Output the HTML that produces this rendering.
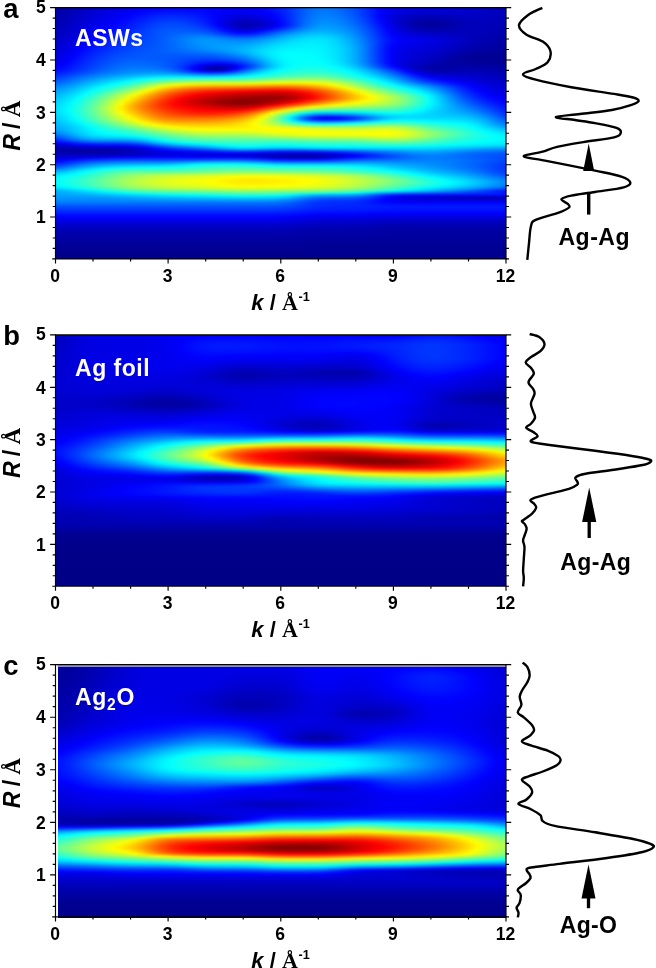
<!DOCTYPE html>
<html><head><meta charset="utf-8"><title>WT-EXAFS</title>
<style>
html,body{margin:0;padding:0;background:#fff}
body{width:656px;height:968px;position:relative;overflow:hidden;font-family:"Liberation Sans",Arial,sans-serif}
.hm{position:absolute;overflow:hidden;background:#00008f}
.hm .in{position:absolute;left:0;right:0;top:-6px;filter:url(#vb)}
.hm i{display:block;height:2px;width:100%}
svg{position:absolute;left:0;top:0}
text{font-family:"Liberation Sans",Arial,sans-serif;font-weight:bold;fill:#000}
.tk{font-size:17.5px}
.ti{font-size:22px}
.an{font-size:23px}
.pl{font-size:27.4px}
.se{font-family:"Liberation Serif","Times New Roman",serif}
</style></head><body>
<div class="hm" style="left:56px;top:8px;width:450px;height:251px"><div class="in">
<i style="background:linear-gradient(90deg,#0000a5,#0000ab,#0000b1,#0000b9,#0000c0,#0000c8,#0000ce,#0000d5,#0000da,#0000e0,#0000e4,#0000e9,#0000ed,#0000f2,#0000f6,#0000fa,#0000fd,#0001ff,#0003ff,#0004ff,#0005ff,#0005ff,#0005ff,#0005ff,#0005ff,#0004ff,#0003ff,#0002ff,#0000ff,#0000fe,#0000fd,#0000fd,#0000fe,#0001ff,#0005ff,#000bff,#0012ff,#001bff,#0027ff,#0035ff,#0046ff,#0056ff,#0064ff,#006eff,#0074ff,#0074ff,#0070ff,#0069ff,#0060ff,#0055ff,#0047ff,#0038ff,#0027ff,#0016ff,#0007ff,#0000f9,#0000f0,#0000ea,#0000e7,#0000e6,#0000e6,#0000e5,#0000e4,#0000e3,#0000e1,#0000df,#0000dc,#0000d8,#0000d4,#0000d1,#0000cd,#0000ca,#0000c7,#0000c4,#0000c1,#0000bf)"></i>
<i style="background:linear-gradient(90deg,#0000a5,#0000ab,#0000b1,#0000b9,#0000c0,#0000c8,#0000ce,#0000d5,#0000da,#0000e0,#0000e4,#0000e9,#0000ed,#0000f2,#0000f6,#0000fa,#0000fd,#0001ff,#0003ff,#0004ff,#0005ff,#0005ff,#0005ff,#0005ff,#0005ff,#0004ff,#0003ff,#0002ff,#0000ff,#0000fe,#0000fd,#0000fd,#0000fe,#0001ff,#0005ff,#000bff,#0012ff,#001bff,#0027ff,#0035ff,#0046ff,#0056ff,#0064ff,#006eff,#0074ff,#0074ff,#0070ff,#0069ff,#0060ff,#0055ff,#0047ff,#0038ff,#0027ff,#0016ff,#0007ff,#0000f9,#0000f0,#0000ea,#0000e7,#0000e6,#0000e6,#0000e5,#0000e4,#0000e3,#0000e1,#0000df,#0000dc,#0000d8,#0000d4,#0000d1,#0000cd,#0000ca,#0000c7,#0000c4,#0000c1,#0000bf)"></i>
<i style="background:linear-gradient(90deg,#0000a5,#0000ab,#0000b1,#0000b9,#0000c0,#0000c8,#0000ce,#0000d5,#0000da,#0000e0,#0000e4,#0000e9,#0000ed,#0000f2,#0000f6,#0000fa,#0000fd,#0001ff,#0003ff,#0004ff,#0005ff,#0005ff,#0005ff,#0005ff,#0005ff,#0004ff,#0003ff,#0002ff,#0000ff,#0000fe,#0000fd,#0000fd,#0000fe,#0001ff,#0005ff,#000bff,#0012ff,#001bff,#0027ff,#0035ff,#0046ff,#0056ff,#0064ff,#006eff,#0074ff,#0074ff,#0070ff,#0069ff,#0060ff,#0055ff,#0047ff,#0038ff,#0027ff,#0016ff,#0007ff,#0000f9,#0000f0,#0000ea,#0000e7,#0000e6,#0000e6,#0000e5,#0000e4,#0000e3,#0000e1,#0000df,#0000dc,#0000d8,#0000d4,#0000d1,#0000cd,#0000ca,#0000c7,#0000c4,#0000c1,#0000bf)"></i>
<i style="background:linear-gradient(90deg,#0000a5,#0000ab,#0000b1,#0000b9,#0000c0,#0000c8,#0000ce,#0000d5,#0000da,#0000e0,#0000e4,#0000e9,#0000ed,#0000f2,#0000f6,#0000fa,#0000fd,#0001ff,#0003ff,#0004ff,#0005ff,#0005ff,#0005ff,#0005ff,#0005ff,#0004ff,#0003ff,#0002ff,#0000ff,#0000fe,#0000fd,#0000fd,#0000fe,#0001ff,#0005ff,#000bff,#0012ff,#001bff,#0027ff,#0035ff,#0046ff,#0056ff,#0064ff,#006eff,#0074ff,#0074ff,#0070ff,#0069ff,#0060ff,#0055ff,#0047ff,#0038ff,#0027ff,#0016ff,#0007ff,#0000f9,#0000f0,#0000ea,#0000e7,#0000e6,#0000e6,#0000e5,#0000e4,#0000e3,#0000e1,#0000df,#0000dc,#0000d8,#0000d4,#0000d1,#0000cd,#0000ca,#0000c7,#0000c4,#0000c1,#0000bf)"></i>
<i style="background:linear-gradient(90deg,#0000a7,#0000ac,#0000b3,#0000ba,#0000c2,#0000ca,#0000d1,#0000d7,#0000dd,#0000e3,#0000e8,#0000ee,#0000f3,#0000f8,#0000fd,#0003ff,#0007ff,#000aff,#000dff,#000eff,#000eff,#000eff,#000cff,#000bff,#0008ff,#0006ff,#0003ff,#0000fe,#0000fb,#0000f8,#0000f5,#0000f4,#0000f5,#0000f8,#0000fd,#0004ff,#000cff,#0017ff,#0024ff,#0034ff,#0045ff,#0056ff,#0066ff,#0071ff,#0077ff,#0077ff,#0074ff,#006dff,#0063ff,#0058ff,#004aff,#003aff,#0028ff,#0016ff,#0004ff,#0000f5,#0000ea,#0000e2,#0000de,#0000db,#0000d9,#0000d8,#0000d7,#0000d6,#0000d4,#0000d3,#0000d1,#0000d0,#0000ce,#0000cc,#0000ca,#0000c7,#0000c5,#0000c2,#0000c0,#0000be)"></i>
<i style="background:linear-gradient(90deg,#0000a8,#0000ae,#0000b5,#0000bc,#0000c4,#0000cc,#0000d3,#0000da,#0000e0,#0000e6,#0000ec,#0000f2,#0000f8,#0000fe,#0005ff,#000aff,#0010ff,#0014ff,#0017ff,#0018ff,#0018ff,#0016ff,#0014ff,#0011ff,#000dff,#0008ff,#0003ff,#0000fc,#0000f7,#0000f2,#0000ee,#0000ec,#0000ed,#0000ef,#0000f5,#0000fc,#0006ff,#0012ff,#0021ff,#0032ff,#0045ff,#0057ff,#0068ff,#0073ff,#007aff,#007bff,#0077ff,#0070ff,#0067ff,#005bff,#004dff,#003cff,#0029ff,#0016ff,#0003ff,#0000f1,#0000e4,#0000db,#0000d4,#0000d0,#0000cd,#0000cb,#0000ca,#0000c9,#0000c9,#0000c9,#0000c9,#0000c9,#0000c9,#0000c8,#0000c7,#0000c5,#0000c3,#0000c1,#0000be,#0000bc)"></i>
<i style="background:linear-gradient(90deg,#0000aa,#0000af,#0000b6,#0000be,#0000c6,#0000ce,#0000d6,#0000dd,#0000e4,#0000ea,#0000f0,#0000f6,#0000fd,#0004ff,#000bff,#0012ff,#0018ff,#001dff,#0020ff,#0022ff,#0021ff,#001fff,#001cff,#0017ff,#0012ff,#000bff,#0004ff,#0000fb,#0000f3,#0000ec,#0000e6,#0000e3,#0000e3,#0000e6,#0000ec,#0000f5,#0000ff,#000eff,#001eff,#0030ff,#0045ff,#0058ff,#006aff,#0076ff,#007dff,#007eff,#007bff,#0074ff,#006bff,#005fff,#0050ff,#003fff,#002bff,#0017ff,#0002ff,#0000ef,#0000e1,#0000d5,#0000cd,#0000c7,#0000c3,#0000c1,#0000bf,#0000bf,#0000bf,#0000c0,#0000c2,#0000c3,#0000c4,#0000c4,#0000c4,#0000c3,#0000c1,#0000bf,#0000bd,#0000bb)"></i>
<i style="background:linear-gradient(90deg,#0000ab,#0000b1,#0000b8,#0000c0,#0000c9,#0000d1,#0000d9,#0000e0,#0000e7,#0000ee,#0000f4,#0000fb,#0003ff,#000aff,#0011ff,#0019ff,#0020ff,#0025ff,#0029ff,#002bff,#002aff,#0028ff,#0023ff,#001eff,#0017ff,#000fff,#0006ff,#0000fa,#0000ef,#0000e6,#0000de,#0000da,#0000da,#0000dd,#0000e4,#0000ed,#0000f9,#0009ff,#001bff,#002fff,#0045ff,#005aff,#006cff,#0079ff,#0081ff,#0083ff,#007fff,#0079ff,#006fff,#0063ff,#0054ff,#0042ff,#002eff,#0018ff,#0003ff,#0000ef,#0000de,#0000d2,#0000c8,#0000c1,#0000bb,#0000b8,#0000b6,#0000b5,#0000b6,#0000b9,#0000bb,#0000be,#0000c0,#0000c1,#0000c1,#0000c0,#0000bf,#0000bd,#0000bb,#0000b9)"></i>
<i style="background:linear-gradient(90deg,#0000ad,#0000b3,#0000ba,#0000c3,#0000cb,#0000d4,#0000dc,#0000e3,#0000ea,#0000f1,#0000f8,#0000ff,#0008ff,#000fff,#0018ff,#0020ff,#0027ff,#002eff,#0032ff,#0033ff,#0033ff,#0030ff,#002bff,#0025ff,#001dff,#0013ff,#0007ff,#0000f8,#0000ea,#0000dd,#0000d3,#0000ce,#0000cd,#0000d1,#0000d9,#0000e4,#0000f2,#0004ff,#0017ff,#002dff,#0045ff,#005bff,#006fff,#007dff,#0085ff,#0087ff,#0084ff,#007dff,#0074ff,#0067ff,#0058ff,#0046ff,#0032ff,#001bff,#0005ff,#0000ef,#0000dd,#0000cf,#0000c3,#0000ba,#0000b4,#0000af,#0000ad,#0000ac,#0000ae,#0000b1,#0000b5,#0000b9,#0000bc,#0000be,#0000be,#0000be,#0000bd,#0000bb,#0000b9,#0000b8)"></i>
<i style="background:linear-gradient(90deg,#0000af,#0000b5,#0000bd,#0000c5,#0000ce,#0000d6,#0000df,#0000e6,#0000ee,#0000f5,#0000fc,#0005ff,#000cff,#0015ff,#001dff,#0026ff,#002eff,#0035ff,#003aff,#003cff,#003bff,#0038ff,#0033ff,#002cff,#0023ff,#0017ff,#0009ff,#0000f7,#0000e5,#0000d4,#0000c8,#0000c0,#0000be,#0000c3,#0000cc,#0000d9,#0000ea,#0000fd,#0014ff,#002cff,#0045ff,#005dff,#0072ff,#0081ff,#0089ff,#008cff,#0089ff,#0082ff,#0079ff,#006cff,#005dff,#004bff,#0036ff,#001fff,#0008ff,#0000f1,#0000de,#0000ce,#0000c0,#0000b6,#0000ad,#0000a7,#0000a4,#0000a4,#0000a6,#0000ab,#0000b0,#0000b5,#0000b9,#0000bb,#0000bc,#0000bc,#0000bb,#0000ba,#0000b8,#0000b6)"></i>
<i style="background:linear-gradient(90deg,#0000b1,#0000b7,#0000bf,#0000c8,#0000d0,#0000d9,#0000e2,#0000ea,#0000f1,#0000f9,#0001ff,#0009ff,#0011ff,#001aff,#0023ff,#002cff,#0035ff,#003cff,#0041ff,#0043ff,#0043ff,#0040ff,#003bff,#0034ff,#002aff,#001dff,#000dff,#0000f8,#0000e3,#0000cf,#0000bf,#0000b6,#0000b3,#0000b8,#0000c2,#0000d1,#0000e3,#0000f7,#0010ff,#002aff,#0045ff,#005fff,#0075ff,#0085ff,#008eff,#0090ff,#008eff,#0087ff,#007eff,#0072ff,#0063ff,#0051ff,#003bff,#0024ff,#000dff,#0000f5,#0000e1,#0000cf,#0000c0,#0000b3,#0000a9,#0000a2,#00009f,#00009e,#0000a1,#0000a6,#0000ac,#0000b2,#0000b6,#0000b9,#0000bb,#0000bb,#0000ba,#0000b8,#0000b6,#0000b5)"></i>
<i style="background:linear-gradient(90deg,#0000b3,#0000ba,#0000c1,#0000ca,#0000d3,#0000dc,#0000e5,#0000ed,#0000f5,#0000fd,#0005ff,#000dff,#0016ff,#001fff,#0028ff,#0032ff,#003bff,#0042ff,#0048ff,#004aff,#004aff,#0048ff,#0043ff,#003cff,#0032ff,#0025ff,#0014ff,#0000fd,#0000e6,#0000d0,#0000bf,#0000b4,#0000b1,#0000b5,#0000bf,#0000ce,#0000e1,#0000f6,#0010ff,#002aff,#0046ff,#0061ff,#0078ff,#0089ff,#0093ff,#0096ff,#0093ff,#008dff,#0084ff,#0078ff,#0069ff,#0057ff,#0042ff,#002aff,#0012ff,#0000fa,#0000e5,#0000d2,#0000c2,#0000b5,#0000aa,#0000a2,#00009e,#00009d,#0000a0,#0000a5,#0000ab,#0000b1,#0000b6,#0000b9,#0000ba,#0000ba,#0000b9,#0000b7,#0000b5,#0000b3)"></i>
<i style="background:linear-gradient(90deg,#0000b6,#0000bc,#0000c4,#0000cd,#0000d6,#0000df,#0000e8,#0000f1,#0000f9,#0002ff,#0009ff,#0012ff,#001aff,#0023ff,#002dff,#0037ff,#0040ff,#0048ff,#004dff,#0050ff,#0051ff,#004fff,#004bff,#0045ff,#003cff,#002fff,#001eff,#0009ff,#0000f1,#0000db,#0000c9,#0000be,#0000bb,#0000c0,#0000cb,#0000db,#0000ee,#0005ff,#001dff,#0037ff,#0052ff,#006cff,#0081ff,#0091ff,#009aff,#009cff,#009aff,#0093ff,#008aff,#007eff,#006fff,#005dff,#0047ff,#0030ff,#0018ff,#0000ff,#0000ea,#0000d8,#0000c8,#0000ba,#0000af,#0000a8,#0000a3,#0000a2,#0000a4,#0000a8,#0000ae,#0000b3,#0000b7,#0000b9,#0000ba,#0000ba,#0000b9,#0000b7,#0000b4,#0000b2)"></i>
<i style="background:linear-gradient(90deg,#0000b8,#0000bf,#0000c7,#0000d0,#0000d9,#0000e3,#0000ec,#0000f4,#0000fd,#0006ff,#000eff,#0016ff,#001eff,#0028ff,#0032ff,#003cff,#0045ff,#004dff,#0052ff,#0055ff,#0056ff,#0055ff,#0052ff,#004eff,#0046ff,#003bff,#002cff,#0018ff,#0002ff,#0000ec,#0000db,#0000d1,#0000d0,#0000d6,#0000e4,#0000f5,#000bff,#0021ff,#0038ff,#0050ff,#0068ff,#007dff,#008fff,#009cff,#00a3ff,#00a4ff,#00a1ff,#009aff,#0090ff,#0084ff,#0075ff,#0062ff,#004dff,#0035ff,#001dff,#0005ff,#0000f0,#0000de,#0000cf,#0000c3,#0000b9,#0000b2,#0000ae,#0000ac,#0000ad,#0000b0,#0000b3,#0000b6,#0000b9,#0000ba,#0000ba,#0000b9,#0000b7,#0000b5,#0000b3,#0000b0)"></i>
<i style="background:linear-gradient(90deg,#0000bb,#0000c1,#0000ca,#0000d3,#0000dd,#0000e6,#0000ef,#0000f8,#0001ff,#000aff,#0012ff,#001aff,#0023ff,#002cff,#0036ff,#0040ff,#0049ff,#0051ff,#0056ff,#005aff,#005bff,#005bff,#005aff,#0057ff,#0052ff,#0049ff,#003cff,#002aff,#0016ff,#0003ff,#0000f3,#0000ea,#0000eb,#0000f3,#0004ff,#0018ff,#002eff,#0044ff,#005aff,#006fff,#0082ff,#0093ff,#00a0ff,#00a9ff,#00aeff,#00adff,#00a9ff,#00a2ff,#0098ff,#008bff,#007bff,#0067ff,#0051ff,#0039ff,#0021ff,#000aff,#0000f5,#0000e4,#0000d7,#0000cc,#0000c4,#0000bd,#0000b9,#0000b8,#0000b7,#0000b8,#0000b9,#0000ba,#0000bb,#0000bb,#0000ba,#0000b9,#0000b6,#0000b4,#0000b1,#0000af)"></i>
<i style="background:linear-gradient(90deg,#0000be,#0000c4,#0000cd,#0000d6,#0000e0,#0000ea,#0000f3,#0000fc,#0005ff,#000eff,#0016ff,#001eff,#0027ff,#0030ff,#0039ff,#0042ff,#004bff,#0053ff,#0059ff,#005eff,#0061ff,#0063ff,#0064ff,#0064ff,#0061ff,#005bff,#0050ff,#0040ff,#002eff,#001cff,#000eff,#0007ff,#0008ff,#0013ff,#0024ff,#003aff,#0051ff,#0067ff,#007bff,#008dff,#009dff,#00aaff,#00b3ff,#00baff,#00bcff,#00baff,#00b4ff,#00acff,#00a0ff,#0092ff,#0081ff,#006dff,#0056ff,#003dff,#0025ff,#000fff,#0000fa,#0000eb,#0000df,#0000d5,#0000ce,#0000c8,#0000c4,#0000c1,#0000c0,#0000bf,#0000be,#0000bd,#0000bd,#0000bb,#0000ba,#0000b7,#0000b5,#0000b2,#0000af,#0000ad)"></i>
<i style="background:linear-gradient(90deg,#0000c0,#0000c7,#0000d0,#0000d9,#0000e3,#0000ed,#0000f7,#0001ff,#0009ff,#0012ff,#001aff,#0022ff,#002aff,#0033ff,#003bff,#0043ff,#004cff,#0053ff,#005bff,#0061ff,#0068ff,#006dff,#0071ff,#0074ff,#0074ff,#0070ff,#0068ff,#005bff,#004cff,#003dff,#0031ff,#002cff,#002eff,#0038ff,#0048ff,#005cff,#0070ff,#0084ff,#0096ff,#00a5ff,#00b3ff,#00bdff,#00c5ff,#00caff,#00cbff,#00c8ff,#00c1ff,#00b7ff,#00aaff,#009aff,#0088ff,#0073ff,#005bff,#0042ff,#0029ff,#0013ff,#0001ff,#0000f2,#0000e8,#0000e0,#0000d9,#0000d4,#0000d0,#0000cc,#0000c9,#0000c6,#0000c4,#0000c1,#0000be,#0000bc,#0000b9,#0000b6,#0000b3,#0000b0,#0000ad,#0000ab)"></i>
<i style="background:linear-gradient(90deg,#0000c3,#0000ca,#0000d3,#0000dc,#0000e7,#0000f1,#0000fa,#0005ff,#000dff,#0016ff,#001eff,#0026ff,#002eff,#0036ff,#003dff,#0045ff,#004cff,#0054ff,#005cff,#0064ff,#006cff,#0075ff,#007cff,#0082ff,#0085ff,#0085ff,#0080ff,#0077ff,#006dff,#0062ff,#005aff,#0056ff,#0058ff,#0060ff,#006dff,#007cff,#008cff,#009cff,#00abff,#00b8ff,#00c3ff,#00cdff,#00d4ff,#00d8ff,#00d8ff,#00d4ff,#00cdff,#00c1ff,#00b3ff,#00a2ff,#008eff,#0078ff,#005fff,#0046ff,#002dff,#0018ff,#0006ff,#0000f9,#0000f0,#0000e9,#0000e4,#0000e0,#0000dc,#0000d7,#0000d3,#0000ce,#0000c9,#0000c5,#0000c0,#0000bc,#0000b8,#0000b4,#0000b1,#0000ae,#0000ab,#0000a9)"></i>
<i style="background:linear-gradient(90deg,#0000c6,#0000cd,#0000d6,#0000e0,#0000ea,#0000f5,#0000fe,#0009ff,#0012ff,#001aff,#0022ff,#002aff,#0032ff,#0039ff,#0040ff,#0047ff,#004eff,#0055ff,#005dff,#0066ff,#0070ff,#0079ff,#0083ff,#008bff,#0090ff,#0093ff,#0091ff,#008dff,#0087ff,#0080ff,#007cff,#007aff,#007cff,#0083ff,#008cff,#0098ff,#00a5ff,#00b1ff,#00bdff,#00c8ff,#00d2ff,#00daff,#00e0ff,#00e3ff,#00e3ff,#00deff,#00d6ff,#00caff,#00baff,#00a9ff,#0094ff,#007dff,#0063ff,#0049ff,#0030ff,#001aff,#000aff,#0000fd,#0000f5,#0000f0,#0000ec,#0000e8,#0000e4,#0000df,#0000da,#0000d4,#0000ce,#0000c8,#0000c2,#0000bd,#0000b8,#0000b3,#0000af,#0000ac,#0000a9,#0000a7)"></i>
<i style="background:linear-gradient(90deg,#0000c8,#0000d0,#0000d9,#0000e3,#0000ee,#0000f9,#0004ff,#000dff,#0016ff,#001eff,#0026ff,#002eff,#0035ff,#003cff,#0043ff,#0049ff,#0050ff,#0056ff,#005eff,#0066ff,#0070ff,#007aff,#0084ff,#008dff,#0093ff,#0097ff,#0097ff,#0095ff,#0092ff,#008fff,#008dff,#008dff,#0090ff,#0097ff,#00a0ff,#00abff,#00b7ff,#00c2ff,#00ccff,#00d5ff,#00ddff,#00e3ff,#00e8ff,#00e9ff,#00e8ff,#00e3ff,#00dbff,#00ceff,#00bfff,#00adff,#0098ff,#0080ff,#0066ff,#004bff,#0032ff,#001cff,#000bff,#0000fe,#0000f6,#0000f1,#0000ed,#0000e9,#0000e5,#0000e1,#0000db,#0000d5,#0000cf,#0000c8,#0000c2,#0000bc,#0000b7,#0000b2,#0000ae,#0000aa,#0000a7,#0000a5)"></i>
<i style="background:linear-gradient(90deg,#0000cb,#0000d3,#0000dc,#0000e7,#0000f2,#0000fd,#0008ff,#0011ff,#001aff,#0023ff,#002bff,#0032ff,#0039ff,#003fff,#0046ff,#004bff,#0051ff,#0057ff,#005eff,#0067ff,#0070ff,#007aff,#0083ff,#008cff,#0093ff,#0097ff,#0099ff,#0099ff,#0099ff,#0098ff,#0098ff,#009aff,#009fff,#00a6ff,#00afff,#00baff,#00c5ff,#00d0ff,#00d8ff,#00e0ff,#00e5ff,#00eaff,#00edff,#00eeff,#00ecff,#00e7ff,#00deff,#00d2ff,#00c3ff,#00b2ff,#009cff,#0084ff,#0069ff,#004cff,#0031ff,#001aff,#0009ff,#0000fb,#0000f3,#0000ee,#0000ea,#0000e7,#0000e3,#0000de,#0000d9,#0000d3,#0000cd,#0000c6,#0000c0,#0000ba,#0000b5,#0000b0,#0000ac,#0000a8,#0000a5,#0000a3)"></i>
<i style="background:linear-gradient(90deg,#0000ce,#0000d6,#0000e0,#0000eb,#0000f6,#0002ff,#000cff,#0016ff,#001fff,#0027ff,#002fff,#0036ff,#003dff,#0043ff,#0048ff,#004eff,#0053ff,#0058ff,#005fff,#0066ff,#006eff,#0078ff,#0081ff,#0089ff,#0090ff,#0096ff,#0099ff,#009cff,#009dff,#009fff,#00a1ff,#00a5ff,#00abff,#00b3ff,#00bdff,#00c8ff,#00d2ff,#00dbff,#00e2ff,#00e8ff,#00ecff,#00efff,#00f1ff,#00f1ff,#00eeff,#00e9ff,#00e1ff,#00d6ff,#00c7ff,#00b5ff,#00a0ff,#0087ff,#006aff,#004cff,#0030ff,#0017ff,#0005ff,#0000f7,#0000ef,#0000e9,#0000e6,#0000e2,#0000df,#0000da,#0000d5,#0000cf,#0000c9,#0000c2,#0000bc,#0000b7,#0000b1,#0000ad,#0000a9,#0000a5,#0000a2,#0000a0)"></i>
<i style="background:linear-gradient(90deg,#0000d0,#0000d9,#0000e3,#0000ef,#0000fa,#0007ff,#0011ff,#001bff,#0024ff,#002cff,#0033ff,#003aff,#0041ff,#0046ff,#004bff,#0050ff,#0055ff,#0059ff,#005fff,#0065ff,#006dff,#0075ff,#007dff,#0085ff,#008dff,#0093ff,#0098ff,#009cff,#00a0ff,#00a4ff,#00a8ff,#00aeff,#00b5ff,#00beff,#00c8ff,#00d3ff,#00dcff,#00e4ff,#00eaff,#00eeff,#00f1ff,#00f3ff,#00f4ff,#00f3ff,#00f1ff,#00ecff,#00e4ff,#00d9ff,#00caff,#00b9ff,#00a3ff,#0089ff,#006bff,#004cff,#002eff,#0014ff,#0000ff,#0000f2,#0000e9,#0000e4,#0000e0,#0000dd,#0000da,#0000d5,#0000d0,#0000ca,#0000c4,#0000bd,#0000b7,#0000b2,#0000ad,#0000a9,#0000a5,#0000a2,#00009f,#00009e)"></i>
<i style="background:linear-gradient(90deg,#0000d3,#0000dc,#0000e7,#0000f3,#0000ff,#000bff,#0016ff,#0020ff,#0028ff,#0031ff,#0038ff,#003fff,#0045ff,#004aff,#004eff,#0052ff,#0056ff,#005bff,#005fff,#0065ff,#006bff,#0072ff,#0079ff,#0080ff,#0088ff,#008eff,#0095ff,#009aff,#00a0ff,#00a5ff,#00abff,#00b3ff,#00bcff,#00c6ff,#00d1ff,#00dcff,#00e5ff,#00ecff,#00f1ff,#00f4ff,#00f6ff,#00f7ff,#00f7ff,#00f6ff,#00f3ff,#00eeff,#00e6ff,#00dbff,#00cdff,#00bbff,#00a5ff,#008bff,#006cff,#004bff,#002cff,#0011ff,#0000fc,#0000ee,#0000e5,#0000df,#0000dc,#0000d8,#0000d4,#0000d0,#0000cb,#0000c5,#0000be,#0000b8,#0000b2,#0000ad,#0000a8,#0000a5,#0000a1,#00009f,#00009c,#00009b)"></i>
<i style="background:linear-gradient(90deg,#0000d6,#0000df,#0000ea,#0000f7,#0004ff,#0010ff,#001bff,#0024ff,#002dff,#0036ff,#003dff,#0043ff,#0049ff,#004eff,#0052ff,#0055ff,#0058ff,#005cff,#005fff,#0063ff,#0067ff,#006bff,#0070ff,#0076ff,#007bff,#0082ff,#0088ff,#008fff,#0097ff,#009fff,#00a9ff,#00b3ff,#00beff,#00cbff,#00d7ff,#00e2ff,#00ecff,#00f3ff,#00f7ff,#00faff,#00faff,#00faff,#00faff,#00f8ff,#00f5ff,#00efff,#00e7ff,#00dcff,#00ceff,#00bcff,#00a6ff,#008bff,#006cff,#004bff,#002cff,#0010ff,#0000fa,#0000ec,#0000e2,#0000dc,#0000d8,#0000d4,#0000d0,#0000cc,#0000c6,#0000c0,#0000b9,#0000b3,#0000ad,#0000a8,#0000a4,#0000a1,#00009e,#00009c,#00009a,#000099)"></i>
<i style="background:linear-gradient(90deg,#0000d9,#0000e3,#0000ee,#0000fb,#0008ff,#0014ff,#0020ff,#002aff,#0033ff,#003bff,#0042ff,#0048ff,#004dff,#0051ff,#0054ff,#0057ff,#0059ff,#005bff,#005dff,#005fff,#0061ff,#0063ff,#0065ff,#0068ff,#006bff,#0070ff,#0076ff,#007dff,#0086ff,#0091ff,#009cff,#00a9ff,#00b7ff,#00c6ff,#00d5ff,#00e3ff,#00eeff,#00f7ff,#00fcff,#00feff,#00ffff,#00feff,#00fdff,#00fbff,#00f7ff,#00f0ff,#00e8ff,#00ddff,#00ceff,#00bcff,#00a6ff,#008bff,#006dff,#004cff,#002cff,#0010ff,#0000fa,#0000eb,#0000e1,#0000db,#0000d6,#0000d2,#0000cd,#0000c7,#0000c1,#0000ba,#0000b3,#0000ad,#0000a7,#0000a3,#00009f,#00009c,#00009a,#000098,#000097,#000097)"></i>
<i style="background:linear-gradient(90deg,#0000dd,#0000e6,#0000f2,#0000ff,#000dff,#0019ff,#0025ff,#002fff,#0038ff,#0041ff,#0048ff,#004dff,#0052ff,#0054ff,#0056ff,#0058ff,#0058ff,#0059ff,#0059ff,#005aff,#005aff,#005aff,#005bff,#005bff,#005dff,#005fff,#0064ff,#006aff,#0072ff,#007dff,#0089ff,#0098ff,#00a8ff,#00baff,#00ccff,#00deff,#00ecff,#00f7ff,#00fdff,#01fffe,#02fffd,#02fffd,#00ffff,#00fcff,#00f8ff,#00f2ff,#00e9ff,#00ddff,#00cfff,#00bdff,#00a6ff,#008cff,#006dff,#004cff,#002cff,#0011ff,#0000fa,#0000ea,#0000e0,#0000d9,#0000d4,#0000cf,#0000c9,#0000c3,#0000bc,#0000b5,#0000ad,#0000a6,#0000a1,#00009d,#00009a,#000098,#000097,#000096,#000095,#000095)"></i>
<i style="background:linear-gradient(90deg,#0000e0,#0000ea,#0000f6,#0004ff,#0012ff,#001eff,#002aff,#0034ff,#003eff,#0046ff,#004dff,#0052ff,#0056ff,#0058ff,#0059ff,#0059ff,#0059ff,#0058ff,#0057ff,#0056ff,#0054ff,#0052ff,#0050ff,#004fff,#004fff,#004fff,#0052ff,#0057ff,#005eff,#0068ff,#0074ff,#0082ff,#0094ff,#00a8ff,#00beff,#00d3ff,#00e6ff,#00f3ff,#00fbff,#01fffe,#02fffd,#02fffd,#01fffe,#00feff,#00f9ff,#00f3ff,#00eaff,#00dfff,#00d0ff,#00bdff,#00a7ff,#008cff,#006dff,#004cff,#002dff,#0011ff,#0000fa,#0000ea,#0000df,#0000d7,#0000d1,#0000cc,#0000c6,#0000bf,#0000b8,#0000b0,#0000a8,#0000a1,#00009c,#000098,#000096,#000095,#000095,#000094,#000094,#000094)"></i>
<i style="background:linear-gradient(90deg,#0000e4,#0000ee,#0000fa,#0009ff,#0016ff,#0023ff,#002eff,#0039ff,#0042ff,#004bff,#0052ff,#0057ff,#005bff,#005dff,#005dff,#005dff,#005bff,#005aff,#0057ff,#0054ff,#0050ff,#004cff,#0048ff,#0043ff,#0040ff,#003fff,#0040ff,#0043ff,#0049ff,#0051ff,#005cff,#006bff,#007eff,#0095ff,#00aeff,#00c7ff,#00ddff,#00eeff,#00f8ff,#00feff,#01fffe,#02fffd,#01fffe,#00ffff,#00fbff,#00f5ff,#00ecff,#00e0ff,#00d1ff,#00beff,#00a7ff,#008cff,#006dff,#004dff,#002dff,#0011ff,#0000f9,#0000e9,#0000dd,#0000d5,#0000cf,#0000c9,#0000c3,#0000bc,#0000b4,#0000ac,#0000a5,#00009f,#00009a,#000097,#000095,#000094,#000094,#000094,#000094,#000094)"></i>
<i style="background:linear-gradient(90deg,#0000e9,#0000f2,#0000ff,#000dff,#001bff,#0028ff,#0033ff,#003eff,#0047ff,#0050ff,#0057ff,#005cff,#0060ff,#0062ff,#0062ff,#0061ff,#005fff,#005cff,#0059ff,#0054ff,#004eff,#0046ff,#003fff,#0037ff,#0031ff,#002cff,#002aff,#002cff,#0031ff,#0039ff,#0045ff,#0055ff,#006aff,#0083ff,#009fff,#00bbff,#00d4ff,#00e8ff,#00f5ff,#00fcff,#01fffe,#03fffc,#03fffc,#02fffd,#00fdff,#00f7ff,#00eeff,#00e2ff,#00d2ff,#00bfff,#00a8ff,#008dff,#006eff,#004dff,#002dff,#0011ff,#0000f9,#0000e8,#0000db,#0000d2,#0000cb,#0000c5,#0000bf,#0000b8,#0000b2,#0000ab,#0000a5,#0000a0,#00009c,#000099,#000098,#000097,#000096,#000096,#000095,#000095)"></i>
<i style="background:linear-gradient(90deg,#0000ed,#0000f7,#0004ff,#0012ff,#001fff,#002cff,#0038ff,#0043ff,#004cff,#0055ff,#005cff,#0062ff,#0065ff,#0067ff,#0067ff,#0066ff,#0063ff,#0060ff,#005bff,#0054ff,#004cff,#0041ff,#0035ff,#0029ff,#001cff,#0012ff,#000bff,#0009ff,#000eff,#0018ff,#0027ff,#003bff,#0052ff,#006fff,#008eff,#00aeff,#00cbff,#00e2ff,#00f2ff,#00fbff,#02fffd,#05fffa,#06fff9,#05fffa,#02fffd,#00fbff,#00f2ff,#00e6ff,#00d6ff,#00c3ff,#00acff,#0091ff,#0072ff,#0052ff,#0031ff,#0015ff,#0000fb,#0000e9,#0000da,#0000cf,#0000c7,#0000bf,#0000b9,#0000b3,#0000ae,#0000aa,#0000a6,#0000a3,#0000a0,#00009e,#00009c,#00009b,#00009a,#000099,#000098,#000098)"></i>
<i style="background:linear-gradient(90deg,#0000f4,#0000fd,#000aff,#0017ff,#0024ff,#0031ff,#003cff,#0047ff,#0051ff,#005aff,#0062ff,#0068ff,#006bff,#006dff,#006dff,#006bff,#0068ff,#0064ff,#005eff,#0055ff,#0049ff,#003bff,#0029ff,#0016ff,#0000ff,#0000eb,#0000dc,#0000d6,#0000dc,#0000ec,#0003ff,#001dff,#003bff,#005bff,#007fff,#00a3ff,#00c3ff,#00ddff,#00efff,#00fbff,#04fffb,#08fff7,#0afff5,#0afff5,#08fff7,#02fffd,#00f9ff,#00edff,#00deff,#00ccff,#00b6ff,#009bff,#007dff,#005dff,#003dff,#001eff,#0004ff,#0000ed,#0000db,#0000cd,#0000c1,#0000b8,#0000b1,#0000ad,#0000aa,#0000a8,#0000a7,#0000a6,#0000a5,#0000a3,#0000a2,#0000a1,#0000a0,#00009e,#00009d,#00009c)"></i>
<i style="background:linear-gradient(90deg,#0000fb,#0005ff,#0010ff,#001dff,#0029ff,#0036ff,#0041ff,#004cff,#0057ff,#0060ff,#0068ff,#006eff,#0072ff,#0074ff,#0074ff,#0072ff,#006eff,#0069ff,#0061ff,#0057ff,#0048ff,#0035ff,#001eff,#0002ff,#0000e4,#0000c7,#0000b1,#0000a9,#0000b2,#0000ca,#0000eb,#0010ff,#0034ff,#0059ff,#007fff,#00a3ff,#00c4ff,#00deff,#00f2ff,#00ffff,#08fff7,#0dfff2,#10ffef,#11ffee,#10ffef,#0bfff4,#03fffc,#00f7ff,#00e9ff,#00d8ff,#00c3ff,#00aaff,#008dff,#006dff,#004cff,#002dff,#0010ff,#0000f6,#0000e0,#0000ce,#0000bf,#0000b3,#0000ab,#0000a7,#0000a6,#0000a6,#0000a7,#0000a8,#0000a9,#0000a9,#0000a9,#0000a8,#0000a6,#0000a5,#0000a3,#0000a1)"></i>
<i style="background:linear-gradient(90deg,#0004ff,#000dff,#0018ff,#0024ff,#0030ff,#003cff,#0048ff,#0053ff,#005eff,#0067ff,#0070ff,#0076ff,#007aff,#007dff,#007dff,#007cff,#0079ff,#0074ff,#006cff,#0061ff,#0050ff,#0039ff,#001eff,#0000fd,#0000dc,#0000bd,#0000a8,#0000a4,#0000b3,#0000d4,#0000fe,#002aff,#0052ff,#0078ff,#009bff,#00bbff,#00d8ff,#00eeff,#00feff,#0bfff4,#12ffed,#17ffe8,#1affe5,#1bffe4,#19ffe6,#15ffea,#0efff1,#04fffb,#00f7ff,#00e7ff,#00d4ff,#00beff,#00a4ff,#0086ff,#0068ff,#0049ff,#002bff,#000fff,#0000f3,#0000db,#0000c7,#0000b7,#0000ad,#0000a7,#0000a6,#0000a7,#0000a9,#0000ac,#0000ae,#0000af,#0000af,#0000ae,#0000ad,#0000aa,#0000a8,#0000a6)"></i>
<i style="background:linear-gradient(90deg,#000eff,#0017ff,#0021ff,#002dff,#0039ff,#0045ff,#0051ff,#005cff,#0067ff,#0071ff,#0079ff,#0080ff,#0085ff,#0088ff,#0089ff,#0089ff,#0088ff,#0085ff,#0080ff,#0076ff,#0066ff,#0051ff,#0037ff,#001aff,#0000fd,#0000e5,#0000d7,#0000d8,#0000ec,#000dff,#0035ff,#005dff,#0082ff,#00a3ff,#00c1ff,#00dbff,#00f1ff,#04fffb,#11ffee,#1affe5,#20ffdf,#24ffdb,#26ffd9,#27ffd8,#25ffda,#21ffde,#1affe5,#11ffee,#06fff9,#00f6ff,#00e6ff,#00d2ff,#00bbff,#00a1ff,#0085ff,#0068ff,#004bff,#002dff,#0010ff,#0000f3,#0000da,#0000c6,#0000b9,#0000b1,#0000ae,#0000af,#0000b1,#0000b4,#0000b5,#0000b6,#0000b6,#0000b5,#0000b3,#0000b0,#0000ad,#0000ab)"></i>
<i style="background:linear-gradient(90deg,#001bff,#0024ff,#002eff,#003bff,#0047ff,#0053ff,#005fff,#0069ff,#0074ff,#007dff,#0085ff,#008cff,#0092ff,#0097ff,#009aff,#009cff,#009eff,#009eff,#009bff,#0096ff,#008cff,#007eff,#006dff,#005aff,#0049ff,#003bff,#0035ff,#0039ff,#0047ff,#005eff,#0079ff,#0095ff,#00b0ff,#00c9ff,#00e0ff,#00f5ff,#08fff7,#17ffe8,#22ffdd,#2affd5,#2fffd0,#33ffcc,#35ffca,#36ffc9,#34ffcb,#30ffcf,#29ffd6,#20ffdf,#14ffeb,#06fff9,#00f5ff,#00e2ff,#00cdff,#00b6ff,#009dff,#0082ff,#0065ff,#0048ff,#002aff,#000cff,#0000f1,#0000dc,#0000cc,#0000c3,#0000bf,#0000be,#0000be,#0000bf,#0000bf,#0000bf,#0000be,#0000bc,#0000b9,#0000b6,#0000b2,#0000af)"></i>
<i style="background:linear-gradient(90deg,#0029ff,#0032ff,#003eff,#004bff,#0057ff,#0064ff,#0070ff,#007bff,#0085ff,#008eff,#0097ff,#009fff,#00a6ff,#00acff,#00b2ff,#00b6ff,#00baff,#00bdff,#00beff,#00bcff,#00b9ff,#00b3ff,#00abff,#00a4ff,#009dff,#0098ff,#0097ff,#009bff,#00a4ff,#00b1ff,#00c0ff,#00d0ff,#00e1ff,#00f1ff,#03fffc,#12ffed,#21ffde,#2dffd2,#36ffc9,#3effc1,#44ffbb,#49ffb6,#4cffb3,#4cffb3,#4bffb4,#46ffb9,#3effc1,#33ffcc,#26ffd9,#17ffe8,#07fff8,#00f4ff,#00e0ff,#00caff,#00b3ff,#009aff,#007fff,#0063ff,#0045ff,#0028ff,#000dff,#0000f5,#0000e4,#0000d9,#0000d3,#0000cf,#0000cd,#0000cb,#0000ca,#0000c8,#0000c5,#0000c2,#0000be,#0000bb,#0000b7,#0000b4)"></i>
<i style="background:linear-gradient(90deg,#0038ff,#0042ff,#004eff,#005cff,#0069ff,#0077ff,#0083ff,#008fff,#009aff,#00a4ff,#00adff,#00b7ff,#00c0ff,#00caff,#00d3ff,#00dcff,#00e4ff,#00eaff,#00efff,#00f1ff,#00f2ff,#00f1ff,#00f0ff,#00eeff,#00ecff,#00ecff,#00edff,#00f0ff,#00f5ff,#00fbff,#04fffb,#0dfff2,#16ffe9,#21ffde,#2cffd3,#36ffc9,#41ffbe,#4affb5,#53ffac,#5affa5,#60ff9f,#65ff9a,#68ff97,#69ff96,#67ff98,#62ff9d,#59ffa6,#4cffb3,#3dffc2,#2dffd2,#1cffe3,#09fff6,#00f4ff,#00e0ff,#00caff,#00b2ff,#0098ff,#007dff,#0060ff,#0043ff,#0028ff,#0010ff,#0000fc,#0000ef,#0000e6,#0000e0,#0000db,#0000d8,#0000d4,#0000d1,#0000cd,#0000c8,#0000c4,#0000c0,#0000bc,#0000b9)"></i>
<i style="background:linear-gradient(90deg,#0048ff,#0052ff,#005fff,#006dff,#007bff,#0089ff,#0097ff,#00a4ff,#00afff,#00bbff,#00c6ff,#00d1ff,#00ddff,#00eaff,#00f7ff,#06fff9,#13ffec,#1fffe0,#29ffd6,#31ffce,#37ffc8,#3cffc3,#3fffc0,#42ffbd,#45ffba,#46ffb9,#48ffb7,#49ffb6,#4affb5,#4bffb4,#4dffb2,#50ffaf,#55ffaa,#5bffa4,#63ff9c,#6cff93,#75ff8a,#7dff82,#84ff7b,#8aff75,#8fff70,#93ff6c,#95ff6a,#95ff6a,#92ff6d,#8bff74,#80ff7f,#71ff8e,#60ff9f,#4dffb2,#39ffc6,#25ffda,#10ffef,#00f9ff,#00e3ff,#00caff,#00b1ff,#0096ff,#0079ff,#005cff,#0041ff,#0029ff,#0016ff,#0006ff,#0000fa,#0000f1,#0000eb,#0000e5,#0000df,#0000da,#0000d5,#0000cf,#0000ca,#0000c6,#0000c2,#0000be)"></i>
<i style="background:linear-gradient(90deg,#0057ff,#0061ff,#006eff,#007dff,#008cff,#009bff,#00aaff,#00b8ff,#00c5ff,#00d2ff,#00dfff,#00ecff,#00fbff,#0cfff3,#1dffe2,#30ffcf,#42ffbd,#53ffac,#62ff9d,#6fff90,#7aff85,#83ff7c,#8aff75,#90ff6f,#93ff6c,#96ff69,#96ff69,#96ff69,#95ff6a,#95ff6a,#95ff6a,#97ff68,#9aff65,#a0ff5f,#a8ff57,#b1ff4e,#b9ff46,#c0ff3f,#c5ff3a,#c8ff37,#cbff34,#ccff33,#ccff33,#caff35,#c4ff3b,#bbff44,#aeff51,#9dff62,#89ff76,#73ff8c,#5dffa2,#46ffb9,#2effd1,#17ffe8,#00fdff,#00e4ff,#00caff,#00afff,#0093ff,#0077ff,#005dff,#0045ff,#0031ff,#0020ff,#0012ff,#0006ff,#0000fc,#0000f3,#0000eb,#0000e4,#0000dd,#0000d7,#0000d1,#0000cc,#0000c7,#0000c4)"></i>
<i style="background:linear-gradient(90deg,#0066ff,#0070ff,#007eff,#008dff,#009cff,#00acff,#00bbff,#00caff,#00d9ff,#00e7ff,#00f6ff,#08fff7,#1affe5,#2effd1,#45ffba,#5dffa2,#76ff89,#8dff72,#a1ff5e,#b2ff4d,#bfff40,#caff35,#d2ff2d,#d9ff26,#ddff22,#dfff20,#e0ff1f,#e0ff1f,#e0ff1f,#dfff20,#dfff20,#e1ff1e,#e4ff1b,#e9ff16,#f0ff0f,#f8ff07,#feff01,#fffb00,#fff800,#fff700,#fff700,#fff900,#fffc00,#fdff02,#f4ff0b,#e8ff17,#d8ff27,#c4ff3b,#aeff51,#95ff6a,#7dff82,#64ff9b,#4bffb4,#32ffcd,#19ffe6,#00feff,#00e5ff,#00caff,#00b0ff,#0096ff,#007dff,#0066ff,#0051ff,#003eff,#002dff,#001eff,#0010ff,#0004ff,#0000f9,#0000ef,#0000e6,#0000de,#0000d7,#0000d2,#0000cd,#0000ca)"></i>
<i style="background:linear-gradient(90deg,#0076ff,#0081ff,#008eff,#009dff,#00adff,#00bdff,#00ceff,#00deff,#00eeff,#00feff,#11ffee,#23ffdc,#38ffc7,#50ffaf,#6bff94,#89ff76,#a6ff59,#c1ff3e,#daff25,#eeff11,#feff01,#fff300,#ffe900,#ffe200,#ffdc00,#ffd800,#ffd500,#ffd400,#ffd300,#ffd100,#ffd000,#ffcd00,#ffca00,#ffc500,#ffbf00,#ffb900,#ffb400,#ffb100,#ffb000,#ffb100,#ffb500,#ffbb00,#ffc200,#ffcd00,#ffda00,#ffea00,#fffe00,#e9ff16,#d0ff2f,#b6ff49,#9cff63,#82ff7d,#68ff97,#4effb1,#34ffcb,#1bffe4,#02fffd,#00e9ff,#00d1ff,#00baff,#00a3ff,#008dff,#0077ff,#0062ff,#004eff,#003aff,#0028ff,#0017ff,#0008ff,#0000fa,#0000ef,#0000e6,#0000de,#0000d7,#0000d2,#0000cf)"></i>
<i style="background:linear-gradient(90deg,#0087ff,#0091ff,#009eff,#00adff,#00beff,#00cfff,#00e0ff,#00f2ff,#04fffb,#17ffe8,#2affd5,#40ffbf,#58ffa7,#73ff8c,#91ff6e,#b2ff4d,#d3ff2c,#f2ff0d,#fff000,#ffd900,#ffc600,#ffb600,#ffa900,#ff9f00,#ff9700,#ff9200,#ff8e00,#ff8b00,#ff8900,#ff8700,#ff8500,#ff8200,#ff7e00,#ff7a00,#ff7500,#ff7000,#ff6d00,#ff6b00,#ff6c00,#ff7000,#ff7700,#ff8000,#ff8c00,#ff9b00,#ffac00,#ffc000,#ffd600,#fff000,#f3ff0c,#d8ff27,#bcff43,#a1ff5e,#86ff79,#6bff94,#51ffae,#38ffc7,#20ffdf,#09fff6,#00f1ff,#00dcff,#00c6ff,#00b1ff,#009bff,#0084ff,#006cff,#0055ff,#003eff,#0029ff,#0017ff,#0007ff,#0000f8,#0000ed,#0000e4,#0000dd,#0000d8,#0000d4)"></i>
<i style="background:linear-gradient(90deg,#0096ff,#00a0ff,#00adff,#00bcff,#00cdff,#00dfff,#00f2ff,#06fff9,#1affe5,#2effd1,#44ffbb,#5cffa3,#77ff88,#95ff6a,#b6ff49,#d9ff26,#fdff02,#ffdf00,#ffc100,#ffa700,#ff9200,#ff8000,#ff7200,#ff6600,#ff5d00,#ff5600,#ff5000,#ff4c00,#ff4900,#ff4600,#ff4300,#ff4000,#ff3c00,#ff3800,#ff3400,#ff3000,#ff2d00,#ff2d00,#ff2f00,#ff3500,#ff3e00,#ff4a00,#ff5900,#ff6a00,#ff7e00,#ff9400,#ffac00,#ffc700,#ffe300,#feff01,#e2ff1d,#c5ff3a,#a9ff56,#8eff71,#73ff8c,#59ffa6,#3fffc0,#27ffd8,#11ffee,#00f9ff,#00e3ff,#00cdff,#00b5ff,#009dff,#0083ff,#0069ff,#004fff,#0038ff,#0023ff,#0011ff,#0002ff,#0000f5,#0000eb,#0000e3,#0000dd,#0000da)"></i>
<i style="background:linear-gradient(90deg,#00a2ff,#00acff,#00b9ff,#00c9ff,#00dbff,#00eeff,#03fffc,#19ffe6,#2fffd0,#46ffb9,#5fffa0,#7aff85,#97ff68,#b7ff48,#daff25,#feff01,#ffdc00,#ffb900,#ff9b00,#ff8100,#ff6b00,#ff5900,#ff4900,#ff3d00,#ff3200,#ff2800,#ff2100,#ff1a00,#ff1400,#ff0f00,#ff0a00,#ff0600,#ff0100,#fc0000,#f80000,#f50000,#f30000,#f30000,#f70000,#fe0000,#ff0a00,#ff1900,#ff2a00,#ff3e00,#ff5300,#ff6b00,#ff8500,#ffa000,#ffbc00,#ffd900,#fff600,#ebff14,#ceff31,#b2ff4d,#95ff6a,#7aff85,#60ff9f,#47ffb8,#2effd1,#16ffe9,#00feff,#00e6ff,#00cdff,#00b2ff,#0096ff,#007aff,#005eff,#0044ff,#002eff,#001aff,#000aff,#0000fc,#0000f1,#0000e9,#0000e3,#0000df)"></i>
<i style="background:linear-gradient(90deg,#00adff,#00b7ff,#00c5ff,#00d5ff,#00e8ff,#00fdff,#14ffeb,#2bffd4,#45ffba,#5fffa0,#7cff83,#99ff66,#b9ff46,#daff25,#fdff02,#ffdd00,#ffba00,#ff9900,#ff7b00,#ff6100,#ff4b00,#ff3800,#ff2800,#ff1a00,#ff0e00,#ff0400,#fa0000,#f20000,#eb0000,#e50000,#e00000,#db0000,#d70000,#d30000,#cf0000,#cd0000,#cc0000,#cd0000,#d20000,#db0000,#e80000,#f80000,#ff0d00,#ff2300,#ff3b00,#ff5400,#ff6e00,#ff8900,#ffa600,#ffc200,#ffde00,#fffa00,#e8ff17,#cdff32,#b2ff4d,#97ff68,#7dff82,#64ff9b,#4affb5,#31ffce,#18ffe7,#00fdff,#00e1ff,#00c5ff,#00a7ff,#0089ff,#006cff,#0050ff,#0038ff,#0024ff,#0013ff,#0005ff,#0000f8,#0000ef,#0000e9,#0000e4)"></i>
<i style="background:linear-gradient(90deg,#00b7ff,#00c2ff,#00d0ff,#00e1ff,#00f5ff,#0cfff3,#24ffdb,#3effc1,#59ffa6,#77ff88,#96ff69,#b6ff49,#d8ff27,#faff05,#ffe100,#ffbf00,#ff9d00,#ff7d00,#ff6100,#ff4800,#ff3200,#ff1f00,#ff0f00,#ff0000,#f30000,#e80000,#de0000,#d50000,#ce0000,#c70000,#c10000,#bc0000,#b80000,#b30000,#b00000,#ae0000,#ad0000,#af0000,#b40000,#bf0000,#ce0000,#e10000,#f70000,#ff1100,#ff2a00,#ff4400,#ff6000,#ff7b00,#ff9700,#ffb300,#ffcd00,#ffe700,#ffff00,#e7ff18,#cfff30,#b7ff48,#9eff61,#84ff7b,#6aff95,#4fffb0,#33ffcc,#17ffe8,#00f8ff,#00d9ff,#00b9ff,#0099ff,#007aff,#005dff,#0043ff,#002eff,#001cff,#000cff,#0000ff,#0000f6,#0000ef,#0000ea)"></i>
<i style="background:linear-gradient(90deg,#00c1ff,#00ccff,#00daff,#00ecff,#02fffd,#19ffe6,#32ffcd,#4dffb2,#6bff94,#8aff75,#abff54,#ccff33,#efff10,#ffed00,#ffcb00,#ffa900,#ff8800,#ff6a00,#ff4e00,#ff3500,#ff1f00,#ff0c00,#f90000,#ea0000,#dd0000,#d10000,#c70000,#be0000,#b60000,#b00000,#aa0000,#a50000,#a10000,#9e0000,#9c0000,#9a0000,#9a0000,#9d0000,#a30000,#af0000,#bf0000,#d40000,#ec0000,#ff0600,#ff2100,#ff3c00,#ff5800,#ff7400,#ff8f00,#ffaa00,#ffc300,#ffdb00,#fff100,#f7ff08,#e1ff1e,#cbff34,#b3ff4c,#9aff65,#7fff80,#63ff9c,#45ffba,#27ffd8,#08fff7,#00e6ff,#00c6ff,#00a5ff,#0085ff,#0068ff,#004eff,#0038ff,#0025ff,#0015ff,#0008ff,#0000fd,#0000f5,#0000f0)"></i>
<i style="background:linear-gradient(90deg,#00c9ff,#00d4ff,#00e3ff,#00f6ff,#0cfff3,#24ffdb,#3effc1,#5affa5,#79ff86,#9aff65,#bcff43,#dfff20,#fffc00,#ffd900,#ffb800,#ff9700,#ff7700,#ff5900,#ff3e00,#ff2500,#ff0f00,#fa0000,#e80000,#d80000,#ca0000,#be0000,#b40000,#ab0000,#a30000,#9d0000,#980000,#960000,#940000,#940000,#950000,#960000,#990000,#9f0000,#a80000,#b50000,#c70000,#dd0000,#f60000,#ff1100,#ff2c00,#ff4700,#ff6200,#ff7d00,#ff9800,#ffb200,#ffca00,#ffe000,#fff600,#f4ff0b,#dfff20,#caff35,#b3ff4c,#9aff65,#80ff7f,#64ff9b,#46ffb9,#28ffd7,#09fff6,#00e9ff,#00caff,#00abff,#008dff,#0071ff,#0058ff,#0042ff,#002fff,#001fff,#0011ff,#0006ff,#0000fc,#0000f6)"></i>
<i style="background:linear-gradient(90deg,#00d0ff,#00dbff,#00eaff,#00fdff,#14ffeb,#2dffd2,#48ffb7,#65ff9a,#86ff79,#a8ff57,#ccff33,#f1ff0e,#ffea00,#ffc700,#ffa500,#ff8500,#ff6700,#ff4a00,#ff3000,#ff1900,#ff0300,#ef0000,#de0000,#cf0000,#c10000,#b50000,#aa0000,#a00000,#980000,#910000,#8c0000,#8a0000,#8a0000,#8d0000,#920000,#990000,#a30000,#af0000,#be0000,#d10000,#e80000,#ff0300,#ff1e00,#ff3a00,#ff5500,#ff6f00,#ff8900,#ffa200,#ffb900,#ffcf00,#ffe400,#fff700,#f6ff09,#e5ff1a,#d3ff2c,#c1ff3e,#adff52,#96ff69,#7dff82,#62ff9d,#45ffba,#28ffd7,#0afff5,#00ebff,#00ceff,#00b1ff,#0095ff,#007bff,#0063ff,#004eff,#003bff,#002aff,#001bff,#000fff,#0005ff,#0000fd)"></i>
<i style="background:linear-gradient(90deg,#00d5ff,#00e1ff,#00f1ff,#05fffa,#1bffe4,#35ffca,#51ffae,#70ff8f,#91ff6e,#b5ff4a,#dbff24,#fffe00,#ffda00,#ffb700,#ff9600,#ff7700,#ff5a00,#ff3f00,#ff2700,#ff1200,#ff0000,#ee0000,#e00000,#d20000,#c60000,#ba0000,#ae0000,#a30000,#990000,#910000,#8b0000,#890000,#8a0000,#900000,#990000,#a60000,#b60000,#c80000,#de0000,#f70000,#ff1300,#ff3100,#ff4f00,#ff6c00,#ff8700,#ffa100,#ffb800,#ffce00,#ffe200,#fff400,#faff05,#ebff14,#deff21,#d1ff2e,#c4ff3b,#b5ff4a,#a4ff5b,#90ff6f,#79ff86,#5fffa0,#44ffbb,#27ffd8,#0bfff4,#00eeff,#00d2ff,#00b7ff,#009eff,#0086ff,#006fff,#005aff,#0047ff,#0036ff,#0026ff,#0019ff,#000eff,#0005ff)"></i>
<i style="background:linear-gradient(90deg,#00daff,#00e6ff,#00f6ff,#0bfff4,#22ffdd,#3cffc3,#59ffa6,#79ff86,#9bff64,#c0ff3f,#e6ff19,#fff300,#ffcf00,#ffac00,#ff8c00,#ff6e00,#ff5300,#ff3a00,#ff2500,#ff1300,#ff0300,#f50000,#ea0000,#df0000,#d50000,#cb0000,#c10000,#b60000,#ac0000,#a40000,#9f0000,#9f0000,#a30000,#ad0000,#bb0000,#cf0000,#e50000,#fe0000,#ff1a00,#ff3800,#ff5700,#ff7600,#ff9500,#ffb100,#ffca00,#ffe000,#fff300,#f9ff06,#eaff15,#dcff23,#d0ff2f,#c5ff3a,#bbff44,#b1ff4e,#a7ff58,#9bff64,#8dff72,#7cff83,#68ff97,#51ffae,#38ffc7,#1effe1,#04fffb,#00eaff,#00d2ff,#00bbff,#00a5ff,#008fff,#007bff,#0067ff,#0054ff,#0042ff,#0032ff,#0023ff,#0016ff,#000dff)"></i>
<i style="background:linear-gradient(90deg,#00deff,#00eaff,#00faff,#10ffef,#27ffd8,#41ffbe,#5effa1,#7eff81,#a1ff5e,#c6ff39,#ecff13,#ffed00,#ffc900,#ffa800,#ff8a00,#ff6d00,#ff5400,#ff3e00,#ff2b00,#ff1b00,#ff0e00,#ff0300,#f90000,#f00000,#e80000,#e10000,#d80000,#d10000,#c90000,#c40000,#c10000,#c40000,#cc0000,#db0000,#f10000,#ff0c00,#ff2a00,#ff4a00,#ff6c00,#ff8d00,#ffaf00,#ffcf00,#ffed00,#f7ff08,#e2ff1d,#d1ff2e,#c2ff3d,#b7ff48,#acff53,#a3ff5c,#9bff64,#94ff6b,#8dff72,#86ff79,#7fff80,#77ff88,#6cff93,#5effa1,#4dffb2,#3affc5,#24ffdb,#0efff1,#00f8ff,#00e3ff,#00cfff,#00bcff,#00aaff,#0098ff,#0086ff,#0074ff,#0062ff,#0050ff,#003eff,#002eff,#001fff,#0014ff)"></i>
<i style="background:linear-gradient(90deg,#00e0ff,#00ecff,#00fcff,#12ffed,#29ffd6,#43ffbc,#60ff9f,#80ff7f,#a3ff5c,#c7ff38,#ecff13,#ffee00,#ffcb00,#ffac00,#ff8f00,#ff7400,#ff5d00,#ff4800,#ff3600,#ff2700,#ff1b00,#ff1100,#ff0800,#ff0100,#f90000,#f30000,#ee0000,#e90000,#e50000,#e30000,#e40000,#e90000,#f60000,#ff0b00,#ff2700,#ff4900,#ff6e00,#ff9500,#ffbc00,#ffe300,#f6ff09,#d4ff2b,#b6ff49,#9eff61,#8cff73,#7fff80,#75ff8a,#6fff90,#69ff96,#65ff9a,#62ff9d,#5fffa0,#5cffa3,#59ffa6,#56ffa9,#52ffad,#4bffb4,#42ffbd,#35ffca,#25ffda,#14ffeb,#01fffe,#00eeff,#00dcff,#00cdff,#00beff,#00afff,#00a0ff,#0091ff,#0081ff,#006fff,#005dff,#004bff,#0039ff,#0029ff,#001cff)"></i>
<i style="background:linear-gradient(90deg,#00dfff,#00ebff,#00fbff,#11ffee,#28ffd7,#42ffbd,#5effa1,#7eff81,#9fff60,#c2ff3d,#e6ff19,#fff500,#ffd400,#ffb500,#ff9a00,#ff8000,#ff6900,#ff5500,#ff4400,#ff3500,#ff2900,#ff1e00,#ff1600,#ff0f00,#ff0a00,#ff0700,#ff0600,#ff0500,#ff0600,#ff0800,#ff0d00,#ff1700,#ff2800,#ff4300,#ff6500,#ff8e00,#ffbb00,#ffe800,#e8ff17,#bcff43,#93ff6c,#6fff90,#50ffaf,#3affc5,#2cffd3,#24ffdb,#20ffdf,#1effe1,#1effe1,#1effe1,#1fffe0,#21ffde,#24ffdb,#27ffd8,#29ffd6,#2affd5,#29ffd6,#24ffdb,#1bffe4,#0ffff0,#01fffe,#00f1ff,#00e2ff,#00d5ff,#00c9ff,#00beff,#00b4ff,#00a8ff,#009cff,#008eff,#007eff,#006cff,#0059ff,#0045ff,#0033ff,#0025ff)"></i>
<i style="background:linear-gradient(90deg,#00dbff,#00e8ff,#00f8ff,#0efff1,#25ffda,#3effc1,#5affa5,#78ff87,#98ff67,#baff45,#dcff23,#fdff02,#ffe100,#ffc300,#ffa800,#ff8e00,#ff7800,#ff6400,#ff5300,#ff4400,#ff3900,#ff2f00,#ff2700,#ff2200,#ff1e00,#ff1c00,#ff1c00,#ff1e00,#ff2200,#ff2900,#ff3300,#ff4200,#ff5900,#ff7700,#ff9e00,#ffcb00,#fffc00,#d0ff2f,#9fff60,#6eff91,#40ffbf,#17ffe8,#00f4ff,#00dbff,#00ccff,#00c5ff,#00c4ff,#00c7ff,#00ccff,#00d2ff,#00daff,#00e2ff,#00ecff,#00f5ff,#00feff,#05fffa,#08fff7,#06fff9,#01fffe,#00f8ff,#00eeff,#00e4ff,#00daff,#00d0ff,#00c9ff,#00c1ff,#00baff,#00b2ff,#00a8ff,#009dff,#008eff,#007cff,#0068ff,#0053ff,#003fff,#002fff)"></i>
<i style="background:linear-gradient(90deg,#00d6ff,#00e3ff,#00f4ff,#09fff6,#20ffdf,#39ffc6,#54ffab,#71ff8e,#8fff70,#afff50,#cfff30,#efff10,#fff100,#ffd400,#ffb800,#ff9f00,#ff8800,#ff7400,#ff6300,#ff5600,#ff4c00,#ff4500,#ff3f00,#ff3b00,#ff3900,#ff3800,#ff3a00,#ff3d00,#ff4300,#ff4c00,#ff5800,#ff6a00,#ff8200,#ffa200,#ffc900,#fff600,#d5ff2a,#a0ff5f,#68ff97,#30ffcf,#00f7ff,#00c4ff,#0099ff,#007bff,#0068ff,#0061ff,#0061ff,#0068ff,#0071ff,#007dff,#008bff,#009bff,#00acff,#00bdff,#00cdff,#00daff,#00e2ff,#00e6ff,#00e6ff,#00e3ff,#00dfff,#00dbff,#00d6ff,#00d1ff,#00cdff,#00c9ff,#00c4ff,#00beff,#00b6ff,#00acff,#009eff,#008cff,#0077ff,#0061ff,#004bff,#003aff)"></i>
<i style="background:linear-gradient(90deg,#00d1ff,#00ddff,#00eeff,#04fffb,#1affe5,#32ffcd,#4cffb3,#68ff97,#85ff7a,#a3ff5c,#c1ff3e,#dfff20,#fcff03,#ffe500,#ffca00,#ffb000,#ff9900,#ff8600,#ff7700,#ff6c00,#ff6400,#ff5f00,#ff5c00,#ff5a00,#ff5a00,#ff5b00,#ff5d00,#ff6200,#ff6800,#ff7200,#ff7f00,#ff9000,#ffa800,#ffc700,#ffed00,#e4ff1b,#b2ff4d,#7aff85,#3dffc2,#00fbff,#00baff,#007cff,#0049ff,#0023ff,#000cff,#0003ff,#0005ff,#000eff,#001cff,#002dff,#0041ff,#0059ff,#0074ff,#008fff,#00a8ff,#00bcff,#00cbff,#00d3ff,#00d8ff,#00d9ff,#00d9ff,#00d8ff,#00d7ff,#00d6ff,#00d4ff,#00d2ff,#00cfff,#00cbff,#00c4ff,#00bbff,#00aeff,#009dff,#0087ff,#0070ff,#005aff,#0047ff)"></i>
<i style="background:linear-gradient(90deg,#00cbff,#00d8ff,#00e8ff,#00fcff,#13ffec,#2bffd4,#44ffbb,#5effa1,#79ff86,#95ff6a,#b1ff4e,#ceff31,#eaff15,#fff800,#ffdd00,#ffc400,#ffad00,#ff9a00,#ff8c00,#ff8300,#ff7e00,#ff7b00,#ff7a00,#ff7a00,#ff7b00,#ff7c00,#ff7f00,#ff8300,#ff8a00,#ff9300,#ff9f00,#ffaf00,#ffc400,#ffe000,#fbff04,#d2ff2d,#a3ff5c,#6eff91,#33ffcc,#00f2ff,#00afff,#0070ff,#003aff,#0012ff,#0000fa,#0000f0,#0000f2,#0000fc,#000cff,#001fff,#0037ff,#0053ff,#0072ff,#0093ff,#00b1ff,#00caff,#00dcff,#00e5ff,#00e9ff,#00e9ff,#00e7ff,#00e4ff,#00e1ff,#00dfff,#00ddff,#00dbff,#00daff,#00d7ff,#00d2ff,#00caff,#00beff,#00adff,#0098ff,#0080ff,#0069ff,#0056ff)"></i>
<i style="background:linear-gradient(90deg,#00c5ff,#00d0ff,#00e0ff,#00f2ff,#08fff7,#1dffe2,#35ffca,#4dffb2,#66ff99,#80ff7f,#9bff64,#b6ff49,#d1ff2e,#ecff13,#fff700,#ffde00,#ffc700,#ffb400,#ffa600,#ff9e00,#ff9900,#ff9600,#ff9600,#ff9600,#ff9700,#ff9800,#ff9b00,#ff9f00,#ffa600,#ffae00,#ffb900,#ffc700,#ffda00,#fff100,#f0ff0f,#ceff31,#a8ff57,#7dff82,#4dffb2,#1affe5,#00e4ff,#00b2ff,#0088ff,#0069ff,#0057ff,#0050ff,#0053ff,#005cff,#0069ff,#0079ff,#008dff,#00a3ff,#00bbff,#00d3ff,#00eaff,#00fcff,#08fff7,#0efff1,#0efff1,#0afff5,#05fffa,#00feff,#00f9ff,#00f5ff,#00f2ff,#00efff,#00ecff,#00e9ff,#00e3ff,#00dbff,#00ceff,#00bcff,#00a7ff,#008fff,#0078ff,#0065ff)"></i>
<i style="background:linear-gradient(90deg,#00bdff,#00c8ff,#00d6ff,#00e6ff,#00f9ff,#0dfff2,#22ffdd,#39ffc6,#50ffaf,#68ff97,#81ff7e,#9aff65,#b4ff4b,#cdff32,#e7ff18,#ffff00,#ffe800,#ffd500,#ffc700,#ffbd00,#ffb700,#ffb400,#ffb200,#ffb100,#ffb100,#ffb200,#ffb400,#ffb800,#ffbe00,#ffc500,#ffce00,#ffda00,#ffea00,#fffc00,#ebff14,#d1ff2e,#b5ff4a,#96ff69,#75ff8a,#53ffac,#30ffcf,#10ffef,#00f4ff,#00e1ff,#00d6ff,#00d3ff,#00d7ff,#00deff,#00e8ff,#00f3ff,#01fffe,#0ffff0,#1dffe2,#2bffd4,#37ffc8,#3fffc0,#44ffbb,#44ffbb,#3fffc0,#37ffc8,#2effd1,#24ffdb,#1affe5,#13ffec,#0dfff2,#08fff7,#03fffc,#00fcff,#00f5ff,#00ebff,#00dcff,#00caff,#00b5ff,#009dff,#0087ff,#0075ff)"></i>
<i style="background:linear-gradient(90deg,#00b5ff,#00bfff,#00cbff,#00daff,#00ebff,#00fdff,#11ffee,#25ffda,#3affc5,#4fffb0,#66ff99,#7dff82,#94ff6b,#acff53,#c4ff3b,#dcff23,#f1ff0e,#fffa00,#ffeb00,#ffe000,#ffd800,#ffd200,#ffcf00,#ffcd00,#ffcb00,#ffcb00,#ffcd00,#ffcf00,#ffd300,#ffd800,#ffdf00,#ffe700,#fff100,#fffe00,#f1ff0e,#e0ff1f,#ceff31,#baff45,#a5ff5a,#8fff70,#7aff85,#66ff99,#56ffa9,#4affb5,#43ffbc,#41ffbe,#42ffbd,#46ffb9,#4bffb4,#51ffae,#58ffa7,#60ff9f,#69ff96,#71ff8e,#79ff86,#7dff82,#7eff81,#7aff85,#72ff8d,#65ff9a,#56ffa9,#47ffb8,#3affc5,#2effd1,#25ffda,#1dffe2,#16ffe9,#0ffff0,#06fff9,#00f9ff,#00eaff,#00d8ff,#00c3ff,#00adff,#0098ff,#0087ff)"></i>
<i style="background:linear-gradient(90deg,#00aeff,#00b7ff,#00c3ff,#00d1ff,#00e0ff,#00f1ff,#03fffc,#14ffeb,#26ffd9,#39ffc6,#4cffb3,#60ff9f,#74ff8b,#8aff75,#a0ff5f,#b6ff49,#cbff34,#deff21,#eeff11,#fbff04,#fff900,#fff200,#ffec00,#ffe800,#ffe500,#ffe400,#ffe400,#ffe500,#ffe600,#ffe800,#ffeb00,#ffef00,#fff200,#fff700,#fffc00,#fbff04,#f4ff0b,#edff12,#e4ff1b,#dbff24,#d1ff2e,#c7ff38,#beff41,#b7ff48,#b1ff4e,#adff52,#abff54,#a9ff56,#a8ff57,#a8ff57,#a9ff56,#acff53,#afff50,#b4ff4b,#b8ff47,#baff45,#b8ff47,#b1ff4e,#a5ff5a,#94ff6b,#81ff7e,#6dff92,#5affa5,#4bffb4,#3effc1,#33ffcc,#2affd5,#20ffdf,#15ffea,#08fff7,#00f7ff,#00e6ff,#00d3ff,#00c0ff,#00aeff,#009fff)"></i>
<i style="background:linear-gradient(90deg,#00a6ff,#00b0ff,#00bdff,#00ccff,#00dbff,#00eaff,#00f9ff,#08fff7,#16ffe9,#24ffdb,#31ffce,#40ffbf,#50ffaf,#62ff9d,#76ff89,#8bff74,#a0ff5f,#b4ff4b,#c5ff3a,#d5ff2a,#e1ff1e,#ecff13,#f4ff0b,#faff05,#ffff00,#fffc00,#fffb00,#fffa00,#fffb00,#fffb00,#fffb00,#fffb00,#fffb00,#fffb00,#fffb00,#fffb00,#fffb00,#fffc00,#fffd00,#feff01,#faff05,#f5ff0a,#f0ff0f,#ecff13,#e7ff18,#e3ff1c,#dfff20,#dbff24,#d9ff26,#d7ff28,#d7ff28,#d8ff27,#daff25,#ddff22,#dfff20,#dfff20,#dcff23,#d4ff2b,#c6ff39,#b4ff4b,#9fff60,#89ff76,#75ff8a,#63ff9c,#54ffab,#46ffb9,#3affc5,#2effd1,#22ffdd,#14ffeb,#05fffa,#00f4ff,#00e4ff,#00d4ff,#00c5ff,#00baff)"></i>
<i style="background:linear-gradient(90deg,#009bff,#00a7ff,#00b6ff,#00c6ff,#00d6ff,#00e5ff,#00f3ff,#00feff,#0afff5,#13ffec,#1cffe3,#27ffd8,#33ffcc,#41ffbe,#52ffad,#65ff9a,#79ff86,#8cff73,#9fff60,#afff50,#beff41,#caff35,#d5ff2a,#ddff22,#e3ff1c,#e7ff18,#e9ff16,#e9ff16,#e9ff16,#e9ff16,#e9ff16,#e9ff16,#ebff14,#edff12,#f1ff0e,#f4ff0b,#f7ff08,#faff05,#fbff04,#fbff04,#faff05,#f8ff07,#f6ff09,#f4ff0b,#f2ff0d,#f1ff0e,#efff10,#eeff11,#edff12,#ecff13,#ecff13,#edff12,#efff10,#f1ff0e,#f2ff0d,#f2ff0d,#eeff11,#e7ff18,#daff25,#caff35,#b6ff49,#a1ff5e,#8cff73,#7aff85,#69ff96,#59ffa6,#4bffb4,#3dffc2,#2fffd0,#21ffde,#12ffed,#04fffb,#00f5ff,#00e8ff,#00dcff,#00d3ff)"></i>
<i style="background:linear-gradient(90deg,#0088ff,#0096ff,#00a8ff,#00bbff,#00cdff,#00ddff,#00ebff,#00f7ff,#01fffe,#09fff6,#10ffef,#19ffe6,#22ffdd,#2effd1,#3bffc4,#4bffb4,#5cffa3,#6cff93,#7dff82,#8cff73,#9aff65,#a7ff58,#b2ff4d,#bcff43,#c2ff3d,#c6ff39,#c8ff37,#c8ff37,#c7ff38,#c7ff38,#c7ff38,#c8ff37,#caff35,#cfff30,#d5ff2a,#dcff23,#e3ff1c,#e9ff16,#eeff11,#f1ff0e,#f4ff0b,#f6ff09,#f7ff08,#f8ff07,#f8ff07,#f9ff06,#f9ff06,#f9ff06,#f8ff07,#f9ff06,#f9ff06,#faff05,#fbff04,#fdff02,#feff01,#fdff02,#faff05,#f3ff0c,#e8ff17,#d8ff27,#c6ff39,#b2ff4d,#9eff61,#8bff74,#79ff86,#68ff97,#57ffa8,#48ffb7,#39ffc6,#2affd5,#1dffe2,#10ffef,#03fffc,#00f7ff,#00eeff,#00e7ff)"></i>
<i style="background:linear-gradient(90deg,#006fff,#0080ff,#0094ff,#00aaff,#00bfff,#00d1ff,#00dfff,#00eaff,#00f2ff,#00f8ff,#00feff,#06fff9,#0dfff2,#17ffe8,#22ffdd,#2fffd0,#3effc1,#4dffb2,#5cffa3,#6aff95,#77ff88,#83ff7c,#8eff71,#97ff68,#9eff61,#a2ff5d,#a4ff5b,#a5ff5a,#a5ff5a,#a5ff5a,#a5ff5a,#a7ff58,#aaff55,#afff50,#b6ff49,#bfff40,#c7ff38,#cfff30,#d7ff28,#ddff22,#e3ff1c,#e8ff17,#ebff14,#eeff11,#f0ff0f,#f1ff0e,#f1ff0e,#f1ff0e,#f2ff0d,#f2ff0d,#f3ff0c,#f4ff0b,#f6ff09,#f8ff07,#f9ff06,#f9ff06,#f6ff09,#f0ff0f,#e5ff1a,#d6ff29,#c4ff3b,#b1ff4e,#9dff62,#8aff75,#78ff87,#67ff98,#57ffa8,#47ffb8,#39ffc6,#2cffd3,#1fffe0,#14ffeb,#09fff6,#00ffff,#00f8ff,#00f2ff)"></i>
<i style="background:linear-gradient(90deg,#0053ff,#0065ff,#007cff,#0094ff,#00a9ff,#00bbff,#00c8ff,#00d1ff,#00d7ff,#00dbff,#00dfff,#00e3ff,#00e9ff,#00f1ff,#00fdff,#0cfff3,#1bffe4,#2cffd3,#3cffc3,#4affb5,#58ffa7,#64ff9b,#6eff91,#76ff89,#7cff83,#80ff7f,#82ff7d,#83ff7c,#83ff7c,#83ff7c,#83ff7c,#84ff7b,#86ff79,#88ff77,#8cff73,#91ff6e,#96ff69,#9cff63,#a1ff5e,#a7ff58,#adff52,#b2ff4d,#b7ff48,#baff45,#bcff43,#beff41,#beff41,#bfff40,#bfff40,#c0ff3f,#c2ff3d,#c5ff3a,#c9ff36,#ceff31,#d3ff2c,#d6ff29,#d6ff29,#d1ff2e,#c8ff37,#bbff44,#abff54,#9aff65,#88ff77,#77ff88,#67ff98,#58ffa7,#49ffb6,#3cffc3,#30ffcf,#25ffda,#1bffe4,#12ffed,#0afff5,#04fffb,#00fdff,#00faff)"></i>
<i style="background:linear-gradient(90deg,#0037ff,#004aff,#0061ff,#0079ff,#008eff,#009fff,#00aaff,#00b1ff,#00b4ff,#00b6ff,#00b8ff,#00baff,#00bfff,#00c7ff,#00d3ff,#00e4ff,#00f7ff,#0cfff3,#1fffe0,#2fffd0,#3dffc2,#47ffb8,#50ffaf,#57ffa8,#5cffa3,#5fffa0,#61ff9e,#62ff9d,#63ff9c,#63ff9c,#63ff9c,#64ff9b,#64ff9b,#64ff9b,#64ff9b,#65ff9a,#66ff99,#67ff98,#6aff95,#6dff92,#72ff8d,#77ff88,#7bff84,#7fff80,#82ff7d,#83ff7c,#84ff7b,#84ff7b,#85ff7a,#86ff79,#89ff76,#8eff71,#94ff6b,#9cff63,#a4ff5b,#a9ff56,#abff54,#a9ff56,#a2ff5d,#97ff68,#8aff75,#7bff84,#6dff92,#5effa1,#51ffae,#44ffbb,#38ffc7,#2dffd2,#24ffdb,#1bffe4,#14ffeb,#0dfff2,#08fff7,#03fffc,#00ffff,#00fcff)"></i>
<i style="background:linear-gradient(90deg,#0017ff,#0028ff,#003cff,#0051ff,#0063ff,#0072ff,#007bff,#0080ff,#0082ff,#0083ff,#0083ff,#0085ff,#0089ff,#0093ff,#00a2ff,#00b6ff,#00ceff,#00e6ff,#00fbff,#0efff1,#1bffe4,#26ffd9,#2dffd2,#34ffcb,#39ffc6,#3dffc2,#40ffbf,#43ffbc,#45ffba,#47ffb8,#48ffb7,#48ffb7,#48ffb7,#47ffb8,#46ffb9,#44ffbb,#44ffbb,#44ffbb,#45ffba,#47ffb8,#4bffb4,#4fffb0,#53ffac,#56ffa9,#58ffa7,#59ffa6,#5affa5,#5affa5,#5bffa4,#5cffa3,#5fffa0,#63ff9c,#69ff96,#71ff8e,#78ff87,#7dff82,#7fff80,#7eff81,#7aff85,#72ff8d,#68ff97,#5dffa2,#51ffae,#46ffb9,#3cffc3,#32ffcd,#29ffd6,#20ffdf,#18ffe7,#11ffee,#0cfff3,#07fff8,#02fffd,#00feff,#00fbff,#00f9ff)"></i>
<i style="background:linear-gradient(90deg,#0000ee,#0000fb,#000bff,#001bff,#0029ff,#0034ff,#003bff,#0040ff,#0042ff,#0043ff,#0044ff,#0046ff,#004bff,#0055ff,#0065ff,#007aff,#0093ff,#00adff,#00c4ff,#00d8ff,#00e8ff,#00f6ff,#01fffe,#0afff5,#12ffed,#18ffe7,#1effe1,#24ffdb,#28ffd7,#2cffd3,#2effd1,#2fffd0,#2effd1,#2dffd2,#2affd5,#27ffd8,#25ffda,#24ffdb,#24ffdb,#26ffd9,#28ffd7,#2bffd4,#2effd1,#31ffce,#33ffcc,#34ffcb,#34ffcb,#34ffcb,#35ffca,#36ffc9,#38ffc7,#3bffc4,#3fffc0,#44ffbb,#49ffb6,#4dffb2,#4fffb0,#4fffb0,#4cffb3,#47ffb8,#41ffbe,#3affc5,#32ffcd,#2bffd4,#24ffdb,#1dffe2,#17ffe8,#11ffee,#0bfff4,#06fff9,#01fffe,#00fcff,#00f8ff,#00f5ff,#00f2ff,#00f0ff)"></i>
<i style="background:linear-gradient(90deg,#0000cb,#0000d5,#0000e0,#0000ec,#0000f6,#0000fe,#0005ff,#0008ff,#000aff,#000bff,#000cff,#000fff,#0014ff,#001eff,#002cff,#0040ff,#0058ff,#0070ff,#0087ff,#009cff,#00adff,#00bcff,#00c9ff,#00d5ff,#00e0ff,#00eaff,#00f4ff,#00feff,#07fff8,#0ffff0,#14ffeb,#16ffe9,#16ffe9,#14ffeb,#10ffef,#0cfff3,#09fff6,#07fff8,#06fff9,#08fff7,#0bfff4,#0efff1,#11ffee,#14ffeb,#16ffe9,#17ffe8,#18ffe7,#18ffe7,#18ffe7,#18ffe7,#19ffe6,#1bffe4,#1dffe2,#1fffe0,#22ffdd,#24ffdb,#25ffda,#24ffdb,#22ffdd,#20ffdf,#1cffe3,#18ffe7,#13ffec,#0ffff0,#0afff5,#05fffa,#01fffe,#00fbff,#00f7ff,#00f3ff,#00efff,#00ecff,#00e9ff,#00e6ff,#00e4ff,#00e2ff)"></i>
<i style="background:linear-gradient(90deg,#0000b2,#0000b6,#0000bc,#0000c1,#0000c7,#0000cb,#0000ce,#0000d0,#0000d2,#0000d3,#0000d4,#0000d7,#0000dc,#0000e5,#0000f2,#0005ff,#001aff,#0030ff,#0045ff,#0057ff,#0067ff,#0075ff,#0082ff,#008eff,#009bff,#00a9ff,#00b9ff,#00c9ff,#00d9ff,#00e7ff,#00f1ff,#00f7ff,#00f9ff,#00f7ff,#00f3ff,#00edff,#00e8ff,#00e5ff,#00e5ff,#00e6ff,#00eaff,#00eeff,#00f3ff,#00f6ff,#00f9ff,#00faff,#00faff,#00fbff,#00fbff,#00faff,#00faff,#00faff,#00faff,#00faff,#00faff,#00faff,#00faff,#00f9ff,#00f8ff,#00f7ff,#00f5ff,#00f2ff,#00f0ff,#00ecff,#00e8ff,#00e3ff,#00dfff,#00d9ff,#00d4ff,#00d0ff,#00cbff,#00c7ff,#00c3ff,#00bfff,#00bcff,#00baff)"></i>
<i style="background:linear-gradient(90deg,#0000a8,#0000a8,#0000a7,#0000a7,#0000a7,#0000a7,#0000a7,#0000a8,#0000a9,#0000ab,#0000ae,#0000b2,#0000b8,#0000c2,#0000ce,#0000de,#0000ef,#0002ff,#0013ff,#0022ff,#002eff,#0039ff,#0043ff,#004dff,#0058ff,#0065ff,#0073ff,#0083ff,#0092ff,#00a1ff,#00abff,#00b2ff,#00b3ff,#00afff,#00a9ff,#00a2ff,#009cff,#0097ff,#0095ff,#0097ff,#009aff,#009eff,#00a3ff,#00a8ff,#00acff,#00b0ff,#00b3ff,#00b5ff,#00b8ff,#00baff,#00bcff,#00beff,#00c0ff,#00c1ff,#00c3ff,#00c5ff,#00c6ff,#00c8ff,#00caff,#00cbff,#00cdff,#00cdff,#00cdff,#00cbff,#00c7ff,#00c2ff,#00bcff,#00b5ff,#00aeff,#00a8ff,#00a2ff,#009dff,#0098ff,#0093ff,#0090ff,#008dff)"></i>
<i style="background:linear-gradient(90deg,#0000aa,#0000a9,#0000a6,#0000a4,#0000a3,#0000a2,#0000a2,#0000a2,#0000a4,#0000a7,#0000aa,#0000af,#0000b5,#0000bc,#0000c5,#0000cf,#0000da,#0000e5,#0000ef,#0000f8,#0001ff,#0007ff,#000dff,#0013ff,#001aff,#0021ff,#0029ff,#0032ff,#003bff,#0043ff,#0048ff,#004aff,#0049ff,#0044ff,#003dff,#0035ff,#002eff,#0029ff,#0026ff,#0026ff,#0027ff,#002aff,#002eff,#0033ff,#0039ff,#003fff,#0046ff,#004eff,#0056ff,#005eff,#0066ff,#006fff,#0077ff,#007fff,#0087ff,#008eff,#0095ff,#009bff,#00a1ff,#00a6ff,#00aaff,#00adff,#00aeff,#00adff,#00aaff,#00a5ff,#009eff,#0097ff,#0090ff,#008aff,#0084ff,#007fff,#007aff,#0076ff,#0073ff,#0071ff)"></i>
<i style="background:linear-gradient(90deg,#0000b4,#0000b3,#0000b2,#0000b1,#0000b0,#0000af,#0000af,#0000b0,#0000b1,#0000b3,#0000b5,#0000b8,#0000bb,#0000bf,#0000c4,#0000c9,#0000cf,#0000d4,#0000d9,#0000de,#0000e1,#0000e5,#0000e8,#0000eb,#0000ee,#0000f1,#0000f4,#0000f8,#0000fb,#0000fe,#0001ff,#0001ff,#0000fd,#0000f9,#0000f3,#0000ed,#0000e7,#0000e3,#0000e0,#0000df,#0000df,#0000e0,#0000e1,#0000e4,#0000e9,#0000f0,#0000f9,#0005ff,#0011ff,#001eff,#002bff,#0037ff,#0043ff,#004fff,#005aff,#0065ff,#006fff,#0077ff,#0080ff,#0087ff,#008dff,#0091ff,#0092ff,#0092ff,#008eff,#0089ff,#0082ff,#007bff,#0074ff,#006eff,#0068ff,#0064ff,#0061ff,#005eff,#005bff,#005aff)"></i>
<i style="background:linear-gradient(90deg,#0000c2,#0000c2,#0000c3,#0000c4,#0000c4,#0000c5,#0000c5,#0000c6,#0000c6,#0000c7,#0000c7,#0000c8,#0000ca,#0000cc,#0000cf,#0000d3,#0000d7,#0000db,#0000de,#0000df,#0000e0,#0000e0,#0000df,#0000de,#0000dd,#0000dc,#0000da,#0000d9,#0000d8,#0000d6,#0000d4,#0000d1,#0000cd,#0000c8,#0000c2,#0000bd,#0000b7,#0000b3,#0000af,#0000ac,#0000aa,#0000a9,#0000a9,#0000ab,#0000af,#0000b6,#0000c1,#0000ce,#0000dd,#0000ed,#0000fd,#000eff,#001cff,#002aff,#0038ff,#0044ff,#0050ff,#005cff,#0066ff,#0070ff,#0078ff,#007eff,#0081ff,#0082ff,#007fff,#007bff,#0075ff,#006eff,#0068ff,#0062ff,#005dff,#0059ff,#0055ff,#0052ff,#0050ff,#004eff)"></i>
<i style="background:linear-gradient(90deg,#0000d2,#0000d4,#0000d7,#0000da,#0000dd,#0000e0,#0000e3,#0000e6,#0000e8,#0000ea,#0000ec,#0000ee,#0000f0,#0000f3,#0000f6,#0000f9,#0000fc,#0000fe,#0001ff,#0002ff,#0002ff,#0001ff,#0000fe,#0000fc,#0000fb,#0000f9,#0000f7,#0000f6,#0000f4,#0000f2,#0000ef,#0000eb,#0000e5,#0000de,#0000d5,#0000cc,#0000c3,#0000bc,#0000b7,#0000b4,#0000b1,#0000b0,#0000b0,#0000b1,#0000b5,#0000bd,#0000c8,#0000d5,#0000e5,#0000f4,#0004ff,#0012ff,#001fff,#002bff,#0036ff,#0041ff,#004cff,#0056ff,#0060ff,#0069ff,#0071ff,#0077ff,#007bff,#007cff,#007bff,#0078ff,#0073ff,#006fff,#0069ff,#0064ff,#005fff,#005aff,#0056ff,#0052ff,#004eff,#004bff)"></i>
<i style="background:linear-gradient(90deg,#0000e6,#0000ec,#0000f4,#0000fd,#0006ff,#000eff,#0014ff,#001aff,#0020ff,#0024ff,#0028ff,#002bff,#002dff,#002eff,#002fff,#002fff,#002eff,#002eff,#002eff,#002eff,#002eff,#002eff,#002eff,#002eff,#002eff,#002fff,#0030ff,#0032ff,#0033ff,#0035ff,#0035ff,#0033ff,#002eff,#0026ff,#001cff,#0011ff,#0007ff,#0000fe,#0000f8,#0000f5,#0000f3,#0000f3,#0000f3,#0000f5,#0000fa,#0002ff,#000cff,#0018ff,#0026ff,#0032ff,#003dff,#0046ff,#004dff,#0053ff,#0058ff,#005dff,#0062ff,#0068ff,#006dff,#0072ff,#0076ff,#007aff,#007cff,#007cff,#007bff,#0079ff,#0076ff,#0072ff,#006dff,#0068ff,#0063ff,#005eff,#0058ff,#0053ff,#004eff,#004aff)"></i>
<i style="background:linear-gradient(90deg,#0000fc,#0008ff,#0015ff,#0022ff,#0030ff,#003bff,#0045ff,#004dff,#0053ff,#0059ff,#005dff,#0060ff,#0061ff,#0062ff,#0062ff,#0062ff,#0061ff,#0061ff,#0061ff,#0062ff,#0065ff,#0069ff,#006dff,#0072ff,#0077ff,#007bff,#007eff,#0081ff,#0082ff,#0083ff,#0082ff,#007fff,#007aff,#0071ff,#0066ff,#005aff,#004fff,#0047ff,#0042ff,#003fff,#003eff,#003eff,#003fff,#0041ff,#0045ff,#004bff,#0053ff,#005cff,#0065ff,#006dff,#0073ff,#0078ff,#007aff,#007cff,#007dff,#007eff,#007fff,#0080ff,#0081ff,#0082ff,#0082ff,#0083ff,#0083ff,#0082ff,#0080ff,#007dff,#0079ff,#0074ff,#006fff,#0069ff,#0063ff,#005dff,#0056ff,#0050ff,#004aff,#0045ff)"></i>
<i style="background:linear-gradient(90deg,#0018ff,#0025ff,#0034ff,#0045ff,#0055ff,#0063ff,#006fff,#0078ff,#0080ff,#0086ff,#008bff,#008fff,#0091ff,#0093ff,#0095ff,#0096ff,#0097ff,#0098ff,#009bff,#00a0ff,#00a7ff,#00b0ff,#00bbff,#00c5ff,#00ceff,#00d4ff,#00d7ff,#00d9ff,#00daff,#00d9ff,#00d8ff,#00d4ff,#00ceff,#00c6ff,#00bbff,#00b0ff,#00a6ff,#009eff,#0099ff,#0096ff,#0095ff,#0095ff,#0095ff,#0096ff,#0098ff,#009aff,#009dff,#00a1ff,#00a4ff,#00a7ff,#00a8ff,#00a8ff,#00a6ff,#00a3ff,#00a0ff,#009cff,#0099ff,#0096ff,#0094ff,#0092ff,#0090ff,#008dff,#008bff,#0088ff,#0084ff,#0080ff,#007bff,#0075ff,#006fff,#0068ff,#0061ff,#005aff,#0052ff,#004aff,#0043ff,#003dff)"></i>
<i style="background:linear-gradient(90deg,#0037ff,#0045ff,#0056ff,#0069ff,#007aff,#008aff,#0097ff,#00a2ff,#00abff,#00b2ff,#00b8ff,#00bdff,#00c1ff,#00c4ff,#00c7ff,#00c9ff,#00cbff,#00ceff,#00d2ff,#00d8ff,#00dfff,#00e9ff,#00f3ff,#00fdff,#07fff8,#0dfff2,#11ffee,#14ffeb,#15ffea,#15ffea,#14ffeb,#12ffed,#0efff1,#09fff6,#01fffe,#00f9ff,#00f1ff,#00ecff,#00e8ff,#00e6ff,#00e6ff,#00e5ff,#00e5ff,#00e5ff,#00e5ff,#00e4ff,#00e3ff,#00e1ff,#00dfff,#00ddff,#00d9ff,#00d4ff,#00cfff,#00c8ff,#00c1ff,#00baff,#00b3ff,#00adff,#00a7ff,#00a2ff,#009dff,#0098ff,#0093ff,#008eff,#0088ff,#0083ff,#007dff,#0076ff,#006fff,#0068ff,#0060ff,#0057ff,#004eff,#0045ff,#003dff,#0037ff)"></i>
<i style="background:linear-gradient(90deg,#0058ff,#0067ff,#0078ff,#008bff,#009eff,#00afff,#00beff,#00cbff,#00d6ff,#00dfff,#00e7ff,#00eeff,#00f3ff,#00f7ff,#00faff,#00fcff,#00ffff,#02fffd,#05fffa,#0afff5,#0ffff0,#16ffe9,#1effe1,#25ffda,#2cffd3,#31ffce,#36ffc9,#39ffc6,#3bffc4,#3dffc2,#3dffc2,#3dffc2,#3bffc4,#38ffc7,#34ffcb,#30ffcf,#2cffd3,#28ffd7,#26ffd9,#25ffda,#24ffdb,#24ffdb,#23ffdc,#22ffdd,#21ffde,#1fffe0,#1bffe4,#17ffe8,#11ffee,#0bfff4,#04fffb,#00fbff,#00f1ff,#00e7ff,#00ddff,#00d3ff,#00caff,#00c1ff,#00b9ff,#00b2ff,#00abff,#00a4ff,#009dff,#0096ff,#008fff,#0088ff,#0081ff,#007aff,#0072ff,#006aff,#0061ff,#0058ff,#004eff,#0045ff,#003dff,#0036ff)"></i>
<i style="background:linear-gradient(90deg,#0080ff,#008eff,#009fff,#00b2ff,#00c5ff,#00d6ff,#00e6ff,#00f5ff,#03fffc,#0efff1,#18ffe7,#1fffe0,#25ffda,#28ffd7,#29ffd6,#2affd5,#2bffd4,#2bffd4,#2cffd3,#2effd1,#31ffce,#35ffca,#3affc5,#3fffc0,#45ffba,#4affb5,#4effb1,#52ffad,#55ffaa,#58ffa7,#59ffa6,#5affa5,#59ffa6,#58ffa7,#56ffa9,#53ffac,#50ffaf,#4effb1,#4bffb4,#4affb5,#48ffb7,#47ffb8,#46ffb9,#44ffbb,#42ffbd,#3fffc0,#3bffc4,#36ffc9,#31ffce,#2affd5,#22ffdd,#1affe5,#0ffff0,#04fffb,#00f8ff,#00ecff,#00e1ff,#00d7ff,#00cdff,#00c4ff,#00bbff,#00b2ff,#00aaff,#00a2ff,#009bff,#0093ff,#008bff,#0083ff,#007bff,#0072ff,#0068ff,#005eff,#0053ff,#0049ff,#003fff,#0038ff)"></i>
<i style="background:linear-gradient(90deg,#00a9ff,#00b6ff,#00c5ff,#00d7ff,#00e9ff,#00faff,#0bfff4,#1affe5,#28ffd7,#35ffca,#40ffbf,#48ffb7,#4effb1,#51ffae,#52ffad,#52ffad,#52ffad,#51ffae,#51ffae,#51ffae,#52ffad,#55ffaa,#58ffa7,#5bffa4,#5fffa0,#63ff9c,#67ff98,#6bff94,#6fff90,#72ff8d,#75ff8a,#76ff89,#77ff88,#76ff89,#75ff8a,#73ff8c,#71ff8e,#70ff8f,#6eff91,#6cff93,#69ff96,#67ff98,#65ff9a,#62ff9d,#5effa1,#5affa5,#55ffaa,#4fffb0,#49ffb6,#42ffbd,#3bffc4,#33ffcc,#2affd5,#21ffde,#17ffe8,#0dfff2,#02fffd,#00f6ff,#00eaff,#00deff,#00d2ff,#00c6ff,#00bcff,#00b2ff,#00a9ff,#00a1ff,#0099ff,#0091ff,#0088ff,#007eff,#0073ff,#0067ff,#005bff,#004eff,#0043ff,#003aff)"></i>
<i style="background:linear-gradient(90deg,#00ccff,#00d6ff,#00e3ff,#00f2ff,#02fffd,#12ffed,#21ffde,#31ffce,#40ffbf,#4fffb0,#5cffa3,#67ff98,#6fff90,#75ff8a,#79ff86,#7cff83,#7eff81,#80ff7f,#81ff7e,#83ff7c,#85ff7a,#87ff78,#89ff76,#8bff74,#8eff71,#91ff6e,#95ff6a,#99ff66,#9eff61,#a2ff5d,#a5ff5a,#a7ff58,#a8ff57,#a8ff57,#a8ff57,#a7ff58,#a6ff59,#a4ff5b,#a2ff5d,#a0ff5f,#9eff61,#9bff64,#97ff68,#93ff6c,#8fff70,#8aff75,#84ff7b,#7dff82,#75ff8a,#6dff92,#65ff9a,#5cffa3,#52ffad,#48ffb7,#3effc1,#32ffcd,#26ffd9,#18ffe7,#0afff5,#00faff,#00ecff,#00deff,#00d1ff,#00c5ff,#00bbff,#00b2ff,#00a9ff,#00a0ff,#0096ff,#008bff,#007fff,#0072ff,#0064ff,#0055ff,#0049ff,#003fff)"></i>
<i style="background:linear-gradient(90deg,#00eaff,#00f2ff,#00fbff,#08fff7,#14ffeb,#22ffdd,#30ffcf,#3fffc0,#4effb1,#5effa1,#6dff92,#7bff84,#87ff78,#92ff6d,#9cff63,#a4ff5b,#acff53,#b2ff4d,#b7ff48,#bcff43,#c0ff3f,#c3ff3c,#c6ff39,#c9ff36,#cdff32,#d1ff2e,#d5ff2a,#daff25,#deff21,#e3ff1c,#e6ff19,#e8ff17,#e9ff16,#e9ff16,#e8ff17,#e7ff18,#e5ff1a,#e3ff1c,#e1ff1e,#dfff20,#dcff23,#d9ff26,#d5ff2a,#d1ff2e,#ccff33,#c7ff38,#c0ff3f,#b9ff46,#b1ff4e,#a7ff58,#9dff62,#91ff6e,#83ff7c,#75ff8a,#66ff99,#56ffa9,#47ffb8,#37ffc8,#27ffd8,#17ffe8,#08fff7,#00f9ff,#00ebff,#00dfff,#00d4ff,#00c9ff,#00bfff,#00b5ff,#00aaff,#009eff,#0091ff,#0083ff,#0075ff,#0067ff,#005bff,#0051ff)"></i>
<i style="background:linear-gradient(90deg,#00f8ff,#00ffff,#09fff6,#14ffeb,#20ffdf,#2effd1,#3cffc3,#4bffb4,#5bffa4,#6bff94,#7aff85,#89ff76,#97ff68,#a3ff5c,#aeff51,#b7ff48,#c0ff3f,#c7ff38,#cdff32,#d2ff2d,#d7ff28,#dbff24,#deff21,#e1ff1e,#e5ff1a,#e9ff16,#edff12,#f2ff0d,#f7ff08,#fbff04,#ffff00,#fffd00,#fffc00,#fffc00,#fffd00,#fffe00,#feff01,#fcff03,#f9ff06,#f7ff08,#f4ff0b,#f1ff0e,#edff12,#e9ff16,#e4ff1b,#deff21,#d7ff28,#d0ff2f,#c7ff38,#beff41,#b3ff4c,#a8ff57,#9cff63,#8fff70,#81ff7e,#72ff8d,#63ff9c,#54ffab,#44ffbb,#34ffcb,#25ffda,#15ffea,#07fff8,#00f9ff,#00ecff,#00e1ff,#00d5ff,#00caff,#00beff,#00b2ff,#00a5ff,#0097ff,#0089ff,#007cff,#0070ff,#0067ff)"></i>
<i style="background:linear-gradient(90deg,#01fffe,#09fff6,#12ffed,#1effe1,#2affd5,#38ffc7,#47ffb8,#56ffa9,#66ff99,#76ff89,#86ff79,#96ff69,#a4ff5b,#b0ff4f,#bbff44,#c5ff3a,#cdff32,#d4ff2b,#dbff24,#e0ff1f,#e4ff1b,#e8ff17,#ecff13,#efff10,#f3ff0c,#f7ff08,#fbff04,#fffe00,#fff900,#fff400,#fff000,#ffee00,#ffed00,#ffed00,#ffee00,#fff000,#fff200,#fff400,#fff600,#fff900,#fffc00,#ffff00,#fbff04,#f7ff08,#f2ff0d,#ecff13,#e5ff1a,#ddff22,#d4ff2b,#cbff34,#c1ff3e,#b7ff48,#acff53,#a0ff5f,#94ff6b,#87ff78,#79ff86,#6aff95,#5affa5,#4affb5,#39ffc6,#29ffd6,#1affe5,#0cfff3,#00feff,#00f2ff,#00e7ff,#00dbff,#00cfff,#00c2ff,#00b5ff,#00a8ff,#009aff,#008dff,#0081ff,#0078ff)"></i>
<i style="background:linear-gradient(90deg,#04fffb,#0cfff3,#16ffe9,#21ffde,#2effd1,#3cffc3,#4bffb4,#5affa5,#6bff94,#7bff84,#8bff74,#9bff64,#a8ff57,#b5ff4a,#c0ff3f,#c9ff36,#d2ff2d,#d9ff26,#dfff20,#e5ff1a,#e9ff16,#edff12,#f0ff0f,#f4ff0b,#f8ff07,#fcff03,#fffe00,#fff900,#fff400,#ffef00,#ffeb00,#ffe900,#ffe800,#ffe800,#ffe900,#ffeb00,#ffed00,#ffef00,#fff100,#fff400,#fff700,#fffa00,#fffe00,#fcff03,#f7ff08,#f0ff0f,#e9ff16,#e2ff1d,#d9ff26,#d0ff2f,#c6ff39,#bcff43,#b1ff4e,#a6ff59,#9bff64,#8eff71,#81ff7e,#73ff8c,#64ff9b,#55ffaa,#46ffb9,#37ffc8,#29ffd6,#1bffe4,#0ffff0,#03fffc,#00f6ff,#00ebff,#00dfff,#00d2ff,#00c5ff,#00b7ff,#00a9ff,#009cff,#0090ff,#0087ff)"></i>
<i style="background:linear-gradient(90deg,#02fffd,#0afff5,#13ffec,#1fffe0,#2cffd3,#3affc5,#48ffb7,#58ffa7,#68ff97,#78ff87,#88ff77,#97ff68,#a5ff5a,#b2ff4d,#bcff43,#c6ff39,#ceff31,#d6ff29,#dcff23,#e1ff1e,#e6ff19,#e9ff16,#edff12,#f0ff0f,#f4ff0b,#f8ff07,#fdff02,#fffc00,#fff700,#fff300,#ffef00,#ffed00,#ffec00,#ffec00,#ffed00,#ffef00,#fff000,#fff300,#fff500,#fff800,#fffb00,#fffe00,#fcff03,#f8ff07,#f3ff0c,#edff12,#e6ff19,#deff21,#d6ff29,#ccff33,#c2ff3d,#b8ff47,#acff53,#a1ff5e,#94ff6b,#87ff78,#7aff85,#6dff92,#60ff9f,#52ffad,#45ffba,#37ffc8,#2affd5,#1effe1,#12ffed,#07fff8,#00faff,#00efff,#00e3ff,#00d6ff,#00c9ff,#00bbff,#00adff,#00a0ff,#0094ff,#008bff)"></i>
<i style="background:linear-gradient(90deg,#00fcff,#04fffb,#0efff1,#19ffe6,#26ffd9,#33ffcc,#42ffbd,#51ffae,#61ff9e,#71ff8e,#81ff7e,#90ff6f,#9eff61,#aaff55,#b4ff4b,#beff41,#c6ff39,#cdff32,#d3ff2c,#d9ff26,#ddff22,#e1ff1e,#e4ff1b,#e7ff18,#ebff14,#efff10,#f4ff0b,#f9ff06,#feff01,#fffc00,#fff800,#fff600,#fff500,#fff500,#fff600,#fff800,#fffa00,#fffc00,#fffe00,#fdff02,#faff05,#f7ff08,#f3ff0c,#efff10,#eaff15,#e4ff1b,#deff21,#d6ff29,#cdff32,#c4ff3b,#b9ff46,#aeff51,#a1ff5e,#94ff6b,#86ff79,#78ff87,#6aff95,#5cffa3,#4effb1,#41ffbe,#34ffcb,#28ffd7,#1bffe4,#10ffef,#05fffa,#00f9ff,#00eeff,#00e3ff,#00d8ff,#00ccff,#00bfff,#00b1ff,#00a3ff,#0096ff,#008aff,#0081ff)"></i>
<i style="background:linear-gradient(90deg,#00f0ff,#00f7ff,#02fffd,#0dfff2,#1affe5,#27ffd8,#35ffca,#44ffbb,#54ffab,#63ff9c,#73ff8c,#82ff7d,#8fff70,#9bff64,#a5ff5a,#aeff51,#b6ff49,#bdff42,#c3ff3c,#c8ff37,#cdff32,#d0ff2f,#d4ff2b,#d7ff28,#daff25,#deff21,#e3ff1c,#e7ff18,#ecff13,#f1ff0e,#f4ff0b,#f6ff09,#f7ff08,#f7ff08,#f6ff09,#f5ff0a,#f3ff0c,#f1ff0e,#efff10,#ecff13,#e9ff16,#e6ff19,#e3ff1c,#dfff20,#daff25,#d5ff2a,#ceff31,#c7ff38,#beff41,#b4ff4b,#a9ff56,#9dff62,#90ff6f,#81ff7e,#72ff8d,#62ff9d,#53ffac,#45ffba,#36ffc9,#29ffd6,#1cffe3,#10ffef,#04fffb,#00f8ff,#00edff,#00e3ff,#00d9ff,#00cfff,#00c4ff,#00b9ff,#00acff,#009fff,#0092ff,#0084ff,#0078ff,#006fff)"></i>
<i style="background:linear-gradient(90deg,#00ceff,#00d5ff,#00deff,#00eaff,#00f6ff,#04fffb,#12ffed,#20ffdf,#2fffd0,#3effc1,#4dffb2,#5affa5,#67ff98,#72ff8d,#7cff83,#84ff7b,#8bff74,#92ff6d,#97ff68,#9cff63,#a0ff5f,#a3ff5c,#a6ff59,#a9ff56,#acff53,#b0ff4f,#b4ff4b,#b8ff47,#bdff42,#c1ff3e,#c4ff3b,#c6ff39,#c7ff38,#c7ff38,#c6ff39,#c5ff3a,#c3ff3c,#c1ff3e,#bfff40,#beff41,#bcff43,#b9ff46,#b7ff48,#b4ff4b,#b0ff4f,#abff54,#a5ff5a,#9eff61,#96ff69,#8dff72,#83ff7c,#78ff87,#6cff93,#5fffa0,#51ffae,#43ffbc,#35ffca,#27ffd8,#19ffe6,#0cfff3,#00fdff,#00f0ff,#00e3ff,#00d7ff,#00ccff,#00c0ff,#00b5ff,#00aaff,#009eff,#0091ff,#0084ff,#0076ff,#0067ff,#0059ff,#004dff,#0043ff)"></i>
<i style="background:linear-gradient(90deg,#00b0ff,#00b6ff,#00beff,#00c8ff,#00d2ff,#00deff,#00eaff,#00f6ff,#04fffb,#12ffed,#1effe1,#2bffd4,#36ffc9,#40ffbf,#48ffb7,#50ffaf,#57ffa8,#5cffa3,#61ff9e,#66ff99,#69ff96,#6cff93,#6fff90,#71ff8e,#74ff8b,#78ff87,#7bff84,#7fff80,#83ff7c,#87ff78,#8aff75,#8cff73,#8cff73,#8cff73,#8bff74,#8aff75,#89ff76,#87ff78,#85ff7a,#83ff7c,#81ff7e,#7fff80,#7cff83,#79ff86,#75ff8a,#71ff8e,#6bff94,#65ff9a,#5effa1,#56ffa9,#4dffb2,#43ffbc,#38ffc7,#2cffd3,#20ffdf,#13ffec,#05fffa,#00f7ff,#00e9ff,#00dcff,#00ceff,#00c1ff,#00b4ff,#00a7ff,#009aff,#008dff,#0081ff,#0074ff,#0067ff,#005aff,#004cff,#003eff,#0030ff,#0023ff,#0017ff,#000eff)"></i>
<i style="background:linear-gradient(90deg,#00a8ff,#00abff,#00b0ff,#00b6ff,#00bcff,#00c3ff,#00cbff,#00d4ff,#00ddff,#00e7ff,#00f1ff,#00fbff,#05fffa,#0dfff2,#14ffeb,#1bffe4,#21ffde,#27ffd8,#2bffd4,#30ffcf,#33ffcc,#36ffc9,#39ffc6,#3cffc3,#3fffc0,#42ffbd,#46ffb9,#4affb5,#4effb1,#51ffae,#54ffab,#56ffa9,#57ffa8,#57ffa8,#56ffa9,#54ffab,#52ffad,#4effb1,#4affb5,#45ffba,#3effc1,#36ffc9,#2fffd0,#28ffd7,#21ffde,#1cffe3,#17ffe8,#12ffed,#0dfff2,#05fffa,#00f9ff,#00eaff,#00d7ff,#00c1ff,#00abff,#0097ff,#0086ff,#007aff,#0071ff,#006aff,#0065ff,#0060ff,#005cff,#0057ff,#0053ff,#004eff,#0049ff,#0044ff,#003fff,#003aff,#0035ff,#0030ff,#002bff,#0026ff,#0022ff,#001eff)"></i>
<i style="background:linear-gradient(90deg,#00a2ff,#00a3ff,#00a4ff,#00a6ff,#00a8ff,#00abff,#00afff,#00b3ff,#00b8ff,#00bdff,#00c3ff,#00c9ff,#00d0ff,#00d6ff,#00dcff,#00e1ff,#00e7ff,#00ecff,#00f1ff,#00f5ff,#00f8ff,#00fcff,#00ffff,#03fffc,#06fff9,#0afff5,#0dfff2,#12ffed,#16ffe9,#19ffe6,#1cffe3,#1effe1,#1fffe0,#1effe1,#1dffe2,#1bffe4,#17ffe8,#11ffee,#08fff7,#00faff,#00ebff,#00dbff,#00cbff,#00bfff,#00b5ff,#00b0ff,#00acff,#00aaff,#00a6ff,#00a1ff,#0097ff,#0089ff,#0074ff,#005cff,#0044ff,#002eff,#001eff,#0013ff,#000cff,#0008ff,#0006ff,#0005ff,#0005ff,#0005ff,#0005ff,#0005ff,#0006ff,#0007ff,#0008ff,#0009ff,#000aff,#000bff,#000dff,#000eff,#000fff,#0011ff)"></i>
<i style="background:linear-gradient(90deg,#009cff,#009cff,#009bff,#009bff,#009bff,#009bff,#009cff,#009dff,#009fff,#00a1ff,#00a5ff,#00a8ff,#00acff,#00b0ff,#00b4ff,#00b8ff,#00bcff,#00c0ff,#00c4ff,#00c7ff,#00caff,#00cdff,#00d0ff,#00d2ff,#00d5ff,#00d8ff,#00dbff,#00dfff,#00e2ff,#00e5ff,#00e8ff,#00e9ff,#00eaff,#00e9ff,#00e8ff,#00e6ff,#00e2ff,#00dbff,#00d1ff,#00c2ff,#00b0ff,#009dff,#008cff,#007eff,#0075ff,#006fff,#006cff,#006bff,#0069ff,#0066ff,#005fff,#0054ff,#0044ff,#0030ff,#001bff,#0007ff,#0000f6,#0000e9,#0000e0,#0000da,#0000d4,#0000d0,#0000cc,#0000c9,#0000c5,#0000c2,#0000bf,#0000bd,#0000bb,#0000b9,#0000b8,#0000b7,#0000b6,#0000b6,#0000b5,#0000b5)"></i>
<i style="background:linear-gradient(90deg,#0092ff,#0091ff,#0090ff,#0090ff,#008fff,#008fff,#008fff,#0090ff,#0091ff,#0092ff,#0094ff,#0095ff,#0097ff,#0099ff,#009bff,#009dff,#009fff,#00a1ff,#00a3ff,#00a5ff,#00a6ff,#00a8ff,#00a9ff,#00aaff,#00acff,#00adff,#00afff,#00b1ff,#00b2ff,#00b4ff,#00b5ff,#00b6ff,#00b6ff,#00b6ff,#00b5ff,#00b4ff,#00b1ff,#00abff,#00a3ff,#0096ff,#0086ff,#0075ff,#0066ff,#0059ff,#0050ff,#004bff,#0049ff,#0048ff,#0047ff,#0044ff,#003fff,#0037ff,#002bff,#001dff,#000eff,#0000fe,#0000f2,#0000e9,#0000e2,#0000dd,#0000da,#0000d6,#0000d4,#0000d1,#0000ce,#0000cc,#0000ca,#0000c8,#0000c6,#0000c5,#0000c4,#0000c3,#0000c2,#0000c2,#0000c1,#0000c1)"></i>
<i style="background:linear-gradient(90deg,#0085ff,#0085ff,#0084ff,#0084ff,#0084ff,#0084ff,#0084ff,#0085ff,#0085ff,#0085ff,#0085ff,#0086ff,#0086ff,#0086ff,#0087ff,#0087ff,#0087ff,#0088ff,#0088ff,#0088ff,#0089ff,#0089ff,#0089ff,#0089ff,#0089ff,#008aff,#008aff,#008aff,#008aff,#008aff,#008bff,#008bff,#008bff,#008bff,#008aff,#008aff,#0088ff,#0084ff,#007dff,#0073ff,#0067ff,#0058ff,#004bff,#0040ff,#0039ff,#0035ff,#0033ff,#0032ff,#0031ff,#002fff,#002bff,#0025ff,#001cff,#0012ff,#0008ff,#0000fe,#0000f7,#0000f2,#0000f0,#0000ef,#0000ee,#0000ee,#0000ee,#0000ee,#0000ee,#0000ee,#0000ee,#0000ee,#0000ee,#0000ee,#0000ed,#0000ed,#0000ed,#0000ed,#0000ed,#0000ed)"></i>
<i style="background:linear-gradient(90deg,#0074ff,#0074ff,#0074ff,#0074ff,#0074ff,#0074ff,#0074ff,#0074ff,#0074ff,#0074ff,#0073ff,#0073ff,#0073ff,#0072ff,#0072ff,#0072ff,#0072ff,#0071ff,#0071ff,#0071ff,#0071ff,#0071ff,#0071ff,#0070ff,#0070ff,#0070ff,#0070ff,#0070ff,#0070ff,#0070ff,#0070ff,#0070ff,#0070ff,#0070ff,#0070ff,#006fff,#006eff,#006bff,#0066ff,#005eff,#0054ff,#0049ff,#003fff,#0036ff,#0030ff,#002dff,#002bff,#002aff,#002aff,#0028ff,#0026ff,#0022ff,#001cff,#0015ff,#000eff,#0008ff,#0003ff,#0001ff,#0000ff,#0000ff,#0000ff,#0001ff,#0001ff,#0002ff,#0002ff,#0002ff,#0003ff,#0003ff,#0003ff,#0003ff,#0003ff,#0003ff,#0003ff,#0003ff,#0003ff,#0003ff)"></i>
<i style="background:linear-gradient(90deg,#0060ff,#0060ff,#0060ff,#0060ff,#0060ff,#005fff,#005fff,#005fff,#005fff,#005fff,#005fff,#005fff,#005eff,#005eff,#005eff,#005eff,#005eff,#005eff,#005eff,#005dff,#005dff,#005dff,#005dff,#005dff,#005dff,#005dff,#005dff,#005dff,#005dff,#005dff,#005dff,#005dff,#005dff,#005dff,#005dff,#005cff,#005bff,#0059ff,#0055ff,#004fff,#0047ff,#003fff,#0037ff,#0030ff,#002cff,#0029ff,#0028ff,#0027ff,#0027ff,#0026ff,#0025ff,#0023ff,#0020ff,#001cff,#0019ff,#0016ff,#0013ff,#0012ff,#0012ff,#0012ff,#0012ff,#0012ff,#0012ff,#0013ff,#0013ff,#0013ff,#0013ff,#0013ff,#0013ff,#0013ff,#0013ff,#0013ff,#0013ff,#0013ff,#0013ff,#0013ff)"></i>
<i style="background:linear-gradient(90deg,#004cff,#004cff,#004cff,#004cff,#004cff,#004cff,#004cff,#004cff,#004cff,#004cff,#004cff,#004cff,#004cff,#004cff,#004cff,#004cff,#004cff,#004cff,#004cff,#004cff,#004cff,#004cff,#004cff,#004cff,#004cff,#004cff,#004cff,#004cff,#004cff,#004cff,#004cff,#004cff,#004cff,#004cff,#004cff,#004bff,#004bff,#0049ff,#0046ff,#0041ff,#003cff,#0035ff,#002fff,#002aff,#0027ff,#0025ff,#0024ff,#0024ff,#0023ff,#0023ff,#0022ff,#0022ff,#0020ff,#001fff,#001dff,#001cff,#001bff,#001aff,#001aff,#001aff,#001aff,#0019ff,#0019ff,#0019ff,#0019ff,#0019ff,#0019ff,#0019ff,#0019ff,#0019ff,#0019ff,#0019ff,#0019ff,#0019ff,#0019ff,#0019ff)"></i>
<i style="background:linear-gradient(90deg,#003cff,#003cff,#003cff,#003cff,#003cff,#003cff,#003cff,#003cff,#003cff,#003cff,#003cff,#003cff,#003cff,#003cff,#003cff,#003cff,#003cff,#003cff,#003cff,#003cff,#003cff,#003cff,#003cff,#003cff,#003cff,#003cff,#003cff,#003cff,#003cff,#003cff,#003cff,#003cff,#003cff,#003cff,#003bff,#003bff,#003bff,#0039ff,#0037ff,#0034ff,#002fff,#002bff,#0026ff,#0022ff,#0020ff,#001eff,#001eff,#001dff,#001dff,#001dff,#001cff,#001cff,#001aff,#0019ff,#0018ff,#0017ff,#0016ff,#0015ff,#0015ff,#0015ff,#0015ff,#0015ff,#0015ff,#0015ff,#0015ff,#0015ff,#0015ff,#0015ff,#0015ff,#0015ff,#0015ff,#0015ff,#0015ff,#0015ff,#0015ff,#0015ff)"></i>
<i style="background:linear-gradient(90deg,#002cff,#002cff,#002cff,#002cff,#002cff,#002cff,#002cff,#002cff,#002cff,#002cff,#002cff,#002cff,#002cff,#002cff,#002cff,#002cff,#002cff,#002cff,#002cff,#002cff,#002cff,#002cff,#002cff,#002cff,#002cff,#002cff,#002cff,#002cff,#002cff,#002cff,#002cff,#002cff,#002cff,#002cff,#002cff,#002cff,#002cff,#002bff,#0029ff,#0026ff,#0023ff,#001fff,#001cff,#0019ff,#0017ff,#0016ff,#0015ff,#0015ff,#0015ff,#0014ff,#0014ff,#0013ff,#0012ff,#0010ff,#000fff,#000dff,#000cff,#000cff,#000bff,#000bff,#000bff,#000bff,#000bff,#000bff,#000bff,#000bff,#000bff,#000bff,#000bff,#000bff,#000bff,#000bff,#000bff,#000bff,#000bff,#000bff)"></i>
<i style="background:linear-gradient(90deg,#001dff,#001dff,#001dff,#001dff,#001dff,#001dff,#001dff,#001dff,#001dff,#001dff,#001dff,#001dff,#001dff,#001dff,#001dff,#001dff,#001dff,#001dff,#001dff,#001dff,#001dff,#001dff,#001dff,#001dff,#001dff,#001dff,#001dff,#001dff,#001dff,#001dff,#001dff,#001dff,#001dff,#001dff,#001dff,#001dff,#001cff,#001bff,#001aff,#0018ff,#0015ff,#0012ff,#000fff,#000dff,#000bff,#000bff,#000aff,#000aff,#000aff,#0009ff,#0009ff,#0008ff,#0007ff,#0005ff,#0003ff,#0002ff,#0001ff,#0000ff,#0000ff,#0000ff,#0000ff,#0000ff,#0000ff,#0000ff,#0000ff,#0000ff,#0000ff,#0000ff,#0000ff,#0000ff,#0000ff,#0000ff,#0000ff,#0000ff,#0000ff,#0000ff)"></i>
<i style="background:linear-gradient(90deg,#000cff,#000cff,#000cff,#000cff,#000cff,#000cff,#000cff,#000cff,#000cff,#000cff,#000cff,#000cff,#000cff,#000cff,#000cff,#000cff,#000cff,#000cff,#000cff,#000cff,#000cff,#000cff,#000cff,#000cff,#000cff,#000cff,#000cff,#000cff,#000cff,#000cff,#000cff,#000cff,#000cff,#000cff,#000cff,#000cff,#000cff,#000bff,#000aff,#0008ff,#0005ff,#0002ff,#0000fe,#0000fc,#0000fa,#0000f9,#0000f9,#0000f9,#0000f8,#0000f8,#0000f7,#0000f7,#0000f5,#0000f4,#0000f2,#0000f1,#0000f0,#0000ef,#0000ef,#0000ee,#0000ee,#0000ee,#0000ee,#0000ee,#0000ee,#0000ee,#0000ee,#0000ee,#0000ee,#0000ee,#0000ee,#0000ee,#0000ee,#0000ee,#0000ee,#0000ee)"></i>
<i style="background:linear-gradient(90deg,#0000fc,#0000fc,#0000fc,#0000fc,#0000fc,#0000fc,#0000fc,#0000fc,#0000fc,#0000fc,#0000fc,#0000fc,#0000fc,#0000fc,#0000fc,#0000fc,#0000fc,#0000fc,#0000fc,#0000fc,#0000fc,#0000fc,#0000fc,#0000fc,#0000fc,#0000fc,#0000fc,#0000fc,#0000fc,#0000fc,#0000fc,#0000fc,#0000fc,#0000fc,#0000fc,#0000fc,#0000fc,#0000fb,#0000f9,#0000f7,#0000f4,#0000f1,#0000ee,#0000eb,#0000ea,#0000e9,#0000e8,#0000e8,#0000e8,#0000e7,#0000e7,#0000e6,#0000e5,#0000e3,#0000e1,#0000e0,#0000df,#0000de,#0000de,#0000de,#0000de,#0000de,#0000de,#0000de,#0000de,#0000de,#0000de,#0000de,#0000de,#0000de,#0000de,#0000de,#0000de,#0000de,#0000de,#0000de)"></i>
<i style="background:linear-gradient(90deg,#0000ef,#0000ef,#0000ef,#0000ef,#0000ef,#0000ef,#0000ef,#0000ef,#0000ef,#0000ef,#0000ef,#0000ef,#0000ef,#0000ef,#0000ef,#0000ef,#0000ef,#0000ef,#0000ef,#0000ef,#0000ef,#0000ef,#0000ef,#0000ef,#0000ef,#0000ef,#0000ef,#0000ef,#0000ef,#0000ef,#0000ef,#0000ef,#0000ef,#0000ef,#0000ef,#0000ef,#0000ef,#0000ee,#0000ec,#0000ea,#0000e7,#0000e4,#0000e1,#0000de,#0000dc,#0000db,#0000db,#0000db,#0000da,#0000da,#0000da,#0000d9,#0000d7,#0000d6,#0000d4,#0000d3,#0000d2,#0000d1,#0000d1,#0000d1,#0000d0,#0000d0,#0000d0,#0000d0,#0000d0,#0000d0,#0000d0,#0000d0,#0000d0,#0000d0,#0000d0,#0000d0,#0000d0,#0000d0,#0000d0,#0000d0)"></i>
<i style="background:linear-gradient(90deg,#0000e4,#0000e4,#0000e4,#0000e4,#0000e4,#0000e4,#0000e4,#0000e4,#0000e4,#0000e4,#0000e4,#0000e4,#0000e4,#0000e4,#0000e4,#0000e4,#0000e4,#0000e4,#0000e4,#0000e4,#0000e4,#0000e4,#0000e4,#0000e4,#0000e4,#0000e4,#0000e4,#0000e4,#0000e4,#0000e4,#0000e4,#0000e4,#0000e4,#0000e4,#0000e4,#0000e4,#0000e3,#0000e3,#0000e1,#0000df,#0000dc,#0000d8,#0000d5,#0000d2,#0000d1,#0000d0,#0000cf,#0000cf,#0000cf,#0000ce,#0000ce,#0000cd,#0000cb,#0000ca,#0000c8,#0000c7,#0000c6,#0000c5,#0000c5,#0000c5,#0000c5,#0000c5,#0000c5,#0000c5,#0000c5,#0000c5,#0000c5,#0000c5,#0000c5,#0000c5,#0000c5,#0000c5,#0000c5,#0000c5,#0000c5,#0000c5)"></i>
<i style="background:linear-gradient(90deg,#0000d9,#0000d9,#0000d9,#0000d9,#0000d9,#0000d9,#0000d9,#0000d9,#0000d9,#0000d9,#0000d9,#0000d9,#0000d9,#0000d9,#0000d9,#0000d9,#0000d9,#0000d9,#0000d9,#0000d9,#0000d9,#0000d9,#0000d9,#0000d9,#0000d9,#0000d9,#0000d9,#0000d9,#0000d9,#0000d9,#0000d9,#0000d9,#0000d9,#0000d9,#0000d8,#0000d8,#0000d8,#0000d7,#0000d6,#0000d3,#0000d1,#0000cd,#0000ca,#0000c8,#0000c6,#0000c5,#0000c5,#0000c5,#0000c5,#0000c4,#0000c4,#0000c3,#0000c1,#0000c0,#0000be,#0000bd,#0000bc,#0000bb,#0000bb,#0000bb,#0000bb,#0000bb,#0000bb,#0000bb,#0000bb,#0000bb,#0000bb,#0000bb,#0000bb,#0000bb,#0000bb,#0000bb,#0000bb,#0000bb,#0000bb,#0000bb)"></i>
<i style="background:linear-gradient(90deg,#0000cb,#0000cb,#0000cb,#0000cb,#0000cb,#0000cb,#0000cb,#0000cb,#0000cb,#0000cb,#0000cb,#0000cb,#0000cb,#0000cb,#0000cb,#0000cb,#0000cb,#0000cb,#0000cb,#0000cb,#0000cb,#0000cb,#0000cb,#0000cb,#0000cb,#0000cb,#0000cb,#0000cb,#0000cb,#0000cb,#0000cb,#0000cb,#0000cb,#0000cb,#0000cb,#0000cb,#0000cb,#0000ca,#0000c9,#0000c8,#0000c5,#0000c3,#0000c0,#0000bf,#0000bd,#0000bd,#0000bc,#0000bc,#0000bc,#0000bc,#0000bb,#0000ba,#0000b8,#0000b7,#0000b5,#0000b4,#0000b2,#0000b2,#0000b1,#0000b1,#0000b1,#0000b1,#0000b1,#0000b1,#0000b1,#0000b1,#0000b1,#0000b1,#0000b1,#0000b1,#0000b1,#0000b1,#0000b1,#0000b1,#0000b1,#0000b1)"></i>
<i style="background:linear-gradient(90deg,#0000c0,#0000c0,#0000c0,#0000c0,#0000c0,#0000c0,#0000c0,#0000c0,#0000c0,#0000c0,#0000c0,#0000c0,#0000c0,#0000c0,#0000c0,#0000c0,#0000c0,#0000c0,#0000c0,#0000c0,#0000c0,#0000c0,#0000c0,#0000c0,#0000c0,#0000c0,#0000c0,#0000c0,#0000c0,#0000c0,#0000c0,#0000c0,#0000c0,#0000c0,#0000c0,#0000c0,#0000c0,#0000bf,#0000be,#0000bd,#0000bb,#0000ba,#0000b8,#0000b7,#0000b6,#0000b5,#0000b5,#0000b5,#0000b5,#0000b4,#0000b4,#0000b3,#0000b1,#0000b0,#0000ae,#0000ac,#0000ab,#0000ab,#0000aa,#0000aa,#0000aa,#0000aa,#0000aa,#0000aa,#0000aa,#0000aa,#0000aa,#0000aa,#0000aa,#0000aa,#0000aa,#0000aa,#0000aa,#0000aa,#0000aa,#0000aa)"></i>
<i style="background:linear-gradient(90deg,#0000b8,#0000b8,#0000b8,#0000b8,#0000b8,#0000b8,#0000b8,#0000b8,#0000b8,#0000b8,#0000b8,#0000b8,#0000b8,#0000b8,#0000b8,#0000b8,#0000b8,#0000b8,#0000b8,#0000b8,#0000b8,#0000b8,#0000b8,#0000b8,#0000b8,#0000b8,#0000b8,#0000b8,#0000b8,#0000b8,#0000b8,#0000b8,#0000b8,#0000b8,#0000b8,#0000b8,#0000b8,#0000b8,#0000b7,#0000b6,#0000b5,#0000b3,#0000b2,#0000b1,#0000b0,#0000b0,#0000af,#0000af,#0000af,#0000af,#0000ae,#0000ae,#0000ac,#0000ab,#0000aa,#0000a8,#0000a7,#0000a7,#0000a7,#0000a6,#0000a6,#0000a6,#0000a6,#0000a6,#0000a6,#0000a6,#0000a6,#0000a6,#0000a6,#0000a6,#0000a6,#0000a6,#0000a6,#0000a6,#0000a6,#0000a6)"></i>
<i style="background:linear-gradient(90deg,#0000b3,#0000b3,#0000b3,#0000b3,#0000b3,#0000b3,#0000b3,#0000b3,#0000b3,#0000b3,#0000b3,#0000b3,#0000b3,#0000b3,#0000b3,#0000b3,#0000b3,#0000b3,#0000b3,#0000b3,#0000b3,#0000b3,#0000b3,#0000b3,#0000b3,#0000b3,#0000b3,#0000b3,#0000b3,#0000b3,#0000b3,#0000b3,#0000b3,#0000b3,#0000b2,#0000b2,#0000b2,#0000b2,#0000b1,#0000b0,#0000af,#0000ae,#0000ad,#0000ac,#0000ab,#0000ab,#0000ab,#0000ab,#0000aa,#0000aa,#0000aa,#0000a9,#0000a8,#0000a7,#0000a6,#0000a5,#0000a5,#0000a4,#0000a4,#0000a4,#0000a4,#0000a4,#0000a4,#0000a4,#0000a4,#0000a4,#0000a4,#0000a4,#0000a4,#0000a4,#0000a4,#0000a4,#0000a4,#0000a4,#0000a4,#0000a4)"></i>
<i style="background:linear-gradient(90deg,#0000ae,#0000ae,#0000ae,#0000ae,#0000ae,#0000ae,#0000ae,#0000ae,#0000ae,#0000ae,#0000ae,#0000ae,#0000ae,#0000ae,#0000ae,#0000ae,#0000ae,#0000ae,#0000ae,#0000ae,#0000ae,#0000ae,#0000ae,#0000ae,#0000ae,#0000ae,#0000ae,#0000ae,#0000ae,#0000ae,#0000ae,#0000ae,#0000ae,#0000ae,#0000ae,#0000ad,#0000ad,#0000ad,#0000ad,#0000ac,#0000ab,#0000aa,#0000a8,#0000a8,#0000a7,#0000a7,#0000a6,#0000a6,#0000a6,#0000a6,#0000a6,#0000a6,#0000a5,#0000a4,#0000a4,#0000a3,#0000a3,#0000a2,#0000a2,#0000a2,#0000a2,#0000a2,#0000a2,#0000a2,#0000a2,#0000a2,#0000a2,#0000a2,#0000a2,#0000a2,#0000a2,#0000a2,#0000a2,#0000a2,#0000a2,#0000a2)"></i>
<i style="background:linear-gradient(90deg,#0000a9,#0000a9,#0000a9,#0000a9,#0000a9,#0000a9,#0000a9,#0000a9,#0000a9,#0000a9,#0000a9,#0000a9,#0000a9,#0000a9,#0000a9,#0000a9,#0000a9,#0000a9,#0000a9,#0000a9,#0000a9,#0000a9,#0000a9,#0000a9,#0000a9,#0000a9,#0000a9,#0000a9,#0000a9,#0000a9,#0000a9,#0000a9,#0000a9,#0000a9,#0000a9,#0000a9,#0000a9,#0000a9,#0000a8,#0000a8,#0000a7,#0000a6,#0000a5,#0000a4,#0000a3,#0000a3,#0000a3,#0000a3,#0000a3,#0000a3,#0000a3,#0000a2,#0000a2,#0000a2,#0000a1,#0000a1,#0000a1,#0000a1,#0000a1,#0000a1,#0000a1,#0000a1,#0000a1,#0000a1,#0000a1,#0000a1,#0000a1,#0000a1,#0000a1,#0000a1,#0000a1,#0000a1,#0000a1,#0000a1,#0000a1,#0000a1)"></i>
<i style="background:linear-gradient(90deg,#0000a5,#0000a5,#0000a5,#0000a5,#0000a5,#0000a5,#0000a5,#0000a5,#0000a5,#0000a5,#0000a5,#0000a5,#0000a5,#0000a5,#0000a5,#0000a5,#0000a5,#0000a5,#0000a5,#0000a5,#0000a5,#0000a5,#0000a5,#0000a5,#0000a5,#0000a5,#0000a5,#0000a5,#0000a5,#0000a5,#0000a5,#0000a5,#0000a5,#0000a5,#0000a5,#0000a5,#0000a5,#0000a5,#0000a5,#0000a4,#0000a3,#0000a2,#0000a1,#0000a1,#0000a0,#0000a0,#0000a0,#0000a0,#0000a0,#0000a0,#0000a0,#0000a0,#0000a0,#00009f,#00009f,#00009f,#00009f,#00009f,#00009f,#00009f,#00009f,#00009f,#00009f,#00009f,#00009f,#00009f,#00009f,#00009f,#00009f,#00009f,#00009f,#00009f,#00009f,#00009f,#00009f,#00009f)"></i>
<i style="background:linear-gradient(90deg,#0000a2,#0000a2,#0000a2,#0000a2,#0000a2,#0000a2,#0000a2,#0000a2,#0000a2,#0000a2,#0000a2,#0000a2,#0000a2,#0000a2,#0000a2,#0000a2,#0000a2,#0000a2,#0000a2,#0000a2,#0000a2,#0000a2,#0000a2,#0000a2,#0000a2,#0000a2,#0000a2,#0000a2,#0000a2,#0000a2,#0000a2,#0000a2,#0000a2,#0000a2,#0000a2,#0000a2,#0000a2,#0000a1,#0000a1,#0000a1,#0000a0,#00009f,#00009e,#00009e,#00009d,#00009d,#00009d,#00009d,#00009d,#00009d,#00009d,#00009d,#00009d,#00009d,#00009d,#00009d,#00009d,#00009d,#00009d,#00009d,#00009d,#00009d,#00009d,#00009d,#00009d,#00009d,#00009d,#00009d,#00009d,#00009d,#00009d,#00009d,#00009d,#00009d,#00009d,#00009d)"></i>
<i style="background:linear-gradient(90deg,#00009e,#00009e,#00009e,#00009e,#00009e,#00009e,#00009e,#00009e,#00009e,#00009e,#00009e,#00009e,#00009e,#00009e,#00009e,#00009e,#00009e,#00009e,#00009e,#00009e,#00009e,#00009e,#00009e,#00009e,#00009e,#00009e,#00009e,#00009e,#00009e,#00009e,#00009e,#00009e,#00009e,#00009e,#00009e,#00009e,#00009e,#00009e,#00009e,#00009d,#00009d,#00009c,#00009c,#00009b,#00009b,#00009b,#00009b,#00009b,#00009b,#00009b,#00009b,#00009b,#00009b,#00009b,#00009b,#00009b,#00009b,#00009b,#00009b,#00009b,#00009b,#00009b,#00009b,#00009b,#00009b,#00009b,#00009b,#00009b,#00009b,#00009b,#00009b,#00009b,#00009b,#00009b,#00009b,#00009b)"></i>
<i style="background:linear-gradient(90deg,#00009b,#00009b,#00009b,#00009b,#00009b,#00009b,#00009b,#00009b,#00009b,#00009b,#00009b,#00009b,#00009b,#00009b,#00009b,#00009b,#00009b,#00009b,#00009b,#00009b,#00009b,#00009b,#00009b,#00009b,#00009b,#00009b,#00009b,#00009b,#00009b,#00009b,#00009b,#00009b,#00009b,#00009b,#00009b,#00009b,#00009b,#00009b,#00009b,#00009b,#00009a,#00009a,#00009a,#000099,#000099,#000099,#000099,#000099,#000099,#000099,#000099,#000099,#000099,#000099,#000099,#000099,#000099,#000099,#000099,#000099,#000099,#000099,#000099,#000099,#000099,#000099,#000099,#000099,#000099,#000099,#000099,#000099,#000099,#000099,#000099,#000099)"></i>
<i style="background:linear-gradient(90deg,#000098,#000098,#000098,#000098,#000098,#000098,#000098,#000098,#000098,#000098,#000098,#000098,#000098,#000098,#000098,#000098,#000098,#000098,#000098,#000098,#000098,#000098,#000098,#000098,#000098,#000098,#000098,#000098,#000098,#000098,#000098,#000098,#000098,#000098,#000098,#000098,#000098,#000098,#000098,#000098,#000098,#000098,#000098,#000097,#000097,#000097,#000097,#000097,#000097,#000097,#000097,#000097,#000097,#000097,#000097,#000097,#000097,#000097,#000097,#000097,#000097,#000097,#000097,#000097,#000097,#000097,#000097,#000097,#000097,#000097,#000097,#000097,#000097,#000097,#000097,#000097)"></i>
<i style="background:linear-gradient(90deg,#000096,#000096,#000096,#000096,#000096,#000096,#000096,#000096,#000096,#000096,#000096,#000096,#000096,#000096,#000096,#000096,#000096,#000096,#000096,#000096,#000096,#000096,#000096,#000096,#000096,#000096,#000096,#000096,#000096,#000096,#000096,#000096,#000096,#000096,#000096,#000096,#000096,#000096,#000096,#000096,#000096,#000096,#000096,#000095,#000095,#000095,#000095,#000095,#000095,#000095,#000095,#000095,#000095,#000095,#000095,#000095,#000095,#000095,#000095,#000095,#000095,#000095,#000095,#000095,#000095,#000095,#000095,#000095,#000095,#000095,#000095,#000095,#000095,#000095,#000095,#000095)"></i>
<i style="background:linear-gradient(90deg,#000093,#000093,#000093,#000093,#000093,#000093,#000093,#000093,#000093,#000093,#000093,#000093,#000093,#000093,#000093,#000093,#000093,#000093,#000093,#000093,#000093,#000093,#000093,#000093,#000093,#000093,#000093,#000093,#000093,#000093,#000093,#000093,#000093,#000093,#000093,#000093,#000093,#000093,#000093,#000093,#000093,#000093,#000093,#000093,#000093,#000093,#000093,#000093,#000093,#000093,#000093,#000093,#000093,#000093,#000093,#000093,#000093,#000093,#000093,#000093,#000093,#000093,#000093,#000093,#000093,#000093,#000093,#000093,#000093,#000093,#000093,#000093,#000093,#000093,#000093,#000093)"></i>
<i style="background:linear-gradient(90deg,#000091,#000091,#000091,#000091,#000091,#000091,#000091,#000091,#000091,#000091,#000091,#000091,#000091,#000091,#000091,#000091,#000091,#000091,#000091,#000091,#000091,#000091,#000091,#000091,#000091,#000091,#000091,#000091,#000091,#000091,#000091,#000091,#000091,#000091,#000091,#000091,#000091,#000091,#000091,#000091,#000091,#000091,#000091,#000091,#000092,#000092,#000092,#000092,#000092,#000092,#000092,#000092,#000092,#000092,#000092,#000092,#000092,#000092,#000092,#000092,#000092,#000092,#000092,#000092,#000092,#000092,#000092,#000092,#000092,#000092,#000092,#000092,#000092,#000092,#000092,#000092)"></i>
<i style="background:linear-gradient(90deg,#00008f,#00008f,#00008f,#00008f,#00008f,#00008f,#00008f,#00008f,#00008f,#00008f,#00008f,#00008f,#00008f,#00008f,#00008f,#00008f,#00008f,#00008f,#00008f,#00008f,#00008f,#00008f,#00008f,#00008f,#00008f,#00008f,#00008f,#00008f,#00008f,#00008f,#00008f,#00008f,#00008f,#00008f,#00008f,#00008f,#00008f,#00008f,#00008f,#00008f,#00008f,#00008f,#00008f,#00008f,#000090,#000090,#000090,#000090,#000090,#000090,#000090,#000090,#000090,#000090,#000090,#000090,#000090,#000090,#000090,#000090,#000090,#000090,#000090,#000090,#000090,#000090,#000090,#000090,#000090,#000090,#000090,#000090,#000090,#000090,#000090,#000090)"></i>
<i style="background:linear-gradient(90deg,#00008d,#00008d,#00008d,#00008d,#00008d,#00008d,#00008d,#00008d,#00008d,#00008d,#00008d,#00008d,#00008d,#00008d,#00008d,#00008d,#00008d,#00008d,#00008d,#00008d,#00008d,#00008d,#00008d,#00008d,#00008d,#00008d,#00008d,#00008d,#00008d,#00008d,#00008d,#00008d,#00008d,#00008d,#00008d,#00008d,#00008d,#00008d,#00008d,#00008d,#00008d,#00008d,#00008d,#00008e,#00008e,#00008e,#00008e,#00008e,#00008e,#00008e,#00008e,#00008e,#00008e,#00008e,#00008e,#00008e,#00008e,#00008e,#00008e,#00008e,#00008e,#00008e,#00008e,#00008e,#00008e,#00008e,#00008e,#00008e,#00008e,#00008e,#00008e,#00008e,#00008e,#00008e,#00008e,#00008e)"></i>
<i style="background:linear-gradient(90deg,#00008b,#00008b,#00008b,#00008b,#00008b,#00008b,#00008b,#00008b,#00008b,#00008b,#00008b,#00008b,#00008b,#00008b,#00008b,#00008b,#00008b,#00008b,#00008b,#00008b,#00008b,#00008b,#00008b,#00008b,#00008b,#00008b,#00008b,#00008b,#00008b,#00008b,#00008b,#00008b,#00008b,#00008b,#00008b,#00008b,#00008b,#00008b,#00008b,#00008b,#00008b,#00008b,#00008c,#00008c,#00008c,#00008c,#00008c,#00008c,#00008c,#00008c,#00008c,#00008c,#00008c,#00008c,#00008c,#00008c,#00008c,#00008c,#00008c,#00008c,#00008c,#00008c,#00008c,#00008c,#00008c,#00008c,#00008c,#00008c,#00008c,#00008c,#00008c,#00008c,#00008c,#00008c,#00008c,#00008c)"></i>
<i style="background:linear-gradient(90deg,#00008a,#00008a,#00008a,#00008a,#00008a,#00008a,#00008a,#00008a,#00008a,#00008a,#00008a,#00008a,#00008a,#00008a,#00008a,#00008a,#00008a,#00008a,#00008a,#00008a,#00008a,#00008a,#00008a,#00008a,#00008a,#00008a,#00008a,#00008a,#00008a,#00008a,#00008a,#00008a,#00008a,#00008a,#00008a,#00008a,#00008a,#00008a,#00008a,#00008a,#00008a,#00008a,#00008a,#00008a,#00008a,#00008a,#00008a,#00008a,#00008a,#00008a,#00008a,#00008a,#00008a,#00008a,#00008a,#00008a,#00008a,#00008a,#00008a,#00008a,#00008a,#00008a,#00008a,#00008a,#00008a,#00008a,#00008a,#00008a,#00008a,#00008a,#00008a,#00008a,#00008a,#00008a,#00008a,#00008a)"></i>
<i style="background:linear-gradient(90deg,#00008a,#00008a,#00008a,#00008a,#00008a,#00008a,#00008a,#00008a,#00008a,#00008a,#00008a,#00008a,#00008a,#00008a,#00008a,#00008a,#00008a,#00008a,#00008a,#00008a,#00008a,#00008a,#00008a,#00008a,#00008a,#00008a,#00008a,#00008a,#00008a,#00008a,#00008a,#00008a,#00008a,#00008a,#00008a,#00008a,#00008a,#00008a,#00008a,#00008a,#00008a,#00008a,#00008a,#00008a,#00008a,#00008a,#00008a,#00008a,#00008a,#00008a,#00008a,#00008a,#00008a,#00008a,#00008a,#00008a,#00008a,#00008a,#00008a,#00008a,#00008a,#00008a,#00008a,#00008a,#00008a,#00008a,#00008a,#00008a,#00008a,#00008a,#00008a,#00008a,#00008a,#00008a,#00008a,#00008a)"></i>
<i style="background:linear-gradient(90deg,#00008a,#00008a,#00008a,#00008a,#00008a,#00008a,#00008a,#00008a,#00008a,#00008a,#00008a,#00008a,#00008a,#00008a,#00008a,#00008a,#00008a,#00008a,#00008a,#00008a,#00008a,#00008a,#00008a,#00008a,#00008a,#00008a,#00008a,#00008a,#00008a,#00008a,#00008a,#00008a,#00008a,#00008a,#00008a,#00008a,#00008a,#00008a,#00008a,#00008a,#00008a,#00008a,#00008a,#00008a,#00008a,#00008a,#00008a,#00008a,#00008a,#00008a,#00008a,#00008a,#00008a,#00008a,#00008a,#00008a,#00008a,#00008a,#00008a,#00008a,#00008a,#00008a,#00008a,#00008a,#00008a,#00008a,#00008a,#00008a,#00008a,#00008a,#00008a,#00008a,#00008a,#00008a,#00008a,#00008a)"></i>
<i style="background:linear-gradient(90deg,#00008a,#00008a,#00008a,#00008a,#00008a,#00008a,#00008a,#00008a,#00008a,#00008a,#00008a,#00008a,#00008a,#00008a,#00008a,#00008a,#00008a,#00008a,#00008a,#00008a,#00008a,#00008a,#00008a,#00008a,#00008a,#00008a,#00008a,#00008a,#00008a,#00008a,#00008a,#00008a,#00008a,#00008a,#00008a,#00008a,#00008a,#00008a,#00008a,#00008a,#00008a,#00008a,#00008a,#00008a,#00008a,#00008a,#00008a,#00008a,#00008a,#00008a,#00008a,#00008a,#00008a,#00008a,#00008a,#00008a,#00008a,#00008a,#00008a,#00008a,#00008a,#00008a,#00008a,#00008a,#00008a,#00008a,#00008a,#00008a,#00008a,#00008a,#00008a,#00008a,#00008a,#00008a,#00008a,#00008a)"></i>
</div></div>
<div class="hm" style="left:56px;top:335px;width:450px;height:251px"><div class="in">
<i style="background:linear-gradient(90deg,#0000bb,#0000c2,#0000ca,#0000d1,#0000d8,#0000de,#0000e2,#0000e4,#0000e5,#0000e5,#0000e6,#0000e6,#0000e6,#0000e7,#0000e8,#0000e9,#0000ea,#0000ec,#0000ee,#0000f0,#0000f2,#0000f4,#0000f6,#0000f7,#0000f8,#0000f9,#0000fa,#0000fa,#0000fa,#0000fa,#0000fa,#0000fa,#0000fa,#0000fa,#0000fa,#0000fa,#0000fa,#0000fa,#0000fa,#0000fa,#0000fa,#0000fa,#0000fa,#0000fa,#0000fa,#0000fa,#0000fa,#0000fa,#0000fa,#0000fa,#0000fa,#0000fa,#0000fa,#0000fa,#0000fa,#0000fb,#0000fc,#0000ff,#0004ff,#0008ff,#000dff,#0011ff,#0014ff,#0015ff,#0015ff,#0013ff,#0010ff,#000cff,#0008ff,#0004ff,#0000fe,#0000fa,#0000f5,#0000f1,#0000ed,#0000ea)"></i>
<i style="background:linear-gradient(90deg,#0000bb,#0000c2,#0000ca,#0000d1,#0000d8,#0000de,#0000e2,#0000e4,#0000e5,#0000e5,#0000e6,#0000e6,#0000e6,#0000e7,#0000e8,#0000e9,#0000ea,#0000ec,#0000ee,#0000f0,#0000f2,#0000f4,#0000f6,#0000f7,#0000f8,#0000f9,#0000fa,#0000fa,#0000fa,#0000fa,#0000fa,#0000fa,#0000fa,#0000fa,#0000fa,#0000fa,#0000fa,#0000fa,#0000fa,#0000fa,#0000fa,#0000fa,#0000fa,#0000fa,#0000fa,#0000fa,#0000fa,#0000fa,#0000fa,#0000fa,#0000fa,#0000fa,#0000fa,#0000fa,#0000fa,#0000fb,#0000fc,#0000ff,#0004ff,#0008ff,#000dff,#0011ff,#0014ff,#0015ff,#0015ff,#0013ff,#0010ff,#000cff,#0008ff,#0004ff,#0000fe,#0000fa,#0000f5,#0000f1,#0000ed,#0000ea)"></i>
<i style="background:linear-gradient(90deg,#0000bb,#0000c2,#0000ca,#0000d1,#0000d8,#0000de,#0000e2,#0000e4,#0000e5,#0000e5,#0000e6,#0000e6,#0000e6,#0000e7,#0000e8,#0000e9,#0000ea,#0000ec,#0000ee,#0000f0,#0000f2,#0000f4,#0000f6,#0000f7,#0000f8,#0000f9,#0000fa,#0000fa,#0000fa,#0000fa,#0000fa,#0000fa,#0000fa,#0000fa,#0000fa,#0000fa,#0000fa,#0000fa,#0000fa,#0000fa,#0000fa,#0000fa,#0000fa,#0000fa,#0000fa,#0000fa,#0000fa,#0000fa,#0000fa,#0000fa,#0000fa,#0000fa,#0000fa,#0000fa,#0000fa,#0000fb,#0000fc,#0000ff,#0004ff,#0008ff,#000dff,#0011ff,#0014ff,#0015ff,#0015ff,#0013ff,#0010ff,#000cff,#0008ff,#0004ff,#0000fe,#0000fa,#0000f5,#0000f1,#0000ed,#0000ea)"></i>
<i style="background:linear-gradient(90deg,#0000bb,#0000c2,#0000ca,#0000d1,#0000d8,#0000de,#0000e2,#0000e4,#0000e5,#0000e5,#0000e6,#0000e6,#0000e6,#0000e7,#0000e8,#0000e9,#0000ea,#0000ec,#0000ee,#0000f0,#0000f2,#0000f4,#0000f6,#0000f7,#0000f8,#0000f9,#0000fa,#0000fa,#0000fa,#0000fa,#0000fa,#0000fa,#0000fa,#0000fa,#0000fa,#0000fa,#0000fa,#0000fa,#0000fa,#0000fa,#0000fa,#0000fa,#0000fa,#0000fa,#0000fa,#0000fa,#0000fa,#0000fa,#0000fa,#0000fa,#0000fa,#0000fa,#0000fa,#0000fa,#0000fa,#0000fb,#0000fc,#0000ff,#0004ff,#0008ff,#000dff,#0011ff,#0014ff,#0015ff,#0015ff,#0013ff,#0010ff,#000cff,#0008ff,#0004ff,#0000fe,#0000fa,#0000f5,#0000f1,#0000ed,#0000ea)"></i>
<i style="background:linear-gradient(90deg,#0000bd,#0000c3,#0000cb,#0000d2,#0000d9,#0000de,#0000e2,#0000e4,#0000e5,#0000e5,#0000e6,#0000e6,#0000e6,#0000e6,#0000e7,#0000e9,#0000ea,#0000ec,#0000ef,#0000f1,#0000f4,#0000f8,#0000fb,#0000fe,#0002ff,#0003ff,#0004ff,#0005ff,#0005ff,#0005ff,#0005ff,#0005ff,#0005ff,#0004ff,#0004ff,#0003ff,#0003ff,#0002ff,#0002ff,#0002ff,#0002ff,#0002ff,#0002ff,#0002ff,#0003ff,#0003ff,#0004ff,#0004ff,#0005ff,#0006ff,#0006ff,#0007ff,#0007ff,#0007ff,#0007ff,#0008ff,#0009ff,#000cff,#000fff,#0013ff,#0017ff,#001bff,#001dff,#001eff,#001eff,#001cff,#0019ff,#0015ff,#0011ff,#000cff,#0008ff,#0003ff,#0000fd,#0000f8,#0000f4,#0000f0)"></i>
<i style="background:linear-gradient(90deg,#0000bf,#0000c4,#0000cc,#0000d3,#0000d9,#0000de,#0000e2,#0000e4,#0000e5,#0000e5,#0000e6,#0000e6,#0000e6,#0000e6,#0000e7,#0000e9,#0000ea,#0000ec,#0000ef,#0000f2,#0000f6,#0000fb,#0001ff,#0005ff,#0008ff,#000bff,#000cff,#000dff,#000dff,#000eff,#000eff,#000dff,#000dff,#000cff,#000bff,#000aff,#0009ff,#0008ff,#0008ff,#0008ff,#0008ff,#0008ff,#0008ff,#0008ff,#0008ff,#0009ff,#000aff,#000bff,#000dff,#000eff,#000fff,#000fff,#0010ff,#0011ff,#0011ff,#0012ff,#0014ff,#0016ff,#0019ff,#001dff,#0021ff,#0024ff,#0026ff,#0027ff,#0026ff,#0024ff,#0021ff,#001dff,#0019ff,#0014ff,#000fff,#000aff,#0005ff,#0000fe,#0000fa,#0000f6)"></i>
<i style="background:linear-gradient(90deg,#0000c0,#0000c6,#0000cd,#0000d4,#0000da,#0000df,#0000e2,#0000e4,#0000e5,#0000e5,#0000e6,#0000e6,#0000e6,#0000e6,#0000e7,#0000e9,#0000ea,#0000ec,#0000ef,#0000f3,#0000f8,#0000fd,#0004ff,#0009ff,#000dff,#0010ff,#0012ff,#0013ff,#0014ff,#0014ff,#0014ff,#0013ff,#0013ff,#0012ff,#0010ff,#000fff,#000eff,#000dff,#000cff,#000cff,#000cff,#000cff,#000cff,#000cff,#000dff,#000dff,#000fff,#0010ff,#0012ff,#0013ff,#0014ff,#0016ff,#0017ff,#0018ff,#0019ff,#001aff,#001cff,#001fff,#0022ff,#0025ff,#0029ff,#002bff,#002dff,#002eff,#002dff,#002bff,#0027ff,#0024ff,#001fff,#001bff,#0016ff,#0010ff,#000bff,#0005ff,#0000ff,#0000fb)"></i>
<i style="background:linear-gradient(90deg,#0000c2,#0000c7,#0000ce,#0000d4,#0000da,#0000df,#0000e2,#0000e4,#0000e5,#0000e5,#0000e6,#0000e6,#0000e6,#0000e6,#0000e7,#0000e8,#0000ea,#0000ed,#0000f0,#0000f4,#0000f9,#0000ff,#0006ff,#000cff,#0011ff,#0014ff,#0016ff,#0017ff,#0018ff,#0018ff,#0017ff,#0017ff,#0016ff,#0015ff,#0014ff,#0012ff,#0011ff,#0010ff,#000fff,#000eff,#000eff,#000eff,#000eff,#000fff,#000fff,#0010ff,#0011ff,#0013ff,#0014ff,#0016ff,#0018ff,#0019ff,#001bff,#001cff,#001eff,#0020ff,#0022ff,#0024ff,#0028ff,#002bff,#002eff,#0031ff,#0032ff,#0033ff,#0032ff,#002fff,#002cff,#0029ff,#0024ff,#001fff,#001aff,#0015ff,#000fff,#0009ff,#0003ff,#0000fe)"></i>
<i style="background:linear-gradient(90deg,#0000c3,#0000c8,#0000cf,#0000d5,#0000db,#0000df,#0000e2,#0000e4,#0000e5,#0000e5,#0000e6,#0000e6,#0000e6,#0000e6,#0000e7,#0000e8,#0000ea,#0000ed,#0000f0,#0000f4,#0000f9,#0001ff,#0007ff,#000dff,#0012ff,#0016ff,#0018ff,#0019ff,#0019ff,#0019ff,#0019ff,#0019ff,#0018ff,#0017ff,#0015ff,#0013ff,#0012ff,#0011ff,#0010ff,#0010ff,#000fff,#000fff,#000fff,#0010ff,#0010ff,#0011ff,#0012ff,#0014ff,#0016ff,#0017ff,#0019ff,#001bff,#001cff,#001eff,#0020ff,#0022ff,#0024ff,#0027ff,#002aff,#002eff,#0031ff,#0033ff,#0035ff,#0035ff,#0034ff,#0032ff,#002fff,#002bff,#0026ff,#0022ff,#001cff,#0017ff,#0011ff,#000bff,#0005ff,#0001ff)"></i>
<i style="background:linear-gradient(90deg,#0000c4,#0000c9,#0000cf,#0000d6,#0000db,#0000e0,#0000e2,#0000e4,#0000e5,#0000e5,#0000e6,#0000e6,#0000e6,#0000e6,#0000e7,#0000e8,#0000ea,#0000ed,#0000f0,#0000f4,#0000f9,#0000ff,#0007ff,#000dff,#0012ff,#0015ff,#0017ff,#0018ff,#0018ff,#0018ff,#0018ff,#0018ff,#0017ff,#0015ff,#0014ff,#0012ff,#0011ff,#0010ff,#000fff,#000fff,#000fff,#000fff,#000fff,#000fff,#000fff,#0010ff,#0011ff,#0012ff,#0014ff,#0015ff,#0017ff,#0019ff,#001bff,#001dff,#001fff,#0021ff,#0024ff,#0027ff,#002aff,#002eff,#0031ff,#0033ff,#0035ff,#0035ff,#0034ff,#0032ff,#002fff,#002bff,#0026ff,#0022ff,#001cff,#0017ff,#0011ff,#000bff,#0005ff,#0001ff)"></i>
<i style="background:linear-gradient(90deg,#0000c6,#0000cb,#0000d0,#0000d6,#0000dc,#0000e0,#0000e3,#0000e4,#0000e5,#0000e5,#0000e6,#0000e6,#0000e6,#0000e6,#0000e7,#0000e8,#0000ea,#0000ed,#0000f0,#0000f4,#0000f8,#0000fe,#0005ff,#000bff,#000fff,#0012ff,#0014ff,#0015ff,#0015ff,#0015ff,#0014ff,#0014ff,#0013ff,#0012ff,#0010ff,#000fff,#000eff,#000dff,#000cff,#000cff,#000cff,#000cff,#000cff,#000cff,#000cff,#000cff,#000dff,#000dff,#000eff,#000eff,#0010ff,#0011ff,#0014ff,#0017ff,#001aff,#001eff,#0021ff,#0025ff,#0029ff,#002dff,#0031ff,#0033ff,#0035ff,#0035ff,#0034ff,#0032ff,#002fff,#002bff,#0026ff,#0022ff,#001cff,#0017ff,#0011ff,#000bff,#0005ff,#0001ff)"></i>
<i style="background:linear-gradient(90deg,#0000c7,#0000cc,#0000d1,#0000d7,#0000dc,#0000e0,#0000e3,#0000e4,#0000e5,#0000e5,#0000e6,#0000e6,#0000e6,#0000e6,#0000e7,#0000e9,#0000ea,#0000ec,#0000ef,#0000f3,#0000f7,#0000fd,#0003ff,#0008ff,#000cff,#000eff,#0010ff,#0010ff,#0010ff,#000fff,#000fff,#000eff,#000dff,#000cff,#000bff,#000aff,#0009ff,#0008ff,#0008ff,#0008ff,#0008ff,#0008ff,#0008ff,#0008ff,#0007ff,#0007ff,#0006ff,#0005ff,#0005ff,#0004ff,#0005ff,#0007ff,#000aff,#000fff,#0013ff,#0019ff,#001eff,#0023ff,#0028ff,#002cff,#0030ff,#0033ff,#0035ff,#0035ff,#0034ff,#0032ff,#002fff,#002bff,#0026ff,#0022ff,#001cff,#0017ff,#0011ff,#000bff,#0005ff,#0001ff)"></i>
<i style="background:linear-gradient(90deg,#0000c8,#0000cd,#0000d2,#0000d7,#0000dc,#0000e0,#0000e3,#0000e4,#0000e5,#0000e5,#0000e6,#0000e6,#0000e6,#0000e6,#0000e7,#0000e9,#0000ea,#0000ec,#0000ef,#0000f2,#0000f6,#0000fb,#0000ff,#0004ff,#0007ff,#0009ff,#000aff,#000aff,#0009ff,#0009ff,#0007ff,#0007ff,#0006ff,#0005ff,#0004ff,#0004ff,#0003ff,#0003ff,#0003ff,#0003ff,#0003ff,#0003ff,#0002ff,#0002ff,#0001ff,#0000ff,#0000fd,#0000fb,#0000f9,#0000f8,#0000f9,#0000fb,#0000ff,#0006ff,#000dff,#0014ff,#001aff,#0021ff,#0026ff,#002bff,#0030ff,#0033ff,#0034ff,#0035ff,#0034ff,#0032ff,#002fff,#002bff,#0026ff,#0022ff,#001cff,#0017ff,#0011ff,#000bff,#0005ff,#0001ff)"></i>
<i style="background:linear-gradient(90deg,#0000c9,#0000ce,#0000d3,#0000d8,#0000dd,#0000e0,#0000e3,#0000e4,#0000e5,#0000e5,#0000e6,#0000e6,#0000e6,#0000e6,#0000e7,#0000e9,#0000ea,#0000ec,#0000ef,#0000f2,#0000f5,#0000f9,#0000fc,#0001ff,#0003ff,#0004ff,#0005ff,#0004ff,#0003ff,#0001ff,#0000ff,#0000fe,#0000fd,#0000fd,#0000fd,#0000fc,#0000fc,#0000fc,#0000fc,#0000fc,#0000fc,#0000fc,#0000fc,#0000fb,#0000fa,#0000f8,#0000f5,#0000f2,#0000f0,#0000ef,#0000ef,#0000f2,#0000f7,#0000fe,#0007ff,#000fff,#0017ff,#001eff,#0024ff,#002aff,#002fff,#0032ff,#0034ff,#0035ff,#0034ff,#0032ff,#002fff,#002bff,#0026ff,#0022ff,#001cff,#0017ff,#0011ff,#000bff,#0005ff,#0001ff)"></i>
<i style="background:linear-gradient(90deg,#0000ca,#0000ce,#0000d3,#0000d9,#0000dd,#0000e1,#0000e3,#0000e4,#0000e5,#0000e5,#0000e6,#0000e6,#0000e6,#0000e7,#0000e7,#0000e9,#0000ea,#0000ec,#0000ef,#0000f1,#0000f4,#0000f7,#0000fa,#0000fc,#0000fe,#0000fe,#0000fe,#0000fd,#0000fb,#0000fa,#0000f8,#0000f7,#0000f6,#0000f6,#0000f6,#0000f6,#0000f6,#0000f6,#0000f6,#0000f6,#0000f6,#0000f6,#0000f6,#0000f5,#0000f4,#0000f1,#0000ef,#0000ec,#0000e9,#0000e7,#0000e8,#0000eb,#0000f1,#0000f8,#0002ff,#000bff,#0014ff,#001cff,#0023ff,#0029ff,#002eff,#0031ff,#0034ff,#0034ff,#0033ff,#0031ff,#002eff,#002aff,#0026ff,#0021ff,#001cff,#0016ff,#0010ff,#000aff,#0005ff,#0000ff)"></i>
<i style="background:linear-gradient(90deg,#0000cb,#0000cf,#0000d4,#0000d9,#0000dd,#0000e1,#0000e3,#0000e4,#0000e5,#0000e5,#0000e6,#0000e6,#0000e6,#0000e7,#0000e8,#0000e9,#0000ea,#0000ec,#0000ee,#0000f0,#0000f2,#0000f5,#0000f6,#0000f8,#0000f9,#0000f9,#0000f8,#0000f6,#0000f4,#0000f1,#0000ef,#0000ee,#0000ed,#0000ed,#0000ed,#0000ee,#0000ee,#0000ee,#0000ef,#0000ef,#0000ee,#0000ee,#0000ee,#0000ed,#0000eb,#0000e9,#0000e7,#0000e4,#0000e2,#0000e1,#0000e2,#0000e6,#0000ec,#0000f4,#0000fd,#0007ff,#0010ff,#0018ff,#001fff,#0026ff,#002bff,#002fff,#0031ff,#0032ff,#0031ff,#002fff,#002cff,#0028ff,#0024ff,#001fff,#001aff,#0014ff,#000eff,#0008ff,#0002ff,#0000fd)"></i>
<i style="background:linear-gradient(90deg,#0000cc,#0000d0,#0000d5,#0000d9,#0000de,#0000e1,#0000e3,#0000e4,#0000e5,#0000e5,#0000e6,#0000e6,#0000e6,#0000e7,#0000e8,#0000e9,#0000eb,#0000ec,#0000ee,#0000f0,#0000f1,#0000f2,#0000f3,#0000f3,#0000f3,#0000f3,#0000f1,#0000ef,#0000ec,#0000e9,#0000e6,#0000e4,#0000e3,#0000e3,#0000e4,#0000e4,#0000e5,#0000e5,#0000e6,#0000e6,#0000e5,#0000e5,#0000e4,#0000e3,#0000e1,#0000e0,#0000de,#0000dc,#0000db,#0000db,#0000dd,#0000e1,#0000e7,#0000ef,#0000f8,#0003ff,#000cff,#0014ff,#001cff,#0022ff,#0027ff,#002bff,#002dff,#002eff,#002dff,#002bff,#0028ff,#0024ff,#0020ff,#001bff,#0016ff,#0010ff,#000aff,#0004ff,#0000fd,#0000f8)"></i>
<i style="background:linear-gradient(90deg,#0000cd,#0000d1,#0000d5,#0000da,#0000de,#0000e1,#0000e3,#0000e4,#0000e5,#0000e5,#0000e5,#0000e6,#0000e6,#0000e7,#0000e8,#0000e9,#0000eb,#0000ed,#0000ee,#0000ef,#0000ef,#0000ef,#0000ef,#0000ef,#0000ee,#0000ec,#0000ea,#0000e7,#0000e3,#0000df,#0000dc,#0000da,#0000d9,#0000d9,#0000da,#0000db,#0000dc,#0000dc,#0000dc,#0000dc,#0000db,#0000da,#0000d9,#0000d8,#0000d7,#0000d6,#0000d5,#0000d4,#0000d4,#0000d5,#0000d7,#0000db,#0000e2,#0000ea,#0000f4,#0000fe,#0008ff,#0010ff,#0017ff,#001dff,#0022ff,#0026ff,#0028ff,#0029ff,#0028ff,#0026ff,#0023ff,#001fff,#001bff,#0016ff,#0011ff,#000bff,#0005ff,#0000fe,#0000f8,#0000f3)"></i>
<i style="background:linear-gradient(90deg,#0000ce,#0000d1,#0000d6,#0000da,#0000de,#0000e1,#0000e3,#0000e4,#0000e5,#0000e5,#0000e5,#0000e5,#0000e6,#0000e7,#0000e8,#0000e9,#0000eb,#0000ec,#0000ed,#0000ed,#0000ee,#0000ed,#0000ec,#0000eb,#0000e9,#0000e6,#0000e3,#0000df,#0000da,#0000d6,#0000d3,#0000d0,#0000d0,#0000d0,#0000d1,#0000d2,#0000d3,#0000d4,#0000d4,#0000d3,#0000d2,#0000d1,#0000cf,#0000ce,#0000cd,#0000cd,#0000cc,#0000cc,#0000cd,#0000ce,#0000d1,#0000d5,#0000dc,#0000e5,#0000ef,#0000f9,#0003ff,#000bff,#0012ff,#0018ff,#001dff,#0021ff,#0023ff,#0023ff,#0023ff,#0020ff,#001dff,#001aff,#0015ff,#0011ff,#000bff,#0006ff,#0000fe,#0000f8,#0000f3,#0000ee)"></i>
<i style="background:linear-gradient(90deg,#0000cf,#0000d2,#0000d6,#0000da,#0000de,#0000e1,#0000e3,#0000e4,#0000e4,#0000e5,#0000e5,#0000e5,#0000e5,#0000e6,#0000e7,#0000e8,#0000ea,#0000eb,#0000ec,#0000ec,#0000ec,#0000eb,#0000e9,#0000e7,#0000e5,#0000e1,#0000dd,#0000d8,#0000d3,#0000ce,#0000ca,#0000c8,#0000c7,#0000c7,#0000c9,#0000ca,#0000cc,#0000cc,#0000cc,#0000cc,#0000ca,#0000c8,#0000c7,#0000c5,#0000c4,#0000c4,#0000c3,#0000c3,#0000c4,#0000c5,#0000c8,#0000cd,#0000d5,#0000de,#0000e9,#0000f3,#0000fd,#0006ff,#000dff,#0013ff,#0018ff,#001cff,#001eff,#001eff,#001eff,#001bff,#0018ff,#0014ff,#0010ff,#000bff,#0006ff,#0000ff,#0000f9,#0000f4,#0000ee,#0000ea)"></i>
<i style="background:linear-gradient(90deg,#0000d0,#0000d3,#0000d6,#0000da,#0000de,#0000e1,#0000e2,#0000e3,#0000e4,#0000e4,#0000e4,#0000e5,#0000e5,#0000e6,#0000e6,#0000e7,#0000e9,#0000ea,#0000ea,#0000ea,#0000ea,#0000e8,#0000e6,#0000e4,#0000e0,#0000dc,#0000d7,#0000d1,#0000cb,#0000c6,#0000c1,#0000be,#0000bd,#0000be,#0000c0,#0000c2,#0000c4,#0000c5,#0000c5,#0000c4,#0000c2,#0000c0,#0000be,#0000bc,#0000ba,#0000b8,#0000b7,#0000b6,#0000b6,#0000b7,#0000ba,#0000c0,#0000c8,#0000d3,#0000df,#0000ea,#0000f5,#0000fe,#0007ff,#000dff,#0013ff,#0016ff,#0018ff,#0019ff,#0018ff,#0015ff,#0012ff,#000eff,#0009ff,#0004ff,#0000fe,#0000f9,#0000f3,#0000ee,#0000e9,#0000e5)"></i>
<i style="background:linear-gradient(90deg,#0000d0,#0000d3,#0000d7,#0000da,#0000de,#0000e0,#0000e2,#0000e3,#0000e3,#0000e4,#0000e4,#0000e4,#0000e4,#0000e5,#0000e5,#0000e6,#0000e7,#0000e8,#0000e8,#0000e8,#0000e7,#0000e5,#0000e3,#0000e0,#0000dc,#0000d7,#0000d1,#0000ca,#0000c4,#0000bd,#0000b8,#0000b5,#0000b5,#0000b5,#0000b8,#0000ba,#0000bd,#0000be,#0000be,#0000be,#0000bc,#0000ba,#0000b8,#0000b5,#0000b3,#0000b0,#0000af,#0000ad,#0000ac,#0000ad,#0000b0,#0000b6,#0000be,#0000c9,#0000d5,#0000e2,#0000ed,#0000f7,#0000ff,#0007ff,#000cff,#0010ff,#0012ff,#0012ff,#0011ff,#000eff,#000aff,#0006ff,#0001ff,#0000fb,#0000f6,#0000f1,#0000ec,#0000e8,#0000e4,#0000e0)"></i>
<i style="background:linear-gradient(90deg,#0000d1,#0000d4,#0000d7,#0000da,#0000dd,#0000e0,#0000e1,#0000e2,#0000e3,#0000e3,#0000e3,#0000e3,#0000e3,#0000e4,#0000e4,#0000e5,#0000e6,#0000e6,#0000e6,#0000e6,#0000e5,#0000e3,#0000e0,#0000dc,#0000d8,#0000d2,#0000cc,#0000c5,#0000be,#0000b8,#0000b2,#0000af,#0000af,#0000b0,#0000b2,#0000b5,#0000b8,#0000ba,#0000bb,#0000bb,#0000ba,#0000b9,#0000b7,#0000b5,#0000b3,#0000b1,#0000b0,#0000ae,#0000ad,#0000ae,#0000b0,#0000b5,#0000bd,#0000c6,#0000d1,#0000dc,#0000e7,#0000f0,#0000f8,#0000ff,#0005ff,#0009ff,#000bff,#000cff,#000aff,#0007ff,#0002ff,#0000fd,#0000f7,#0000f3,#0000ee,#0000e9,#0000e5,#0000e1,#0000de,#0000dc)"></i>
<i style="background:linear-gradient(90deg,#0000d2,#0000d4,#0000d7,#0000da,#0000dd,#0000df,#0000e1,#0000e1,#0000e2,#0000e2,#0000e2,#0000e2,#0000e3,#0000e3,#0000e3,#0000e3,#0000e4,#0000e4,#0000e4,#0000e3,#0000e2,#0000e0,#0000dd,#0000d9,#0000d5,#0000d0,#0000ca,#0000c3,#0000bd,#0000b6,#0000b2,#0000af,#0000ae,#0000b0,#0000b2,#0000b5,#0000b8,#0000ba,#0000bb,#0000bc,#0000bb,#0000bb,#0000ba,#0000b9,#0000b7,#0000b6,#0000b5,#0000b4,#0000b3,#0000b3,#0000b5,#0000b9,#0000bf,#0000c7,#0000d0,#0000da,#0000e3,#0000eb,#0000f2,#0000f9,#0000fe,#0003ff,#0005ff,#0005ff,#0003ff,#0000ff,#0000fa,#0000f5,#0000f0,#0000eb,#0000e6,#0000e2,#0000df,#0000dc,#0000d9,#0000d7)"></i>
<i style="background:linear-gradient(90deg,#0000d2,#0000d4,#0000d7,#0000da,#0000dc,#0000de,#0000e0,#0000e1,#0000e1,#0000e1,#0000e1,#0000e1,#0000e1,#0000e2,#0000e2,#0000e2,#0000e2,#0000e2,#0000e1,#0000e1,#0000df,#0000dd,#0000db,#0000d8,#0000d4,#0000cf,#0000ca,#0000c5,#0000bf,#0000ba,#0000b7,#0000b5,#0000b4,#0000b5,#0000b8,#0000ba,#0000bd,#0000bf,#0000c0,#0000c1,#0000c1,#0000c0,#0000c0,#0000bf,#0000be,#0000bd,#0000bc,#0000bc,#0000bb,#0000bc,#0000bd,#0000c1,#0000c5,#0000cc,#0000d3,#0000db,#0000e2,#0000e9,#0000ef,#0000f5,#0000fa,#0000fd,#0000fe,#0000fe,#0000fc,#0000f8,#0000f4,#0000ef,#0000ea,#0000e5,#0000e1,#0000dd,#0000da,#0000d7,#0000d4,#0000d3)"></i>
<i style="background:linear-gradient(90deg,#0000d2,#0000d5,#0000d7,#0000da,#0000dc,#0000de,#0000df,#0000e0,#0000e0,#0000e0,#0000e0,#0000e0,#0000e0,#0000e0,#0000e0,#0000e0,#0000e0,#0000df,#0000df,#0000de,#0000dd,#0000db,#0000d9,#0000d7,#0000d4,#0000d1,#0000cd,#0000c9,#0000c5,#0000c2,#0000bf,#0000bd,#0000bd,#0000be,#0000c0,#0000c2,#0000c4,#0000c6,#0000c7,#0000c7,#0000c8,#0000c7,#0000c7,#0000c7,#0000c6,#0000c6,#0000c5,#0000c5,#0000c5,#0000c5,#0000c7,#0000ca,#0000ce,#0000d3,#0000d9,#0000df,#0000e5,#0000ea,#0000ef,#0000f3,#0000f6,#0000f8,#0000f9,#0000f8,#0000f6,#0000f3,#0000ee,#0000ea,#0000e5,#0000e0,#0000dc,#0000d9,#0000d6,#0000d3,#0000d1,#0000cf)"></i>
<i style="background:linear-gradient(90deg,#0000d3,#0000d5,#0000d7,#0000d9,#0000db,#0000dd,#0000de,#0000df,#0000df,#0000df,#0000df,#0000df,#0000df,#0000df,#0000df,#0000de,#0000de,#0000dd,#0000dc,#0000db,#0000db,#0000da,#0000d9,#0000d7,#0000d6,#0000d4,#0000d1,#0000cf,#0000cc,#0000c9,#0000c7,#0000c6,#0000c6,#0000c7,#0000c9,#0000ca,#0000cc,#0000cd,#0000ce,#0000ce,#0000ce,#0000ce,#0000ce,#0000ce,#0000ce,#0000ce,#0000ce,#0000ce,#0000ce,#0000cf,#0000d0,#0000d3,#0000d6,#0000db,#0000e0,#0000e5,#0000e9,#0000ec,#0000ef,#0000f1,#0000f3,#0000f4,#0000f4,#0000f3,#0000f0,#0000ed,#0000e9,#0000e5,#0000e1,#0000dd,#0000d9,#0000d5,#0000d2,#0000cf,#0000cd,#0000cb)"></i>
<i style="background:linear-gradient(90deg,#0000d3,#0000d5,#0000d7,#0000d9,#0000da,#0000dc,#0000dd,#0000dd,#0000de,#0000de,#0000de,#0000de,#0000de,#0000dd,#0000dd,#0000dc,#0000db,#0000da,#0000d9,#0000d9,#0000d8,#0000d8,#0000d8,#0000d8,#0000d7,#0000d7,#0000d5,#0000d4,#0000d2,#0000d0,#0000ce,#0000cd,#0000cd,#0000ce,#0000cf,#0000d0,#0000d1,#0000d3,#0000d3,#0000d4,#0000d4,#0000d5,#0000d5,#0000d5,#0000d5,#0000d5,#0000d5,#0000d6,#0000d6,#0000d7,#0000d8,#0000db,#0000df,#0000e3,#0000e7,#0000eb,#0000ee,#0000ef,#0000f0,#0000f0,#0000f0,#0000ef,#0000ee,#0000ed,#0000eb,#0000e8,#0000e4,#0000e1,#0000dd,#0000d9,#0000d6,#0000d2,#0000cf,#0000cc,#0000ca,#0000c8)"></i>
<i style="background:linear-gradient(90deg,#0000d3,#0000d4,#0000d6,#0000d8,#0000da,#0000db,#0000dc,#0000dc,#0000dd,#0000dd,#0000dd,#0000dd,#0000dc,#0000dc,#0000db,#0000da,#0000d8,#0000d7,#0000d6,#0000d6,#0000d6,#0000d7,#0000d8,#0000d8,#0000d9,#0000d9,#0000d9,#0000d8,#0000d7,#0000d5,#0000d5,#0000d4,#0000d4,#0000d4,#0000d5,#0000d6,#0000d7,#0000d8,#0000d9,#0000da,#0000db,#0000dc,#0000dd,#0000dd,#0000de,#0000de,#0000de,#0000df,#0000df,#0000e0,#0000e1,#0000e3,#0000e7,#0000ea,#0000ee,#0000f1,#0000f3,#0000f3,#0000f3,#0000f2,#0000f0,#0000ed,#0000eb,#0000e8,#0000e5,#0000e2,#0000df,#0000dc,#0000d8,#0000d5,#0000d2,#0000cf,#0000cb,#0000c8,#0000c6,#0000c4)"></i>
<i style="background:linear-gradient(90deg,#0000d3,#0000d4,#0000d6,#0000d7,#0000d9,#0000da,#0000db,#0000db,#0000db,#0000db,#0000db,#0000db,#0000db,#0000da,#0000d9,#0000d7,#0000d6,#0000d4,#0000d4,#0000d3,#0000d4,#0000d5,#0000d7,#0000d8,#0000d9,#0000da,#0000db,#0000db,#0000db,#0000db,#0000db,#0000db,#0000db,#0000db,#0000dc,#0000dc,#0000dd,#0000de,#0000df,#0000e1,#0000e2,#0000e4,#0000e5,#0000e6,#0000e7,#0000e7,#0000e8,#0000e8,#0000e8,#0000e9,#0000ea,#0000ec,#0000ee,#0000f1,#0000f3,#0000f5,#0000f6,#0000f6,#0000f5,#0000f2,#0000ef,#0000ec,#0000e8,#0000e4,#0000e1,#0000de,#0000da,#0000d7,#0000d4,#0000d0,#0000cd,#0000ca,#0000c7,#0000c4,#0000c1,#0000bf)"></i>
<i style="background:linear-gradient(90deg,#0000d2,#0000d3,#0000d5,#0000d6,#0000d7,#0000d8,#0000d9,#0000d9,#0000d9,#0000d9,#0000d9,#0000d9,#0000d8,#0000d7,#0000d5,#0000d4,#0000d2,#0000d0,#0000cf,#0000cf,#0000cf,#0000d1,#0000d3,#0000d5,#0000d7,#0000d9,#0000db,#0000dd,#0000de,#0000df,#0000e0,#0000e0,#0000e1,#0000e1,#0000e1,#0000e2,#0000e2,#0000e3,#0000e4,#0000e6,#0000e8,#0000ea,#0000ec,#0000ee,#0000ef,#0000f0,#0000f0,#0000f0,#0000f1,#0000f1,#0000f2,#0000f3,#0000f5,#0000f6,#0000f8,#0000f9,#0000f9,#0000f9,#0000f6,#0000f3,#0000ef,#0000ea,#0000e6,#0000e1,#0000dd,#0000d9,#0000d5,#0000d1,#0000cd,#0000ca,#0000c6,#0000c3,#0000c0,#0000bd,#0000bb,#0000b9)"></i>
<i style="background:linear-gradient(90deg,#0000d1,#0000d2,#0000d3,#0000d4,#0000d5,#0000d6,#0000d6,#0000d6,#0000d6,#0000d6,#0000d5,#0000d4,#0000d3,#0000d1,#0000cf,#0000cd,#0000cb,#0000c9,#0000c8,#0000c8,#0000c9,#0000cb,#0000cd,#0000d1,#0000d4,#0000d7,#0000da,#0000dc,#0000df,#0000e1,#0000e2,#0000e4,#0000e4,#0000e5,#0000e5,#0000e5,#0000e5,#0000e6,#0000e8,#0000ea,#0000ec,#0000ef,#0000f2,#0000f4,#0000f6,#0000f6,#0000f7,#0000f7,#0000f7,#0000f8,#0000f8,#0000f9,#0000fa,#0000fb,#0000fc,#0000fd,#0000fc,#0000fb,#0000f8,#0000f4,#0000ef,#0000ea,#0000e4,#0000de,#0000d9,#0000d3,#0000ce,#0000c9,#0000c4,#0000c0,#0000bd,#0000b9,#0000b7,#0000b4,#0000b2,#0000b1)"></i>
<i style="background:linear-gradient(90deg,#0000d0,#0000d1,#0000d1,#0000d2,#0000d2,#0000d3,#0000d3,#0000d2,#0000d2,#0000d1,#0000d0,#0000ce,#0000cd,#0000cb,#0000c8,#0000c5,#0000c3,#0000c1,#0000c0,#0000c0,#0000c1,#0000c3,#0000c7,#0000cb,#0000cf,#0000d3,#0000d6,#0000da,#0000dd,#0000e0,#0000e2,#0000e4,#0000e5,#0000e5,#0000e5,#0000e6,#0000e6,#0000e7,#0000e9,#0000eb,#0000ee,#0000f2,#0000f5,#0000f7,#0000f9,#0000fa,#0000fb,#0000fb,#0000fb,#0000fb,#0000fc,#0000fc,#0000fd,#0000fe,#0000ff,#0000ff,#0000ff,#0000fd,#0000fa,#0000f5,#0000ef,#0000e9,#0000e2,#0000db,#0000d4,#0000cd,#0000c7,#0000c1,#0000bb,#0000b6,#0000b3,#0000af,#0000ad,#0000ab,#0000aa,#0000a9)"></i>
<i style="background:linear-gradient(90deg,#0000ce,#0000cf,#0000cf,#0000cf,#0000cf,#0000cf,#0000cf,#0000ce,#0000cd,#0000cc,#0000ca,#0000c8,#0000c6,#0000c3,#0000c0,#0000bd,#0000ba,#0000b8,#0000b7,#0000b7,#0000b9,#0000bc,#0000bf,#0000c4,#0000c9,#0000ce,#0000d2,#0000d7,#0000db,#0000df,#0000e1,#0000e3,#0000e5,#0000e5,#0000e5,#0000e6,#0000e6,#0000e7,#0000e9,#0000ec,#0000ef,#0000f3,#0000f7,#0000fa,#0000fc,#0000fd,#0000fe,#0000fe,#0000fe,#0000fe,#0000fe,#0000ff,#0001ff,#0001ff,#0002ff,#0002ff,#0001ff,#0000fe,#0000fb,#0000f6,#0000ef,#0000e8,#0000e1,#0000d9,#0000d1,#0000c9,#0000c1,#0000ba,#0000b3,#0000af,#0000ab,#0000a8,#0000a6,#0000a4,#0000a3,#0000a2)"></i>
<i style="background:linear-gradient(90deg,#0000cc,#0000cc,#0000cc,#0000cc,#0000cc,#0000cc,#0000cb,#0000ca,#0000c9,#0000c7,#0000c5,#0000c2,#0000bf,#0000bc,#0000b9,#0000b5,#0000b2,#0000b0,#0000af,#0000af,#0000b1,#0000b4,#0000b8,#0000bd,#0000c3,#0000c8,#0000ce,#0000d3,#0000d8,#0000dd,#0000e0,#0000e3,#0000e4,#0000e5,#0000e5,#0000e6,#0000e6,#0000e7,#0000e9,#0000ec,#0000f0,#0000f5,#0000f9,#0000fc,#0000fe,#0001ff,#0001ff,#0001ff,#0002ff,#0002ff,#0002ff,#0002ff,#0003ff,#0003ff,#0003ff,#0003ff,#0002ff,#0000ff,#0000fb,#0000f6,#0000ef,#0000e7,#0000df,#0000d7,#0000ce,#0000c5,#0000bd,#0000b6,#0000af,#0000aa,#0000a7,#0000a4,#0000a2,#0000a1,#00009f,#00009f)"></i>
<i style="background:linear-gradient(90deg,#0000cb,#0000cb,#0000cb,#0000ca,#0000ca,#0000c9,#0000c9,#0000c7,#0000c5,#0000c3,#0000c0,#0000bd,#0000b9,#0000b6,#0000b2,#0000af,#0000ac,#0000a9,#0000a8,#0000a8,#0000a9,#0000ad,#0000b1,#0000b6,#0000bb,#0000c2,#0000c8,#0000ce,#0000d5,#0000da,#0000df,#0000e2,#0000e4,#0000e5,#0000e5,#0000e6,#0000e6,#0000e8,#0000ea,#0000ed,#0000f1,#0000f6,#0000fa,#0000fe,#0001ff,#0002ff,#0003ff,#0003ff,#0003ff,#0004ff,#0004ff,#0004ff,#0004ff,#0004ff,#0004ff,#0003ff,#0002ff,#0000fe,#0000fa,#0000f4,#0000ee,#0000e6,#0000de,#0000d5,#0000cd,#0000c5,#0000bd,#0000b6,#0000b0,#0000ac,#0000a8,#0000a5,#0000a3,#0000a2,#0000a1,#0000a0)"></i>
<i style="background:linear-gradient(90deg,#0000c9,#0000c9,#0000c9,#0000c9,#0000c8,#0000c8,#0000c7,#0000c5,#0000c3,#0000c0,#0000bd,#0000b9,#0000b5,#0000b2,#0000ae,#0000aa,#0000a7,#0000a4,#0000a3,#0000a3,#0000a4,#0000a6,#0000a9,#0000ae,#0000b3,#0000b9,#0000c0,#0000c8,#0000cf,#0000d7,#0000dd,#0000e1,#0000e3,#0000e5,#0000e5,#0000e6,#0000e6,#0000e8,#0000ea,#0000ed,#0000f2,#0000f6,#0000fb,#0000ff,#0002ff,#0004ff,#0004ff,#0005ff,#0005ff,#0005ff,#0005ff,#0004ff,#0004ff,#0004ff,#0003ff,#0002ff,#0000ff,#0000fc,#0000f8,#0000f2,#0000eb,#0000e4,#0000dc,#0000d5,#0000cd,#0000c7,#0000c0,#0000ba,#0000b5,#0000b1,#0000ae,#0000ab,#0000a9,#0000a8,#0000a6,#0000a6)"></i>
<i style="background:linear-gradient(90deg,#0000c8,#0000c8,#0000c8,#0000c8,#0000c7,#0000c7,#0000c6,#0000c4,#0000c2,#0000bf,#0000bc,#0000b8,#0000b4,#0000b1,#0000ad,#0000a9,#0000a6,#0000a3,#0000a2,#0000a1,#0000a2,#0000a4,#0000a7,#0000ab,#0000b0,#0000b6,#0000bd,#0000c5,#0000cd,#0000d5,#0000dc,#0000e0,#0000e3,#0000e5,#0000e5,#0000e6,#0000e6,#0000e8,#0000ea,#0000ed,#0000f2,#0000f7,#0000fb,#0000ff,#0002ff,#0004ff,#0005ff,#0005ff,#0005ff,#0005ff,#0005ff,#0004ff,#0004ff,#0003ff,#0002ff,#0000ff,#0000fd,#0000f9,#0000f4,#0000ee,#0000e8,#0000e1,#0000da,#0000d4,#0000ce,#0000c9,#0000c4,#0000c0,#0000bc,#0000b9,#0000b6,#0000b4,#0000b2,#0000b0,#0000af,#0000ae)"></i>
<i style="background:linear-gradient(90deg,#0000c8,#0000c8,#0000c8,#0000c8,#0000c9,#0000c8,#0000c8,#0000c7,#0000c5,#0000c2,#0000bf,#0000bc,#0000b8,#0000b4,#0000b1,#0000ad,#0000aa,#0000a7,#0000a6,#0000a6,#0000a6,#0000a8,#0000ab,#0000af,#0000b4,#0000ba,#0000c1,#0000c8,#0000d0,#0000d7,#0000dd,#0000e1,#0000e4,#0000e5,#0000e6,#0000e6,#0000e6,#0000e8,#0000e9,#0000ed,#0000f1,#0000f5,#0000f9,#0000fd,#0001ff,#0002ff,#0003ff,#0004ff,#0004ff,#0004ff,#0004ff,#0003ff,#0003ff,#0002ff,#0000ff,#0000fd,#0000fa,#0000f6,#0000f1,#0000eb,#0000e5,#0000df,#0000d9,#0000d4,#0000cf,#0000cc,#0000c9,#0000c6,#0000c3,#0000c1,#0000be,#0000bc,#0000ba,#0000b8,#0000b7,#0000b6)"></i>
<i style="background:linear-gradient(90deg,#0000c8,#0000c9,#0000ca,#0000cb,#0000cc,#0000cc,#0000cc,#0000cb,#0000ca,#0000c8,#0000c5,#0000c2,#0000bf,#0000bc,#0000b9,#0000b6,#0000b3,#0000b1,#0000af,#0000af,#0000b0,#0000b2,#0000b5,#0000b9,#0000bd,#0000c3,#0000c9,#0000cf,#0000d6,#0000dc,#0000e0,#0000e4,#0000e6,#0000e7,#0000e7,#0000e7,#0000e7,#0000e7,#0000e9,#0000eb,#0000ee,#0000f2,#0000f5,#0000f9,#0000fb,#0000fd,#0000ff,#0001ff,#0001ff,#0002ff,#0002ff,#0002ff,#0001ff,#0000ff,#0000fd,#0000fb,#0000f8,#0000f4,#0000ef,#0000e9,#0000e2,#0000dc,#0000d7,#0000d3,#0000d0,#0000cd,#0000cb,#0000c9,#0000c7,#0000c6,#0000c4,#0000c2,#0000c0,#0000bf,#0000bd,#0000bc)"></i>
<i style="background:linear-gradient(90deg,#0000c9,#0000cb,#0000cd,#0000ce,#0000d0,#0000d1,#0000d1,#0000d1,#0000d0,#0000cf,#0000cd,#0000cb,#0000c9,#0000c6,#0000c4,#0000c1,#0000bf,#0000bd,#0000bc,#0000bb,#0000bc,#0000bf,#0000c2,#0000c5,#0000ca,#0000ce,#0000d3,#0000d8,#0000dd,#0000e1,#0000e5,#0000e7,#0000e8,#0000e8,#0000e8,#0000e7,#0000e7,#0000e7,#0000e8,#0000e9,#0000eb,#0000ee,#0000f0,#0000f3,#0000f6,#0000f8,#0000fa,#0000fc,#0000fd,#0000fe,#0000fe,#0000fe,#0000fe,#0000fd,#0000fc,#0000fa,#0000f7,#0000f3,#0000ee,#0000e8,#0000e1,#0000db,#0000d6,#0000d1,#0000ce,#0000cc,#0000cb,#0000c9,#0000c8,#0000c6,#0000c5,#0000c4,#0000c2,#0000c1,#0000c0,#0000bf)"></i>
<i style="background:linear-gradient(90deg,#0000cb,#0000cd,#0000cf,#0000d2,#0000d4,#0000d5,#0000d6,#0000d6,#0000d6,#0000d6,#0000d5,#0000d4,#0000d2,#0000d1,#0000cf,#0000cd,#0000cb,#0000c9,#0000c8,#0000c8,#0000ca,#0000cc,#0000cf,#0000d2,#0000d6,#0000da,#0000de,#0000e1,#0000e5,#0000e7,#0000e9,#0000eb,#0000eb,#0000ea,#0000ea,#0000e8,#0000e8,#0000e7,#0000e7,#0000e7,#0000e8,#0000e9,#0000eb,#0000ed,#0000ef,#0000f1,#0000f4,#0000f6,#0000f9,#0000fa,#0000fb,#0000fc,#0000fc,#0000fc,#0000fb,#0000f9,#0000f7,#0000f3,#0000ee,#0000e7,#0000e1,#0000da,#0000d5,#0000d0,#0000cd,#0000cb,#0000ca,#0000c9,#0000c8,#0000c7,#0000c6,#0000c5,#0000c4,#0000c3,#0000c2,#0000c1)"></i>
<i style="background:linear-gradient(90deg,#0000cd,#0000d0,#0000d2,#0000d5,#0000d7,#0000d9,#0000da,#0000db,#0000db,#0000db,#0000db,#0000db,#0000da,#0000d9,#0000d8,#0000d7,#0000d5,#0000d4,#0000d3,#0000d3,#0000d5,#0000d7,#0000da,#0000de,#0000e1,#0000e4,#0000e7,#0000e9,#0000eb,#0000ed,#0000ed,#0000ee,#0000ed,#0000ec,#0000eb,#0000ea,#0000e8,#0000e7,#0000e6,#0000e6,#0000e6,#0000e6,#0000e6,#0000e7,#0000e8,#0000ea,#0000ed,#0000f0,#0000f4,#0000f6,#0000f8,#0000f9,#0000fa,#0000fa,#0000f9,#0000f8,#0000f6,#0000f3,#0000ee,#0000e7,#0000e0,#0000d9,#0000d3,#0000cf,#0000cc,#0000cb,#0000c9,#0000c8,#0000c8,#0000c7,#0000c6,#0000c5,#0000c4,#0000c4,#0000c3,#0000c3)"></i>
<i style="background:linear-gradient(90deg,#0000d0,#0000d2,#0000d4,#0000d7,#0000d9,#0000db,#0000dc,#0000de,#0000df,#0000df,#0000e0,#0000e0,#0000e0,#0000e0,#0000df,#0000de,#0000dd,#0000dc,#0000dc,#0000dc,#0000de,#0000e0,#0000e3,#0000e7,#0000ea,#0000ec,#0000ee,#0000f0,#0000f0,#0000f1,#0000f1,#0000f1,#0000f0,#0000ef,#0000ed,#0000ea,#0000e8,#0000e6,#0000e4,#0000e2,#0000e0,#0000df,#0000df,#0000df,#0000e0,#0000e2,#0000e6,#0000ea,#0000ee,#0000f1,#0000f4,#0000f6,#0000f8,#0000f8,#0000f8,#0000f8,#0000f6,#0000f2,#0000ed,#0000e6,#0000df,#0000d8,#0000d2,#0000ce,#0000cb,#0000ca,#0000c9,#0000c8,#0000c7,#0000c7,#0000c6,#0000c6,#0000c5,#0000c5,#0000c5,#0000c4)"></i>
<i style="background:linear-gradient(90deg,#0000d3,#0000d4,#0000d6,#0000d8,#0000db,#0000dd,#0000de,#0000e0,#0000e1,#0000e3,#0000e4,#0000e5,#0000e5,#0000e5,#0000e5,#0000e4,#0000e4,#0000e3,#0000e4,#0000e5,#0000e7,#0000e9,#0000ed,#0000f0,#0000f3,#0000f5,#0000f6,#0000f6,#0000f6,#0000f6,#0000f6,#0000f5,#0000f3,#0000f0,#0000ed,#0000e9,#0000e5,#0000e2,#0000de,#0000db,#0000d8,#0000d6,#0000d4,#0000d3,#0000d5,#0000d7,#0000db,#0000e0,#0000e6,#0000eb,#0000ef,#0000f2,#0000f5,#0000f6,#0000f7,#0000f7,#0000f5,#0000f2,#0000ec,#0000e5,#0000dd,#0000d6,#0000d0,#0000cc,#0000ca,#0000c8,#0000c8,#0000c7,#0000c7,#0000c7,#0000c7,#0000c6,#0000c6,#0000c6,#0000c6,#0000c6)"></i>
<i style="background:linear-gradient(90deg,#0000d6,#0000d7,#0000d9,#0000da,#0000dc,#0000de,#0000e0,#0000e2,#0000e4,#0000e6,#0000e7,#0000e9,#0000ea,#0000ea,#0000eb,#0000eb,#0000eb,#0000eb,#0000ec,#0000ee,#0000f0,#0000f3,#0000f6,#0000f9,#0000fc,#0000fd,#0000fe,#0000fe,#0000fd,#0000fc,#0000fb,#0000f8,#0000f5,#0000f1,#0000ed,#0000e7,#0000e2,#0000dd,#0000d8,#0000d3,#0000cf,#0000cb,#0000c9,#0000c8,#0000c9,#0000cc,#0000d1,#0000d7,#0000de,#0000e4,#0000e9,#0000ee,#0000f1,#0000f4,#0000f6,#0000f6,#0000f4,#0000f1,#0000ea,#0000e2,#0000da,#0000d2,#0000cc,#0000c9,#0000c7,#0000c6,#0000c6,#0000c6,#0000c6,#0000c6,#0000c7,#0000c7,#0000c7,#0000c7,#0000c7,#0000c7)"></i>
<i style="background:linear-gradient(90deg,#0000d9,#0000da,#0000db,#0000dd,#0000de,#0000e0,#0000e2,#0000e4,#0000e6,#0000e9,#0000eb,#0000ed,#0000ee,#0000f0,#0000f1,#0000f2,#0000f2,#0000f3,#0000f5,#0000f7,#0000f9,#0000fc,#0000ff,#0002ff,#0005ff,#0006ff,#0006ff,#0006ff,#0005ff,#0003ff,#0001ff,#0000fd,#0000f8,#0000f3,#0000ed,#0000e6,#0000df,#0000d8,#0000d2,#0000cc,#0000c7,#0000c2,#0000bf,#0000be,#0000bf,#0000c2,#0000c8,#0000cf,#0000d7,#0000de,#0000e5,#0000eb,#0000ef,#0000f2,#0000f5,#0000f5,#0000f3,#0000ee,#0000e6,#0000dc,#0000d1,#0000c8,#0000c0,#0000bc,#0000ba,#0000bb,#0000bc,#0000be,#0000c0,#0000c1,#0000c3,#0000c4,#0000c6,#0000c7,#0000c8,#0000c8)"></i>
<i style="background:linear-gradient(90deg,#0000dc,#0000dc,#0000de,#0000df,#0000e1,#0000e3,#0000e5,#0000e7,#0000ea,#0000ec,#0000ef,#0000f2,#0000f4,#0000f6,#0000f8,#0000f9,#0000fb,#0000fc,#0000fe,#0001ff,#0003ff,#0005ff,#0008ff,#000aff,#000bff,#000cff,#000cff,#000cff,#000aff,#0008ff,#0006ff,#0002ff,#0000fc,#0000f6,#0000ef,#0000e7,#0000de,#0000d7,#0000cf,#0000c9,#0000c3,#0000be,#0000ba,#0000b9,#0000ba,#0000bd,#0000c3,#0000cb,#0000d3,#0000db,#0000e3,#0000e9,#0000ee,#0000f2,#0000f5,#0000f5,#0000f3,#0000ed,#0000e4,#0000d7,#0000ca,#0000bf,#0000b6,#0000b1,#0000b0,#0000b1,#0000b3,#0000b6,#0000ba,#0000bd,#0000c0,#0000c2,#0000c4,#0000c6,#0000c8,#0000c9)"></i>
<i style="background:linear-gradient(90deg,#0000de,#0000df,#0000e0,#0000e2,#0000e4,#0000e6,#0000e9,#0000eb,#0000ee,#0000f2,#0000f5,#0000f9,#0000fc,#0000fe,#0002ff,#0004ff,#0006ff,#0008ff,#0009ff,#000bff,#000cff,#000eff,#000fff,#0010ff,#0010ff,#0011ff,#0010ff,#0010ff,#000eff,#000cff,#000aff,#0006ff,#0001ff,#0000fa,#0000f2,#0000ea,#0000e1,#0000d9,#0000d1,#0000ca,#0000c4,#0000bf,#0000bc,#0000ba,#0000bb,#0000bf,#0000c4,#0000cc,#0000d4,#0000dc,#0000e3,#0000e9,#0000ef,#0000f3,#0000f6,#0000f7,#0000f5,#0000ef,#0000e6,#0000da,#0000cd,#0000c1,#0000b8,#0000b3,#0000b2,#0000b3,#0000b5,#0000b8,#0000bc,#0000bf,#0000c1,#0000c4,#0000c6,#0000c8,#0000c9,#0000ca)"></i>
<i style="background:linear-gradient(90deg,#0000e1,#0000e2,#0000e4,#0000e6,#0000e8,#0000eb,#0000ee,#0000f2,#0000f6,#0000fa,#0000fe,#0003ff,#0007ff,#000bff,#000eff,#0011ff,#0013ff,#0015ff,#0016ff,#0017ff,#0017ff,#0017ff,#0016ff,#0016ff,#0015ff,#0014ff,#0013ff,#0012ff,#0011ff,#0010ff,#000eff,#000bff,#0006ff,#0000ff,#0000f8,#0000f0,#0000e8,#0000e0,#0000d9,#0000d2,#0000cc,#0000c7,#0000c4,#0000c2,#0000c2,#0000c5,#0000c9,#0000cf,#0000d6,#0000dd,#0000e4,#0000ea,#0000f0,#0000f5,#0000f8,#0000fa,#0000f8,#0000f3,#0000eb,#0000e1,#0000d5,#0000cb,#0000c3,#0000bf,#0000bd,#0000be,#0000c0,#0000c2,#0000c4,#0000c6,#0000c8,#0000ca,#0000cb,#0000cc,#0000cd,#0000cd)"></i>
<i style="background:linear-gradient(90deg,#0000e4,#0000e6,#0000e8,#0000ea,#0000ee,#0000f1,#0000f5,#0000f9,#0000fe,#0004ff,#0009ff,#000fff,#0013ff,#0018ff,#001cff,#0020ff,#0023ff,#0026ff,#0027ff,#0027ff,#0026ff,#0023ff,#0020ff,#001dff,#001aff,#0018ff,#0017ff,#0016ff,#0015ff,#0014ff,#0013ff,#0011ff,#000eff,#0009ff,#0003ff,#0000fb,#0000f3,#0000ec,#0000e5,#0000df,#0000d9,#0000d4,#0000d0,#0000ce,#0000cd,#0000cf,#0000d2,#0000d6,#0000db,#0000e1,#0000e6,#0000ec,#0000f2,#0000f7,#0000fb,#0000fd,#0000fd,#0000fa,#0000f3,#0000eb,#0000e1,#0000d9,#0000d3,#0000cf,#0000ce,#0000ce,#0000cf,#0000d0,#0000d1,#0000d2,#0000d3,#0000d3,#0000d3,#0000d3,#0000d2,#0000d2)"></i>
<i style="background:linear-gradient(90deg,#0000e7,#0000e9,#0000ec,#0000ef,#0000f3,#0000f8,#0000fc,#0003ff,#0009ff,#000fff,#0015ff,#001bff,#0022ff,#0028ff,#002dff,#0033ff,#0037ff,#003bff,#003cff,#003cff,#0039ff,#0034ff,#002fff,#0029ff,#0025ff,#0021ff,#001fff,#001fff,#001eff,#001eff,#001eff,#001dff,#001bff,#0019ff,#0015ff,#0011ff,#000cff,#0008ff,#0003ff,#0000fe,#0000fa,#0000f7,#0000f4,#0000f3,#0000f3,#0000f5,#0000f9,#0000fd,#0004ff,#0009ff,#000eff,#0012ff,#0016ff,#001aff,#001cff,#001dff,#001cff,#0018ff,#0012ff,#000bff,#0002ff,#0000fa,#0000f4,#0000f0,#0000ef,#0000ee,#0000ee,#0000ef,#0000ef,#0000f0,#0000f0,#0000f0,#0000f0,#0000f0,#0000ef,#0000ef)"></i>
<i style="background:linear-gradient(90deg,#0000ea,#0000ed,#0000f1,#0000f5,#0000fa,#0000ff,#0006ff,#000cff,#0013ff,#001aff,#0022ff,#0029ff,#0031ff,#0039ff,#0040ff,#0047ff,#004dff,#0052ff,#0055ff,#0055ff,#0054ff,#0050ff,#004cff,#0047ff,#0043ff,#0040ff,#003eff,#003dff,#003cff,#003cff,#003bff,#003bff,#003aff,#0039ff,#0038ff,#0037ff,#0035ff,#0034ff,#0033ff,#0031ff,#0030ff,#0030ff,#002fff,#0030ff,#0032ff,#0035ff,#003aff,#003fff,#0044ff,#0048ff,#004cff,#004dff,#004eff,#004eff,#004eff,#004dff,#004aff,#0046ff,#0040ff,#0038ff,#0030ff,#0028ff,#0023ff,#001fff,#001dff,#001cff,#001cff,#001bff,#001bff,#001bff,#001bff,#001bff,#001bff,#001bff,#001bff,#001bff)"></i>
<i style="background:linear-gradient(90deg,#0000ee,#0000f1,#0000f6,#0000fb,#0002ff,#0009ff,#0010ff,#0018ff,#0020ff,#0028ff,#0031ff,#003aff,#0042ff,#004bff,#0054ff,#005dff,#0065ff,#006bff,#006fff,#0072ff,#0073ff,#0073ff,#0072ff,#0070ff,#006eff,#006dff,#006bff,#0069ff,#0067ff,#0066ff,#0065ff,#0065ff,#0065ff,#0066ff,#0068ff,#0069ff,#006bff,#006dff,#006eff,#006fff,#0070ff,#0070ff,#0071ff,#0073ff,#0076ff,#007aff,#0080ff,#0085ff,#008bff,#008fff,#0092ff,#0093ff,#0091ff,#008fff,#008bff,#0086ff,#0080ff,#007aff,#0072ff,#006aff,#0062ff,#005bff,#0056ff,#0053ff,#0051ff,#0050ff,#0050ff,#0050ff,#0050ff,#004fff,#004fff,#004eff,#004eff,#004dff,#004cff,#004bff)"></i>
<i style="background:linear-gradient(90deg,#0000f2,#0000f6,#0000fb,#0003ff,#000aff,#0012ff,#001bff,#0024ff,#002eff,#0038ff,#0042ff,#004dff,#0057ff,#0061ff,#006bff,#0074ff,#007dff,#0085ff,#008bff,#0091ff,#0095ff,#0098ff,#009aff,#009cff,#009dff,#009eff,#009eff,#009dff,#009dff,#009dff,#009dff,#009fff,#00a2ff,#00a7ff,#00adff,#00b4ff,#00baff,#00bfff,#00c3ff,#00c5ff,#00c6ff,#00c6ff,#00c7ff,#00c9ff,#00cbff,#00cfff,#00d4ff,#00daff,#00dfff,#00e2ff,#00e4ff,#00e3ff,#00dfff,#00d9ff,#00d2ff,#00caff,#00c1ff,#00b8ff,#00afff,#00a6ff,#009eff,#0098ff,#0093ff,#0090ff,#008fff,#008eff,#008eff,#008eff,#008eff,#008dff,#008cff,#008bff,#0089ff,#0087ff,#0084ff,#0082ff)"></i>
<i style="background:linear-gradient(90deg,#0000f6,#0000fa,#0002ff,#000aff,#0012ff,#001cff,#0026ff,#0031ff,#003dff,#0048ff,#0055ff,#0061ff,#006dff,#0078ff,#0083ff,#008dff,#0097ff,#00a0ff,#00a9ff,#00b1ff,#00b9ff,#00c1ff,#00c8ff,#00ceff,#00d3ff,#00d6ff,#00d9ff,#00dbff,#00dcff,#00deff,#00e1ff,#00e5ff,#00ecff,#00f5ff,#00ffff,#0bfff4,#15ffea,#1cffe3,#21ffde,#23ffdc,#24ffdb,#24ffdb,#25ffda,#25ffda,#27ffd8,#29ffd6,#2cffd3,#30ffcf,#33ffcc,#35ffca,#35ffca,#32ffcd,#2dffd2,#25ffda,#1cffe3,#12ffed,#08fff7,#00fdff,#00f4ff,#00ebff,#00e3ff,#00dcff,#00d7ff,#00d4ff,#00d2ff,#00d0ff,#00d0ff,#00cfff,#00ceff,#00ccff,#00caff,#00c7ff,#00c4ff,#00c0ff,#00bdff,#00baff)"></i>
<i style="background:linear-gradient(90deg,#0000fa,#0001ff,#0008ff,#0011ff,#001aff,#0025ff,#0031ff,#003dff,#004aff,#0058ff,#0065ff,#0073ff,#0081ff,#008eff,#009aff,#00a6ff,#00b2ff,#00beff,#00c9ff,#00d5ff,#00e1ff,#00ecff,#00f8ff,#03fffc,#0dfff2,#15ffea,#1bffe4,#21ffde,#27ffd8,#2cffd3,#33ffcc,#3bffc4,#46ffb9,#52ffad,#60ff9f,#6eff91,#79ff86,#82ff7d,#87ff78,#8aff75,#8aff75,#8aff75,#89ff76,#88ff77,#88ff77,#88ff77,#88ff77,#88ff77,#88ff77,#87ff78,#85ff7a,#81ff7e,#7bff84,#73ff8c,#6aff95,#61ff9e,#57ffa8,#4effb1,#44ffbb,#3bffc4,#33ffcc,#2cffd3,#26ffd9,#21ffde,#1effe1,#1bffe4,#18ffe7,#15ffea,#12ffed,#0ffff0,#0bfff4,#06fff9,#01fffe,#00fbff,#00f6ff,#00f2ff)"></i>
<i style="background:linear-gradient(90deg,#0001ff,#0007ff,#000eff,#0018ff,#0022ff,#002eff,#003aff,#0047ff,#0055ff,#0064ff,#0073ff,#0082ff,#0091ff,#00a0ff,#00afff,#00beff,#00cdff,#00dcff,#00eaff,#00f9ff,#09fff6,#17ffe8,#26ffd9,#34ffcb,#42ffbd,#50ffaf,#5effa1,#6cff93,#79ff86,#86ff79,#93ff6c,#a1ff5e,#aeff51,#bbff44,#c7ff38,#d2ff2d,#dbff24,#e1ff1e,#e5ff1a,#e8ff17,#e9ff16,#eaff15,#eaff15,#e9ff16,#e9ff16,#e7ff18,#e5ff1a,#e3ff1c,#dfff20,#dbff24,#d6ff29,#d0ff2f,#c9ff36,#c1ff3e,#b9ff46,#b0ff4f,#a8ff57,#9fff60,#96ff69,#8eff71,#86ff79,#7eff81,#77ff88,#71ff8e,#6cff93,#67ff98,#62ff9d,#5dffa2,#58ffa7,#53ffac,#4cffb3,#46ffb9,#3effc1,#37ffc8,#31ffce,#2cffd3)"></i>
<i style="background:linear-gradient(90deg,#0007ff,#000dff,#0015ff,#0020ff,#002bff,#0037ff,#0045ff,#0052ff,#0061ff,#0071ff,#0081ff,#0091ff,#00a1ff,#00b2ff,#00c3ff,#00d3ff,#00e4ff,#00f6ff,#08fff7,#1affe5,#2cffd3,#3effc1,#50ffaf,#63ff9c,#76ff89,#89ff76,#9dff62,#b1ff4e,#c4ff3b,#d7ff28,#e9ff16,#f8ff07,#fff800,#ffeb00,#ffe000,#ffd700,#ffcf00,#ffc900,#ffc300,#ffbf00,#ffbc00,#ffba00,#ffb800,#ffb800,#ffb800,#ffb900,#ffbc00,#ffc000,#ffc400,#ffca00,#ffd000,#ffd700,#ffdf00,#ffe800,#fff200,#fffb00,#f9ff06,#f0ff0f,#e7ff18,#dfff20,#d7ff28,#cfff30,#c7ff38,#c1ff3e,#baff45,#b4ff4b,#aeff51,#a8ff57,#a1ff5e,#99ff66,#91ff6e,#88ff77,#7eff81,#74ff8b,#6bff94,#64ff9b)"></i>
<i style="background:linear-gradient(90deg,#000cff,#0013ff,#001cff,#0027ff,#0034ff,#0041ff,#004fff,#005eff,#006eff,#007eff,#008fff,#00a0ff,#00b1ff,#00c2ff,#00d4ff,#00e6ff,#00f8ff,#0bfff4,#1effe1,#32ffcd,#46ffb9,#5bffa4,#70ff8f,#87ff78,#9eff61,#b6ff49,#cfff30,#e9ff16,#fffb00,#ffe200,#ffcb00,#ffb700,#ffa600,#ff9800,#ff8c00,#ff8100,#ff7900,#ff7200,#ff6d00,#ff6900,#ff6600,#ff6300,#ff6100,#ff6100,#ff6100,#ff6200,#ff6400,#ff6700,#ff6b00,#ff7000,#ff7600,#ff7d00,#ff8700,#ff9100,#ff9c00,#ffa700,#ffb200,#ffbc00,#ffc600,#ffce00,#ffd700,#ffdf00,#ffe600,#ffee00,#fff500,#fffc00,#fbff04,#f3ff0c,#ebff14,#e1ff1e,#d7ff28,#cbff34,#beff41,#b1ff4e,#a6ff59,#9cff63)"></i>
<i style="background:linear-gradient(90deg,#000fff,#0017ff,#0022ff,#002eff,#003cff,#004aff,#0059ff,#0069ff,#007aff,#008aff,#009cff,#00adff,#00bfff,#00d1ff,#00e4ff,#00f7ff,#0bfff4,#1fffe0,#33ffcc,#48ffb7,#5dffa2,#73ff8c,#8bff74,#a3ff5c,#bdff42,#d8ff27,#f6ff09,#ffe900,#ffcb00,#ffad00,#ff9200,#ff7c00,#ff6900,#ff5a00,#ff4e00,#ff4400,#ff3b00,#ff3400,#ff2d00,#ff2800,#ff2300,#ff1f00,#ff1c00,#ff1a00,#ff1a00,#ff1a00,#ff1c00,#ff1f00,#ff2200,#ff2700,#ff2d00,#ff3500,#ff3f00,#ff4900,#ff5500,#ff6000,#ff6b00,#ff7500,#ff7f00,#ff8700,#ff8f00,#ff9700,#ff9f00,#ffa700,#ffaf00,#ffb700,#ffbf00,#ffc900,#ffd300,#ffdf00,#ffec00,#fffa00,#f4ff0b,#e5ff1a,#d6ff29,#cbff34)"></i>
<i style="background:linear-gradient(90deg,#0010ff,#0019ff,#0025ff,#0032ff,#0041ff,#0051ff,#0061ff,#0072ff,#0083ff,#0094ff,#00a6ff,#00b8ff,#00cbff,#00ddff,#00f1ff,#06fff9,#1affe5,#2fffd0,#44ffbb,#5affa5,#71ff8e,#89ff76,#a1ff5e,#bbff44,#d6ff29,#f3ff0c,#ffec00,#ffcb00,#ffab00,#ff8c00,#ff7000,#ff5900,#ff4600,#ff3700,#ff2a00,#ff2000,#ff1600,#ff0d00,#ff0300,#f90000,#ef0000,#e70000,#e00000,#db0000,#d90000,#d90000,#db0000,#de0000,#e20000,#e80000,#ef0000,#f70000,#ff0200,#ff0d00,#ff1800,#ff2300,#ff2d00,#ff3600,#ff3f00,#ff4600,#ff4e00,#ff5500,#ff5d00,#ff6500,#ff6e00,#ff7700,#ff8100,#ff8c00,#ff9800,#ffa600,#ffb600,#ffc700,#ffda00,#ffec00,#fffd00,#f3ff0c)"></i>
<i style="background:linear-gradient(90deg,#000eff,#0018ff,#0025ff,#0034ff,#0044ff,#0055ff,#0066ff,#0077ff,#0089ff,#009aff,#00acff,#00bfff,#00d2ff,#00e5ff,#00f9ff,#0efff1,#23ffdc,#39ffc6,#4fffb0,#65ff9a,#7cff83,#94ff6b,#adff52,#c7ff38,#e3ff1c,#fffd00,#ffdc00,#ffba00,#ff9700,#ff7500,#ff5800,#ff3f00,#ff2c00,#ff1c00,#ff1000,#ff0600,#fb0000,#f10000,#e70000,#dc0000,#d20000,#c80000,#c10000,#bb0000,#b70000,#b50000,#b50000,#b60000,#b70000,#ba0000,#be0000,#c40000,#cc0000,#d50000,#e00000,#ea0000,#f40000,#fd0000,#ff0600,#ff0d00,#ff1300,#ff1a00,#ff2200,#ff2a00,#ff3400,#ff3e00,#ff4a00,#ff5700,#ff6500,#ff7500,#ff8700,#ff9b00,#ffb000,#ffc600,#ffd900,#ffe900)"></i>
<i style="background:linear-gradient(90deg,#000bff,#0015ff,#0023ff,#0033ff,#0043ff,#0055ff,#0066ff,#0078ff,#0089ff,#009bff,#00adff,#00bfff,#00d2ff,#00e6ff,#00faff,#0ffff0,#24ffdb,#3affc5,#4fffb0,#65ff9a,#7bff84,#92ff6d,#a9ff56,#c2ff3d,#ddff22,#fcff03,#ffe100,#ffbc00,#ff9600,#ff7200,#ff5200,#ff3800,#ff2300,#ff1300,#ff0700,#fb0000,#f20000,#e90000,#e10000,#d80000,#cf0000,#c70000,#c00000,#b90000,#b30000,#ad0000,#a90000,#a50000,#a20000,#a10000,#a10000,#a40000,#a90000,#b00000,#b80000,#c10000,#c90000,#d00000,#d70000,#de0000,#e50000,#ec0000,#f40000,#fd0000,#ff0900,#ff1400,#ff2200,#ff3000,#ff4000,#ff5200,#ff6600,#ff7b00,#ff9200,#ffa800,#ffbd00,#ffcd00)"></i>
<i style="background:linear-gradient(90deg,#0006ff,#0010ff,#001eff,#002dff,#003eff,#004fff,#0060ff,#0071ff,#0082ff,#0093ff,#00a4ff,#00b5ff,#00c8ff,#00dbff,#00efff,#04fffb,#19ffe6,#2fffd0,#44ffbb,#59ffa6,#6eff91,#82ff7d,#98ff67,#afff50,#c9ff36,#e6ff19,#fff600,#ffd000,#ffa800,#ff8200,#ff6000,#ff4300,#ff2c00,#ff1b00,#ff0e00,#ff0200,#f80000,#ee0000,#e50000,#dc0000,#d30000,#ca0000,#c10000,#b90000,#b10000,#a90000,#a10000,#9b0000,#950000,#920000,#900000,#900000,#920000,#950000,#990000,#9d0000,#a20000,#a80000,#ae0000,#b50000,#bc0000,#c50000,#ce0000,#d90000,#e50000,#f20000,#ff0200,#ff1200,#ff2400,#ff3700,#ff4b00,#ff6100,#ff7800,#ff8f00,#ffa300,#ffb300)"></i>
<i style="background:linear-gradient(90deg,#0000ff,#000aff,#0017ff,#0026ff,#0035ff,#0045ff,#0055ff,#0065ff,#0074ff,#0083ff,#0093ff,#00a3ff,#00b4ff,#00c7ff,#00daff,#00efff,#05fffa,#1affe5,#2fffd0,#43ffbc,#57ffa8,#6bff94,#7fff80,#94ff6b,#adff52,#caff35,#ebff14,#ffec00,#ffc400,#ff9c00,#ff7800,#ff5900,#ff4100,#ff2d00,#ff1e00,#ff1100,#ff0500,#f90000,#ee0000,#e30000,#d80000,#ce0000,#c40000,#ba0000,#b00000,#a60000,#9d0000,#950000,#8e0000,#880000,#850000,#830000,#820000,#820000,#830000,#840000,#870000,#8a0000,#8f0000,#960000,#9e0000,#a80000,#b30000,#bf0000,#cc0000,#db0000,#eb0000,#fc0000,#ff1000,#ff2400,#ff3900,#ff4f00,#ff6600,#ff7c00,#ff9000,#ffa000)"></i>
<i style="background:linear-gradient(90deg,#0000f9,#0003ff,#000fff,#001dff,#002bff,#003aff,#0048ff,#0056ff,#0063ff,#0071ff,#007fff,#008dff,#009dff,#00aeff,#00c1ff,#00d6ff,#00ebff,#01fffe,#15ffea,#28ffd7,#3affc5,#4affb5,#5bffa4,#6eff91,#84ff7b,#9fff60,#c1ff3e,#e8ff17,#ffec00,#ffc100,#ff9a00,#ff7800,#ff5c00,#ff4600,#ff3500,#ff2600,#ff1900,#ff0d00,#ff0200,#f70000,#ed0000,#e40000,#da0000,#d00000,#c50000,#ba0000,#ae0000,#a20000,#980000,#900000,#8a0000,#870000,#850000,#840000,#840000,#840000,#860000,#880000,#8d0000,#940000,#9c0000,#a60000,#b10000,#bd0000,#ca0000,#d90000,#e90000,#fb0000,#ff0f00,#ff2200,#ff3800,#ff4e00,#ff6500,#ff7b00,#ff8f00,#ff9f00)"></i>
<i style="background:linear-gradient(90deg,#0000f2,#0000fb,#0007ff,#0014ff,#0021ff,#002eff,#003bff,#0047ff,#0053ff,#005eff,#006aff,#0077ff,#0085ff,#0095ff,#00a8ff,#00bcff,#00d0ff,#00e5ff,#00f7ff,#09fff6,#17ffe8,#24ffdb,#31ffce,#3fffc0,#51ffae,#69ff96,#88ff77,#aeff51,#d9ff26,#fff900,#ffcf00,#ffab00,#ff8d00,#ff7400,#ff6100,#ff5000,#ff4300,#ff3700,#ff2d00,#ff2500,#ff1d00,#ff1600,#ff0f00,#ff0600,#fb0000,#ee0000,#e10000,#d20000,#c50000,#b90000,#af0000,#a80000,#a30000,#a00000,#9d0000,#9c0000,#9c0000,#9e0000,#a20000,#a80000,#af0000,#b70000,#c10000,#cc0000,#d80000,#e60000,#f60000,#ff0800,#ff1a00,#ff2d00,#ff4200,#ff5800,#ff6f00,#ff8600,#ff9a00,#ffaa00)"></i>
<i style="background:linear-gradient(90deg,#0000e9,#0000f1,#0000fc,#0008ff,#0015ff,#0020ff,#002cff,#0037ff,#0041ff,#004bff,#0055ff,#0060ff,#006cff,#007aff,#008aff,#009bff,#00adff,#00bfff,#00cfff,#00deff,#00ecff,#00f8ff,#05fffa,#12ffed,#23ffdc,#38ffc7,#53ffac,#74ff8b,#99ff66,#c0ff3f,#e6ff19,#fff500,#ffd600,#ffbc00,#ffa500,#ff9200,#ff8100,#ff7400,#ff6a00,#ff6100,#ff5b00,#ff5500,#ff4e00,#ff4700,#ff3d00,#ff3100,#ff2200,#ff1300,#ff0300,#f40000,#e80000,#dd0000,#d40000,#cd0000,#c80000,#c40000,#c30000,#c30000,#c50000,#c90000,#ce0000,#d50000,#dc0000,#e60000,#f00000,#fd0000,#ff0c00,#ff1c00,#ff2d00,#ff4000,#ff5400,#ff6a00,#ff8100,#ff9800,#ffac00,#ffbc00)"></i>
<i style="background:linear-gradient(90deg,#0000e1,#0000e8,#0000f1,#0000fb,#0007ff,#0011ff,#001bff,#0023ff,#002cff,#0034ff,#003cff,#0045ff,#004eff,#005aff,#0067ff,#0075ff,#0084ff,#0094ff,#00a3ff,#00b1ff,#00bfff,#00ccff,#00d9ff,#00e7ff,#00f7ff,#09fff6,#1effe1,#35ffca,#4fffb0,#6aff95,#86ff79,#a2ff5d,#beff41,#d9ff26,#f4ff0b,#fff200,#ffdd00,#ffcc00,#ffbe00,#ffb400,#ffab00,#ffa400,#ff9d00,#ff9400,#ff8900,#ff7b00,#ff6a00,#ff5800,#ff4600,#ff3500,#ff2500,#ff1800,#ff0c00,#ff0200,#f90000,#f40000,#f00000,#ef0000,#f00000,#f20000,#f50000,#f90000,#fe0000,#ff0600,#ff0f00,#ff1a00,#ff2700,#ff3500,#ff4600,#ff5800,#ff6b00,#ff8100,#ff9700,#ffae00,#ffc200,#ffd200)"></i>
<i style="background:linear-gradient(90deg,#0000db,#0000e1,#0000e8,#0000f1,#0000fa,#0003ff,#000aff,#0011ff,#0017ff,#001dff,#0023ff,#002aff,#0032ff,#003bff,#0046ff,#0052ff,#005fff,#006cff,#0077ff,#0081ff,#008aff,#0091ff,#0097ff,#009eff,#00a5ff,#00aeff,#00b8ff,#00c5ff,#00d4ff,#00e6ff,#00fbff,#14ffeb,#32ffcd,#53ffac,#78ff87,#9cff63,#bdff42,#d8ff27,#edff12,#fcff03,#fff600,#ffed00,#ffe400,#ffda00,#ffce00,#ffbf00,#ffaf00,#ff9e00,#ff8c00,#ff7c00,#ff6e00,#ff6100,#ff5700,#ff4e00,#ff4700,#ff4100,#ff3e00,#ff3c00,#ff3b00,#ff3b00,#ff3b00,#ff3d00,#ff3f00,#ff4300,#ff4900,#ff5100,#ff5c00,#ff6900,#ff7800,#ff8800,#ff9a00,#ffad00,#ffc200,#ffd600,#ffe800,#fff700)"></i>
<i style="background:linear-gradient(90deg,#0000d8,#0000dd,#0000e4,#0000eb,#0000f2,#0000f8,#0000fe,#0004ff,#0008ff,#000cff,#0010ff,#0014ff,#001aff,#0021ff,#002aff,#0033ff,#003dff,#0045ff,#004bff,#004fff,#0051ff,#0050ff,#004fff,#004eff,#004eff,#004eff,#0051ff,#0055ff,#005cff,#0066ff,#0075ff,#0089ff,#00a5ff,#00c9ff,#00f4ff,#22ffdd,#4cffb3,#71ff8e,#8eff71,#a4ff5b,#b5ff4a,#c3ff3c,#cfff30,#dcff23,#e9ff16,#f7ff08,#fff700,#ffe800,#ffda00,#ffcd00,#ffc200,#ffb900,#ffb200,#ffac00,#ffa700,#ffa200,#ff9e00,#ff9a00,#ff9700,#ff9400,#ff9200,#ff9100,#ff9100,#ff9300,#ff9800,#ff9f00,#ffa800,#ffb200,#ffbe00,#ffcc00,#ffda00,#ffea00,#fffb00,#f3ff0c,#e3ff1c,#d7ff28)"></i>
<i style="background:linear-gradient(90deg,#0000d7,#0000db,#0000e0,#0000e6,#0000eb,#0000f0,#0000f4,#0000f7,#0000f9,#0000fb,#0000fe,#0001ff,#0004ff,#0009ff,#000eff,#0014ff,#001aff,#0020ff,#0023ff,#0024ff,#0022ff,#001eff,#0018ff,#0013ff,#000fff,#000cff,#000aff,#000aff,#000cff,#0010ff,#0018ff,#0026ff,#003eff,#005fff,#0089ff,#00b6ff,#00e3ff,#0bfff4,#29ffd6,#40ffbf,#52ffad,#60ff9f,#6dff92,#7aff85,#89ff76,#99ff66,#abff54,#bcff43,#cdff32,#dbff24,#e7ff18,#f1ff0e,#f9ff06,#ffff00,#fff900,#fff400,#fff000,#ffeb00,#ffe700,#ffe300,#ffe000,#ffdd00,#ffdc00,#ffde00,#ffe100,#ffe600,#ffed00,#fff500,#ffff00,#f5ff0a,#e9ff16,#ddff22,#cfff30,#c2ff3d,#b5ff4a,#abff54)"></i>
<i style="background:linear-gradient(90deg,#0000d6,#0000d9,#0000dd,#0000e2,#0000e5,#0000e8,#0000eb,#0000ec,#0000ed,#0000ee,#0000ee,#0000ef,#0000f0,#0000f3,#0000f6,#0000fa,#0000fe,#0002ff,#0003ff,#0001ff,#0000fa,#0000f0,#0000e5,#0000da,#0000d1,#0000ca,#0000c6,#0000c4,#0000c4,#0000c6,#0000cc,#0000d9,#0000ef,#0012ff,#003dff,#006bff,#0098ff,#00bdff,#00d9ff,#00edff,#00faff,#06fff9,#0ffff0,#1affe5,#26ffd9,#36ffc9,#48ffb7,#5bffa4,#6eff91,#7fff80,#8eff71,#9aff65,#a5ff5a,#adff52,#b5ff4a,#bbff44,#c1ff3e,#c6ff39,#cbff34,#cfff30,#d3ff2c,#d5ff2a,#d6ff29,#d6ff29,#d4ff2b,#d0ff2f,#ccff33,#c6ff39,#bfff40,#b8ff47,#afff50,#a5ff5a,#9bff64,#91ff6e,#87ff78,#7fff80)"></i>
<i style="background:linear-gradient(90deg,#0000d5,#0000d8,#0000db,#0000de,#0000e1,#0000e3,#0000e5,#0000e6,#0000e6,#0000e6,#0000e6,#0000e6,#0000e6,#0000e7,#0000e8,#0000ea,#0000eb,#0000eb,#0000ea,#0000e7,#0000e0,#0000d7,#0000cc,#0000c2,#0000b9,#0000b3,#0000b0,#0000af,#0000b0,#0000b3,#0000ba,#0000c6,#0000db,#0000f8,#001dff,#0046ff,#006dff,#0090ff,#00adff,#00c3ff,#00d5ff,#00e3ff,#00f0ff,#00fcff,#09fff6,#16ffe9,#22ffdd,#2effd1,#3affc5,#45ffba,#4fffb0,#5affa5,#63ff9c,#6cff93,#74ff8b,#7bff84,#81ff7e,#87ff78,#8bff74,#8fff70,#93ff6c,#95ff6a,#96ff69,#96ff69,#95ff6a,#92ff6d,#8fff70,#8bff74,#86ff79,#81ff7e,#7bff84,#74ff8b,#6cff93,#64ff9b,#5dffa2,#57ffa8)"></i>
<i style="background:linear-gradient(90deg,#0000d4,#0000d7,#0000da,#0000dd,#0000e0,#0000e2,#0000e4,#0000e6,#0000e7,#0000e7,#0000e8,#0000e8,#0000e9,#0000e9,#0000e8,#0000e8,#0000e7,#0000e6,#0000e5,#0000e2,#0000df,#0000da,#0000d5,#0000d1,#0000cd,#0000ca,#0000c9,#0000c8,#0000c9,#0000cb,#0000cf,#0000d8,#0000e6,#0000fc,#0019ff,#0039ff,#0059ff,#0078ff,#0093ff,#00aaff,#00beff,#00cfff,#00dfff,#00ecff,#00f9ff,#05fffa,#0ffff0,#18ffe7,#20ffdf,#28ffd7,#30ffcf,#37ffc8,#3effc1,#45ffba,#4cffb3,#52ffad,#57ffa8,#5cffa3,#61ff9e,#65ff9a,#68ff97,#6aff95,#6bff94,#6cff93,#6aff95,#68ff97,#65ff9a,#62ff9d,#5effa1,#59ffa6,#54ffab,#4fffb0,#49ffb6,#44ffbb,#3effc1,#3affc5)"></i>
<i style="background:linear-gradient(90deg,#0000d4,#0000d6,#0000d9,#0000dc,#0000df,#0000e2,#0000e4,#0000e7,#0000e9,#0000eb,#0000ed,#0000ef,#0000f0,#0000f2,#0000f3,#0000f4,#0000f5,#0000f6,#0000f6,#0000f5,#0000f4,#0000f2,#0000ef,#0000ed,#0000eb,#0000ea,#0000e9,#0000e8,#0000e9,#0000ea,#0000ec,#0000f2,#0000fc,#000dff,#0021ff,#0039ff,#0053ff,#006dff,#0085ff,#009cff,#00b0ff,#00c3ff,#00d4ff,#00e2ff,#00eeff,#00f8ff,#01fffe,#08fff7,#0efff1,#13ffec,#19ffe6,#1effe1,#23ffdc,#28ffd7,#2cffd3,#31ffce,#35ffca,#39ffc6,#3effc1,#41ffbe,#45ffba,#47ffb8,#49ffb6,#49ffb6,#48ffb7,#45ffba,#42ffbd,#3fffc0,#3bffc4,#37ffc8,#33ffcc,#2fffd0,#2bffd4,#27ffd8,#23ffdc,#20ffdf)"></i>
<i style="background:linear-gradient(90deg,#0000d4,#0000d6,#0000d8,#0000db,#0000de,#0000e1,#0000e5,#0000e8,#0000eb,#0000ee,#0000f1,#0000f4,#0000f8,#0000fb,#0000fe,#0003ff,#0006ff,#0009ff,#000bff,#000cff,#000dff,#000eff,#000fff,#000fff,#000fff,#0010ff,#0011ff,#0012ff,#0013ff,#0015ff,#0018ff,#001dff,#0024ff,#002dff,#0039ff,#0048ff,#0058ff,#006aff,#007dff,#0090ff,#00a4ff,#00b6ff,#00c7ff,#00d5ff,#00dfff,#00e7ff,#00ecff,#00f0ff,#00f3ff,#00f6ff,#00f9ff,#00fbff,#00feff,#02fffd,#04fffb,#07fff8,#0afff5,#0dfff2,#11ffee,#14ffeb,#17ffe8,#19ffe6,#1affe5,#1affe5,#18ffe7,#16ffe9,#13ffec,#0ffff0,#0cfff3,#08fff7,#05fffa,#02fffd,#00feff,#00fbff,#00f9ff,#00f7ff)"></i>
<i style="background:linear-gradient(90deg,#0000d4,#0000d5,#0000d8,#0000db,#0000de,#0000e1,#0000e5,#0000e8,#0000ec,#0000f0,#0000f3,#0000f7,#0000fb,#0000fe,#0003ff,#0006ff,#0009ff,#000dff,#0011ff,#0015ff,#001aff,#001fff,#0024ff,#0029ff,#002dff,#0030ff,#0032ff,#0034ff,#0035ff,#0036ff,#0038ff,#003aff,#003dff,#0041ff,#0047ff,#004eff,#0056ff,#0060ff,#006cff,#0079ff,#0087ff,#0096ff,#00a3ff,#00aeff,#00b7ff,#00bdff,#00c1ff,#00c4ff,#00c6ff,#00c8ff,#00caff,#00cbff,#00ccff,#00cdff,#00ceff,#00cfff,#00d0ff,#00d1ff,#00d2ff,#00d3ff,#00d4ff,#00d4ff,#00d4ff,#00d4ff,#00d2ff,#00d0ff,#00ccff,#00c9ff,#00c5ff,#00c1ff,#00bdff,#00b8ff,#00b4ff,#00b0ff,#00acff,#00a9ff)"></i>
<i style="background:linear-gradient(90deg,#0000d4,#0000d6,#0000d8,#0000db,#0000df,#0000e2,#0000e6,#0000ea,#0000ee,#0000f2,#0000f6,#0000fa,#0000fe,#0003ff,#0006ff,#000aff,#000dff,#0011ff,#0015ff,#0019ff,#001eff,#0024ff,#002aff,#002eff,#0032ff,#0035ff,#0037ff,#0037ff,#0038ff,#0038ff,#0038ff,#0039ff,#003aff,#003bff,#003eff,#0041ff,#0045ff,#004aff,#0051ff,#0059ff,#0063ff,#006dff,#0077ff,#0081ff,#0088ff,#008eff,#0093ff,#0097ff,#009aff,#009cff,#009dff,#009dff,#009dff,#009cff,#009cff,#009bff,#009aff,#0099ff,#0098ff,#0097ff,#0096ff,#0095ff,#0093ff,#0091ff,#008fff,#008cff,#0089ff,#0085ff,#0082ff,#007eff,#007aff,#0075ff,#0071ff,#006dff,#0069ff,#0066ff)"></i>
<i style="background:linear-gradient(90deg,#0000d5,#0000d7,#0000db,#0000de,#0000e2,#0000e6,#0000ea,#0000ee,#0000f2,#0000f6,#0000fa,#0000fd,#0002ff,#0005ff,#0009ff,#000cff,#000fff,#0013ff,#0017ff,#001bff,#001fff,#0024ff,#0028ff,#002cff,#0030ff,#0032ff,#0034ff,#0036ff,#0036ff,#0037ff,#0037ff,#0037ff,#0036ff,#0035ff,#0034ff,#0032ff,#0032ff,#0032ff,#0034ff,#0038ff,#003eff,#0044ff,#004cff,#0053ff,#005aff,#0060ff,#0066ff,#006bff,#006eff,#0071ff,#0072ff,#0072ff,#0071ff,#006fff,#006dff,#006aff,#0067ff,#0064ff,#0061ff,#005eff,#005bff,#0057ff,#0054ff,#0051ff,#004dff,#004aff,#0046ff,#0043ff,#0040ff,#003cff,#0039ff,#0036ff,#0033ff,#0031ff,#002fff,#002dff)"></i>
<i style="background:linear-gradient(90deg,#0000d5,#0000d8,#0000dc,#0000e1,#0000e5,#0000ea,#0000ee,#0000f2,#0000f5,#0000f9,#0000fc,#0000ff,#0004ff,#0007ff,#000aff,#000dff,#0011ff,#0014ff,#0017ff,#001bff,#001eff,#0022ff,#0025ff,#0028ff,#002bff,#002eff,#0030ff,#0032ff,#0034ff,#0035ff,#0036ff,#0035ff,#0033ff,#0030ff,#002bff,#0027ff,#0023ff,#0020ff,#001fff,#001fff,#0021ff,#0024ff,#0028ff,#002dff,#0031ff,#0037ff,#003dff,#0042ff,#0047ff,#004aff,#004cff,#004cff,#004bff,#0048ff,#0045ff,#0041ff,#003dff,#0038ff,#0034ff,#002fff,#002aff,#0026ff,#0021ff,#001dff,#0019ff,#0015ff,#0012ff,#000fff,#000cff,#000aff,#0007ff,#0005ff,#0004ff,#0002ff,#0001ff,#0000ff)"></i>
<i style="background:linear-gradient(90deg,#0000d5,#0000d8,#0000dc,#0000e0,#0000e5,#0000e9,#0000ed,#0000f1,#0000f4,#0000f7,#0000fa,#0000fd,#0001ff,#0004ff,#0007ff,#0009ff,#000cff,#000fff,#0012ff,#0015ff,#0017ff,#001aff,#001cff,#001eff,#0020ff,#0022ff,#0025ff,#0026ff,#0028ff,#0029ff,#002aff,#0029ff,#0028ff,#0025ff,#0021ff,#001dff,#0019ff,#0016ff,#0014ff,#0014ff,#0014ff,#0015ff,#0017ff,#0019ff,#001bff,#001eff,#0022ff,#0025ff,#0028ff,#002bff,#002cff,#002cff,#002bff,#0029ff,#0026ff,#0022ff,#001eff,#0019ff,#0013ff,#000dff,#0007ff,#0002ff,#0000fb,#0000f7,#0000f3,#0000f0,#0000ed,#0000eb,#0000e9,#0000e7,#0000e5,#0000e3,#0000e2,#0000e0,#0000df,#0000de)"></i>
<i style="background:linear-gradient(90deg,#0000d3,#0000d6,#0000da,#0000df,#0000e3,#0000e7,#0000ea,#0000ed,#0000ef,#0000f2,#0000f4,#0000f6,#0000f8,#0000f9,#0000fb,#0000fd,#0000ff,#0002ff,#0004ff,#0005ff,#0007ff,#0009ff,#000bff,#000cff,#000eff,#000fff,#0010ff,#0011ff,#0011ff,#0012ff,#0012ff,#0012ff,#0011ff,#0011ff,#0010ff,#000fff,#000eff,#000dff,#000dff,#000eff,#000fff,#0010ff,#0011ff,#0012ff,#0012ff,#0013ff,#0013ff,#0013ff,#0012ff,#0012ff,#0011ff,#0010ff,#000fff,#000dff,#000bff,#0008ff,#0004ff,#0000fe,#0000f8,#0000f2,#0000eb,#0000e4,#0000df,#0000da,#0000d7,#0000d4,#0000d2,#0000d0,#0000cf,#0000cd,#0000cc,#0000ca,#0000c8,#0000c7,#0000c6,#0000c5)"></i>
<i style="background:linear-gradient(90deg,#0000d1,#0000d4,#0000d8,#0000dc,#0000df,#0000e3,#0000e5,#0000e8,#0000e9,#0000eb,#0000ec,#0000ed,#0000ee,#0000ee,#0000ef,#0000f0,#0000f0,#0000f1,#0000f2,#0000f4,#0000f6,#0000f8,#0000fb,#0000fd,#0000ff,#0001ff,#0002ff,#0002ff,#0003ff,#0003ff,#0003ff,#0003ff,#0003ff,#0004ff,#0004ff,#0005ff,#0006ff,#0007ff,#0008ff,#0009ff,#000aff,#000bff,#000cff,#000cff,#000cff,#000bff,#000aff,#0009ff,#0007ff,#0005ff,#0003ff,#0001ff,#0000ff,#0000fd,#0000fb,#0000f9,#0000f6,#0000f1,#0000ec,#0000e6,#0000e0,#0000db,#0000d6,#0000d2,#0000cf,#0000cd,#0000cb,#0000c9,#0000c8,#0000c6,#0000c5,#0000c3,#0000c2,#0000c0,#0000bf,#0000be)"></i>
<i style="background:linear-gradient(90deg,#0000ce,#0000d1,#0000d4,#0000d8,#0000db,#0000de,#0000e0,#0000e2,#0000e3,#0000e4,#0000e5,#0000e5,#0000e5,#0000e6,#0000e6,#0000e6,#0000e6,#0000e6,#0000e7,#0000e8,#0000ea,#0000ed,#0000f0,#0000f4,#0000f6,#0000f8,#0000f9,#0000fa,#0000fa,#0000fa,#0000fa,#0000fa,#0000fb,#0000fc,#0000fd,#0000fe,#0000ff,#0001ff,#0003ff,#0003ff,#0004ff,#0005ff,#0005ff,#0005ff,#0005ff,#0004ff,#0003ff,#0001ff,#0000fe,#0000fc,#0000fa,#0000f8,#0000f7,#0000f5,#0000f3,#0000f1,#0000ee,#0000eb,#0000e7,#0000e2,#0000dd,#0000d9,#0000d5,#0000d1,#0000cf,#0000cd,#0000cb,#0000c9,#0000c8,#0000c6,#0000c5,#0000c3,#0000c2,#0000c0,#0000bf,#0000be)"></i>
<i style="background:linear-gradient(90deg,#0000cb,#0000ce,#0000d1,#0000d4,#0000d7,#0000da,#0000db,#0000dd,#0000de,#0000df,#0000df,#0000df,#0000e0,#0000e0,#0000e0,#0000e0,#0000e0,#0000e0,#0000e0,#0000e2,#0000e4,#0000e7,#0000ea,#0000ee,#0000f0,#0000f2,#0000f3,#0000f4,#0000f4,#0000f4,#0000f4,#0000f5,#0000f5,#0000f6,#0000f7,#0000f9,#0000fa,#0000fb,#0000fc,#0000fc,#0000fd,#0000fd,#0000fd,#0000fd,#0000fd,#0000fc,#0000fb,#0000f9,#0000f8,#0000f6,#0000f4,#0000f3,#0000f1,#0000ef,#0000ed,#0000eb,#0000e9,#0000e6,#0000e3,#0000df,#0000db,#0000d7,#0000d4,#0000d1,#0000cf,#0000cd,#0000cb,#0000ca,#0000c8,#0000c6,#0000c5,#0000c3,#0000c2,#0000c0,#0000bf,#0000be)"></i>
<i style="background:linear-gradient(90deg,#0000c8,#0000ca,#0000cd,#0000d0,#0000d3,#0000d5,#0000d7,#0000d8,#0000d9,#0000d9,#0000da,#0000da,#0000da,#0000db,#0000da,#0000da,#0000da,#0000da,#0000db,#0000dc,#0000df,#0000e2,#0000e5,#0000e8,#0000eb,#0000ed,#0000ee,#0000ef,#0000ef,#0000ef,#0000ef,#0000f0,#0000f0,#0000f1,#0000f2,#0000f3,#0000f4,#0000f4,#0000f5,#0000f5,#0000f5,#0000f5,#0000f5,#0000f5,#0000f5,#0000f4,#0000f4,#0000f3,#0000f2,#0000f1,#0000ef,#0000ee,#0000ec,#0000eb,#0000e9,#0000e7,#0000e5,#0000e2,#0000df,#0000dc,#0000d9,#0000d6,#0000d3,#0000d1,#0000cf,#0000cd,#0000cb,#0000ca,#0000c8,#0000c6,#0000c5,#0000c3,#0000c2,#0000c0,#0000bf,#0000be)"></i>
<i style="background:linear-gradient(90deg,#0000c5,#0000c6,#0000c9,#0000cb,#0000cd,#0000cf,#0000d1,#0000d2,#0000d3,#0000d4,#0000d5,#0000d5,#0000d6,#0000d6,#0000d6,#0000d6,#0000d6,#0000d6,#0000d6,#0000d8,#0000da,#0000dd,#0000e0,#0000e4,#0000e6,#0000e8,#0000ea,#0000ea,#0000ea,#0000eb,#0000eb,#0000eb,#0000eb,#0000ec,#0000ec,#0000ed,#0000ed,#0000ee,#0000ee,#0000ee,#0000ee,#0000ee,#0000ed,#0000ed,#0000ed,#0000ed,#0000ec,#0000ec,#0000ec,#0000eb,#0000ea,#0000e9,#0000e8,#0000e6,#0000e5,#0000e3,#0000e1,#0000de,#0000dc,#0000da,#0000d7,#0000d5,#0000d3,#0000d1,#0000cf,#0000cd,#0000cb,#0000ca,#0000c8,#0000c6,#0000c5,#0000c3,#0000c2,#0000c0,#0000bf,#0000be)"></i>
<i style="background:linear-gradient(90deg,#0000c1,#0000c2,#0000c3,#0000c5,#0000c7,#0000c9,#0000ca,#0000cc,#0000cd,#0000ce,#0000d0,#0000d0,#0000d1,#0000d1,#0000d1,#0000d1,#0000d1,#0000d2,#0000d2,#0000d3,#0000d5,#0000d8,#0000db,#0000df,#0000e1,#0000e3,#0000e4,#0000e5,#0000e5,#0000e5,#0000e5,#0000e5,#0000e5,#0000e6,#0000e6,#0000e6,#0000e6,#0000e6,#0000e6,#0000e6,#0000e6,#0000e6,#0000e5,#0000e5,#0000e5,#0000e5,#0000e5,#0000e5,#0000e5,#0000e5,#0000e4,#0000e4,#0000e2,#0000e1,#0000df,#0000dd,#0000dc,#0000da,#0000d8,#0000d7,#0000d5,#0000d3,#0000d2,#0000d0,#0000cf,#0000cd,#0000cb,#0000ca,#0000c8,#0000c6,#0000c5,#0000c3,#0000c2,#0000c0,#0000bf,#0000be)"></i>
<i style="background:linear-gradient(90deg,#0000bc,#0000bd,#0000be,#0000c0,#0000c1,#0000c3,#0000c4,#0000c6,#0000c7,#0000c9,#0000ca,#0000cc,#0000cc,#0000cd,#0000cd,#0000cd,#0000cd,#0000ce,#0000ce,#0000cf,#0000d1,#0000d4,#0000d7,#0000d9,#0000dc,#0000de,#0000df,#0000df,#0000df,#0000df,#0000df,#0000df,#0000df,#0000df,#0000df,#0000df,#0000df,#0000de,#0000de,#0000de,#0000de,#0000dd,#0000dd,#0000dd,#0000dd,#0000dd,#0000dd,#0000dd,#0000dd,#0000dd,#0000dd,#0000dc,#0000db,#0000da,#0000d8,#0000d7,#0000d6,#0000d4,#0000d3,#0000d2,#0000d1,#0000cf,#0000ce,#0000cd,#0000cc,#0000ca,#0000c9,#0000c7,#0000c6,#0000c4,#0000c3,#0000c1,#0000c0,#0000be,#0000bd,#0000bc)"></i>
<i style="background:linear-gradient(90deg,#0000b9,#0000b9,#0000ba,#0000bb,#0000bc,#0000be,#0000bf,#0000c1,#0000c2,#0000c4,#0000c6,#0000c7,#0000c8,#0000c9,#0000c9,#0000c9,#0000c9,#0000ca,#0000ca,#0000cb,#0000cd,#0000cf,#0000d2,#0000d4,#0000d7,#0000d8,#0000d9,#0000da,#0000da,#0000da,#0000da,#0000da,#0000d9,#0000d9,#0000d8,#0000d8,#0000d7,#0000d6,#0000d6,#0000d5,#0000d5,#0000d5,#0000d4,#0000d4,#0000d4,#0000d4,#0000d4,#0000d4,#0000d4,#0000d4,#0000d4,#0000d4,#0000d3,#0000d2,#0000d1,#0000d0,#0000cf,#0000ce,#0000cc,#0000cb,#0000ca,#0000c8,#0000c7,#0000c6,#0000c5,#0000c4,#0000c3,#0000c2,#0000c1,#0000bf,#0000be,#0000bc,#0000bb,#0000b9,#0000b8,#0000b7)"></i>
<i style="background:linear-gradient(90deg,#0000b6,#0000b6,#0000b7,#0000b8,#0000b9,#0000ba,#0000bb,#0000bd,#0000be,#0000c0,#0000c2,#0000c3,#0000c4,#0000c4,#0000c5,#0000c5,#0000c5,#0000c5,#0000c6,#0000c7,#0000c8,#0000cb,#0000cd,#0000cf,#0000d1,#0000d3,#0000d4,#0000d4,#0000d4,#0000d4,#0000d4,#0000d4,#0000d3,#0000d2,#0000d1,#0000d0,#0000ce,#0000cd,#0000cd,#0000cc,#0000cc,#0000cc,#0000cc,#0000cc,#0000cc,#0000cc,#0000cc,#0000cc,#0000cc,#0000cc,#0000cc,#0000cc,#0000cb,#0000cb,#0000ca,#0000c9,#0000c8,#0000c7,#0000c5,#0000c4,#0000c2,#0000c0,#0000bf,#0000be,#0000bd,#0000bc,#0000bc,#0000bb,#0000ba,#0000b9,#0000b8,#0000b7,#0000b5,#0000b4,#0000b3,#0000b1)"></i>
<i style="background:linear-gradient(90deg,#0000b4,#0000b4,#0000b4,#0000b5,#0000b6,#0000b7,#0000b8,#0000b9,#0000bb,#0000bc,#0000be,#0000bf,#0000c0,#0000c1,#0000c1,#0000c1,#0000c1,#0000c1,#0000c2,#0000c3,#0000c4,#0000c6,#0000c8,#0000ca,#0000cc,#0000cd,#0000ce,#0000ce,#0000ce,#0000ce,#0000ce,#0000cd,#0000cc,#0000ca,#0000c8,#0000c5,#0000c3,#0000c2,#0000c1,#0000c1,#0000c1,#0000c2,#0000c2,#0000c3,#0000c3,#0000c4,#0000c4,#0000c4,#0000c4,#0000c4,#0000c4,#0000c4,#0000c4,#0000c3,#0000c3,#0000c3,#0000c2,#0000c1,#0000bf,#0000bd,#0000bb,#0000b9,#0000b8,#0000b7,#0000b6,#0000b6,#0000b6,#0000b5,#0000b5,#0000b4,#0000b3,#0000b2,#0000b1,#0000af,#0000ae,#0000ad)"></i>
<i style="background:linear-gradient(90deg,#0000b3,#0000b3,#0000b3,#0000b3,#0000b4,#0000b4,#0000b5,#0000b6,#0000b7,#0000b9,#0000ba,#0000bb,#0000bc,#0000bd,#0000bd,#0000be,#0000be,#0000be,#0000be,#0000bf,#0000c0,#0000c1,#0000c3,#0000c5,#0000c6,#0000c7,#0000c7,#0000c8,#0000c8,#0000c8,#0000c7,#0000c6,#0000c4,#0000c2,#0000be,#0000bb,#0000b8,#0000b6,#0000b5,#0000b5,#0000b7,#0000b8,#0000ba,#0000bc,#0000bc,#0000bd,#0000bd,#0000bd,#0000bd,#0000bd,#0000bd,#0000bd,#0000bd,#0000bd,#0000bd,#0000bd,#0000bc,#0000bc,#0000ba,#0000b9,#0000b7,#0000b5,#0000b4,#0000b3,#0000b3,#0000b3,#0000b3,#0000b2,#0000b2,#0000b2,#0000b1,#0000b0,#0000af,#0000ad,#0000ab,#0000aa)"></i>
<i style="background:linear-gradient(90deg,#0000b3,#0000b3,#0000b3,#0000b3,#0000b3,#0000b3,#0000b3,#0000b4,#0000b5,#0000b6,#0000b7,#0000b8,#0000b9,#0000b9,#0000ba,#0000ba,#0000ba,#0000ba,#0000ba,#0000bb,#0000bb,#0000bc,#0000bd,#0000be,#0000bf,#0000c0,#0000c0,#0000c0,#0000c0,#0000c0,#0000c0,#0000be,#0000bd,#0000ba,#0000b6,#0000b3,#0000b0,#0000ae,#0000ad,#0000ae,#0000b0,#0000b2,#0000b5,#0000b6,#0000b8,#0000b8,#0000b9,#0000b9,#0000b9,#0000b9,#0000b9,#0000b9,#0000b9,#0000b9,#0000b9,#0000b9,#0000b9,#0000b8,#0000b7,#0000b6,#0000b5,#0000b4,#0000b3,#0000b3,#0000b3,#0000b3,#0000b2,#0000b2,#0000b2,#0000b2,#0000b1,#0000b1,#0000af,#0000ae,#0000ad,#0000ac)"></i>
<i style="background:linear-gradient(90deg,#0000b3,#0000b3,#0000b3,#0000b3,#0000b3,#0000b3,#0000b3,#0000b3,#0000b3,#0000b4,#0000b5,#0000b5,#0000b5,#0000b6,#0000b6,#0000b6,#0000b6,#0000b6,#0000b6,#0000b6,#0000b6,#0000b7,#0000b7,#0000b7,#0000b8,#0000b8,#0000b8,#0000b8,#0000b8,#0000b8,#0000b8,#0000b7,#0000b6,#0000b5,#0000b3,#0000b1,#0000b0,#0000af,#0000ae,#0000af,#0000b0,#0000b1,#0000b3,#0000b4,#0000b5,#0000b5,#0000b5,#0000b6,#0000b6,#0000b6,#0000b6,#0000b6,#0000b6,#0000b6,#0000b6,#0000b6,#0000b5,#0000b5,#0000b5,#0000b4,#0000b4,#0000b3,#0000b3,#0000b3,#0000b3,#0000b3,#0000b3,#0000b2,#0000b2,#0000b2,#0000b2,#0000b2,#0000b2,#0000b1,#0000b1,#0000b1)"></i>
<i style="background:linear-gradient(90deg,#0000b2,#0000b2,#0000b2,#0000b2,#0000b2,#0000b2,#0000b2,#0000b2,#0000b2,#0000b2,#0000b2,#0000b2,#0000b1,#0000b1,#0000b1,#0000b1,#0000b1,#0000b1,#0000b1,#0000b1,#0000b1,#0000b1,#0000b1,#0000b1,#0000b1,#0000b1,#0000b1,#0000b1,#0000b1,#0000b1,#0000b1,#0000b1,#0000b1,#0000b1,#0000b1,#0000b2,#0000b2,#0000b2,#0000b2,#0000b2,#0000b2,#0000b2,#0000b2,#0000b1,#0000b1,#0000b1,#0000b1,#0000b1,#0000b1,#0000b1,#0000b1,#0000b1,#0000b1,#0000b1,#0000b1,#0000b1,#0000b1,#0000b1,#0000b2,#0000b2,#0000b2,#0000b2,#0000b2,#0000b2,#0000b2,#0000b2,#0000b2,#0000b2,#0000b2,#0000b2,#0000b2,#0000b2,#0000b2,#0000b2,#0000b2,#0000b2)"></i>
<i style="background:linear-gradient(90deg,#0000ad,#0000ad,#0000ad,#0000ad,#0000ad,#0000ad,#0000ad,#0000ad,#0000ad,#0000ac,#0000ac,#0000ac,#0000ac,#0000ac,#0000ac,#0000ac,#0000ac,#0000ac,#0000ab,#0000ab,#0000ab,#0000ab,#0000ab,#0000ab,#0000ab,#0000ab,#0000ab,#0000ab,#0000ab,#0000ab,#0000ab,#0000ab,#0000ab,#0000ac,#0000ac,#0000ac,#0000ad,#0000ad,#0000ad,#0000ad,#0000ac,#0000ac,#0000ac,#0000ac,#0000ac,#0000ac,#0000ac,#0000ac,#0000ac,#0000ac,#0000ac,#0000ac,#0000ac,#0000ac,#0000ac,#0000ac,#0000ac,#0000ac,#0000ac,#0000ac,#0000ad,#0000ad,#0000ad,#0000ad,#0000ad,#0000ad,#0000ad,#0000ad,#0000ad,#0000ad,#0000ad,#0000ad,#0000ad,#0000ad,#0000ad,#0000ad)"></i>
<i style="background:linear-gradient(90deg,#0000a6,#0000a6,#0000a6,#0000a6,#0000a6,#0000a6,#0000a6,#0000a5,#0000a5,#0000a5,#0000a5,#0000a5,#0000a5,#0000a5,#0000a5,#0000a5,#0000a5,#0000a5,#0000a5,#0000a5,#0000a5,#0000a5,#0000a5,#0000a5,#0000a5,#0000a5,#0000a5,#0000a5,#0000a5,#0000a5,#0000a5,#0000a5,#0000a5,#0000a5,#0000a5,#0000a5,#0000a5,#0000a5,#0000a5,#0000a5,#0000a5,#0000a5,#0000a5,#0000a5,#0000a5,#0000a5,#0000a5,#0000a5,#0000a5,#0000a5,#0000a5,#0000a5,#0000a5,#0000a5,#0000a5,#0000a5,#0000a5,#0000a5,#0000a5,#0000a5,#0000a5,#0000a5,#0000a5,#0000a6,#0000a6,#0000a6,#0000a6,#0000a6,#0000a6,#0000a6,#0000a6,#0000a6,#0000a6,#0000a6,#0000a6,#0000a6)"></i>
<i style="background:linear-gradient(90deg,#00009f,#00009f,#00009f,#00009f,#00009f,#00009f,#00009f,#00009f,#00009f,#00009f,#00009f,#00009f,#00009f,#00009f,#00009f,#00009f,#00009f,#00009f,#00009f,#00009f,#00009f,#00009f,#00009f,#00009f,#00009f,#00009f,#00009f,#00009f,#00009f,#00009f,#00009f,#00009f,#00009f,#00009f,#00009f,#00009f,#00009f,#00009f,#00009f,#00009f,#00009f,#00009f,#00009f,#00009f,#00009f,#00009f,#00009f,#00009f,#00009f,#00009f,#00009f,#00009f,#00009f,#00009f,#00009f,#00009f,#00009f,#00009f,#00009f,#00009f,#00009f,#00009f,#00009f,#00009f,#00009f,#00009f,#00009f,#00009f,#00009f,#00009f,#00009f,#00009f,#00009f,#00009f,#00009f,#00009f)"></i>
<i style="background:linear-gradient(90deg,#000098,#000098,#000098,#000098,#000098,#000098,#000098,#000098,#000098,#000098,#000098,#000098,#000098,#000098,#000098,#000098,#000098,#000098,#000098,#000098,#000098,#000098,#000098,#000098,#000098,#000098,#000098,#000098,#000098,#000098,#000098,#000098,#000098,#000098,#000098,#000098,#000098,#000098,#000098,#000098,#000098,#000098,#000098,#000098,#000098,#000098,#000098,#000098,#000098,#000098,#000098,#000098,#000098,#000098,#000098,#000098,#000098,#000098,#000098,#000098,#000098,#000098,#000098,#000098,#000098,#000098,#000098,#000098,#000098,#000098,#000098,#000098,#000098,#000098,#000098,#000098)"></i>
<i style="background:linear-gradient(90deg,#000094,#000094,#000094,#000094,#000094,#000094,#000094,#000094,#000094,#000094,#000094,#000094,#000094,#000094,#000094,#000094,#000094,#000094,#000094,#000094,#000094,#000094,#000094,#000094,#000094,#000094,#000094,#000094,#000094,#000094,#000094,#000094,#000094,#000094,#000094,#000094,#000094,#000094,#000094,#000094,#000094,#000094,#000094,#000094,#000094,#000094,#000094,#000094,#000094,#000094,#000094,#000094,#000094,#000094,#000094,#000094,#000094,#000094,#000094,#000094,#000094,#000094,#000094,#000094,#000094,#000094,#000094,#000094,#000094,#000094,#000094,#000094,#000094,#000094,#000094,#000094)"></i>
<i style="background:linear-gradient(90deg,#000091,#000091,#000091,#000091,#000091,#000091,#000091,#000091,#000091,#000091,#000091,#000091,#000091,#000091,#000091,#000091,#000091,#000091,#000091,#000091,#000091,#000091,#000091,#000091,#000091,#000091,#000091,#000091,#000091,#000091,#000091,#000091,#000091,#000091,#000091,#000091,#000091,#000091,#000091,#000091,#000091,#000091,#000091,#000091,#000091,#000091,#000091,#000091,#000091,#000091,#000091,#000091,#000091,#000091,#000091,#000091,#000091,#000091,#000091,#000091,#000091,#000091,#000091,#000091,#000091,#000091,#000091,#000091,#000091,#000091,#000091,#000091,#000091,#000091,#000091,#000091)"></i>
<i style="background:linear-gradient(90deg,#00008f,#00008f,#00008f,#00008f,#00008f,#00008f,#00008f,#00008f,#00008f,#00008f,#00008f,#00008f,#00008f,#00008f,#00008f,#00008f,#00008f,#00008f,#00008f,#00008f,#00008f,#00008f,#00008f,#00008f,#00008f,#00008f,#00008f,#00008f,#00008f,#00008f,#00008f,#00008f,#00008f,#00008f,#00008f,#00008f,#00008f,#00008f,#00008f,#00008f,#00008f,#00008f,#00008f,#00008f,#00008f,#00008f,#00008f,#00008f,#00008f,#00008f,#00008f,#00008f,#00008f,#00008f,#00008f,#00008f,#00008f,#00008f,#00008f,#00008f,#00008f,#00008f,#00008f,#00008f,#00008f,#00008f,#00008f,#00008f,#00008f,#00008f,#00008f,#00008f,#00008f,#00008f,#00008f,#00008f)"></i>
<i style="background:linear-gradient(90deg,#00008e,#00008e,#00008e,#00008e,#00008e,#00008e,#00008e,#00008e,#00008e,#00008e,#00008e,#00008e,#00008e,#00008e,#00008e,#00008e,#00008e,#00008e,#00008e,#00008e,#00008e,#00008e,#00008e,#00008e,#00008e,#00008e,#00008e,#00008e,#00008e,#00008e,#00008e,#00008e,#00008e,#00008e,#00008e,#00008e,#00008e,#00008e,#00008e,#00008e,#00008e,#00008e,#00008e,#00008e,#00008e,#00008e,#00008e,#00008e,#00008e,#00008e,#00008e,#00008e,#00008e,#00008e,#00008e,#00008e,#00008e,#00008e,#00008e,#00008e,#00008e,#00008e,#00008e,#00008e,#00008e,#00008e,#00008e,#00008e,#00008e,#00008e,#00008e,#00008e,#00008e,#00008e,#00008e,#00008e)"></i>
<i style="background:linear-gradient(90deg,#00008d,#00008d,#00008d,#00008d,#00008d,#00008d,#00008d,#00008d,#00008d,#00008d,#00008d,#00008d,#00008d,#00008d,#00008d,#00008d,#00008d,#00008d,#00008d,#00008d,#00008d,#00008d,#00008d,#00008d,#00008d,#00008d,#00008d,#00008d,#00008d,#00008d,#00008d,#00008d,#00008d,#00008d,#00008d,#00008d,#00008d,#00008d,#00008d,#00008d,#00008d,#00008d,#00008d,#00008d,#00008d,#00008d,#00008d,#00008d,#00008d,#00008d,#00008d,#00008d,#00008d,#00008d,#00008d,#00008d,#00008d,#00008d,#00008d,#00008d,#00008d,#00008d,#00008d,#00008d,#00008d,#00008d,#00008d,#00008d,#00008d,#00008d,#00008d,#00008d,#00008d,#00008d,#00008d,#00008d)"></i>
<i style="background:linear-gradient(90deg,#00008c,#00008c,#00008c,#00008c,#00008c,#00008c,#00008c,#00008c,#00008c,#00008c,#00008c,#00008c,#00008c,#00008c,#00008c,#00008c,#00008c,#00008c,#00008c,#00008c,#00008c,#00008c,#00008c,#00008c,#00008c,#00008c,#00008c,#00008c,#00008c,#00008c,#00008c,#00008c,#00008c,#00008c,#00008c,#00008c,#00008c,#00008c,#00008c,#00008c,#00008c,#00008c,#00008c,#00008c,#00008c,#00008c,#00008c,#00008c,#00008c,#00008c,#00008c,#00008c,#00008c,#00008c,#00008c,#00008c,#00008c,#00008c,#00008c,#00008c,#00008c,#00008c,#00008c,#00008c,#00008c,#00008c,#00008c,#00008c,#00008c,#00008c,#00008c,#00008c,#00008c,#00008c,#00008c,#00008c)"></i>
<i style="background:linear-gradient(90deg,#00008b,#00008b,#00008b,#00008b,#00008b,#00008b,#00008b,#00008b,#00008b,#00008b,#00008b,#00008b,#00008b,#00008b,#00008b,#00008b,#00008b,#00008b,#00008b,#00008b,#00008b,#00008b,#00008b,#00008b,#00008b,#00008b,#00008b,#00008b,#00008b,#00008b,#00008b,#00008b,#00008b,#00008b,#00008b,#00008b,#00008b,#00008b,#00008b,#00008b,#00008b,#00008b,#00008b,#00008b,#00008b,#00008b,#00008b,#00008b,#00008b,#00008b,#00008b,#00008b,#00008b,#00008b,#00008b,#00008b,#00008b,#00008b,#00008b,#00008b,#00008b,#00008b,#00008b,#00008b,#00008b,#00008b,#00008b,#00008b,#00008b,#00008b,#00008b,#00008b,#00008b,#00008b,#00008b,#00008b)"></i>
<i style="background:linear-gradient(90deg,#00008b,#00008b,#00008b,#00008b,#00008b,#00008b,#00008b,#00008b,#00008b,#00008b,#00008b,#00008b,#00008b,#00008b,#00008b,#00008b,#00008b,#00008b,#00008b,#00008b,#00008b,#00008b,#00008b,#00008b,#00008b,#00008b,#00008b,#00008b,#00008b,#00008b,#00008b,#00008b,#00008b,#00008b,#00008b,#00008b,#00008b,#00008b,#00008b,#00008b,#00008b,#00008b,#00008b,#00008b,#00008b,#00008b,#00008b,#00008b,#00008b,#00008b,#00008b,#00008b,#00008b,#00008b,#00008b,#00008b,#00008b,#00008b,#00008b,#00008b,#00008b,#00008b,#00008b,#00008b,#00008b,#00008b,#00008b,#00008b,#00008b,#00008b,#00008b,#00008b,#00008b,#00008b,#00008b,#00008b)"></i>
<i style="background:linear-gradient(90deg,#00008a,#00008a,#00008a,#00008a,#00008a,#00008a,#00008a,#00008a,#00008a,#00008a,#00008a,#00008a,#00008a,#00008a,#00008a,#00008a,#00008a,#00008a,#00008a,#00008a,#00008a,#00008a,#00008a,#00008a,#00008a,#00008a,#00008a,#00008a,#00008a,#00008a,#00008a,#00008a,#00008a,#00008a,#00008a,#00008a,#00008a,#00008a,#00008a,#00008a,#00008a,#00008a,#00008a,#00008a,#00008a,#00008a,#00008a,#00008a,#00008a,#00008a,#00008a,#00008a,#00008a,#00008a,#00008a,#00008a,#00008a,#00008a,#00008a,#00008a,#00008a,#00008a,#00008a,#00008a,#00008a,#00008a,#00008a,#00008a,#00008a,#00008a,#00008a,#00008a,#00008a,#00008a,#00008a,#00008a)"></i>
<i style="background:linear-gradient(90deg,#00008a,#00008a,#00008a,#00008a,#00008a,#00008a,#00008a,#00008a,#00008a,#00008a,#00008a,#00008a,#00008a,#00008a,#00008a,#00008a,#00008a,#00008a,#00008a,#00008a,#00008a,#00008a,#00008a,#00008a,#00008a,#00008a,#00008a,#00008a,#00008a,#00008a,#00008a,#00008a,#00008a,#00008a,#00008a,#00008a,#00008a,#00008a,#00008a,#00008a,#00008a,#00008a,#00008a,#00008a,#00008a,#00008a,#00008a,#00008a,#00008a,#00008a,#00008a,#00008a,#00008a,#00008a,#00008a,#00008a,#00008a,#00008a,#00008a,#00008a,#00008a,#00008a,#00008a,#00008a,#00008a,#00008a,#00008a,#00008a,#00008a,#00008a,#00008a,#00008a,#00008a,#00008a,#00008a,#00008a)"></i>
<i style="background:linear-gradient(90deg,#000089,#000089,#000089,#000089,#000089,#000089,#000089,#000089,#000089,#000089,#000089,#000089,#000089,#000089,#000089,#000089,#000089,#000089,#000089,#000089,#000089,#000089,#000089,#000089,#000089,#000089,#000089,#000089,#000089,#000089,#000089,#000089,#000089,#000089,#000089,#000089,#000089,#000089,#000089,#000089,#000089,#000089,#000089,#000089,#000089,#000089,#000089,#000089,#000089,#000089,#000089,#000089,#000089,#000089,#000089,#000089,#000089,#000089,#000089,#000089,#000089,#000089,#000089,#000089,#000089,#000089,#000089,#000089,#000089,#000089,#000089,#000089,#000089,#000089,#000089,#000089)"></i>
<i style="background:linear-gradient(90deg,#000089,#000089,#000089,#000089,#000089,#000089,#000089,#000089,#000089,#000089,#000089,#000089,#000089,#000089,#000089,#000089,#000089,#000089,#000089,#000089,#000089,#000089,#000089,#000089,#000089,#000089,#000089,#000089,#000089,#000089,#000089,#000089,#000089,#000089,#000089,#000089,#000089,#000089,#000089,#000089,#000089,#000089,#000089,#000089,#000089,#000089,#000089,#000089,#000089,#000089,#000089,#000089,#000089,#000089,#000089,#000089,#000089,#000089,#000089,#000089,#000089,#000089,#000089,#000089,#000089,#000089,#000089,#000089,#000089,#000089,#000089,#000089,#000089,#000089,#000089,#000089)"></i>
<i style="background:linear-gradient(90deg,#000089,#000089,#000089,#000089,#000089,#000089,#000089,#000089,#000089,#000089,#000089,#000089,#000089,#000089,#000089,#000089,#000089,#000089,#000089,#000089,#000089,#000089,#000089,#000089,#000089,#000089,#000089,#000089,#000089,#000089,#000089,#000089,#000089,#000089,#000089,#000089,#000089,#000089,#000089,#000089,#000089,#000089,#000089,#000089,#000089,#000089,#000089,#000089,#000089,#000089,#000089,#000089,#000089,#000089,#000089,#000089,#000089,#000089,#000089,#000089,#000089,#000089,#000089,#000089,#000089,#000089,#000089,#000089,#000089,#000089,#000089,#000089,#000089,#000089,#000089,#000089)"></i>
<i style="background:linear-gradient(90deg,#000088,#000088,#000088,#000088,#000088,#000088,#000088,#000088,#000088,#000088,#000088,#000088,#000088,#000088,#000088,#000088,#000088,#000088,#000088,#000088,#000088,#000088,#000088,#000088,#000088,#000088,#000088,#000088,#000088,#000088,#000088,#000088,#000088,#000088,#000088,#000088,#000088,#000088,#000088,#000088,#000088,#000088,#000088,#000088,#000088,#000088,#000088,#000088,#000088,#000088,#000088,#000088,#000088,#000088,#000088,#000088,#000088,#000088,#000088,#000088,#000088,#000088,#000088,#000088,#000088,#000088,#000088,#000088,#000088,#000088,#000088,#000088,#000088,#000088,#000088,#000088)"></i>
<i style="background:linear-gradient(90deg,#000088,#000088,#000088,#000088,#000088,#000088,#000088,#000088,#000088,#000088,#000088,#000088,#000088,#000088,#000088,#000088,#000088,#000088,#000088,#000088,#000088,#000088,#000088,#000088,#000088,#000088,#000088,#000088,#000088,#000088,#000088,#000088,#000088,#000088,#000088,#000088,#000088,#000088,#000088,#000088,#000088,#000088,#000088,#000088,#000088,#000088,#000088,#000088,#000088,#000088,#000088,#000088,#000088,#000088,#000088,#000088,#000088,#000088,#000088,#000088,#000088,#000088,#000088,#000088,#000088,#000088,#000088,#000088,#000088,#000088,#000088,#000088,#000088,#000088,#000088,#000088)"></i>
<i style="background:linear-gradient(90deg,#000088,#000088,#000088,#000088,#000088,#000088,#000088,#000088,#000088,#000088,#000088,#000088,#000088,#000088,#000088,#000088,#000088,#000088,#000088,#000088,#000088,#000088,#000088,#000088,#000088,#000088,#000088,#000088,#000088,#000088,#000088,#000088,#000088,#000088,#000088,#000088,#000088,#000088,#000088,#000088,#000088,#000088,#000088,#000088,#000088,#000088,#000088,#000088,#000088,#000088,#000088,#000088,#000088,#000088,#000088,#000088,#000088,#000088,#000088,#000088,#000088,#000088,#000088,#000088,#000088,#000088,#000088,#000088,#000088,#000088,#000088,#000088,#000088,#000088,#000088,#000088)"></i>
<i style="background:linear-gradient(90deg,#000088,#000088,#000088,#000088,#000088,#000088,#000088,#000088,#000088,#000088,#000088,#000088,#000088,#000088,#000088,#000088,#000088,#000088,#000088,#000088,#000088,#000088,#000088,#000088,#000088,#000088,#000088,#000088,#000088,#000088,#000088,#000088,#000088,#000088,#000088,#000088,#000088,#000088,#000088,#000088,#000088,#000088,#000088,#000088,#000088,#000088,#000088,#000088,#000088,#000088,#000088,#000088,#000088,#000088,#000088,#000088,#000088,#000088,#000088,#000088,#000088,#000088,#000088,#000088,#000088,#000088,#000088,#000088,#000088,#000088,#000088,#000088,#000088,#000088,#000088,#000088)"></i>
<i style="background:linear-gradient(90deg,#000087,#000087,#000087,#000087,#000087,#000087,#000087,#000087,#000087,#000087,#000087,#000087,#000087,#000087,#000087,#000087,#000087,#000087,#000087,#000087,#000087,#000087,#000087,#000087,#000087,#000087,#000087,#000087,#000087,#000087,#000087,#000087,#000087,#000087,#000087,#000087,#000087,#000087,#000087,#000087,#000087,#000087,#000087,#000087,#000087,#000087,#000087,#000087,#000087,#000087,#000087,#000087,#000087,#000087,#000087,#000087,#000087,#000087,#000087,#000087,#000087,#000087,#000087,#000087,#000087,#000087,#000087,#000087,#000087,#000087,#000087,#000087,#000087,#000087,#000087,#000087)"></i>
<i style="background:linear-gradient(90deg,#000087,#000087,#000087,#000087,#000087,#000087,#000087,#000087,#000087,#000087,#000087,#000087,#000087,#000087,#000087,#000087,#000087,#000087,#000087,#000087,#000087,#000087,#000087,#000087,#000087,#000087,#000087,#000087,#000087,#000087,#000087,#000087,#000087,#000087,#000087,#000087,#000087,#000087,#000087,#000087,#000087,#000087,#000087,#000087,#000087,#000087,#000087,#000087,#000087,#000087,#000087,#000087,#000087,#000087,#000087,#000087,#000087,#000087,#000087,#000087,#000087,#000087,#000087,#000087,#000087,#000087,#000087,#000087,#000087,#000087,#000087,#000087,#000087,#000087,#000087,#000087)"></i>
<i style="background:linear-gradient(90deg,#000087,#000087,#000087,#000087,#000087,#000087,#000087,#000087,#000087,#000087,#000087,#000087,#000087,#000087,#000087,#000087,#000087,#000087,#000087,#000087,#000087,#000087,#000087,#000087,#000087,#000087,#000087,#000087,#000087,#000087,#000087,#000087,#000087,#000087,#000087,#000087,#000087,#000087,#000087,#000087,#000087,#000087,#000087,#000087,#000087,#000087,#000087,#000087,#000087,#000087,#000087,#000087,#000087,#000087,#000087,#000087,#000087,#000087,#000087,#000087,#000087,#000087,#000087,#000087,#000087,#000087,#000087,#000087,#000087,#000087,#000087,#000087,#000087,#000087,#000087,#000087)"></i>
<i style="background:linear-gradient(90deg,#000086,#000086,#000086,#000086,#000086,#000086,#000086,#000086,#000086,#000086,#000086,#000086,#000086,#000086,#000086,#000086,#000086,#000086,#000086,#000086,#000086,#000086,#000086,#000086,#000086,#000086,#000086,#000086,#000086,#000086,#000086,#000086,#000086,#000086,#000086,#000086,#000086,#000086,#000086,#000086,#000086,#000086,#000086,#000086,#000086,#000086,#000086,#000086,#000086,#000086,#000086,#000086,#000086,#000086,#000086,#000086,#000086,#000086,#000086,#000086,#000086,#000086,#000086,#000086,#000086,#000086,#000086,#000086,#000086,#000086,#000086,#000086,#000086,#000086,#000086,#000086)"></i>
<i style="background:linear-gradient(90deg,#000086,#000086,#000086,#000086,#000086,#000086,#000086,#000086,#000086,#000086,#000086,#000086,#000086,#000086,#000086,#000086,#000086,#000086,#000086,#000086,#000086,#000086,#000086,#000086,#000086,#000086,#000086,#000086,#000086,#000086,#000086,#000086,#000086,#000086,#000086,#000086,#000086,#000086,#000086,#000086,#000086,#000086,#000086,#000086,#000086,#000086,#000086,#000086,#000086,#000086,#000086,#000086,#000086,#000086,#000086,#000086,#000086,#000086,#000086,#000086,#000086,#000086,#000086,#000086,#000086,#000086,#000086,#000086,#000086,#000086,#000086,#000086,#000086,#000086,#000086,#000086)"></i>
<i style="background:linear-gradient(90deg,#000086,#000086,#000086,#000086,#000086,#000086,#000086,#000086,#000086,#000086,#000086,#000086,#000086,#000086,#000086,#000086,#000086,#000086,#000086,#000086,#000086,#000086,#000086,#000086,#000086,#000086,#000086,#000086,#000086,#000086,#000086,#000086,#000086,#000086,#000086,#000086,#000086,#000086,#000086,#000086,#000086,#000086,#000086,#000086,#000086,#000086,#000086,#000086,#000086,#000086,#000086,#000086,#000086,#000086,#000086,#000086,#000086,#000086,#000086,#000086,#000086,#000086,#000086,#000086,#000086,#000086,#000086,#000086,#000086,#000086,#000086,#000086,#000086,#000086,#000086,#000086)"></i>
<i style="background:linear-gradient(90deg,#000085,#000085,#000085,#000085,#000085,#000085,#000085,#000085,#000085,#000085,#000085,#000085,#000085,#000085,#000085,#000085,#000085,#000085,#000085,#000085,#000085,#000085,#000085,#000085,#000085,#000085,#000085,#000085,#000085,#000085,#000085,#000085,#000085,#000085,#000085,#000085,#000085,#000085,#000085,#000085,#000085,#000085,#000085,#000085,#000085,#000085,#000085,#000085,#000085,#000085,#000085,#000085,#000085,#000085,#000085,#000085,#000085,#000085,#000085,#000085,#000085,#000085,#000085,#000085,#000085,#000085,#000085,#000085,#000085,#000085,#000085,#000085,#000085,#000085,#000085,#000085)"></i>
<i style="background:linear-gradient(90deg,#000085,#000085,#000085,#000085,#000085,#000085,#000085,#000085,#000085,#000085,#000085,#000085,#000085,#000085,#000085,#000085,#000085,#000085,#000085,#000085,#000085,#000085,#000085,#000085,#000085,#000085,#000085,#000085,#000085,#000085,#000085,#000085,#000085,#000085,#000085,#000085,#000085,#000085,#000085,#000085,#000085,#000085,#000085,#000085,#000085,#000085,#000085,#000085,#000085,#000085,#000085,#000085,#000085,#000085,#000085,#000085,#000085,#000085,#000085,#000085,#000085,#000085,#000085,#000085,#000085,#000085,#000085,#000085,#000085,#000085,#000085,#000085,#000085,#000085,#000085,#000085)"></i>
<i style="background:linear-gradient(90deg,#000085,#000085,#000085,#000085,#000085,#000085,#000085,#000085,#000085,#000085,#000085,#000085,#000085,#000085,#000085,#000085,#000085,#000085,#000085,#000085,#000085,#000085,#000085,#000085,#000085,#000085,#000085,#000085,#000085,#000085,#000085,#000085,#000085,#000085,#000085,#000085,#000085,#000085,#000085,#000085,#000085,#000085,#000085,#000085,#000085,#000085,#000085,#000085,#000085,#000085,#000085,#000085,#000085,#000085,#000085,#000085,#000085,#000085,#000085,#000085,#000085,#000085,#000085,#000085,#000085,#000085,#000085,#000085,#000085,#000085,#000085,#000085,#000085,#000085,#000085,#000085)"></i>
<i style="background:linear-gradient(90deg,#000085,#000085,#000085,#000085,#000085,#000085,#000085,#000085,#000085,#000085,#000085,#000085,#000085,#000085,#000085,#000085,#000085,#000085,#000085,#000085,#000085,#000085,#000085,#000085,#000085,#000085,#000085,#000085,#000085,#000085,#000085,#000085,#000085,#000085,#000085,#000085,#000085,#000085,#000085,#000085,#000085,#000085,#000085,#000085,#000085,#000085,#000085,#000085,#000085,#000085,#000085,#000085,#000085,#000085,#000085,#000085,#000085,#000085,#000085,#000085,#000085,#000085,#000085,#000085,#000085,#000085,#000085,#000085,#000085,#000085,#000085,#000085,#000085,#000085,#000085,#000085)"></i>
<i style="background:linear-gradient(90deg,#000085,#000085,#000085,#000085,#000085,#000085,#000085,#000085,#000085,#000085,#000085,#000085,#000085,#000085,#000085,#000085,#000085,#000085,#000085,#000085,#000085,#000085,#000085,#000085,#000085,#000085,#000085,#000085,#000085,#000085,#000085,#000085,#000085,#000085,#000085,#000085,#000085,#000085,#000085,#000085,#000085,#000085,#000085,#000085,#000085,#000085,#000085,#000085,#000085,#000085,#000085,#000085,#000085,#000085,#000085,#000085,#000085,#000085,#000085,#000085,#000085,#000085,#000085,#000085,#000085,#000085,#000085,#000085,#000085,#000085,#000085,#000085,#000085,#000085,#000085,#000085)"></i>
<i style="background:linear-gradient(90deg,#000085,#000085,#000085,#000085,#000085,#000085,#000085,#000085,#000085,#000085,#000085,#000085,#000085,#000085,#000085,#000085,#000085,#000085,#000085,#000085,#000085,#000085,#000085,#000085,#000085,#000085,#000085,#000085,#000085,#000085,#000085,#000085,#000085,#000085,#000085,#000085,#000085,#000085,#000085,#000085,#000085,#000085,#000085,#000085,#000085,#000085,#000085,#000085,#000085,#000085,#000085,#000085,#000085,#000085,#000085,#000085,#000085,#000085,#000085,#000085,#000085,#000085,#000085,#000085,#000085,#000085,#000085,#000085,#000085,#000085,#000085,#000085,#000085,#000085,#000085,#000085)"></i>
<i style="background:linear-gradient(90deg,#000085,#000085,#000085,#000085,#000085,#000085,#000085,#000085,#000085,#000085,#000085,#000085,#000085,#000085,#000085,#000085,#000085,#000085,#000085,#000085,#000085,#000085,#000085,#000085,#000085,#000085,#000085,#000085,#000085,#000085,#000085,#000085,#000085,#000085,#000085,#000085,#000085,#000085,#000085,#000085,#000085,#000085,#000085,#000085,#000085,#000085,#000085,#000085,#000085,#000085,#000085,#000085,#000085,#000085,#000085,#000085,#000085,#000085,#000085,#000085,#000085,#000085,#000085,#000085,#000085,#000085,#000085,#000085,#000085,#000085,#000085,#000085,#000085,#000085,#000085,#000085)"></i>
</div></div>
<div class="hm" style="left:58px;top:667px;width:448px;height:251px"><div class="in">
<i style="background:linear-gradient(90deg,#000097,#00009a,#00009e,#0000a2,#0000a7,#0000ac,#0000b2,#0000b9,#0000bf,#0000c6,#0000cc,#0000d2,#0000d7,#0000db,#0000de,#0000e0,#0000e2,#0000e4,#0000e4,#0000e5,#0000e5,#0000e5,#0000e5,#0000e5,#0000e5,#0000e5,#0000e5,#0000e6,#0000e6,#0000e6,#0000e6,#0000e6,#0000e6,#0000e6,#0000e6,#0000e6,#0000e6,#0000e7,#0000e8,#0000eb,#0000ee,#0000f1,#0000f4,#0000f6,#0000f8,#0000f9,#0000fa,#0000fa,#0000fa,#0000fa,#0000fa,#0000fa,#0000fa,#0000fa,#0000fa,#0000fa,#0000fb,#0000fc,#0000fd,#0000fe,#0001ff,#0002ff,#0003ff,#0002ff,#0001ff,#0000fe,#0000fa,#0000f7,#0000f3,#0000ee,#0000ea,#0000e6,#0000e1,#0000dc,#0000d8,#0000d5)"></i>
<i style="background:linear-gradient(90deg,#000097,#00009a,#00009e,#0000a2,#0000a7,#0000ac,#0000b2,#0000b9,#0000bf,#0000c6,#0000cc,#0000d2,#0000d7,#0000db,#0000de,#0000e0,#0000e2,#0000e4,#0000e4,#0000e5,#0000e5,#0000e5,#0000e5,#0000e5,#0000e5,#0000e5,#0000e5,#0000e6,#0000e6,#0000e6,#0000e6,#0000e6,#0000e6,#0000e6,#0000e6,#0000e6,#0000e6,#0000e7,#0000e8,#0000eb,#0000ee,#0000f1,#0000f4,#0000f6,#0000f8,#0000f9,#0000fa,#0000fa,#0000fa,#0000fa,#0000fa,#0000fa,#0000fa,#0000fa,#0000fa,#0000fa,#0000fb,#0000fc,#0000fd,#0000fe,#0001ff,#0002ff,#0003ff,#0002ff,#0001ff,#0000fe,#0000fa,#0000f7,#0000f3,#0000ee,#0000ea,#0000e6,#0000e1,#0000dc,#0000d8,#0000d5)"></i>
<i style="background:linear-gradient(90deg,#000097,#00009a,#00009e,#0000a2,#0000a7,#0000ac,#0000b2,#0000b9,#0000bf,#0000c6,#0000cc,#0000d2,#0000d7,#0000db,#0000de,#0000e0,#0000e2,#0000e4,#0000e4,#0000e5,#0000e5,#0000e5,#0000e5,#0000e5,#0000e5,#0000e5,#0000e5,#0000e6,#0000e6,#0000e6,#0000e6,#0000e6,#0000e6,#0000e6,#0000e6,#0000e6,#0000e6,#0000e7,#0000e8,#0000eb,#0000ee,#0000f1,#0000f4,#0000f6,#0000f8,#0000f9,#0000fa,#0000fa,#0000fa,#0000fa,#0000fa,#0000fa,#0000fa,#0000fa,#0000fa,#0000fa,#0000fb,#0000fc,#0000fd,#0000fe,#0001ff,#0002ff,#0003ff,#0002ff,#0001ff,#0000fe,#0000fa,#0000f7,#0000f3,#0000ee,#0000ea,#0000e6,#0000e1,#0000dc,#0000d8,#0000d5)"></i>
<i style="background:linear-gradient(90deg,#000097,#00009a,#00009e,#0000a2,#0000a7,#0000ac,#0000b2,#0000b9,#0000bf,#0000c6,#0000cc,#0000d2,#0000d7,#0000db,#0000de,#0000e0,#0000e2,#0000e4,#0000e4,#0000e5,#0000e5,#0000e5,#0000e5,#0000e5,#0000e5,#0000e5,#0000e5,#0000e6,#0000e6,#0000e6,#0000e6,#0000e6,#0000e6,#0000e6,#0000e6,#0000e6,#0000e6,#0000e7,#0000e8,#0000eb,#0000ee,#0000f1,#0000f4,#0000f6,#0000f8,#0000f9,#0000fa,#0000fa,#0000fa,#0000fa,#0000fa,#0000fa,#0000fa,#0000fa,#0000fa,#0000fa,#0000fb,#0000fc,#0000fd,#0000fe,#0001ff,#0002ff,#0003ff,#0002ff,#0001ff,#0000fe,#0000fa,#0000f7,#0000f3,#0000ee,#0000ea,#0000e6,#0000e1,#0000dc,#0000d8,#0000d5)"></i>
<i style="background:linear-gradient(90deg,#000098,#00009b,#00009f,#0000a3,#0000a8,#0000ad,#0000b3,#0000ba,#0000c0,#0000c7,#0000cd,#0000d3,#0000d8,#0000dc,#0000df,#0000e1,#0000e2,#0000e4,#0000e5,#0000e5,#0000e5,#0000e5,#0000e5,#0000e5,#0000e5,#0000e5,#0000e5,#0000e5,#0000e5,#0000e4,#0000e4,#0000e4,#0000e3,#0000e3,#0000e3,#0000e3,#0000e4,#0000e5,#0000e6,#0000e9,#0000ec,#0000f0,#0000f3,#0000f6,#0000f8,#0000f8,#0000f9,#0000f8,#0000f8,#0000f8,#0000f8,#0000f8,#0000f9,#0000fa,#0000fb,#0000fc,#0000fe,#0001ff,#0003ff,#0006ff,#0008ff,#000aff,#000bff,#000bff,#0009ff,#0007ff,#0003ff,#0000fe,#0000f9,#0000f4,#0000ef,#0000ea,#0000e5,#0000e0,#0000db,#0000d7)"></i>
<i style="background:linear-gradient(90deg,#000099,#00009c,#00009f,#0000a4,#0000a9,#0000ae,#0000b4,#0000bb,#0000c1,#0000c8,#0000ce,#0000d4,#0000d9,#0000dc,#0000df,#0000e1,#0000e3,#0000e4,#0000e5,#0000e5,#0000e5,#0000e5,#0000e5,#0000e5,#0000e5,#0000e5,#0000e5,#0000e4,#0000e4,#0000e3,#0000e2,#0000e2,#0000e1,#0000e1,#0000e1,#0000e1,#0000e1,#0000e2,#0000e4,#0000e7,#0000eb,#0000ef,#0000f2,#0000f5,#0000f7,#0000f8,#0000f8,#0000f7,#0000f6,#0000f6,#0000f6,#0000f6,#0000f7,#0000f9,#0000fb,#0000fd,#0001ff,#0004ff,#0008ff,#000bff,#000fff,#0011ff,#0013ff,#0013ff,#0011ff,#000eff,#000aff,#0005ff,#0000ff,#0000f9,#0000f4,#0000ee,#0000e8,#0000e2,#0000dd,#0000d9)"></i>
<i style="background:linear-gradient(90deg,#000099,#00009c,#0000a0,#0000a5,#0000aa,#0000af,#0000b5,#0000bc,#0000c2,#0000c9,#0000cf,#0000d5,#0000d9,#0000dd,#0000e0,#0000e2,#0000e3,#0000e4,#0000e5,#0000e5,#0000e5,#0000e5,#0000e5,#0000e5,#0000e5,#0000e5,#0000e4,#0000e3,#0000e2,#0000e1,#0000e0,#0000e0,#0000df,#0000de,#0000de,#0000de,#0000df,#0000e0,#0000e2,#0000e5,#0000e9,#0000ed,#0000f2,#0000f5,#0000f7,#0000f7,#0000f7,#0000f6,#0000f5,#0000f4,#0000f4,#0000f5,#0000f6,#0000f8,#0000fb,#0000fe,#0003ff,#0007ff,#000bff,#0010ff,#0014ff,#0017ff,#0019ff,#0019ff,#0017ff,#0014ff,#000fff,#000aff,#0005ff,#0000fe,#0000f8,#0000f1,#0000eb,#0000e5,#0000df,#0000db)"></i>
<i style="background:linear-gradient(90deg,#00009a,#00009d,#0000a1,#0000a6,#0000ab,#0000b0,#0000b6,#0000bd,#0000c3,#0000ca,#0000d0,#0000d6,#0000da,#0000de,#0000e0,#0000e2,#0000e3,#0000e4,#0000e5,#0000e5,#0000e5,#0000e5,#0000e5,#0000e5,#0000e5,#0000e5,#0000e4,#0000e3,#0000e1,#0000e0,#0000de,#0000dd,#0000dc,#0000dc,#0000dc,#0000dc,#0000dc,#0000dd,#0000e0,#0000e3,#0000e7,#0000ec,#0000f1,#0000f4,#0000f6,#0000f6,#0000f6,#0000f4,#0000f3,#0000f2,#0000f2,#0000f3,#0000f4,#0000f7,#0000fa,#0000fe,#0004ff,#0009ff,#000eff,#0013ff,#0017ff,#001bff,#001dff,#001dff,#001bff,#0018ff,#0013ff,#000eff,#0008ff,#0002ff,#0000fa,#0000f4,#0000ed,#0000e7,#0000e1,#0000dc)"></i>
<i style="background:linear-gradient(90deg,#00009b,#00009e,#0000a2,#0000a7,#0000ac,#0000b1,#0000b7,#0000be,#0000c4,#0000cb,#0000d1,#0000d7,#0000db,#0000de,#0000e1,#0000e2,#0000e3,#0000e4,#0000e5,#0000e5,#0000e5,#0000e5,#0000e5,#0000e5,#0000e5,#0000e4,#0000e3,#0000e2,#0000e0,#0000de,#0000dc,#0000db,#0000da,#0000d9,#0000d9,#0000d9,#0000da,#0000db,#0000dd,#0000e1,#0000e6,#0000eb,#0000f0,#0000f4,#0000f6,#0000f6,#0000f5,#0000f3,#0000f1,#0000f0,#0000f0,#0000f1,#0000f3,#0000f6,#0000fa,#0000fe,#0004ff,#0009ff,#000fff,#0014ff,#0019ff,#001dff,#001fff,#001fff,#001dff,#001aff,#0015ff,#0010ff,#000aff,#0003ff,#0000fc,#0000f5,#0000ee,#0000e8,#0000e2,#0000de)"></i>
<i style="background:linear-gradient(90deg,#00009c,#00009f,#0000a3,#0000a8,#0000ad,#0000b3,#0000b9,#0000bf,#0000c5,#0000cc,#0000d2,#0000d8,#0000dc,#0000df,#0000e1,#0000e3,#0000e4,#0000e4,#0000e5,#0000e5,#0000e5,#0000e5,#0000e5,#0000e5,#0000e5,#0000e4,#0000e3,#0000e1,#0000de,#0000dc,#0000da,#0000d8,#0000d7,#0000d7,#0000d6,#0000d6,#0000d7,#0000d8,#0000db,#0000df,#0000e4,#0000ea,#0000ef,#0000f3,#0000f5,#0000f5,#0000f4,#0000f2,#0000f0,#0000ee,#0000ee,#0000ef,#0000f1,#0000f5,#0000f9,#0000fe,#0004ff,#000aff,#000fff,#0014ff,#0019ff,#001dff,#001eff,#001fff,#001dff,#001aff,#0015ff,#0010ff,#000aff,#0003ff,#0000fc,#0000f6,#0000ef,#0000e9,#0000e3,#0000de)"></i>
<i style="background:linear-gradient(90deg,#00009d,#0000a0,#0000a4,#0000a9,#0000ae,#0000b4,#0000ba,#0000c0,#0000c7,#0000cd,#0000d3,#0000d8,#0000dd,#0000e0,#0000e2,#0000e3,#0000e4,#0000e5,#0000e5,#0000e5,#0000e5,#0000e5,#0000e5,#0000e5,#0000e5,#0000e4,#0000e2,#0000e0,#0000dd,#0000da,#0000d8,#0000d6,#0000d5,#0000d4,#0000d4,#0000d4,#0000d4,#0000d6,#0000d9,#0000dd,#0000e3,#0000e9,#0000ee,#0000f2,#0000f4,#0000f4,#0000f3,#0000f0,#0000ee,#0000ec,#0000ec,#0000ed,#0000ef,#0000f3,#0000f8,#0000fd,#0004ff,#0009ff,#000fff,#0014ff,#0018ff,#001cff,#001dff,#001eff,#001cff,#0019ff,#0014ff,#000fff,#0009ff,#0003ff,#0000fc,#0000f6,#0000ef,#0000e9,#0000e3,#0000df)"></i>
<i style="background:linear-gradient(90deg,#00009e,#0000a1,#0000a5,#0000aa,#0000af,#0000b5,#0000bb,#0000c1,#0000c8,#0000ce,#0000d4,#0000d9,#0000dd,#0000e0,#0000e2,#0000e3,#0000e4,#0000e5,#0000e5,#0000e5,#0000e5,#0000e5,#0000e5,#0000e5,#0000e5,#0000e3,#0000e1,#0000df,#0000db,#0000d8,#0000d5,#0000d3,#0000d2,#0000d1,#0000d1,#0000d1,#0000d2,#0000d3,#0000d6,#0000db,#0000e1,#0000e8,#0000ed,#0000f2,#0000f4,#0000f4,#0000f2,#0000ef,#0000ec,#0000ea,#0000ea,#0000eb,#0000ee,#0000f2,#0000f7,#0000fd,#0003ff,#0009ff,#000eff,#0013ff,#0017ff,#001aff,#001cff,#001cff,#001aff,#0017ff,#0013ff,#000eff,#0009ff,#0003ff,#0000fc,#0000f6,#0000f0,#0000ea,#0000e4,#0000e0)"></i>
<i style="background:linear-gradient(90deg,#00009f,#0000a2,#0000a6,#0000ab,#0000b0,#0000b6,#0000bc,#0000c2,#0000c9,#0000cf,#0000d5,#0000da,#0000de,#0000e1,#0000e3,#0000e4,#0000e4,#0000e5,#0000e5,#0000e5,#0000e5,#0000e5,#0000e5,#0000e4,#0000e4,#0000e2,#0000e0,#0000dd,#0000d9,#0000d5,#0000d2,#0000d0,#0000ce,#0000ce,#0000ce,#0000ce,#0000cf,#0000d0,#0000d4,#0000d9,#0000df,#0000e6,#0000ec,#0000f0,#0000f2,#0000f2,#0000f0,#0000ed,#0000ea,#0000e8,#0000e7,#0000e9,#0000ec,#0000f0,#0000f5,#0000fb,#0002ff,#0007ff,#000cff,#0011ff,#0015ff,#0018ff,#001aff,#001aff,#0018ff,#0016ff,#0012ff,#000eff,#0009ff,#0003ff,#0000fd,#0000f7,#0000f0,#0000ea,#0000e5,#0000e0)"></i>
<i style="background:linear-gradient(90deg,#0000a0,#0000a3,#0000a7,#0000ac,#0000b1,#0000b7,#0000bd,#0000c4,#0000ca,#0000d1,#0000d6,#0000db,#0000df,#0000e2,#0000e3,#0000e4,#0000e5,#0000e5,#0000e5,#0000e5,#0000e5,#0000e5,#0000e4,#0000e3,#0000e2,#0000e0,#0000dd,#0000d9,#0000d5,#0000d2,#0000cf,#0000cc,#0000cb,#0000ca,#0000ca,#0000ca,#0000cb,#0000cd,#0000d0,#0000d5,#0000dc,#0000e3,#0000e9,#0000ed,#0000f0,#0000f0,#0000ee,#0000eb,#0000e8,#0000e5,#0000e5,#0000e6,#0000e9,#0000ee,#0000f3,#0000f9,#0000fe,#0005ff,#000aff,#000eff,#0012ff,#0015ff,#0017ff,#0017ff,#0016ff,#0014ff,#0011ff,#000dff,#0008ff,#0003ff,#0000fd,#0000f7,#0000f1,#0000eb,#0000e5,#0000e1)"></i>
<i style="background:linear-gradient(90deg,#0000a1,#0000a4,#0000a8,#0000ad,#0000b3,#0000b8,#0000bf,#0000c5,#0000cb,#0000d2,#0000d8,#0000dc,#0000e0,#0000e2,#0000e4,#0000e5,#0000e5,#0000e5,#0000e5,#0000e5,#0000e4,#0000e4,#0000e2,#0000e1,#0000df,#0000dc,#0000d9,#0000d5,#0000d1,#0000ce,#0000ca,#0000c8,#0000c7,#0000c6,#0000c6,#0000c7,#0000c8,#0000ca,#0000cd,#0000d2,#0000d8,#0000df,#0000e6,#0000ea,#0000ec,#0000ec,#0000ea,#0000e8,#0000e5,#0000e3,#0000e2,#0000e3,#0000e6,#0000eb,#0000f0,#0000f5,#0000fb,#0001ff,#0006ff,#000bff,#000fff,#0012ff,#0014ff,#0015ff,#0014ff,#0012ff,#000fff,#000bff,#0007ff,#0003ff,#0000fd,#0000f7,#0000f1,#0000eb,#0000e5,#0000e1)"></i>
<i style="background:linear-gradient(90deg,#0000a2,#0000a5,#0000a9,#0000ae,#0000b4,#0000ba,#0000c0,#0000c6,#0000cd,#0000d3,#0000d9,#0000dd,#0000e1,#0000e3,#0000e4,#0000e5,#0000e5,#0000e5,#0000e5,#0000e5,#0000e4,#0000e2,#0000e1,#0000df,#0000dc,#0000d9,#0000d5,#0000d1,#0000cd,#0000c9,#0000c6,#0000c4,#0000c3,#0000c2,#0000c2,#0000c3,#0000c4,#0000c6,#0000ca,#0000cf,#0000d5,#0000dc,#0000e2,#0000e6,#0000e9,#0000e9,#0000e7,#0000e4,#0000e2,#0000e0,#0000df,#0000e0,#0000e3,#0000e7,#0000ec,#0000f1,#0000f7,#0000fc,#0002ff,#0007ff,#000bff,#000eff,#0010ff,#0011ff,#0010ff,#000fff,#000cff,#0009ff,#0005ff,#0001ff,#0000fb,#0000f6,#0000f0,#0000eb,#0000e5,#0000e1)"></i>
<i style="background:linear-gradient(90deg,#0000a3,#0000a6,#0000aa,#0000b0,#0000b5,#0000bb,#0000c1,#0000c7,#0000ce,#0000d4,#0000da,#0000de,#0000e2,#0000e4,#0000e5,#0000e5,#0000e5,#0000e5,#0000e5,#0000e4,#0000e3,#0000e1,#0000df,#0000dc,#0000d9,#0000d5,#0000d1,#0000cd,#0000c9,#0000c5,#0000c2,#0000c0,#0000bf,#0000be,#0000be,#0000bf,#0000c1,#0000c3,#0000c6,#0000cc,#0000d2,#0000d9,#0000df,#0000e3,#0000e5,#0000e5,#0000e4,#0000e1,#0000df,#0000dd,#0000dc,#0000dd,#0000e0,#0000e3,#0000e8,#0000ed,#0000f2,#0000f7,#0000fc,#0002ff,#0006ff,#000aff,#000cff,#000dff,#000cff,#000bff,#0009ff,#0006ff,#0003ff,#0000fe,#0000fa,#0000f5,#0000ef,#0000ea,#0000e5,#0000e1)"></i>
<i style="background:linear-gradient(90deg,#0000a4,#0000a7,#0000ac,#0000b1,#0000b6,#0000bc,#0000c2,#0000c9,#0000cf,#0000d5,#0000db,#0000df,#0000e2,#0000e4,#0000e5,#0000e6,#0000e6,#0000e6,#0000e5,#0000e4,#0000e2,#0000e0,#0000de,#0000da,#0000d7,#0000d3,#0000ce,#0000ca,#0000c5,#0000c1,#0000be,#0000bc,#0000bb,#0000bb,#0000bb,#0000bc,#0000be,#0000c0,#0000c4,#0000c9,#0000d0,#0000d6,#0000dc,#0000e0,#0000e2,#0000e2,#0000e1,#0000de,#0000dc,#0000da,#0000da,#0000da,#0000dc,#0000e0,#0000e4,#0000e8,#0000ed,#0000f2,#0000f7,#0000fc,#0001ff,#0005ff,#0007ff,#0008ff,#0008ff,#0007ff,#0005ff,#0003ff,#0000ff,#0000fb,#0000f7,#0000f3,#0000ee,#0000e9,#0000e4,#0000e0)"></i>
<i style="background:linear-gradient(90deg,#0000a5,#0000a8,#0000ad,#0000b2,#0000b8,#0000bd,#0000c4,#0000ca,#0000d0,#0000d6,#0000dc,#0000e0,#0000e3,#0000e5,#0000e6,#0000e6,#0000e6,#0000e6,#0000e5,#0000e4,#0000e2,#0000e0,#0000dd,#0000d9,#0000d5,#0000d1,#0000cc,#0000c7,#0000c2,#0000be,#0000ba,#0000b8,#0000b7,#0000b7,#0000b8,#0000b9,#0000bb,#0000be,#0000c3,#0000c8,#0000ce,#0000d5,#0000da,#0000de,#0000e0,#0000e0,#0000df,#0000dc,#0000d9,#0000d7,#0000d7,#0000d7,#0000d9,#0000dc,#0000df,#0000e4,#0000e8,#0000ed,#0000f2,#0000f7,#0000fc,#0001ff,#0003ff,#0004ff,#0004ff,#0004ff,#0002ff,#0000ff,#0000fc,#0000f9,#0000f5,#0000f1,#0000ed,#0000e8,#0000e3,#0000e0)"></i>
<i style="background:linear-gradient(90deg,#0000a6,#0000a9,#0000ae,#0000b3,#0000b9,#0000bf,#0000c5,#0000cb,#0000d1,#0000d7,#0000dc,#0000e1,#0000e4,#0000e6,#0000e6,#0000e7,#0000e6,#0000e6,#0000e5,#0000e4,#0000e2,#0000e0,#0000dc,#0000d9,#0000d5,#0000d0,#0000cb,#0000c5,#0000c0,#0000bb,#0000b7,#0000b5,#0000b4,#0000b4,#0000b5,#0000b7,#0000ba,#0000bd,#0000c2,#0000c8,#0000ce,#0000d5,#0000da,#0000de,#0000e0,#0000df,#0000dd,#0000da,#0000d7,#0000d5,#0000d4,#0000d4,#0000d5,#0000d8,#0000db,#0000df,#0000e4,#0000e8,#0000ee,#0000f3,#0000f8,#0000fc,#0000ff,#0001ff,#0002ff,#0001ff,#0000ff,#0000fd,#0000fa,#0000f7,#0000f4,#0000f0,#0000eb,#0000e7,#0000e2,#0000df)"></i>
<i style="background:linear-gradient(90deg,#0000a7,#0000aa,#0000af,#0000b4,#0000ba,#0000c0,#0000c6,#0000cc,#0000d2,#0000d8,#0000dd,#0000e1,#0000e4,#0000e6,#0000e7,#0000e7,#0000e7,#0000e6,#0000e5,#0000e4,#0000e2,#0000e0,#0000dd,#0000d9,#0000d5,#0000d0,#0000ca,#0000c4,#0000be,#0000b8,#0000b3,#0000b1,#0000af,#0000b0,#0000b2,#0000b5,#0000b8,#0000bd,#0000c2,#0000c8,#0000cf,#0000d5,#0000db,#0000de,#0000e0,#0000df,#0000dc,#0000d9,#0000d5,#0000d2,#0000d1,#0000d0,#0000d1,#0000d3,#0000d6,#0000d9,#0000de,#0000e2,#0000e8,#0000ee,#0000f4,#0000f8,#0000fc,#0000fe,#0000fe,#0000fe,#0000fd,#0000fb,#0000f9,#0000f6,#0000f3,#0000ef,#0000ea,#0000e6,#0000e1,#0000de)"></i>
<i style="background:linear-gradient(90deg,#0000a8,#0000ab,#0000b0,#0000b5,#0000bb,#0000c1,#0000c7,#0000cd,#0000d3,#0000d9,#0000de,#0000e2,#0000e5,#0000e7,#0000e7,#0000e8,#0000e7,#0000e6,#0000e6,#0000e4,#0000e3,#0000e0,#0000de,#0000da,#0000d6,#0000d1,#0000cb,#0000c4,#0000bd,#0000b7,#0000b1,#0000ae,#0000ad,#0000ae,#0000b0,#0000b3,#0000b7,#0000bc,#0000c2,#0000c8,#0000cf,#0000d5,#0000db,#0000de,#0000df,#0000de,#0000db,#0000d7,#0000d3,#0000d0,#0000ce,#0000cd,#0000cd,#0000ce,#0000d0,#0000d3,#0000d7,#0000db,#0000e1,#0000e8,#0000ee,#0000f4,#0000f8,#0000fb,#0000fc,#0000fb,#0000fa,#0000f9,#0000f7,#0000f5,#0000f2,#0000ee,#0000e9,#0000e5,#0000e0,#0000dd)"></i>
<i style="background:linear-gradient(90deg,#0000a9,#0000ac,#0000b1,#0000b7,#0000bd,#0000c2,#0000c8,#0000ce,#0000d4,#0000da,#0000df,#0000e3,#0000e6,#0000e7,#0000e8,#0000e8,#0000e7,#0000e7,#0000e6,#0000e5,#0000e3,#0000e1,#0000df,#0000dc,#0000d8,#0000d3,#0000cd,#0000c6,#0000bf,#0000b8,#0000b3,#0000b0,#0000ae,#0000af,#0000b1,#0000b4,#0000b8,#0000bd,#0000c2,#0000c9,#0000cf,#0000d6,#0000db,#0000de,#0000df,#0000dd,#0000da,#0000d5,#0000d1,#0000cd,#0000ca,#0000c9,#0000c8,#0000c9,#0000ca,#0000cc,#0000cf,#0000d4,#0000da,#0000e2,#0000e9,#0000f0,#0000f5,#0000f8,#0000f9,#0000f9,#0000f9,#0000f7,#0000f6,#0000f3,#0000f0,#0000ed,#0000e8,#0000e4,#0000df,#0000dc)"></i>
<i style="background:linear-gradient(90deg,#0000aa,#0000ae,#0000b2,#0000b8,#0000be,#0000c4,#0000ca,#0000d0,#0000d6,#0000db,#0000e0,#0000e4,#0000e6,#0000e8,#0000e8,#0000e8,#0000e8,#0000e7,#0000e6,#0000e5,#0000e3,#0000e2,#0000e0,#0000dd,#0000da,#0000d6,#0000d1,#0000ca,#0000c4,#0000bd,#0000b8,#0000b5,#0000b4,#0000b4,#0000b6,#0000b9,#0000bc,#0000c0,#0000c5,#0000cb,#0000d1,#0000d7,#0000db,#0000de,#0000df,#0000dc,#0000d8,#0000d3,#0000cd,#0000c9,#0000c6,#0000c4,#0000c3,#0000c3,#0000c4,#0000c6,#0000c9,#0000ce,#0000d4,#0000dd,#0000e5,#0000ed,#0000f3,#0000f6,#0000f8,#0000f8,#0000f7,#0000f6,#0000f4,#0000f2,#0000ef,#0000eb,#0000e7,#0000e2,#0000de,#0000db)"></i>
<i style="background:linear-gradient(90deg,#0000ab,#0000af,#0000b4,#0000b9,#0000bf,#0000c5,#0000cb,#0000d1,#0000d7,#0000dc,#0000e1,#0000e5,#0000e7,#0000e9,#0000e9,#0000e9,#0000e8,#0000e7,#0000e6,#0000e5,#0000e4,#0000e3,#0000e1,#0000df,#0000dc,#0000d9,#0000d5,#0000cf,#0000ca,#0000c4,#0000c0,#0000bd,#0000bc,#0000bc,#0000bd,#0000bf,#0000c2,#0000c5,#0000c9,#0000ce,#0000d3,#0000d8,#0000dc,#0000de,#0000de,#0000db,#0000d6,#0000cf,#0000c9,#0000c3,#0000bf,#0000bd,#0000bd,#0000bd,#0000be,#0000c0,#0000c4,#0000c9,#0000d1,#0000da,#0000e3,#0000eb,#0000f1,#0000f5,#0000f7,#0000f7,#0000f7,#0000f5,#0000f3,#0000f1,#0000ee,#0000ea,#0000e6,#0000e1,#0000dd,#0000d9)"></i>
<i style="background:linear-gradient(90deg,#0000ac,#0000b0,#0000b5,#0000bb,#0000c1,#0000c7,#0000cd,#0000d2,#0000d8,#0000dd,#0000e2,#0000e6,#0000e8,#0000e9,#0000ea,#0000ea,#0000e9,#0000e9,#0000e8,#0000e7,#0000e6,#0000e5,#0000e4,#0000e2,#0000e0,#0000dd,#0000da,#0000d6,#0000d1,#0000cd,#0000c9,#0000c6,#0000c5,#0000c5,#0000c6,#0000c7,#0000c9,#0000cb,#0000ce,#0000d2,#0000d6,#0000da,#0000dd,#0000de,#0000dc,#0000d7,#0000cf,#0000c6,#0000bd,#0000b5,#0000b0,#0000ae,#0000ae,#0000b1,#0000b4,#0000b9,#0000bf,#0000c7,#0000d0,#0000da,#0000e4,#0000ec,#0000f2,#0000f5,#0000f7,#0000f7,#0000f6,#0000f5,#0000f2,#0000f0,#0000ed,#0000e9,#0000e5,#0000e0,#0000dc,#0000d8)"></i>
<i style="background:linear-gradient(90deg,#0000ae,#0000b2,#0000b7,#0000bd,#0000c3,#0000c9,#0000ce,#0000d4,#0000da,#0000df,#0000e3,#0000e7,#0000e9,#0000eb,#0000eb,#0000ec,#0000eb,#0000eb,#0000eb,#0000ea,#0000ea,#0000e9,#0000e8,#0000e7,#0000e5,#0000e3,#0000e0,#0000dd,#0000d9,#0000d5,#0000d2,#0000d0,#0000ce,#0000ce,#0000ce,#0000ce,#0000cf,#0000d0,#0000d2,#0000d5,#0000d8,#0000dc,#0000de,#0000df,#0000dd,#0000d8,#0000d0,#0000c7,#0000be,#0000b7,#0000b2,#0000b0,#0000b1,#0000b3,#0000b6,#0000bb,#0000c1,#0000c8,#0000d1,#0000db,#0000e4,#0000ec,#0000f2,#0000f5,#0000f7,#0000f7,#0000f6,#0000f4,#0000f2,#0000ef,#0000ec,#0000e8,#0000e4,#0000df,#0000db,#0000d7)"></i>
<i style="background:linear-gradient(90deg,#0000af,#0000b3,#0000b9,#0000be,#0000c4,#0000ca,#0000d0,#0000d6,#0000db,#0000e0,#0000e4,#0000e8,#0000ea,#0000ec,#0000ed,#0000ee,#0000ef,#0000ef,#0000ef,#0000ef,#0000ef,#0000ee,#0000ee,#0000ed,#0000eb,#0000e9,#0000e7,#0000e4,#0000e1,#0000dd,#0000db,#0000d8,#0000d7,#0000d5,#0000d5,#0000d4,#0000d4,#0000d5,#0000d6,#0000d8,#0000db,#0000dd,#0000df,#0000e0,#0000de,#0000da,#0000d3,#0000cb,#0000c4,#0000be,#0000b9,#0000b8,#0000b8,#0000ba,#0000bc,#0000c0,#0000c6,#0000cc,#0000d4,#0000dd,#0000e6,#0000ed,#0000f3,#0000f6,#0000f7,#0000f7,#0000f5,#0000f4,#0000f1,#0000ee,#0000eb,#0000e7,#0000e3,#0000de,#0000da,#0000d6)"></i>
<i style="background:linear-gradient(90deg,#0000b1,#0000b5,#0000bb,#0000c0,#0000c6,#0000cc,#0000d2,#0000d7,#0000dc,#0000e1,#0000e5,#0000e9,#0000ec,#0000ee,#0000f0,#0000f1,#0000f3,#0000f3,#0000f4,#0000f4,#0000f4,#0000f4,#0000f4,#0000f3,#0000f2,#0000f1,#0000ef,#0000ec,#0000e9,#0000e6,#0000e3,#0000e1,#0000df,#0000dd,#0000dc,#0000db,#0000da,#0000da,#0000db,#0000dc,#0000de,#0000e0,#0000e1,#0000e1,#0000e0,#0000dc,#0000d7,#0000d1,#0000cb,#0000c6,#0000c3,#0000c1,#0000c1,#0000c3,#0000c5,#0000c8,#0000cc,#0000d2,#0000d9,#0000e1,#0000e8,#0000ef,#0000f3,#0000f6,#0000f7,#0000f7,#0000f5,#0000f3,#0000f1,#0000ee,#0000eb,#0000e7,#0000e2,#0000de,#0000d9,#0000d6)"></i>
<i style="background:linear-gradient(90deg,#0000b3,#0000b7,#0000bd,#0000c3,#0000c9,#0000cf,#0000d4,#0000d9,#0000de,#0000e3,#0000e7,#0000ea,#0000ed,#0000f0,#0000f3,#0000f5,#0000f6,#0000f8,#0000f9,#0000f9,#0000f9,#0000fa,#0000fa,#0000f9,#0000f9,#0000f8,#0000f7,#0000f5,#0000f2,#0000ef,#0000ed,#0000ea,#0000e7,#0000e5,#0000e3,#0000e1,#0000e0,#0000df,#0000df,#0000e0,#0000e1,#0000e2,#0000e3,#0000e2,#0000e1,#0000de,#0000da,#0000d5,#0000d1,#0000cd,#0000ca,#0000c9,#0000c9,#0000cb,#0000cc,#0000cf,#0000d3,#0000d8,#0000de,#0000e4,#0000eb,#0000f0,#0000f4,#0000f6,#0000f7,#0000f7,#0000f5,#0000f3,#0000f1,#0000ee,#0000ea,#0000e6,#0000e2,#0000dd,#0000d9,#0000d6)"></i>
<i style="background:linear-gradient(90deg,#0000b5,#0000ba,#0000bf,#0000c5,#0000cb,#0000d1,#0000d7,#0000dc,#0000e1,#0000e5,#0000e9,#0000ec,#0000f0,#0000f3,#0000f5,#0000f8,#0000fa,#0000fb,#0000fd,#0000fe,#0000ff,#0001ff,#0002ff,#0002ff,#0002ff,#0002ff,#0001ff,#0000fe,#0000fc,#0000f9,#0000f6,#0000f3,#0000f0,#0000ed,#0000ea,#0000e7,#0000e5,#0000e4,#0000e3,#0000e3,#0000e3,#0000e3,#0000e3,#0000e2,#0000e1,#0000df,#0000dc,#0000d8,#0000d5,#0000d2,#0000d1,#0000d0,#0000d0,#0000d2,#0000d3,#0000d6,#0000d9,#0000dd,#0000e2,#0000e8,#0000ed,#0000f2,#0000f5,#0000f7,#0000f8,#0000f7,#0000f6,#0000f4,#0000f1,#0000ee,#0000eb,#0000e7,#0000e2,#0000de,#0000d9,#0000d6)"></i>
<i style="background:linear-gradient(90deg,#0000b8,#0000bd,#0000c2,#0000c9,#0000cf,#0000d5,#0000da,#0000df,#0000e4,#0000e8,#0000ec,#0000f0,#0000f3,#0000f6,#0000f9,#0000fb,#0000fe,#0001ff,#0003ff,#0005ff,#0007ff,#0009ff,#000aff,#000bff,#000cff,#000cff,#000bff,#000aff,#0008ff,#0005ff,#0002ff,#0000fd,#0000f9,#0000f6,#0000f2,#0000ee,#0000ea,#0000e8,#0000e5,#0000e4,#0000e3,#0000e2,#0000e1,#0000e0,#0000de,#0000dd,#0000db,#0000da,#0000d8,#0000d8,#0000d7,#0000d7,#0000d8,#0000d9,#0000db,#0000dd,#0000e0,#0000e4,#0000e8,#0000ed,#0000f1,#0000f5,#0000f8,#0000f9,#0000f9,#0000f8,#0000f7,#0000f5,#0000f2,#0000ef,#0000eb,#0000e7,#0000e3,#0000de,#0000d9,#0000d6)"></i>
<i style="background:linear-gradient(90deg,#0000bc,#0000c1,#0000c6,#0000cd,#0000d3,#0000d9,#0000df,#0000e4,#0000e8,#0000ed,#0000f1,#0000f4,#0000f8,#0000fb,#0000fd,#0001ff,#0003ff,#0006ff,#0008ff,#000bff,#000eff,#0011ff,#0013ff,#0015ff,#0017ff,#0017ff,#0017ff,#0016ff,#0013ff,#0010ff,#000dff,#0009ff,#0004ff,#0000fe,#0000f9,#0000f3,#0000ee,#0000e9,#0000e5,#0000e2,#0000df,#0000dd,#0000db,#0000da,#0000da,#0000da,#0000da,#0000db,#0000db,#0000dc,#0000dd,#0000de,#0000e0,#0000e1,#0000e3,#0000e5,#0000e8,#0000eb,#0000ee,#0000f2,#0000f6,#0000f9,#0000fb,#0000fb,#0000fb,#0000fa,#0000f8,#0000f6,#0000f3,#0000f0,#0000ec,#0000e8,#0000e3,#0000de,#0000da,#0000d6)"></i>
<i style="background:linear-gradient(90deg,#0000c0,#0000c5,#0000cb,#0000d1,#0000d7,#0000de,#0000e3,#0000e8,#0000ed,#0000f2,#0000f6,#0000f9,#0000fd,#0001ff,#0004ff,#0007ff,#0009ff,#000cff,#000fff,#0012ff,#0016ff,#001aff,#001dff,#0021ff,#0023ff,#0024ff,#0024ff,#0022ff,#0020ff,#001dff,#0019ff,#0014ff,#000fff,#0008ff,#0001ff,#0000f8,#0000f1,#0000eb,#0000e5,#0000e0,#0000db,#0000d8,#0000d5,#0000d4,#0000d4,#0000d5,#0000d6,#0000d9,#0000dc,#0000df,#0000e2,#0000e4,#0000e6,#0000e9,#0000eb,#0000ed,#0000ef,#0000f2,#0000f5,#0000f8,#0000fb,#0000fd,#0000fe,#0000fe,#0000fe,#0000fc,#0000fa,#0000f8,#0000f5,#0000f1,#0000ed,#0000e9,#0000e4,#0000df,#0000da,#0000d6)"></i>
<i style="background:linear-gradient(90deg,#0000c5,#0000c9,#0000cf,#0000d6,#0000dc,#0000e2,#0000e8,#0000ee,#0000f3,#0000f7,#0000fb,#0000ff,#0004ff,#0007ff,#000aff,#000dff,#0010ff,#0013ff,#0016ff,#001aff,#001fff,#0023ff,#0028ff,#002cff,#002fff,#0031ff,#0031ff,#0030ff,#002eff,#002aff,#0026ff,#0021ff,#001aff,#0012ff,#0009ff,#0000fe,#0000f5,#0000ec,#0000e4,#0000dd,#0000d8,#0000d3,#0000cf,#0000cd,#0000cd,#0000cf,#0000d2,#0000d6,#0000db,#0000e0,#0000e4,#0000e8,#0000ec,#0000ef,#0000f2,#0000f4,#0000f7,#0000f9,#0000fc,#0000fe,#0001ff,#0002ff,#0003ff,#0002ff,#0002ff,#0000ff,#0000fd,#0000fa,#0000f7,#0000f3,#0000ef,#0000ea,#0000e5,#0000e0,#0000db,#0000d7)"></i>
<i style="background:linear-gradient(90deg,#0000c9,#0000ce,#0000d4,#0000db,#0000e1,#0000e8,#0000ee,#0000f3,#0000f8,#0000fd,#0002ff,#0006ff,#000aff,#000eff,#0011ff,#0014ff,#0018ff,#001bff,#001fff,#0024ff,#0029ff,#002fff,#0034ff,#0039ff,#003dff,#003fff,#0040ff,#003fff,#003cff,#0039ff,#0034ff,#002eff,#0026ff,#001cff,#0011ff,#0005ff,#0000f9,#0000ed,#0000e3,#0000db,#0000d3,#0000cd,#0000c8,#0000c5,#0000c5,#0000c7,#0000cb,#0000d1,#0000d7,#0000de,#0000e4,#0000ea,#0000ef,#0000f4,#0000f8,#0000fc,#0000ff,#0002ff,#0004ff,#0005ff,#0006ff,#0006ff,#0007ff,#0006ff,#0005ff,#0003ff,#0001ff,#0000fd,#0000f9,#0000f5,#0000f1,#0000ec,#0000e6,#0000e0,#0000db,#0000d7)"></i>
<i style="background:linear-gradient(90deg,#0000ce,#0000d3,#0000d9,#0000e0,#0000e6,#0000ed,#0000f3,#0000f9,#0000fe,#0004ff,#0008ff,#000dff,#0011ff,#0015ff,#0019ff,#001dff,#0021ff,#0026ff,#002aff,#0030ff,#0036ff,#003dff,#0043ff,#0049ff,#004dff,#004fff,#0050ff,#004fff,#004cff,#0048ff,#0043ff,#003cff,#0033ff,#0028ff,#001aff,#000cff,#0000fd,#0000ef,#0000e2,#0000d7,#0000cc,#0000c4,#0000be,#0000ba,#0000ba,#0000bc,#0000c2,#0000ca,#0000d2,#0000db,#0000e4,#0000ec,#0000f3,#0000f9,#0000ff,#0004ff,#0007ff,#0009ff,#000bff,#000bff,#000cff,#000cff,#000bff,#000bff,#0009ff,#0007ff,#0004ff,#0001ff,#0000fc,#0000f8,#0000f3,#0000ed,#0000e7,#0000e1,#0000dc,#0000d7)"></i>
<i style="background:linear-gradient(90deg,#0000d3,#0000d8,#0000de,#0000e5,#0000eb,#0000f2,#0000f8,#0000fe,#0004ff,#000aff,#000fff,#0013ff,#0018ff,#001dff,#0022ff,#0027ff,#002cff,#0031ff,#0037ff,#003eff,#0045ff,#004cff,#0054ff,#005aff,#005eff,#0061ff,#0061ff,#0060ff,#005dff,#0059ff,#0053ff,#004bff,#0041ff,#0033ff,#0024ff,#0013ff,#0002ff,#0000f1,#0000e1,#0000d3,#0000c6,#0000bc,#0000b4,#0000af,#0000af,#0000b2,#0000b9,#0000c3,#0000ce,#0000d9,#0000e4,#0000ee,#0000f7,#0000ff,#0007ff,#000cff,#0010ff,#0012ff,#0013ff,#0013ff,#0013ff,#0012ff,#0012ff,#0010ff,#000eff,#000cff,#0009ff,#0005ff,#0000ff,#0000fa,#0000f5,#0000ef,#0000e9,#0000e2,#0000dc,#0000d8)"></i>
<i style="background:linear-gradient(90deg,#0000d8,#0000dd,#0000e3,#0000ea,#0000f0,#0000f7,#0000fd,#0005ff,#000aff,#0010ff,#0015ff,#001bff,#0020ff,#0026ff,#002cff,#0032ff,#0038ff,#003fff,#0046ff,#004dff,#0055ff,#005dff,#0065ff,#006cff,#0071ff,#0073ff,#0074ff,#0072ff,#006fff,#006aff,#0064ff,#005bff,#0050ff,#0041ff,#0030ff,#001dff,#000aff,#0000f6,#0000e5,#0000d4,#0000c6,#0000b9,#0000b0,#0000ab,#0000a9,#0000ad,#0000b4,#0000bf,#0000cb,#0000d7,#0000e4,#0000f0,#0000fb,#0005ff,#000eff,#0014ff,#0018ff,#001bff,#001cff,#001cff,#001bff,#001aff,#0019ff,#0017ff,#0014ff,#0011ff,#000dff,#0009ff,#0004ff,#0000fd,#0000f7,#0000f1,#0000ea,#0000e3,#0000dd,#0000d8)"></i>
<i style="background:linear-gradient(90deg,#0000dd,#0000e2,#0000e8,#0000ee,#0000f5,#0000fc,#0004ff,#000aff,#0011ff,#0017ff,#001dff,#0023ff,#0029ff,#0030ff,#0036ff,#003eff,#0045ff,#004dff,#0055ff,#005dff,#0066ff,#006fff,#0077ff,#007eff,#0083ff,#0086ff,#0086ff,#0085ff,#0082ff,#007dff,#0076ff,#006dff,#0060ff,#0051ff,#003fff,#002bff,#0016ff,#0002ff,#0000ef,#0000de,#0000cf,#0000c3,#0000b9,#0000b3,#0000b2,#0000b5,#0000bc,#0000c6,#0000d1,#0000dd,#0000ea,#0000f6,#0003ff,#000dff,#0017ff,#001eff,#0023ff,#0025ff,#0026ff,#0025ff,#0024ff,#0023ff,#0020ff,#001eff,#001aff,#0016ff,#0012ff,#000dff,#0007ff,#0001ff,#0000fa,#0000f3,#0000eb,#0000e4,#0000dd,#0000d8)"></i>
<i style="background:linear-gradient(90deg,#0000e2,#0000e7,#0000ed,#0000f3,#0000fb,#0003ff,#000aff,#0011ff,#0017ff,#001eff,#0025ff,#002cff,#0033ff,#003aff,#0042ff,#004aff,#0053ff,#005bff,#0064ff,#006eff,#0077ff,#0080ff,#0089ff,#0090ff,#0096ff,#0099ff,#0099ff,#0098ff,#0095ff,#0090ff,#0089ff,#007fff,#0073ff,#0063ff,#0050ff,#003bff,#0027ff,#0013ff,#0002ff,#0000f2,#0000e5,#0000da,#0000d2,#0000ce,#0000cd,#0000cf,#0000d4,#0000dc,#0000e6,#0000f0,#0000fb,#0007ff,#0011ff,#001bff,#0024ff,#002bff,#002fff,#0031ff,#0031ff,#0030ff,#002eff,#002cff,#0029ff,#0025ff,#0021ff,#001dff,#0017ff,#0012ff,#000bff,#0005ff,#0000fc,#0000f5,#0000ed,#0000e5,#0000de,#0000d9)"></i>
<i style="background:linear-gradient(90deg,#0000e7,#0000ec,#0000f2,#0000f9,#0001ff,#0009ff,#0010ff,#0017ff,#001fff,#0026ff,#002eff,#0035ff,#003eff,#0046ff,#004fff,#0059ff,#0063ff,#006dff,#0077ff,#0081ff,#008bff,#0094ff,#009dff,#00a5ff,#00aaff,#00adff,#00adff,#00acff,#00a9ff,#00a4ff,#009eff,#0095ff,#0089ff,#007bff,#0069ff,#0056ff,#0044ff,#0032ff,#0023ff,#0015ff,#000aff,#0000ff,#0000f8,#0000f4,#0000f2,#0000f4,#0000f7,#0000fd,#0004ff,#000cff,#0014ff,#001cff,#0025ff,#002dff,#0035ff,#003aff,#003eff,#0040ff,#003fff,#003dff,#003bff,#0037ff,#0033ff,#002fff,#002aff,#0025ff,#001fff,#0018ff,#0011ff,#000aff,#0002ff,#0000f8,#0000f0,#0000e8,#0000e0,#0000da)"></i>
<i style="background:linear-gradient(90deg,#0000ec,#0000f0,#0000f7,#0000fe,#0007ff,#000fff,#0017ff,#001fff,#0027ff,#002fff,#0037ff,#0040ff,#0049ff,#0053ff,#005dff,#0069ff,#0074ff,#007fff,#008bff,#0096ff,#00a0ff,#00aaff,#00b2ff,#00b9ff,#00bfff,#00c1ff,#00c2ff,#00c1ff,#00beff,#00baff,#00b5ff,#00adff,#00a2ff,#0095ff,#0086ff,#0076ff,#0065ff,#0056ff,#0048ff,#003cff,#0031ff,#0029ff,#0022ff,#001eff,#001cff,#001cff,#001dff,#0020ff,#0024ff,#0029ff,#002eff,#0034ff,#003bff,#0041ff,#0047ff,#004cff,#004fff,#004fff,#004eff,#004cff,#0048ff,#0044ff,#003fff,#003aff,#0034ff,#002eff,#0027ff,#0020ff,#0018ff,#0010ff,#0007ff,#0000fd,#0000f4,#0000eb,#0000e3,#0000dd)"></i>
<i style="background:linear-gradient(90deg,#0000f1,#0000f6,#0000fd,#0005ff,#000eff,#0017ff,#001fff,#0028ff,#0030ff,#0039ff,#0042ff,#004bff,#0055ff,#0060ff,#006cff,#0079ff,#0086ff,#0092ff,#009fff,#00aaff,#00b5ff,#00bfff,#00c7ff,#00ceff,#00d3ff,#00d6ff,#00d8ff,#00d7ff,#00d6ff,#00d3ff,#00cfff,#00c9ff,#00c1ff,#00b5ff,#00a8ff,#0099ff,#008aff,#007cff,#0070ff,#0065ff,#005dff,#0055ff,#0050ff,#004cff,#004aff,#0049ff,#0049ff,#004aff,#004bff,#004dff,#0050ff,#0053ff,#0056ff,#005aff,#005dff,#0060ff,#0061ff,#0060ff,#005eff,#005bff,#0056ff,#0051ff,#004bff,#0045ff,#003eff,#0037ff,#0030ff,#0028ff,#001fff,#0017ff,#000dff,#0004ff,#0000f9,#0000ef,#0000e6,#0000e0)"></i>
<i style="background:linear-gradient(90deg,#0000f6,#0000fc,#0005ff,#000dff,#0016ff,#0020ff,#0029ff,#0033ff,#003cff,#0045ff,#004fff,#0059ff,#0064ff,#0070ff,#007cff,#008aff,#0097ff,#00a5ff,#00b1ff,#00bdff,#00c8ff,#00d2ff,#00daff,#00e1ff,#00e7ff,#00ebff,#00edff,#00efff,#00efff,#00efff,#00eeff,#00ebff,#00e4ff,#00dbff,#00cfff,#00c2ff,#00b4ff,#00a8ff,#009eff,#0095ff,#008eff,#0089ff,#0085ff,#0082ff,#007fff,#007eff,#007cff,#007cff,#007bff,#007aff,#007aff,#0079ff,#0079ff,#0078ff,#0078ff,#0077ff,#0075ff,#0073ff,#006fff,#006aff,#0064ff,#005eff,#0057ff,#0050ff,#0048ff,#0040ff,#0038ff,#002fff,#0026ff,#001dff,#0013ff,#0009ff,#0000fd,#0000f3,#0000ea,#0000e3)"></i>
<i style="background:linear-gradient(90deg,#0000fc,#0004ff,#000cff,#0015ff,#0020ff,#002aff,#0034ff,#003eff,#0048ff,#0052ff,#005dff,#0067ff,#0073ff,#007fff,#008cff,#0099ff,#00a7ff,#00b4ff,#00c1ff,#00ccff,#00d7ff,#00e1ff,#00eaff,#00f2ff,#00f8ff,#00feff,#04fffb,#09fff6,#0cfff3,#0efff1,#0ffff0,#0dfff2,#08fff7,#00ffff,#00f4ff,#00e8ff,#00dcff,#00d1ff,#00c8ff,#00c1ff,#00bbff,#00b6ff,#00b3ff,#00afff,#00acff,#00aaff,#00a8ff,#00a6ff,#00a4ff,#00a2ff,#00a0ff,#009dff,#009aff,#0097ff,#0094ff,#0090ff,#008cff,#0087ff,#0081ff,#007aff,#0073ff,#006cff,#0064ff,#005bff,#0053ff,#004aff,#0040ff,#0036ff,#002cff,#0022ff,#0017ff,#000cff,#0002ff,#0000f6,#0000ed,#0000e6)"></i>
<i style="background:linear-gradient(90deg,#0003ff,#000aff,#0013ff,#001dff,#0028ff,#0033ff,#003eff,#0049ff,#0054ff,#005fff,#006aff,#0075ff,#0081ff,#008dff,#009aff,#00a8ff,#00b6ff,#00c4ff,#00d1ff,#00ddff,#00e8ff,#00f2ff,#00fcff,#05fffa,#0dfff2,#14ffeb,#1affe5,#1fffe0,#24ffdb,#27ffd8,#28ffd7,#27ffd8,#23ffdc,#1bffe4,#11ffee,#06fff9,#00faff,#00f0ff,#00e9ff,#00e4ff,#00e0ff,#00ddff,#00daff,#00d8ff,#00d6ff,#00d3ff,#00d1ff,#00ceff,#00ccff,#00c8ff,#00c5ff,#00c0ff,#00bbff,#00b6ff,#00b0ff,#00a9ff,#00a2ff,#009aff,#0093ff,#008aff,#0082ff,#0079ff,#0070ff,#0066ff,#005cff,#0052ff,#0048ff,#003dff,#0032ff,#0027ff,#001cff,#0011ff,#0005ff,#0000f9,#0000f0,#0000e9)"></i>
<i style="background:linear-gradient(90deg,#0008ff,#0010ff,#0019ff,#0024ff,#0030ff,#003bff,#0047ff,#0053ff,#005eff,#0069ff,#0075ff,#0080ff,#008dff,#009aff,#00a7ff,#00b6ff,#00c4ff,#00d2ff,#00e0ff,#00ecff,#00f8ff,#04fffb,#0efff1,#18ffe7,#20ffdf,#27ffd8,#2effd1,#34ffcb,#38ffc7,#3cffc3,#3effc1,#3dffc2,#39ffc6,#31ffce,#28ffd7,#1dffe2,#13ffec,#0afff5,#04fffb,#00ffff,#00fcff,#00faff,#00f8ff,#00f6ff,#00f4ff,#00f2ff,#00efff,#00ecff,#00e9ff,#00e5ff,#00e0ff,#00daff,#00d3ff,#00ccff,#00c4ff,#00bbff,#00b2ff,#00a9ff,#00a0ff,#0096ff,#008dff,#0083ff,#0079ff,#006eff,#0064ff,#0059ff,#004eff,#0043ff,#0038ff,#002cff,#0021ff,#0015ff,#0009ff,#0000fd,#0000f3,#0000ec)"></i>
<i style="background:linear-gradient(90deg,#000cff,#0014ff,#001eff,#0029ff,#0035ff,#0042ff,#004eff,#005aff,#0066ff,#0072ff,#007eff,#008aff,#0097ff,#00a4ff,#00b3ff,#00c1ff,#00d0ff,#00dfff,#00ecff,#00f9ff,#06fff9,#11ffee,#1bffe4,#24ffdb,#2dffd2,#35ffca,#3cffc3,#43ffbc,#49ffb6,#4effb1,#51ffae,#50ffaf,#4dffb2,#47ffb8,#3effc1,#34ffcb,#2affd5,#21ffde,#1affe5,#14ffeb,#10ffef,#0cfff3,#09fff6,#06fff9,#03fffc,#00ffff,#00fbff,#00f8ff,#00f4ff,#00efff,#00eaff,#00e4ff,#00ddff,#00d5ff,#00ccff,#00c4ff,#00baff,#00b1ff,#00a7ff,#009dff,#0093ff,#0088ff,#007eff,#0073ff,#0068ff,#005eff,#0053ff,#0048ff,#003cff,#0031ff,#0025ff,#0018ff,#000cff,#0001ff,#0000f6,#0000ee)"></i>
<i style="background:linear-gradient(90deg,#000fff,#0017ff,#0022ff,#002eff,#003bff,#0048ff,#0055ff,#0061ff,#006eff,#007aff,#0087ff,#0094ff,#00a1ff,#00afff,#00bdff,#00ccff,#00daff,#00e8ff,#00f5ff,#02fffd,#0dfff2,#17ffe8,#20ffdf,#28ffd7,#30ffcf,#39ffc6,#41ffbe,#4affb5,#52ffad,#58ffa7,#5dffa2,#5effa1,#5cffa3,#56ffa9,#4effb1,#44ffbb,#3affc5,#31ffce,#29ffd6,#23ffdc,#1effe1,#19ffe6,#15ffea,#12ffed,#0efff1,#0afff5,#06fff9,#01fffe,#00fcff,#00f7ff,#00f1ff,#00ebff,#00e4ff,#00dcff,#00d3ff,#00caff,#00c1ff,#00b7ff,#00adff,#00a2ff,#0097ff,#008dff,#0082ff,#0077ff,#006cff,#0061ff,#0056ff,#004bff,#003fff,#0033ff,#0027ff,#001bff,#000fff,#0003ff,#0000f8,#0000f0)"></i>
<i style="background:linear-gradient(90deg,#0011ff,#0019ff,#0024ff,#0031ff,#003fff,#004dff,#005aff,#0067ff,#0075ff,#0082ff,#008eff,#009bff,#00a9ff,#00b6ff,#00c4ff,#00d2ff,#00e0ff,#00edff,#00f9ff,#05fffa,#0ffff0,#17ffe8,#20ffdf,#28ffd7,#30ffcf,#38ffc7,#41ffbe,#4bffb4,#53ffac,#5bffa4,#60ff9f,#62ff9d,#60ff9f,#5bffa4,#52ffad,#49ffb6,#3fffc0,#36ffc9,#2fffd0,#29ffd6,#24ffdb,#20ffdf,#1cffe3,#19ffe6,#15ffea,#11ffee,#0cfff3,#08fff7,#03fffc,#00fcff,#00f6ff,#00f0ff,#00e9ff,#00e1ff,#00d8ff,#00cfff,#00c6ff,#00bcff,#00b1ff,#00a6ff,#009bff,#0090ff,#0084ff,#0079ff,#006eff,#0063ff,#0057ff,#004cff,#0040ff,#0034ff,#0028ff,#001cff,#000fff,#0004ff,#0000f8,#0000f0)"></i>
<i style="background:linear-gradient(90deg,#0011ff,#001aff,#0026ff,#0033ff,#0041ff,#004fff,#005dff,#006aff,#0078ff,#0085ff,#0092ff,#009fff,#00acff,#00baff,#00c7ff,#00d5ff,#00e2ff,#00eeff,#00faff,#05fffa,#0efff1,#16ffe9,#1effe1,#26ffd9,#2dffd2,#36ffc9,#3effc1,#47ffb8,#4fffb0,#56ffa9,#5affa5,#5cffa3,#5affa5,#55ffaa,#4effb1,#45ffba,#3cffc3,#34ffcb,#2dffd2,#28ffd7,#24ffdb,#21ffde,#1effe1,#1bffe4,#18ffe7,#14ffeb,#0ffff0,#0bfff4,#05fffa,#00ffff,#00f9ff,#00f2ff,#00ebff,#00e3ff,#00dbff,#00d2ff,#00c8ff,#00beff,#00b3ff,#00a8ff,#009dff,#0091ff,#0086ff,#007aff,#006eff,#0063ff,#0057ff,#004bff,#003fff,#0033ff,#0027ff,#001aff,#000eff,#0003ff,#0000f7,#0000f0)"></i>
<i style="background:linear-gradient(90deg,#0011ff,#001aff,#0025ff,#0032ff,#0040ff,#004eff,#005bff,#0069ff,#0076ff,#0083ff,#0090ff,#009dff,#00abff,#00b8ff,#00c6ff,#00d4ff,#00e1ff,#00eeff,#00f9ff,#04fffb,#0dfff2,#15ffea,#1dffe2,#23ffdc,#2affd5,#31ffce,#38ffc7,#3fffc0,#46ffb9,#4bffb4,#4fffb0,#50ffaf,#4fffb0,#4affb5,#44ffbb,#3cffc3,#34ffcb,#2effd1,#28ffd7,#24ffdb,#20ffdf,#1effe1,#1bffe4,#18ffe7,#14ffeb,#10ffef,#0cfff3,#07fff8,#02fffd,#00fbff,#00f4ff,#00eeff,#00e6ff,#00dfff,#00d6ff,#00ceff,#00c4ff,#00bbff,#00b0ff,#00a5ff,#009aff,#008fff,#0083ff,#0077ff,#006cff,#0060ff,#0054ff,#0048ff,#003cff,#0030ff,#0024ff,#0018ff,#000cff,#0001ff,#0000f6,#0000ef)"></i>
<i style="background:linear-gradient(90deg,#0010ff,#0018ff,#0023ff,#002fff,#003cff,#004aff,#0057ff,#0064ff,#0070ff,#007dff,#008aff,#0097ff,#00a4ff,#00b2ff,#00c1ff,#00cfff,#00ddff,#00ebff,#00f7ff,#02fffd,#0bfff4,#13ffec,#19ffe6,#1fffe0,#25ffda,#2affd5,#30ffcf,#35ffca,#3affc5,#3effc1,#40ffbf,#41ffbe,#40ffbf,#3cffc3,#37ffc8,#31ffce,#2bffd4,#25ffda,#20ffdf,#1cffe3,#18ffe7,#15ffea,#11ffee,#0dfff2,#09fff6,#05fffa,#00feff,#00f8ff,#00f2ff,#00ecff,#00e5ff,#00deff,#00d7ff,#00d0ff,#00c8ff,#00c0ff,#00b8ff,#00afff,#00a5ff,#009bff,#0091ff,#0086ff,#007bff,#0070ff,#0065ff,#005aff,#004eff,#0043ff,#0037ff,#002bff,#0020ff,#0014ff,#0009ff,#0000fe,#0000f4,#0000ed)"></i>
<i style="background:linear-gradient(90deg,#000fff,#0017ff,#0021ff,#002cff,#0038ff,#0044ff,#0050ff,#005dff,#0069ff,#0075ff,#0081ff,#008dff,#009bff,#00a8ff,#00b7ff,#00c6ff,#00d4ff,#00e1ff,#00edff,#00f7ff,#00ffff,#07fff8,#0dfff2,#12ffed,#17ffe8,#1bffe4,#20ffdf,#25ffda,#29ffd6,#2dffd2,#2fffd0,#30ffcf,#2fffd0,#2dffd2,#29ffd6,#25ffda,#20ffdf,#1bffe4,#16ffe9,#11ffee,#0dfff2,#08fff7,#03fffc,#00fdff,#00f8ff,#00f2ff,#00ebff,#00e4ff,#00ddff,#00d6ff,#00cfff,#00c8ff,#00c2ff,#00bbff,#00b5ff,#00aeff,#00a7ff,#009fff,#0096ff,#008dff,#0084ff,#007aff,#0070ff,#0066ff,#005cff,#0052ff,#0047ff,#003cff,#0031ff,#0026ff,#001bff,#0011ff,#0006ff,#0000fb,#0000f2,#0000ec)"></i>
<i style="background:linear-gradient(90deg,#000eff,#0015ff,#001eff,#0028ff,#0033ff,#003fff,#004aff,#0055ff,#0061ff,#006cff,#0078ff,#0084ff,#0090ff,#009dff,#00abff,#00b9ff,#00c7ff,#00d3ff,#00deff,#00e7ff,#00eeff,#00f4ff,#00f9ff,#00fdff,#02fffd,#07fff8,#0bfff4,#0ffff0,#13ffec,#17ffe8,#19ffe6,#1affe5,#1affe5,#18ffe7,#15ffea,#11ffee,#0dfff2,#08fff7,#03fffc,#00feff,#00f9ff,#00f5ff,#00f0ff,#00eaff,#00e4ff,#00ddff,#00d5ff,#00cdff,#00c5ff,#00beff,#00b7ff,#00b0ff,#00abff,#00a6ff,#00a0ff,#009bff,#0095ff,#008fff,#0087ff,#0080ff,#0077ff,#006fff,#0066ff,#005dff,#0053ff,#004aff,#0040ff,#0036ff,#002cff,#0021ff,#0017ff,#000dff,#0003ff,#0000f9,#0000f1,#0000ea)"></i>
<i style="background:linear-gradient(90deg,#000cff,#0013ff,#001bff,#0024ff,#002fff,#0039ff,#0044ff,#004eff,#0059ff,#0064ff,#006fff,#007aff,#0085ff,#0091ff,#009eff,#00aaff,#00b6ff,#00c2ff,#00cbff,#00d3ff,#00daff,#00dfff,#00e3ff,#00e7ff,#00ebff,#00eeff,#00f2ff,#00f6ff,#00f9ff,#00fcff,#00feff,#00ffff,#00feff,#00fcff,#00f9ff,#00f5ff,#00f0ff,#00ecff,#00e7ff,#00e2ff,#00ddff,#00d8ff,#00d3ff,#00ccff,#00c5ff,#00bdff,#00b5ff,#00acff,#00a4ff,#009cff,#0097ff,#0092ff,#008fff,#008cff,#0089ff,#0086ff,#0083ff,#007fff,#0079ff,#0073ff,#006cff,#0064ff,#005cff,#0053ff,#004bff,#0042ff,#0039ff,#002fff,#0026ff,#001cff,#0013ff,#0009ff,#0000ff,#0000f6,#0000ee,#0000e9)"></i>
<i style="background:linear-gradient(90deg,#0009ff,#000fff,#0017ff,#001fff,#0029ff,#0032ff,#003cff,#0046ff,#0050ff,#005aff,#0064ff,#006eff,#0078ff,#0083ff,#008fff,#009aff,#00a5ff,#00afff,#00b7ff,#00bfff,#00c4ff,#00c9ff,#00cdff,#00d1ff,#00d4ff,#00d7ff,#00daff,#00ddff,#00dfff,#00e1ff,#00e2ff,#00e2ff,#00e1ff,#00dfff,#00dbff,#00d7ff,#00d1ff,#00ccff,#00c6ff,#00bfff,#00b9ff,#00b2ff,#00abff,#00a3ff,#009aff,#0091ff,#0087ff,#007eff,#0076ff,#0071ff,#006dff,#006bff,#006bff,#006cff,#006dff,#006eff,#006eff,#006cff,#0069ff,#0064ff,#005fff,#0058ff,#0051ff,#0049ff,#0041ff,#0039ff,#0031ff,#0028ff,#001fff,#0016ff,#000dff,#0005ff,#0000fb,#0000f3,#0000ec,#0000e7)"></i>
<i style="background:linear-gradient(90deg,#0005ff,#000aff,#0011ff,#001aff,#0022ff,#002bff,#0034ff,#003dff,#0046ff,#004fff,#0058ff,#0061ff,#006bff,#0075ff,#007fff,#0089ff,#0093ff,#009cff,#00a4ff,#00aaff,#00afff,#00b3ff,#00b6ff,#00b9ff,#00bbff,#00bdff,#00c0ff,#00c2ff,#00c3ff,#00c5ff,#00c6ff,#00c5ff,#00c4ff,#00c1ff,#00bdff,#00b8ff,#00b1ff,#00abff,#00a3ff,#009bff,#0093ff,#008aff,#0081ff,#0078ff,#006fff,#0066ff,#005dff,#0055ff,#004eff,#004aff,#0048ff,#0048ff,#004bff,#004fff,#0053ff,#0057ff,#0059ff,#0059ff,#0057ff,#0054ff,#0050ff,#004bff,#0045ff,#003eff,#0038ff,#0030ff,#0028ff,#0020ff,#0018ff,#0010ff,#0008ff,#0000ff,#0000f7,#0000f0,#0000e9,#0000e5)"></i>
<i style="background:linear-gradient(90deg,#0000ff,#0005ff,#000cff,#0013ff,#001bff,#0024ff,#002cff,#0034ff,#003cff,#0044ff,#004cff,#0054ff,#005cff,#0065ff,#006eff,#0077ff,#0080ff,#0087ff,#008eff,#0093ff,#0097ff,#009aff,#009cff,#009eff,#00a0ff,#00a2ff,#00a4ff,#00a5ff,#00a7ff,#00a8ff,#00a8ff,#00a8ff,#00a5ff,#00a1ff,#009cff,#0095ff,#008dff,#0084ff,#007aff,#0070ff,#0066ff,#005bff,#0051ff,#0048ff,#003fff,#0037ff,#0030ff,#002aff,#0025ff,#0023ff,#0023ff,#0027ff,#002cff,#0033ff,#003bff,#0041ff,#0045ff,#0047ff,#0047ff,#0045ff,#0042ff,#003eff,#0039ff,#0034ff,#002eff,#0027ff,#0020ff,#0019ff,#0011ff,#000aff,#0002ff,#0000fa,#0000f3,#0000ed,#0000e7,#0000e3)"></i>
<i style="background:linear-gradient(90deg,#0000f9,#0000fe,#0006ff,#000dff,#0015ff,#001cff,#0024ff,#002bff,#0032ff,#0039ff,#0040ff,#0047ff,#004eff,#0055ff,#005cff,#0063ff,#006aff,#0070ff,#0076ff,#007aff,#007dff,#0080ff,#0082ff,#0084ff,#0085ff,#0086ff,#0087ff,#0088ff,#0089ff,#0089ff,#0088ff,#0087ff,#0084ff,#007fff,#0078ff,#0070ff,#0066ff,#005bff,#0050ff,#0044ff,#0038ff,#002dff,#0023ff,#001aff,#0013ff,#000dff,#0009ff,#0006ff,#0004ff,#0004ff,#0007ff,#000cff,#0014ff,#001dff,#0027ff,#002fff,#0035ff,#0038ff,#0038ff,#0037ff,#0035ff,#0031ff,#002eff,#0029ff,#0024ff,#001eff,#0018ff,#0012ff,#000bff,#0005ff,#0000fd,#0000f7,#0000f0,#0000ea,#0000e5,#0000e1)"></i>
<i style="background:linear-gradient(90deg,#0000f4,#0000f9,#0000ff,#0007ff,#000eff,#0015ff,#001cff,#0022ff,#0028ff,#002fff,#0034ff,#003aff,#0040ff,#0045ff,#004aff,#0050ff,#0054ff,#0059ff,#005dff,#0061ff,#0064ff,#0066ff,#0068ff,#006aff,#006bff,#006bff,#006bff,#0069ff,#0067ff,#0064ff,#0061ff,#005cff,#0058ff,#0052ff,#004cff,#0045ff,#003dff,#0033ff,#0029ff,#001eff,#0012ff,#0006ff,#0000fb,#0000f4,#0000ef,#0000ed,#0000ed,#0000ed,#0000ef,#0000f2,#0000f7,#0000fd,#0007ff,#0010ff,#001aff,#0022ff,#0027ff,#002aff,#002bff,#002aff,#0028ff,#0025ff,#0022ff,#001eff,#001aff,#0016ff,#0011ff,#000cff,#0006ff,#0001ff,#0000fa,#0000f4,#0000ee,#0000e9,#0000e4,#0000e0)"></i>
<i style="background:linear-gradient(90deg,#0000ef,#0000f3,#0000f9,#0000ff,#0007ff,#000dff,#0013ff,#0019ff,#001eff,#0023ff,#0028ff,#002cff,#0031ff,#0035ff,#0039ff,#003dff,#0040ff,#0043ff,#0046ff,#0049ff,#004bff,#004dff,#004eff,#004fff,#004eff,#004dff,#0049ff,#0044ff,#003dff,#0036ff,#002fff,#0028ff,#0023ff,#001eff,#001aff,#0016ff,#0011ff,#000bff,#0004ff,#0000f9,#0000ef,#0000e4,#0000db,#0000d4,#0000d1,#0000d0,#0000d3,#0000d7,#0000dd,#0000e3,#0000eb,#0000f4,#0000fd,#0008ff,#0010ff,#0017ff,#001cff,#001eff,#001fff,#001eff,#001cff,#001aff,#0017ff,#0014ff,#0011ff,#000eff,#000aff,#0006ff,#0002ff,#0000fc,#0000f7,#0000f2,#0000ec,#0000e7,#0000e2,#0000de)"></i>
<i style="background:linear-gradient(90deg,#0000eb,#0000ef,#0000f4,#0000f9,#0000ff,#0006ff,#000bff,#000fff,#0013ff,#0017ff,#001bff,#001fff,#0022ff,#0026ff,#0029ff,#002dff,#0030ff,#0032ff,#0034ff,#0035ff,#0036ff,#0036ff,#0036ff,#0035ff,#0034ff,#0031ff,#002dff,#0026ff,#001fff,#0017ff,#0010ff,#000aff,#0005ff,#0002ff,#0000ff,#0000fd,#0000fa,#0000f6,#0000f1,#0000e9,#0000e0,#0000d6,#0000ce,#0000c8,#0000c5,#0000c6,#0000c9,#0000cf,#0000d6,#0000de,#0000e6,#0000ef,#0000f8,#0002ff,#0009ff,#000fff,#0013ff,#0015ff,#0016ff,#0015ff,#0013ff,#0012ff,#0010ff,#000dff,#000bff,#0008ff,#0005ff,#0002ff,#0000fd,#0000f9,#0000f5,#0000f0,#0000eb,#0000e5,#0000e0,#0000dc)"></i>
<i style="background:linear-gradient(90deg,#0000e7,#0000eb,#0000ef,#0000f4,#0000f9,#0000fe,#0003ff,#0006ff,#0009ff,#000cff,#000fff,#0012ff,#0015ff,#0018ff,#001bff,#001eff,#0021ff,#0023ff,#0025ff,#0026ff,#0026ff,#0025ff,#0023ff,#0021ff,#001fff,#001bff,#0017ff,#0012ff,#000dff,#0007ff,#0002ff,#0000fe,#0000fb,#0000f9,#0000f7,#0000f6,#0000f4,#0000f2,#0000ee,#0000e9,#0000e3,#0000dd,#0000d7,#0000d4,#0000d2,#0000d2,#0000d4,#0000d7,#0000dc,#0000e1,#0000e7,#0000ee,#0000f5,#0000fc,#0003ff,#0008ff,#000cff,#000eff,#000eff,#000eff,#000dff,#000bff,#000aff,#0008ff,#0006ff,#0004ff,#0002ff,#0000fe,#0000fb,#0000f7,#0000f3,#0000ee,#0000e9,#0000e3,#0000df,#0000db)"></i>
<i style="background:linear-gradient(90deg,#0000e4,#0000e7,#0000eb,#0000ef,#0000f4,#0000f8,#0000fb,#0000fe,#0001ff,#0003ff,#0005ff,#0007ff,#0009ff,#000cff,#000fff,#0011ff,#0014ff,#0016ff,#0018ff,#0018ff,#0017ff,#0016ff,#0014ff,#0011ff,#000eff,#000bff,#0007ff,#0004ff,#0000ff,#0000fc,#0000f9,#0000f7,#0000f5,#0000f4,#0000f3,#0000f2,#0000f1,#0000f0,#0000ee,#0000ec,#0000ea,#0000e8,#0000e5,#0000e4,#0000e3,#0000e3,#0000e3,#0000e3,#0000e4,#0000e6,#0000e9,#0000ec,#0000f1,#0000f6,#0000fc,#0001ff,#0004ff,#0006ff,#0007ff,#0007ff,#0007ff,#0006ff,#0005ff,#0004ff,#0002ff,#0001ff,#0000fd,#0000fb,#0000f8,#0000f4,#0000f0,#0000ec,#0000e7,#0000e2,#0000dd,#0000d9)"></i>
<i style="background:linear-gradient(90deg,#0000e1,#0000e4,#0000e8,#0000ec,#0000ef,#0000f3,#0000f6,#0000f8,#0000fa,#0000fb,#0000fd,#0000fe,#0001ff,#0003ff,#0005ff,#0007ff,#000aff,#000bff,#000cff,#000dff,#000cff,#000aff,#0008ff,#0006ff,#0003ff,#0001ff,#0000fd,#0000fa,#0000f8,#0000f5,#0000f4,#0000f2,#0000f1,#0000f0,#0000f0,#0000ef,#0000ee,#0000ee,#0000ed,#0000ec,#0000ea,#0000e9,#0000e8,#0000e7,#0000e6,#0000e6,#0000e6,#0000e6,#0000e6,#0000e7,#0000e8,#0000eb,#0000ee,#0000f3,#0000f7,#0000fb,#0000fd,#0000ff,#0001ff,#0001ff,#0001ff,#0001ff,#0001ff,#0000ff,#0000fe,#0000fd,#0000fb,#0000f8,#0000f6,#0000f2,#0000ee,#0000ea,#0000e5,#0000e0,#0000db,#0000d8)"></i>
<i style="background:linear-gradient(90deg,#0000df,#0000e1,#0000e5,#0000e9,#0000ec,#0000ef,#0000f2,#0000f4,#0000f5,#0000f6,#0000f7,#0000f8,#0000fa,#0000fb,#0000fd,#0000fe,#0001ff,#0002ff,#0003ff,#0003ff,#0002ff,#0001ff,#0000fe,#0000fc,#0000fa,#0000f8,#0000f6,#0000f4,#0000f2,#0000f0,#0000ef,#0000ee,#0000ed,#0000ec,#0000ec,#0000ec,#0000eb,#0000eb,#0000ea,#0000ea,#0000e9,#0000e8,#0000e7,#0000e6,#0000e6,#0000e6,#0000e6,#0000e6,#0000e6,#0000e6,#0000e8,#0000ea,#0000ed,#0000f0,#0000f4,#0000f7,#0000f9,#0000fb,#0000fc,#0000fc,#0000fd,#0000fd,#0000fc,#0000fc,#0000fb,#0000fa,#0000f8,#0000f6,#0000f3,#0000f0,#0000ed,#0000e8,#0000e4,#0000df,#0000da,#0000d7)"></i>
<i style="background:linear-gradient(90deg,#0000dc,#0000df,#0000e2,#0000e6,#0000e9,#0000ec,#0000ee,#0000f0,#0000f1,#0000f2,#0000f3,#0000f3,#0000f4,#0000f5,#0000f6,#0000f7,#0000f8,#0000f9,#0000f9,#0000f9,#0000f9,#0000f8,#0000f7,#0000f5,#0000f3,#0000f1,#0000ef,#0000ed,#0000eb,#0000ea,#0000e8,#0000e7,#0000e7,#0000e6,#0000e6,#0000e6,#0000e6,#0000e6,#0000e6,#0000e6,#0000e6,#0000e6,#0000e6,#0000e6,#0000e6,#0000e6,#0000e6,#0000e6,#0000e6,#0000e6,#0000e8,#0000e9,#0000ec,#0000ef,#0000f2,#0000f5,#0000f7,#0000f9,#0000fa,#0000fa,#0000fa,#0000fa,#0000fa,#0000f9,#0000f8,#0000f7,#0000f6,#0000f3,#0000f1,#0000ee,#0000eb,#0000e7,#0000e2,#0000de,#0000d9,#0000d6)"></i>
<i style="background:linear-gradient(90deg,#0000da,#0000dc,#0000e0,#0000e3,#0000e6,#0000e9,#0000eb,#0000ec,#0000ed,#0000ee,#0000ee,#0000ef,#0000ef,#0000f0,#0000f1,#0000f1,#0000f2,#0000f3,#0000f3,#0000f3,#0000f2,#0000f2,#0000f1,#0000ef,#0000ed,#0000eb,#0000e9,#0000e6,#0000e3,#0000e0,#0000de,#0000dc,#0000da,#0000d9,#0000d9,#0000d8,#0000d8,#0000d8,#0000d9,#0000da,#0000db,#0000dc,#0000dd,#0000df,#0000e0,#0000e1,#0000e2,#0000e3,#0000e4,#0000e5,#0000e7,#0000ea,#0000ed,#0000f0,#0000f3,#0000f6,#0000f8,#0000f9,#0000f9,#0000f9,#0000f9,#0000f8,#0000f7,#0000f7,#0000f6,#0000f4,#0000f3,#0000f1,#0000ef,#0000ec,#0000e9,#0000e5,#0000e1,#0000dd,#0000d9,#0000d6)"></i>
<i style="background:linear-gradient(90deg,#0000d7,#0000d9,#0000dd,#0000e0,#0000e3,#0000e5,#0000e7,#0000e8,#0000e9,#0000e9,#0000e9,#0000ea,#0000ea,#0000ea,#0000eb,#0000ec,#0000ec,#0000ed,#0000ed,#0000ed,#0000ed,#0000ec,#0000ec,#0000ea,#0000e9,#0000e6,#0000e3,#0000df,#0000db,#0000d6,#0000d2,#0000ce,#0000cb,#0000c9,#0000c7,#0000c6,#0000c5,#0000c5,#0000c5,#0000c7,#0000c9,#0000cc,#0000cf,#0000d2,#0000d5,#0000d8,#0000db,#0000dd,#0000e0,#0000e3,#0000e6,#0000ea,#0000ed,#0000f1,#0000f4,#0000f6,#0000f8,#0000f8,#0000f8,#0000f8,#0000f7,#0000f6,#0000f5,#0000f4,#0000f3,#0000f1,#0000f0,#0000ee,#0000ec,#0000e9,#0000e7,#0000e3,#0000e0,#0000dc,#0000d9,#0000d6)"></i>
<i style="background:linear-gradient(90deg,#0000d4,#0000d6,#0000d9,#0000dc,#0000df,#0000e1,#0000e3,#0000e3,#0000e4,#0000e4,#0000e4,#0000e4,#0000e4,#0000e4,#0000e5,#0000e6,#0000e7,#0000e7,#0000e8,#0000e8,#0000e8,#0000e8,#0000e7,#0000e6,#0000e5,#0000e2,#0000df,#0000dc,#0000d7,#0000d2,#0000ce,#0000ca,#0000c7,#0000c4,#0000c2,#0000c0,#0000bf,#0000bf,#0000c0,#0000c1,#0000c4,#0000c7,#0000cb,#0000ce,#0000d2,#0000d5,#0000d9,#0000dc,#0000df,#0000e3,#0000e6,#0000ea,#0000ed,#0000f1,#0000f4,#0000f6,#0000f8,#0000f8,#0000f8,#0000f7,#0000f6,#0000f5,#0000f3,#0000f2,#0000f0,#0000ef,#0000ed,#0000eb,#0000ea,#0000e7,#0000e5,#0000e2,#0000df,#0000dc,#0000da,#0000d7)"></i>
<i style="background:linear-gradient(90deg,#0000cf,#0000d2,#0000d5,#0000d8,#0000da,#0000dc,#0000dd,#0000de,#0000de,#0000de,#0000dd,#0000dd,#0000dd,#0000dd,#0000de,#0000df,#0000e0,#0000e2,#0000e2,#0000e3,#0000e3,#0000e3,#0000e3,#0000e3,#0000e2,#0000e1,#0000df,#0000dd,#0000da,#0000d6,#0000d3,#0000d0,#0000cd,#0000ca,#0000c8,#0000c6,#0000c5,#0000c4,#0000c5,#0000c7,#0000ca,#0000cd,#0000d1,#0000d5,#0000d8,#0000db,#0000de,#0000e0,#0000e2,#0000e5,#0000e8,#0000eb,#0000ee,#0000f1,#0000f4,#0000f6,#0000f7,#0000f8,#0000f7,#0000f6,#0000f5,#0000f3,#0000f2,#0000f0,#0000ee,#0000ed,#0000eb,#0000e9,#0000e8,#0000e6,#0000e4,#0000e1,#0000df,#0000dd,#0000db,#0000d9)"></i>
<i style="background:linear-gradient(90deg,#0000cb,#0000cd,#0000d0,#0000d3,#0000d5,#0000d7,#0000d8,#0000d8,#0000d8,#0000d7,#0000d6,#0000d6,#0000d5,#0000d6,#0000d6,#0000d8,#0000d9,#0000db,#0000dc,#0000dd,#0000de,#0000df,#0000df,#0000df,#0000df,#0000df,#0000df,#0000df,#0000de,#0000dd,#0000db,#0000da,#0000d8,#0000d6,#0000d3,#0000d1,#0000cf,#0000cf,#0000cf,#0000d1,#0000d4,#0000d8,#0000dc,#0000df,#0000e1,#0000e3,#0000e5,#0000e6,#0000e7,#0000e9,#0000eb,#0000ed,#0000ef,#0000f2,#0000f4,#0000f6,#0000f8,#0000f8,#0000f7,#0000f6,#0000f5,#0000f3,#0000f1,#0000ef,#0000ed,#0000ec,#0000ea,#0000e8,#0000e7,#0000e5,#0000e3,#0000e2,#0000e0,#0000de,#0000dd,#0000dc)"></i>
<i style="background:linear-gradient(90deg,#0000c5,#0000c8,#0000ca,#0000cd,#0000cf,#0000d1,#0000d2,#0000d2,#0000d1,#0000d0,#0000cf,#0000ce,#0000cd,#0000cd,#0000ce,#0000cf,#0000d0,#0000d2,#0000d4,#0000d5,#0000d7,#0000d8,#0000da,#0000db,#0000dc,#0000dd,#0000df,#0000e0,#0000e1,#0000e2,#0000e2,#0000e2,#0000e2,#0000e0,#0000df,#0000de,#0000dc,#0000dc,#0000dc,#0000de,#0000e0,#0000e2,#0000e5,#0000e7,#0000e9,#0000ea,#0000eb,#0000ec,#0000ed,#0000ee,#0000ef,#0000f0,#0000f3,#0000f5,#0000f7,#0000f9,#0000fa,#0000fa,#0000fa,#0000f9,#0000f7,#0000f5,#0000f4,#0000f2,#0000f0,#0000ee,#0000ed,#0000eb,#0000e9,#0000e8,#0000e6,#0000e5,#0000e3,#0000e2,#0000e1,#0000e0)"></i>
<i style="background:linear-gradient(90deg,#0000c0,#0000c2,#0000c5,#0000c7,#0000c9,#0000cb,#0000cb,#0000cb,#0000ca,#0000c9,#0000c8,#0000c6,#0000c5,#0000c5,#0000c5,#0000c6,#0000c7,#0000c8,#0000c9,#0000cb,#0000cd,#0000cf,#0000d2,#0000d4,#0000d7,#0000d9,#0000db,#0000de,#0000e0,#0000e2,#0000e3,#0000e5,#0000e6,#0000e7,#0000e7,#0000e8,#0000e9,#0000ea,#0000eb,#0000ec,#0000ed,#0000ee,#0000ef,#0000f0,#0000f1,#0000f1,#0000f2,#0000f2,#0000f3,#0000f4,#0000f5,#0000f7,#0000fa,#0000fd,#0001ff,#0003ff,#0005ff,#0006ff,#0006ff,#0005ff,#0004ff,#0002ff,#0001ff,#0000fe,#0000fc,#0000fb,#0000f9,#0000f7,#0000f5,#0000f3,#0000f2,#0000f0,#0000ef,#0000ed,#0000ec,#0000eb)"></i>
<i style="background:linear-gradient(90deg,#0000bb,#0000bd,#0000bf,#0000c1,#0000c3,#0000c4,#0000c4,#0000c4,#0000c3,#0000c2,#0000c0,#0000bf,#0000be,#0000bd,#0000bd,#0000bd,#0000bd,#0000be,#0000bf,#0000c0,#0000c1,#0000c4,#0000c6,#0000c9,#0000cc,#0000cf,#0000d3,#0000d6,#0000da,#0000dd,#0000e1,#0000e5,#0000e9,#0000ed,#0000f1,#0000f4,#0000f7,#0000f9,#0000fa,#0000fb,#0000fb,#0000fb,#0000fb,#0000fb,#0000fb,#0000fb,#0000fb,#0000fb,#0000fb,#0000fc,#0000fe,#0002ff,#0005ff,#000aff,#000fff,#0013ff,#0016ff,#0017ff,#0018ff,#0018ff,#0017ff,#0016ff,#0015ff,#0014ff,#0012ff,#0010ff,#000eff,#000cff,#000aff,#0007ff,#0005ff,#0003ff,#0001ff,#0000fe,#0000fc,#0000fb)"></i>
<i style="background:linear-gradient(90deg,#0000b6,#0000b7,#0000b9,#0000ba,#0000bb,#0000bb,#0000bb,#0000bb,#0000ba,#0000b8,#0000b7,#0000b6,#0000b5,#0000b4,#0000b4,#0000b4,#0000b4,#0000b4,#0000b5,#0000b5,#0000b7,#0000b8,#0000ba,#0000bd,#0000c0,#0000c4,#0000c8,#0000cd,#0000d2,#0000d8,#0000de,#0000e5,#0000ed,#0000f5,#0000fd,#0005ff,#000bff,#0010ff,#0012ff,#0013ff,#0014ff,#0014ff,#0014ff,#0014ff,#0014ff,#0014ff,#0015ff,#0016ff,#0018ff,#0019ff,#001cff,#001fff,#0022ff,#0026ff,#0029ff,#002cff,#002eff,#0030ff,#0030ff,#0030ff,#0030ff,#0030ff,#002fff,#002eff,#002cff,#002aff,#0028ff,#0025ff,#0023ff,#0020ff,#001dff,#001aff,#0017ff,#0014ff,#0012ff,#0010ff)"></i>
<i style="background:linear-gradient(90deg,#0000b3,#0000b2,#0000b2,#0000b2,#0000b1,#0000b1,#0000b0,#0000af,#0000ae,#0000ad,#0000ac,#0000ac,#0000ab,#0000ab,#0000ab,#0000ab,#0000ab,#0000ab,#0000ac,#0000ad,#0000ae,#0000af,#0000b1,#0000b3,#0000b6,#0000ba,#0000be,#0000c4,#0000cb,#0000d3,#0000dc,#0000e7,#0000f3,#0001ff,#000eff,#001bff,#0026ff,#002eff,#0033ff,#0035ff,#0037ff,#0037ff,#0037ff,#0038ff,#003aff,#003cff,#003fff,#0042ff,#0045ff,#0048ff,#004aff,#004cff,#004cff,#004cff,#004cff,#004cff,#004cff,#004cff,#004cff,#004cff,#004cff,#004cff,#004cff,#004bff,#004aff,#0048ff,#0045ff,#0042ff,#003fff,#003cff,#0038ff,#0034ff,#0030ff,#002dff,#0029ff,#0026ff)"></i>
<i style="background:linear-gradient(90deg,#0000b0,#0000af,#0000ad,#0000ab,#0000a9,#0000a7,#0000a6,#0000a5,#0000a4,#0000a4,#0000a3,#0000a3,#0000a3,#0000a3,#0000a3,#0000a3,#0000a3,#0000a3,#0000a4,#0000a5,#0000a6,#0000a7,#0000aa,#0000ad,#0000b0,#0000b5,#0000bb,#0000c3,#0000cc,#0000d7,#0000e4,#0000f3,#0005ff,#0017ff,#002bff,#003dff,#004cff,#0058ff,#005fff,#0063ff,#0065ff,#0065ff,#0066ff,#0068ff,#006aff,#006fff,#0074ff,#007bff,#0081ff,#0087ff,#008aff,#008bff,#008bff,#008aff,#0089ff,#0087ff,#0085ff,#0083ff,#0081ff,#0080ff,#007eff,#007cff,#007aff,#0077ff,#0074ff,#0070ff,#006cff,#0067ff,#0063ff,#005dff,#0058ff,#0053ff,#004dff,#0047ff,#0043ff,#003fff)"></i>
<i style="background:linear-gradient(90deg,#0000af,#0000ad,#0000aa,#0000a6,#0000a4,#0000a2,#0000a0,#00009f,#00009f,#00009f,#00009f,#00009e,#00009e,#00009e,#00009e,#00009f,#00009f,#00009f,#0000a0,#0000a2,#0000a6,#0000ac,#0000b3,#0000bc,#0000c6,#0000d2,#0000df,#0000ed,#0000fc,#000eff,#0020ff,#0033ff,#0047ff,#005cff,#0071ff,#0083ff,#0093ff,#009eff,#00a5ff,#00a9ff,#00abff,#00acff,#00adff,#00afff,#00b2ff,#00b7ff,#00beff,#00c7ff,#00cfff,#00d5ff,#00d9ff,#00dbff,#00dbff,#00daff,#00d8ff,#00d5ff,#00d2ff,#00cfff,#00cbff,#00c7ff,#00c3ff,#00bfff,#00baff,#00b6ff,#00b1ff,#00adff,#00a7ff,#00a2ff,#009cff,#0095ff,#008dff,#0084ff,#007bff,#0071ff,#0068ff,#0061ff)"></i>
<i style="background:linear-gradient(90deg,#0000ba,#0000b7,#0000b5,#0000b2,#0000b0,#0000ae,#0000ad,#0000ac,#0000ac,#0000ad,#0000ae,#0000af,#0000af,#0000b0,#0000b1,#0000b2,#0000b3,#0000b5,#0000b8,#0000bd,#0000c5,#0000d0,#0000de,#0000ed,#0000fe,#0010ff,#0022ff,#0033ff,#0045ff,#0057ff,#0069ff,#007dff,#0091ff,#00a6ff,#00baff,#00ccff,#00dbff,#00e6ff,#00ecff,#00f0ff,#00f2ff,#00f3ff,#00f4ff,#00f6ff,#00f9ff,#00ffff,#08fff7,#11ffee,#1affe5,#20ffdf,#24ffdb,#25ffda,#24ffdb,#20ffdf,#1cffe3,#16ffe9,#11ffee,#0cfff3,#08fff7,#03fffc,#00feff,#00faff,#00f6ff,#00f2ff,#00eeff,#00eaff,#00e5ff,#00e0ff,#00daff,#00d2ff,#00c8ff,#00bdff,#00afff,#00a2ff,#0095ff,#008aff)"></i>
<i style="background:linear-gradient(90deg,#0000e5,#0000e4,#0000e2,#0000e1,#0000e1,#0000e1,#0000e1,#0000e3,#0000e5,#0000e8,#0000ec,#0000f0,#0000f4,#0000f7,#0000fa,#0000fd,#0002ff,#0006ff,#000bff,#0013ff,#001dff,#002aff,#0039ff,#004aff,#005cff,#006eff,#007fff,#0090ff,#00a1ff,#00b2ff,#00c3ff,#00d3ff,#00e3ff,#00f2ff,#02fffd,#0efff1,#18ffe7,#1fffe0,#24ffdb,#26ffd9,#27ffd8,#28ffd7,#29ffd6,#2cffd3,#31ffce,#39ffc6,#43ffbc,#50ffaf,#5bffa4,#64ff9b,#68ff97,#68ff97,#63ff9c,#5bffa4,#52ffad,#49ffb6,#40ffbf,#39ffc6,#34ffcb,#2fffd0,#2affd5,#27ffd8,#23ffdc,#1fffe0,#1cffe3,#18ffe7,#15ffea,#10ffef,#0afff5,#02fffd,#00f7ff,#00ebff,#00dcff,#00cdff,#00beff,#00b3ff)"></i>
<i style="background:linear-gradient(90deg,#001bff,#001dff,#001eff,#0021ff,#0024ff,#0027ff,#002bff,#002fff,#0035ff,#003aff,#0041ff,#0047ff,#004eff,#0054ff,#005aff,#0061ff,#0068ff,#006fff,#0078ff,#0083ff,#0091ff,#00a0ff,#00b1ff,#00c1ff,#00d2ff,#00e1ff,#00eeff,#00fbff,#07fff8,#11ffee,#1bffe4,#24ffdb,#2effd1,#37ffc8,#40ffbf,#47ffb8,#4dffb2,#51ffae,#54ffab,#56ffa9,#56ffa9,#57ffa8,#58ffa7,#5bffa4,#61ff9e,#6aff95,#76ff89,#84ff7b,#91ff6e,#9aff65,#9fff60,#9eff61,#98ff67,#8eff71,#83ff7c,#77ff88,#6dff92,#65ff9a,#5effa1,#58ffa7,#53ffac,#4effb1,#4affb5,#46ffb9,#42ffbd,#3effc1,#3affc5,#35ffca,#2fffd0,#28ffd7,#1effe1,#13ffec,#05fffa,#00f6ff,#00e9ff,#00dfff)"></i>
<i style="background:linear-gradient(90deg,#0067ff,#006dff,#0075ff,#007eff,#0087ff,#0090ff,#0099ff,#00a1ff,#00a9ff,#00b0ff,#00b8ff,#00bfff,#00c6ff,#00cdff,#00d5ff,#00ddff,#00e5ff,#00edff,#00f6ff,#01fffe,#0bfff4,#16ffe9,#22ffdd,#2dffd2,#38ffc7,#41ffbe,#4affb5,#52ffad,#5affa5,#61ff9e,#67ff98,#6eff91,#74ff8b,#7bff84,#81ff7e,#86ff79,#8bff74,#8eff71,#90ff6f,#91ff6e,#91ff6e,#92ff6d,#93ff6c,#96ff69,#9bff64,#a3ff5c,#aeff51,#baff45,#c5ff3a,#ceff31,#d3ff2c,#d2ff2d,#cdff32,#c4ff3b,#baff45,#afff50,#a5ff5a,#9cff63,#93ff6c,#8cff73,#85ff7a,#7eff81,#78ff87,#72ff8d,#6cff93,#66ff99,#60ff9f,#59ffa6,#52ffad,#49ffb6,#3fffc0,#34ffcb,#28ffd7,#1cffe3,#11ffee,#08fff7)"></i>
<i style="background:linear-gradient(90deg,#00a6ff,#00b0ff,#00bcff,#00c9ff,#00d6ff,#00e2ff,#00ecff,#00f5ff,#00fdff,#05fffa,#0cfff3,#13ffec,#1bffe4,#23ffdc,#2cffd3,#36ffc9,#40ffbf,#4affb5,#55ffaa,#60ff9f,#6aff95,#75ff8a,#7eff81,#88ff77,#90ff6f,#97ff68,#9dff62,#a2ff5d,#a7ff58,#acff53,#b1ff4e,#b6ff49,#bdff42,#c4ff3b,#ccff33,#d3ff2c,#d9ff26,#ddff22,#e0ff1f,#e2ff1d,#e3ff1c,#e3ff1c,#e4ff1b,#e6ff19,#e9ff16,#eeff11,#f5ff0a,#fdff02,#fffa00,#fff400,#fff100,#fff200,#fff500,#fffb00,#fcff03,#f4ff0b,#ebff14,#e3ff1c,#dbff24,#d3ff2c,#caff35,#c2ff3d,#b9ff46,#afff50,#a5ff5a,#9aff65,#90ff6f,#84ff7b,#78ff87,#6cff93,#60ff9f,#53ffac,#47ffb8,#3bffc4,#30ffcf,#28ffd7)"></i>
<i style="background:linear-gradient(90deg,#00d6ff,#00e1ff,#00edff,#00fbff,#0afff5,#17ffe8,#22ffdd,#2cffd3,#34ffcb,#3bffc4,#43ffbc,#4affb5,#54ffab,#5fffa0,#6bff94,#7aff85,#89ff76,#98ff67,#a6ff59,#b3ff4c,#bfff40,#c9ff36,#d2ff2d,#daff25,#e0ff1f,#e6ff19,#eaff15,#eeff11,#f1ff0e,#f4ff0b,#f8ff07,#fdff02,#fffa00,#fff300,#ffea00,#ffe200,#ffdb00,#ffd500,#ffd200,#ffd000,#ffcf00,#ffce00,#ffce00,#ffcd00,#ffca00,#ffc700,#ffc200,#ffbc00,#ffb700,#ffb400,#ffb200,#ffb400,#ffb700,#ffbd00,#ffc400,#ffcc00,#ffd300,#ffdb00,#ffe100,#ffe800,#ffef00,#fff700,#feff01,#f3ff0c,#e6ff19,#d8ff27,#c8ff37,#b7ff48,#a7ff58,#97ff68,#87ff78,#77ff88,#69ff96,#5bffa4,#50ffaf,#47ffb8)"></i>
<i style="background:linear-gradient(90deg,#00fbff,#07fff8,#14ffeb,#24ffdb,#32ffcd,#40ffbf,#4dffb2,#58ffa7,#61ff9e,#6aff95,#73ff8c,#7dff82,#88ff77,#97ff68,#a8ff57,#bbff44,#cfff30,#e2ff1d,#f4ff0b,#fffc00,#fff000,#ffe700,#ffdf00,#ffd900,#ffd400,#ffcf00,#ffcc00,#ffc800,#ffc500,#ffc200,#ffbe00,#ffb900,#ffb300,#ffab00,#ffa300,#ff9b00,#ff9300,#ff8e00,#ff8b00,#ff8900,#ff8800,#ff8700,#ff8700,#ff8600,#ff8400,#ff8200,#ff7f00,#ff7b00,#ff7800,#ff7600,#ff7500,#ff7700,#ff7c00,#ff8300,#ff8a00,#ff9300,#ff9b00,#ffa300,#ffab00,#ffb300,#ffbb00,#ffc400,#ffce00,#ffd900,#ffe600,#fff500,#faff05,#e9ff16,#d8ff27,#c7ff38,#b5ff4a,#a3ff5c,#91ff6e,#80ff7f,#71ff8e,#65ff9a)"></i>
<i style="background:linear-gradient(90deg,#17ffe8,#23ffdc,#33ffcc,#44ffbb,#55ffaa,#66ff99,#75ff8a,#83ff7c,#8fff70,#9bff64,#a7ff58,#b4ff4b,#c4ff3b,#d7ff28,#eeff11,#fff700,#ffde00,#ffc800,#ffb500,#ffa800,#ff9e00,#ff9900,#ff9500,#ff9200,#ff8f00,#ff8c00,#ff8900,#ff8600,#ff8300,#ff7f00,#ff7b00,#ff7600,#ff6f00,#ff6700,#ff5f00,#ff5700,#ff5000,#ff4b00,#ff4800,#ff4700,#ff4600,#ff4500,#ff4500,#ff4500,#ff4400,#ff4300,#ff4200,#ff4100,#ff4000,#ff4000,#ff4100,#ff4400,#ff4a00,#ff5100,#ff5a00,#ff6400,#ff6d00,#ff7600,#ff7f00,#ff8800,#ff9100,#ff9b00,#ffa500,#ffb100,#ffbe00,#ffcc00,#ffdc00,#ffed00,#ffff00,#edff12,#d9ff26,#c5ff3a,#b0ff4f,#9dff62,#8bff74,#7dff82)"></i>
<i style="background:linear-gradient(90deg,#2cffd3,#3affc5,#4bffb4,#5fffa0,#72ff8d,#85ff7a,#96ff69,#a6ff59,#b5ff4a,#c3ff3c,#d1ff2e,#e1ff1e,#f3ff0c,#fff500,#ffdc00,#ffc100,#ffa600,#ff8d00,#ff7a00,#ff6b00,#ff6200,#ff5c00,#ff5900,#ff5600,#ff5300,#ff5100,#ff4e00,#ff4a00,#ff4600,#ff4200,#ff3d00,#ff3700,#ff3100,#ff2900,#ff2100,#ff1a00,#ff1300,#ff0e00,#ff0b00,#ff0a00,#ff0900,#ff0900,#ff0900,#ff0900,#ff0900,#ff0900,#ff0a00,#ff0a00,#ff0c00,#ff0d00,#ff1100,#ff1600,#ff1d00,#ff2500,#ff2f00,#ff3a00,#ff4600,#ff5100,#ff5c00,#ff6700,#ff7200,#ff7e00,#ff8b00,#ff9900,#ffa800,#ffb700,#ffc800,#ffd900,#ffec00,#ffff00,#ebff14,#d7ff28,#c2ff3d,#aeff51,#9cff63,#8eff71)"></i>
<i style="background:linear-gradient(90deg,#3fffc0,#4dffb2,#5effa1,#72ff8d,#86ff79,#99ff66,#aaff55,#bbff44,#caff35,#d8ff27,#e7ff18,#f7ff08,#fff500,#ffdf00,#ffc600,#ffab00,#ff9000,#ff7600,#ff6000,#ff4e00,#ff4100,#ff3600,#ff2e00,#ff2700,#ff2100,#ff1c00,#ff1700,#ff1300,#ff0e00,#ff0a00,#ff0500,#fe0000,#f80000,#f00000,#e80000,#e10000,#db0000,#d60000,#d30000,#d20000,#d10000,#d10000,#d10000,#d20000,#d30000,#d50000,#d80000,#dc0000,#e20000,#e80000,#ee0000,#f60000,#ff0000,#ff0a00,#ff1400,#ff1f00,#ff2b00,#ff3600,#ff4300,#ff5000,#ff5d00,#ff6b00,#ff7900,#ff8800,#ff9800,#ffa800,#ffb900,#ffcb00,#ffdd00,#fff000,#faff05,#e6ff19,#d1ff2e,#bdff42,#acff53,#9eff61)"></i>
<i style="background:linear-gradient(90deg,#51ffae,#5fffa0,#70ff8f,#83ff7c,#97ff68,#aaff55,#bbff44,#ccff33,#dbff24,#eaff15,#f9ff06,#fff500,#ffe200,#ffcd00,#ffb400,#ff9900,#ff7d00,#ff6300,#ff4c00,#ff3900,#ff2a00,#ff1f00,#ff1500,#ff0d00,#ff0500,#fe0000,#f70000,#f20000,#ec0000,#e60000,#e00000,#d90000,#d10000,#c90000,#c00000,#b80000,#b10000,#ac0000,#a90000,#a70000,#a70000,#a60000,#a70000,#a80000,#ab0000,#af0000,#b60000,#be0000,#c70000,#d10000,#dc0000,#e60000,#f10000,#fb0000,#ff0700,#ff1200,#ff1e00,#ff2a00,#ff3600,#ff4300,#ff5000,#ff5e00,#ff6c00,#ff7c00,#ff8c00,#ff9c00,#ffae00,#ffc000,#ffd200,#ffe600,#fffa00,#f0ff0f,#dcff23,#c9ff36,#b7ff48,#aaff55)"></i>
<i style="background:linear-gradient(90deg,#5fffa0,#6dff92,#7dff82,#90ff6f,#a3ff5c,#b6ff49,#c8ff37,#d8ff27,#e7ff18,#f6ff09,#fff900,#ffe900,#ffd600,#ffc100,#ffa800,#ff8d00,#ff7100,#ff5700,#ff4000,#ff2c00,#ff1d00,#ff1000,#ff0500,#fb0000,#f20000,#ea0000,#e20000,#db0000,#d30000,#cc0000,#c40000,#bc0000,#b40000,#ab0000,#a30000,#9b0000,#940000,#900000,#8d0000,#8b0000,#8b0000,#8b0000,#8b0000,#8d0000,#910000,#970000,#9f0000,#aa0000,#b60000,#c30000,#cf0000,#db0000,#e70000,#f20000,#fd0000,#ff0a00,#ff1500,#ff2100,#ff2e00,#ff3b00,#ff4900,#ff5700,#ff6600,#ff7500,#ff8600,#ff9700,#ffa800,#ffbb00,#ffce00,#ffe100,#fff500,#f5ff0a,#e1ff1e,#cdff32,#bdff42,#afff50)"></i>
<i style="background:linear-gradient(90deg,#66ff99,#73ff8c,#83ff7c,#96ff69,#a9ff56,#bbff44,#cdff32,#ddff22,#ecff13,#faff05,#fff500,#ffe500,#ffd300,#ffbd00,#ffa500,#ff8a00,#ff6e00,#ff5400,#ff3d00,#ff2900,#ff1900,#ff0b00,#ff0000,#f50000,#ec0000,#e40000,#db0000,#d30000,#cb0000,#c30000,#bb0000,#b30000,#aa0000,#a10000,#990000,#910000,#8a0000,#860000,#830000,#810000,#810000,#810000,#810000,#830000,#880000,#8e0000,#980000,#a40000,#b20000,#c00000,#cd0000,#da0000,#e60000,#f20000,#fd0000,#ff0900,#ff1500,#ff2200,#ff2f00,#ff3c00,#ff4a00,#ff5900,#ff6800,#ff7800,#ff8800,#ff9900,#ffab00,#ffbd00,#ffd000,#ffe400,#fff800,#f2ff0d,#deff21,#caff35,#b9ff46,#acff53)"></i>
<i style="background:linear-gradient(90deg,#60ff9f,#6dff92,#7dff82,#90ff6f,#a3ff5c,#b5ff4a,#c5ff3a,#d5ff2a,#e3ff1c,#f0ff0f,#feff01,#fff000,#ffdf00,#ffc900,#ffb100,#ff9500,#ff7900,#ff5e00,#ff4600,#ff3200,#ff2100,#ff1400,#ff0900,#fe0000,#f60000,#ee0000,#e70000,#e10000,#da0000,#d40000,#cd0000,#c60000,#bf0000,#b60000,#ae0000,#a70000,#a00000,#9c0000,#990000,#970000,#970000,#970000,#980000,#990000,#9d0000,#a20000,#aa0000,#b40000,#c00000,#cd0000,#d90000,#e50000,#f10000,#fd0000,#ff0a00,#ff1600,#ff2300,#ff3000,#ff3e00,#ff4c00,#ff5a00,#ff6900,#ff7800,#ff8700,#ff9700,#ffa700,#ffb700,#ffc800,#ffda00,#ffed00,#feff01,#e9ff16,#d5ff2a,#c1ff3e,#afff50,#a1ff5e)"></i>
<i style="background:linear-gradient(90deg,#4fffb0,#5bffa4,#6cff93,#7eff81,#90ff6f,#a1ff5e,#b1ff4e,#bfff40,#cdff32,#d9ff26,#e6ff19,#f5ff0a,#fff800,#ffe300,#ffca00,#ffae00,#ff9100,#ff7500,#ff5c00,#ff4700,#ff3600,#ff2900,#ff1e00,#ff1500,#ff0d00,#ff0700,#ff0200,#fc0000,#f90000,#f50000,#f00000,#eb0000,#e50000,#de0000,#d60000,#ce0000,#c80000,#c30000,#c00000,#bf0000,#be0000,#be0000,#be0000,#bf0000,#c20000,#c50000,#cb0000,#d20000,#da0000,#e40000,#ee0000,#f90000,#ff0600,#ff1200,#ff1f00,#ff2d00,#ff3a00,#ff4800,#ff5600,#ff6500,#ff7300,#ff8200,#ff9000,#ff9e00,#ffad00,#ffbb00,#ffc900,#ffd900,#ffe900,#fffb00,#f0ff0f,#dcff23,#c7ff38,#b2ff4d,#a0ff5f,#91ff6e)"></i>
<i style="background:linear-gradient(90deg,#38ffc7,#45ffba,#54ffab,#65ff9a,#77ff88,#87ff78,#96ff69,#a4ff5b,#b0ff4f,#bcff43,#c8ff37,#d5ff2a,#e6ff19,#fbff04,#ffe900,#ffcd00,#ffb000,#ff9500,#ff7e00,#ff6c00,#ff5f00,#ff5600,#ff4f00,#ff4b00,#ff4700,#ff4400,#ff4200,#ff4100,#ff3f00,#ff3d00,#ff3b00,#ff3700,#ff3100,#ff2900,#ff1f00,#ff1500,#ff0d00,#ff0600,#ff0200,#fe0000,#fd0000,#fd0000,#fe0000,#ff0000,#ff0200,#ff0500,#ff0b00,#ff1200,#ff1a00,#ff2300,#ff2d00,#ff3800,#ff4300,#ff4f00,#ff5b00,#ff6700,#ff7300,#ff7f00,#ff8a00,#ff9500,#ffa000,#ffaa00,#ffb500,#ffc000,#ffcb00,#ffd600,#ffe200,#ffef00,#fffd00,#f1ff0e,#dfff20,#cbff34,#b6ff49,#a1ff5e,#8eff71,#7fff80)"></i>
<i style="background:linear-gradient(90deg,#22ffdd,#2dffd2,#3cffc3,#4cffb3,#5cffa3,#6aff95,#77ff88,#82ff7d,#8cff73,#95ff6a,#9eff61,#a7ff58,#b1ff4e,#bdff42,#cbff34,#daff25,#e9ff16,#faff05,#fff500,#ffe600,#ffd700,#ffca00,#ffbf00,#ffb500,#ffad00,#ffa700,#ffa400,#ffa200,#ffa000,#ff9f00,#ff9c00,#ff9800,#ff9100,#ff8700,#ff7c00,#ff7000,#ff6500,#ff5d00,#ff5700,#ff5400,#ff5300,#ff5300,#ff5300,#ff5400,#ff5700,#ff5b00,#ff6100,#ff6900,#ff7200,#ff7b00,#ff8400,#ff8e00,#ff9600,#ff9f00,#ffa800,#ffb000,#ffb900,#ffc100,#ffca00,#ffd200,#ffdb00,#ffe400,#ffed00,#fff700,#fcff03,#f1ff0e,#e5ff1a,#d8ff27,#caff35,#bbff44,#acff53,#9bff64,#8aff75,#7aff85,#6bff94,#5fffa0)"></i>
<i style="background:linear-gradient(90deg,#05fffa,#0ffff0,#1bffe4,#28ffd7,#35ffca,#41ffbe,#4bffb4,#54ffab,#5cffa3,#63ff9c,#6aff95,#70ff8f,#78ff87,#80ff7f,#89ff76,#93ff6c,#9eff61,#a9ff56,#b4ff4b,#c0ff3f,#cbff34,#d6ff29,#e0ff1f,#e9ff16,#efff10,#f4ff0b,#f6ff09,#f7ff08,#f8ff07,#f9ff06,#fbff04,#feff01,#fff900,#fff000,#ffe500,#ffd900,#ffce00,#ffc500,#ffc000,#ffbd00,#ffbb00,#ffbb00,#ffbc00,#ffbd00,#ffc000,#ffc500,#ffcb00,#ffd300,#ffdc00,#ffe400,#ffeb00,#fff000,#fff500,#fff900,#fffd00,#fdff02,#f9ff06,#f3ff0c,#ecff13,#e5ff1a,#dcff23,#d3ff2c,#c9ff36,#beff41,#b3ff4c,#a7ff58,#9aff65,#8eff71,#81ff7e,#75ff8a,#68ff97,#5cffa3,#50ffaf,#45ffba,#3cffc3,#35ffca)"></i>
<i style="background:linear-gradient(90deg,#00e2ff,#00e9ff,#00f2ff,#00fbff,#06fff9,#10ffef,#19ffe6,#21ffde,#28ffd7,#2fffd0,#35ffca,#3cffc3,#42ffbd,#49ffb6,#50ffaf,#58ffa7,#5fffa0,#66ff99,#6eff91,#75ff8a,#7cff83,#83ff7c,#8aff75,#8fff70,#93ff6c,#96ff69,#98ff67,#99ff66,#99ff66,#9aff65,#9bff64,#9eff61,#a4ff5b,#acff53,#b6ff49,#c1ff3e,#cbff34,#d2ff2d,#d7ff28,#daff25,#dbff24,#dbff24,#dbff24,#daff25,#d7ff28,#d3ff2c,#ceff31,#c7ff38,#c0ff3f,#b9ff46,#b3ff4c,#adff52,#a9ff56,#a6ff59,#a2ff5d,#9eff61,#9aff65,#96ff69,#91ff6e,#8bff74,#84ff7b,#7dff82,#76ff89,#6eff91,#65ff9a,#5cffa3,#52ffad,#49ffb6,#3fffc0,#35ffca,#2cffd3,#23ffdc,#1affe5,#12ffed,#0bfff4,#06fff9)"></i>
<i style="background:linear-gradient(90deg,#00bcff,#00c1ff,#00c7ff,#00ceff,#00d6ff,#00ddff,#00e4ff,#00ecff,#00f3ff,#00f9ff,#01fffe,#07fff8,#0dfff2,#12ffed,#16ffe9,#1affe5,#1fffe0,#23ffdc,#28ffd7,#2dffd2,#33ffcc,#3affc5,#40ffbf,#46ffb9,#4bffb4,#4effb1,#4fffb0,#50ffaf,#51ffae,#51ffae,#53ffac,#55ffaa,#59ffa6,#5fffa0,#66ff99,#6eff91,#75ff8a,#7bff84,#7eff81,#80ff7f,#81ff7e,#81ff7e,#81ff7e,#80ff7f,#7eff81,#7bff84,#77ff88,#71ff8e,#6bff94,#66ff99,#61ff9e,#5dffa2,#59ffa6,#56ffa9,#54ffab,#51ffae,#4effb1,#4affb5,#46ffb9,#41ffbe,#3bffc4,#35ffca,#2fffd0,#27ffd8,#1fffe0,#16ffe9,#0cfff3,#03fffc,#00f8ff,#00f0ff,#00e7ff,#00e0ff,#00d9ff,#00d2ff,#00cdff,#00c9ff)"></i>
<i style="background:linear-gradient(90deg,#008fff,#0093ff,#0097ff,#009cff,#00a1ff,#00a7ff,#00adff,#00b3ff,#00baff,#00c1ff,#00c8ff,#00cdff,#00d2ff,#00d6ff,#00d9ff,#00dbff,#00ddff,#00e0ff,#00e3ff,#00e8ff,#00eeff,#00f6ff,#00feff,#07fff8,#0dfff2,#11ffee,#14ffeb,#15ffea,#16ffe9,#16ffe9,#18ffe7,#1affe5,#1dffe2,#23ffdc,#2affd5,#31ffce,#37ffc8,#3cffc3,#40ffbf,#41ffbe,#42ffbd,#42ffbd,#42ffbd,#41ffbe,#3fffc0,#3bffc4,#36ffc9,#30ffcf,#2affd5,#24ffdb,#1fffe0,#1affe5,#16ffe9,#13ffec,#10ffef,#0cfff3,#08fff7,#03fffc,#00fdff,#00f6ff,#00efff,#00e7ff,#00deff,#00d5ff,#00cbff,#00c1ff,#00b6ff,#00acff,#00a3ff,#009bff,#0094ff,#008eff,#0089ff,#0085ff,#0082ff,#0080ff)"></i>
<i style="background:linear-gradient(90deg,#0062ff,#0064ff,#0067ff,#006bff,#006fff,#0073ff,#0078ff,#007dff,#0083ff,#0089ff,#008eff,#0093ff,#0097ff,#0099ff,#009bff,#009cff,#009dff,#009fff,#00a1ff,#00a5ff,#00abff,#00b3ff,#00bbff,#00c4ff,#00caff,#00cfff,#00d2ff,#00d4ff,#00d4ff,#00d5ff,#00d6ff,#00d9ff,#00ddff,#00e3ff,#00ebff,#00f4ff,#00fbff,#02fffd,#06fff9,#08fff7,#09fff6,#09fff6,#08fff7,#06fff9,#02fffd,#00fbff,#00f3ff,#00e8ff,#00ddff,#00d3ff,#00caff,#00c3ff,#00bdff,#00b8ff,#00b3ff,#00afff,#00a9ff,#00a3ff,#009cff,#0095ff,#008cff,#0084ff,#007cff,#0073ff,#006bff,#0063ff,#005cff,#0055ff,#004fff,#004aff,#0046ff,#0043ff,#0041ff,#003fff,#003dff,#003cff)"></i>
<i style="background:linear-gradient(90deg,#003bff,#003dff,#003fff,#0042ff,#0045ff,#0049ff,#004cff,#0050ff,#0054ff,#0057ff,#005aff,#005dff,#005fff,#005fff,#005fff,#005fff,#005eff,#005eff,#005fff,#0062ff,#0067ff,#006eff,#0077ff,#007fff,#0086ff,#008bff,#008eff,#0090ff,#0090ff,#0091ff,#0092ff,#0094ff,#0098ff,#009dff,#00a4ff,#00abff,#00b2ff,#00b6ff,#00baff,#00bcff,#00bcff,#00bcff,#00bbff,#00b8ff,#00b3ff,#00aaff,#009eff,#0090ff,#0081ff,#0074ff,#0068ff,#0060ff,#005aff,#0055ff,#0051ff,#004cff,#0048ff,#0043ff,#003dff,#0036ff,#0030ff,#0029ff,#0022ff,#001cff,#0016ff,#0010ff,#000aff,#0005ff,#0001ff,#0000fc,#0000f9,#0000f7,#0000f5,#0000f4,#0000f3,#0000f2)"></i>
<i style="background:linear-gradient(90deg,#0018ff,#0019ff,#001bff,#001dff,#0020ff,#0022ff,#0024ff,#0026ff,#0028ff,#002aff,#002cff,#002dff,#002eff,#002eff,#002dff,#002cff,#002bff,#002aff,#002aff,#002cff,#0030ff,#0035ff,#003bff,#0040ff,#0045ff,#0049ff,#004bff,#004cff,#004dff,#004dff,#004eff,#0050ff,#0053ff,#0057ff,#005cff,#0062ff,#0067ff,#006bff,#006eff,#006fff,#0070ff,#006fff,#006eff,#006bff,#0064ff,#005aff,#004cff,#003bff,#0029ff,#0019ff,#000cff,#0002ff,#0000fa,#0000f4,#0000f0,#0000ec,#0000e8,#0000e3,#0000df,#0000db,#0000d7,#0000d3,#0000d0,#0000cc,#0000c9,#0000c6,#0000c4,#0000c2,#0000c0,#0000bf,#0000be,#0000bd,#0000bd,#0000bd,#0000bd,#0000bc)"></i>
<i style="background:linear-gradient(90deg,#0000f7,#0000f7,#0000f8,#0000f8,#0000f9,#0000fb,#0000fd,#0000ff,#0003ff,#0006ff,#000aff,#000dff,#000fff,#0010ff,#0010ff,#000fff,#000fff,#000eff,#000eff,#000fff,#0010ff,#0012ff,#0015ff,#0018ff,#001aff,#001cff,#001dff,#001dff,#001dff,#001eff,#001eff,#001fff,#0021ff,#0023ff,#0026ff,#002aff,#002dff,#002fff,#0030ff,#0031ff,#0031ff,#0031ff,#0030ff,#002eff,#0029ff,#0021ff,#0016ff,#000aff,#0000fc,#0000f0,#0000e7,#0000e0,#0000dc,#0000d8,#0000d6,#0000d3,#0000d1,#0000ce,#0000cb,#0000c8,#0000c5,#0000c2,#0000bf,#0000bd,#0000ba,#0000b8,#0000b7,#0000b5,#0000b4,#0000b4,#0000b3,#0000b3,#0000b3,#0000b3,#0000b3,#0000b3)"></i>
<i style="background:linear-gradient(90deg,#0000e4,#0000e4,#0000e4,#0000e4,#0000e4,#0000e5,#0000e6,#0000e7,#0000ea,#0000ed,#0000f1,#0000f4,#0000f7,#0000f8,#0000f9,#0000f9,#0000f9,#0000f8,#0000f8,#0000f9,#0000f9,#0000fa,#0000fb,#0000fc,#0000fd,#0000fd,#0000fe,#0000fe,#0000fe,#0000fe,#0000fe,#0000ff,#0000ff,#0001ff,#0003ff,#0004ff,#0005ff,#0006ff,#0007ff,#0007ff,#0007ff,#0007ff,#0007ff,#0005ff,#0002ff,#0000fd,#0000f6,#0000ef,#0000e7,#0000e1,#0000dc,#0000d8,#0000d6,#0000d4,#0000d3,#0000d2,#0000d1,#0000cf,#0000cd,#0000cb,#0000c9,#0000c6,#0000c4,#0000c2,#0000c0,#0000be,#0000bc,#0000ba,#0000b8,#0000b7,#0000b6,#0000b5,#0000b4,#0000b4,#0000b3,#0000b3)"></i>
<i style="background:linear-gradient(90deg,#0000d9,#0000d9,#0000d9,#0000d9,#0000d9,#0000da,#0000da,#0000dc,#0000dd,#0000e0,#0000e2,#0000e4,#0000e6,#0000e7,#0000e8,#0000e8,#0000e8,#0000e8,#0000e8,#0000e8,#0000e8,#0000e8,#0000e8,#0000e8,#0000e8,#0000e8,#0000e8,#0000e8,#0000e8,#0000e8,#0000e8,#0000e8,#0000e8,#0000e8,#0000e9,#0000e9,#0000e9,#0000e9,#0000e9,#0000e9,#0000e9,#0000e9,#0000e8,#0000e8,#0000e6,#0000e4,#0000e1,#0000dd,#0000d9,#0000d6,#0000d4,#0000d3,#0000d2,#0000d2,#0000d1,#0000d1,#0000d1,#0000d0,#0000cf,#0000cd,#0000cc,#0000ca,#0000c8,#0000c6,#0000c4,#0000c2,#0000c1,#0000bf,#0000bd,#0000bc,#0000ba,#0000b9,#0000b7,#0000b6,#0000b5,#0000b4)"></i>
<i style="background:linear-gradient(90deg,#0000d2,#0000d2,#0000d2,#0000d2,#0000d2,#0000d2,#0000d2,#0000d3,#0000d4,#0000d5,#0000d6,#0000d8,#0000d9,#0000d9,#0000d9,#0000da,#0000da,#0000da,#0000da,#0000da,#0000da,#0000da,#0000da,#0000d9,#0000d9,#0000d9,#0000d9,#0000d9,#0000d9,#0000d9,#0000d9,#0000d9,#0000d9,#0000d9,#0000d9,#0000d9,#0000d9,#0000d9,#0000d9,#0000d9,#0000d9,#0000d9,#0000d8,#0000d8,#0000d7,#0000d6,#0000d5,#0000d3,#0000d1,#0000d0,#0000cf,#0000ce,#0000ce,#0000ce,#0000cf,#0000cf,#0000cf,#0000ce,#0000cd,#0000cc,#0000cb,#0000c9,#0000c8,#0000c7,#0000c6,#0000c4,#0000c3,#0000c2,#0000c1,#0000c0,#0000bf,#0000be,#0000bc,#0000bb,#0000ba,#0000b9)"></i>
<i style="background:linear-gradient(90deg,#0000cc,#0000cc,#0000cc,#0000cc,#0000cc,#0000cc,#0000cc,#0000cc,#0000cc,#0000cd,#0000cd,#0000cd,#0000ce,#0000ce,#0000ce,#0000ce,#0000ce,#0000ce,#0000ce,#0000ce,#0000ce,#0000ce,#0000ce,#0000ce,#0000ce,#0000ce,#0000ce,#0000ce,#0000ce,#0000ce,#0000ce,#0000ce,#0000ce,#0000ce,#0000ce,#0000ce,#0000ce,#0000ce,#0000ce,#0000ce,#0000ce,#0000ce,#0000ce,#0000cd,#0000cd,#0000cd,#0000cc,#0000cc,#0000cb,#0000cb,#0000ca,#0000ca,#0000ca,#0000ca,#0000ca,#0000cb,#0000ca,#0000ca,#0000ca,#0000c9,#0000c9,#0000c8,#0000c7,#0000c7,#0000c7,#0000c6,#0000c6,#0000c6,#0000c6,#0000c5,#0000c5,#0000c4,#0000c4,#0000c4,#0000c3,#0000c3)"></i>
<i style="background:linear-gradient(90deg,#0000c5,#0000c5,#0000c5,#0000c5,#0000c5,#0000c5,#0000c5,#0000c5,#0000c5,#0000c5,#0000c5,#0000c5,#0000c5,#0000c5,#0000c5,#0000c5,#0000c5,#0000c5,#0000c5,#0000c5,#0000c5,#0000c5,#0000c5,#0000c5,#0000c5,#0000c5,#0000c5,#0000c5,#0000c5,#0000c5,#0000c5,#0000c5,#0000c5,#0000c5,#0000c5,#0000c5,#0000c5,#0000c5,#0000c5,#0000c5,#0000c5,#0000c5,#0000c5,#0000c5,#0000c5,#0000c5,#0000c5,#0000c5,#0000c6,#0000c6,#0000c6,#0000c6,#0000c6,#0000c6,#0000c6,#0000c6,#0000c6,#0000c6,#0000c6,#0000c6,#0000c6,#0000c7,#0000c7,#0000c7,#0000c7,#0000c7,#0000c7,#0000c7,#0000c7,#0000c7,#0000c7,#0000c7,#0000c7,#0000c7,#0000c7,#0000c7)"></i>
<i style="background:linear-gradient(90deg,#0000bf,#0000bf,#0000bf,#0000bf,#0000bf,#0000bf,#0000bf,#0000bf,#0000be,#0000be,#0000be,#0000be,#0000be,#0000be,#0000be,#0000be,#0000be,#0000be,#0000be,#0000be,#0000be,#0000be,#0000be,#0000be,#0000be,#0000be,#0000be,#0000be,#0000be,#0000be,#0000be,#0000be,#0000be,#0000be,#0000be,#0000be,#0000be,#0000be,#0000be,#0000be,#0000be,#0000be,#0000be,#0000be,#0000be,#0000be,#0000bf,#0000bf,#0000c0,#0000c0,#0000c0,#0000c0,#0000c0,#0000c0,#0000c0,#0000c0,#0000c1,#0000c1,#0000c1,#0000c2,#0000c2,#0000c3,#0000c3,#0000c3,#0000c4,#0000c4,#0000c4,#0000c4,#0000c4,#0000c4,#0000c4,#0000c4,#0000c4,#0000c4,#0000c4,#0000c4)"></i>
<i style="background:linear-gradient(90deg,#0000b9,#0000b9,#0000b9,#0000b9,#0000b9,#0000b8,#0000b8,#0000b8,#0000b8,#0000b8,#0000b8,#0000b8,#0000b8,#0000b8,#0000b8,#0000b8,#0000b8,#0000b8,#0000b8,#0000b8,#0000b8,#0000b8,#0000b8,#0000b8,#0000b8,#0000b8,#0000b8,#0000b8,#0000b8,#0000b8,#0000b8,#0000b8,#0000b8,#0000b8,#0000b8,#0000b8,#0000b8,#0000b8,#0000b8,#0000b8,#0000b8,#0000b8,#0000b8,#0000b8,#0000b8,#0000b8,#0000b8,#0000b9,#0000b9,#0000ba,#0000ba,#0000ba,#0000ba,#0000ba,#0000ba,#0000ba,#0000ba,#0000bb,#0000bb,#0000bc,#0000bc,#0000bd,#0000bd,#0000bd,#0000bd,#0000bd,#0000bd,#0000bd,#0000bd,#0000bd,#0000bd,#0000bd,#0000bd,#0000bd,#0000bd,#0000bd)"></i>
<i style="background:linear-gradient(90deg,#0000b3,#0000b3,#0000b3,#0000b3,#0000b3,#0000b3,#0000b3,#0000b3,#0000b2,#0000b2,#0000b2,#0000b2,#0000b2,#0000b2,#0000b2,#0000b2,#0000b2,#0000b2,#0000b2,#0000b2,#0000b2,#0000b2,#0000b2,#0000b2,#0000b2,#0000b2,#0000b2,#0000b2,#0000b2,#0000b2,#0000b2,#0000b2,#0000b2,#0000b2,#0000b2,#0000b2,#0000b2,#0000b2,#0000b2,#0000b2,#0000b2,#0000b2,#0000b2,#0000b2,#0000b2,#0000b2,#0000b3,#0000b3,#0000b3,#0000b3,#0000b3,#0000b4,#0000b4,#0000b4,#0000b4,#0000b4,#0000b4,#0000b4,#0000b4,#0000b5,#0000b5,#0000b5,#0000b5,#0000b6,#0000b6,#0000b6,#0000b6,#0000b6,#0000b6,#0000b6,#0000b6,#0000b6,#0000b6,#0000b6,#0000b6,#0000b6)"></i>
<i style="background:linear-gradient(90deg,#0000ad,#0000ad,#0000ad,#0000ad,#0000ad,#0000ad,#0000ad,#0000ad,#0000ad,#0000ad,#0000ad,#0000ad,#0000ad,#0000ad,#0000ad,#0000ad,#0000ad,#0000ad,#0000ad,#0000ad,#0000ad,#0000ad,#0000ad,#0000ad,#0000ad,#0000ad,#0000ad,#0000ad,#0000ad,#0000ad,#0000ad,#0000ad,#0000ad,#0000ad,#0000ad,#0000ad,#0000ad,#0000ad,#0000ad,#0000ad,#0000ad,#0000ad,#0000ad,#0000ad,#0000ad,#0000ad,#0000ad,#0000ad,#0000ad,#0000ad,#0000ad,#0000ad,#0000ad,#0000ad,#0000ad,#0000ae,#0000ae,#0000ae,#0000ae,#0000ae,#0000ae,#0000ae,#0000ae,#0000ae,#0000ae,#0000ae,#0000ae,#0000ae,#0000ae,#0000ae,#0000ae,#0000ae,#0000ae,#0000ae,#0000ae,#0000ae)"></i>
<i style="background:linear-gradient(90deg,#0000a8,#0000a8,#0000a8,#0000a8,#0000a8,#0000a8,#0000a8,#0000a8,#0000a8,#0000a8,#0000a8,#0000a8,#0000a8,#0000a8,#0000a8,#0000a8,#0000a8,#0000a8,#0000a8,#0000a8,#0000a8,#0000a8,#0000a8,#0000a8,#0000a8,#0000a8,#0000a8,#0000a8,#0000a8,#0000a8,#0000a8,#0000a8,#0000a8,#0000a8,#0000a8,#0000a8,#0000a8,#0000a8,#0000a8,#0000a8,#0000a8,#0000a8,#0000a8,#0000a8,#0000a8,#0000a8,#0000a8,#0000a8,#0000a8,#0000a8,#0000a8,#0000a8,#0000a8,#0000a8,#0000a8,#0000a8,#0000a8,#0000a8,#0000a8,#0000a8,#0000a8,#0000a8,#0000a8,#0000a8,#0000a8,#0000a8,#0000a8,#0000a8,#0000a8,#0000a8,#0000a8,#0000a8,#0000a8,#0000a8,#0000a8,#0000a8)"></i>
<i style="background:linear-gradient(90deg,#0000a3,#0000a3,#0000a3,#0000a3,#0000a3,#0000a3,#0000a3,#0000a3,#0000a3,#0000a3,#0000a3,#0000a3,#0000a3,#0000a3,#0000a3,#0000a3,#0000a3,#0000a3,#0000a3,#0000a3,#0000a3,#0000a3,#0000a3,#0000a3,#0000a3,#0000a3,#0000a3,#0000a3,#0000a3,#0000a3,#0000a3,#0000a3,#0000a3,#0000a3,#0000a3,#0000a3,#0000a3,#0000a3,#0000a3,#0000a3,#0000a3,#0000a3,#0000a3,#0000a3,#0000a3,#0000a3,#0000a3,#0000a3,#0000a3,#0000a3,#0000a3,#0000a3,#0000a3,#0000a3,#0000a3,#0000a3,#0000a3,#0000a3,#0000a3,#0000a3,#0000a3,#0000a3,#0000a3,#0000a3,#0000a3,#0000a3,#0000a3,#0000a3,#0000a3,#0000a3,#0000a3,#0000a3,#0000a3,#0000a3,#0000a3,#0000a3)"></i>
<i style="background:linear-gradient(90deg,#00009f,#00009f,#00009f,#00009f,#00009f,#00009f,#00009f,#00009f,#00009f,#00009f,#00009f,#00009f,#00009f,#00009f,#00009f,#00009f,#00009f,#00009f,#00009f,#00009f,#00009f,#00009f,#00009f,#00009f,#00009f,#00009f,#00009f,#00009f,#00009f,#00009f,#00009f,#00009f,#00009f,#00009f,#00009f,#00009f,#00009f,#00009f,#00009f,#00009f,#00009f,#00009f,#00009f,#00009f,#00009f,#00009f,#00009f,#00009f,#00009f,#00009f,#00009f,#00009f,#00009f,#00009f,#00009f,#00009f,#00009f,#00009f,#00009f,#00009f,#00009f,#00009f,#00009f,#00009f,#00009f,#00009f,#00009f,#00009f,#00009f,#00009f,#00009f,#00009f,#00009f,#00009f,#00009f,#00009f)"></i>
<i style="background:linear-gradient(90deg,#00009b,#00009b,#00009b,#00009b,#00009b,#00009b,#00009b,#00009b,#00009b,#00009b,#00009b,#00009b,#00009b,#00009b,#00009b,#00009b,#00009b,#00009b,#00009b,#00009b,#00009b,#00009b,#00009b,#00009b,#00009b,#00009b,#00009b,#00009b,#00009b,#00009b,#00009b,#00009b,#00009b,#00009b,#00009b,#00009b,#00009b,#00009b,#00009b,#00009b,#00009b,#00009b,#00009b,#00009b,#00009b,#00009b,#00009b,#00009b,#00009b,#00009b,#00009b,#00009b,#00009b,#00009b,#00009b,#00009b,#00009b,#00009b,#00009b,#00009b,#00009b,#00009b,#00009b,#00009b,#00009b,#00009b,#00009b,#00009b,#00009b,#00009b,#00009b,#00009b,#00009b,#00009b,#00009b,#00009b)"></i>
<i style="background:linear-gradient(90deg,#000097,#000097,#000097,#000097,#000097,#000097,#000097,#000097,#000097,#000097,#000097,#000097,#000097,#000097,#000097,#000097,#000097,#000097,#000097,#000097,#000097,#000097,#000097,#000097,#000097,#000097,#000097,#000097,#000097,#000097,#000097,#000097,#000097,#000097,#000097,#000097,#000097,#000097,#000097,#000097,#000097,#000097,#000097,#000097,#000097,#000097,#000097,#000097,#000097,#000097,#000097,#000097,#000097,#000097,#000097,#000097,#000097,#000097,#000097,#000097,#000097,#000097,#000097,#000097,#000097,#000097,#000097,#000097,#000097,#000097,#000097,#000097,#000097,#000097,#000097,#000097)"></i>
<i style="background:linear-gradient(90deg,#000094,#000094,#000094,#000094,#000094,#000094,#000094,#000094,#000094,#000094,#000094,#000094,#000094,#000094,#000094,#000094,#000094,#000094,#000094,#000094,#000094,#000094,#000094,#000094,#000094,#000094,#000094,#000094,#000094,#000094,#000094,#000094,#000094,#000094,#000094,#000094,#000094,#000094,#000094,#000094,#000094,#000094,#000094,#000094,#000094,#000094,#000094,#000094,#000094,#000094,#000094,#000094,#000094,#000094,#000094,#000094,#000094,#000094,#000094,#000094,#000094,#000094,#000094,#000094,#000094,#000094,#000094,#000094,#000094,#000094,#000094,#000094,#000094,#000094,#000094,#000094)"></i>
<i style="background:linear-gradient(90deg,#000092,#000092,#000092,#000092,#000092,#000092,#000092,#000092,#000092,#000092,#000092,#000092,#000092,#000092,#000092,#000092,#000092,#000092,#000092,#000092,#000092,#000092,#000092,#000092,#000092,#000092,#000092,#000092,#000092,#000092,#000092,#000092,#000092,#000092,#000092,#000092,#000092,#000092,#000092,#000092,#000092,#000092,#000092,#000092,#000092,#000092,#000092,#000092,#000092,#000092,#000092,#000092,#000092,#000092,#000092,#000092,#000092,#000092,#000092,#000092,#000092,#000092,#000092,#000092,#000092,#000092,#000092,#000092,#000092,#000092,#000092,#000092,#000092,#000092,#000092,#000092)"></i>
<i style="background:linear-gradient(90deg,#000090,#000090,#000090,#000090,#000090,#000090,#000090,#000090,#000090,#000090,#000090,#000090,#000090,#000090,#000090,#000090,#000090,#000090,#000090,#000090,#000090,#000090,#000090,#000090,#000090,#000090,#000090,#000090,#000090,#000090,#000090,#000090,#000090,#000090,#000090,#000090,#000090,#000090,#000090,#000090,#000090,#000090,#000090,#000090,#000090,#000090,#000090,#000090,#000090,#000090,#000090,#000090,#000090,#000090,#000090,#000090,#000090,#000090,#000090,#000090,#000090,#000090,#000090,#000090,#000090,#000090,#000090,#000090,#000090,#000090,#000090,#000090,#000090,#000090,#000090,#000090)"></i>
<i style="background:linear-gradient(90deg,#00008f,#00008f,#00008f,#00008f,#00008f,#00008f,#00008f,#00008f,#00008f,#00008f,#00008f,#00008f,#00008f,#00008f,#00008f,#00008f,#00008f,#00008f,#00008f,#00008f,#00008f,#00008f,#00008f,#00008f,#00008f,#00008f,#00008f,#00008f,#00008f,#00008f,#00008f,#00008f,#00008f,#00008f,#00008f,#00008f,#00008f,#00008f,#00008f,#00008f,#00008f,#00008f,#00008f,#00008f,#00008f,#00008f,#00008f,#00008f,#00008f,#00008f,#00008f,#00008f,#00008f,#00008f,#00008f,#00008f,#00008f,#00008f,#00008f,#00008f,#00008f,#00008f,#00008f,#00008f,#00008f,#00008f,#00008f,#00008f,#00008f,#00008f,#00008f,#00008f,#00008f,#00008f,#00008f,#00008f)"></i>
<i style="background:linear-gradient(90deg,#00008d,#00008d,#00008d,#00008d,#00008d,#00008d,#00008d,#00008d,#00008d,#00008d,#00008d,#00008d,#00008d,#00008d,#00008d,#00008d,#00008d,#00008d,#00008d,#00008d,#00008d,#00008d,#00008d,#00008d,#00008d,#00008d,#00008d,#00008d,#00008d,#00008d,#00008d,#00008d,#00008d,#00008d,#00008d,#00008d,#00008d,#00008d,#00008d,#00008d,#00008d,#00008d,#00008d,#00008d,#00008d,#00008d,#00008d,#00008d,#00008d,#00008d,#00008d,#00008d,#00008d,#00008d,#00008d,#00008d,#00008d,#00008d,#00008d,#00008d,#00008d,#00008d,#00008d,#00008d,#00008d,#00008d,#00008d,#00008d,#00008d,#00008d,#00008d,#00008d,#00008d,#00008d,#00008d,#00008d)"></i>
<i style="background:linear-gradient(90deg,#00008c,#00008c,#00008c,#00008c,#00008c,#00008c,#00008c,#00008c,#00008c,#00008c,#00008c,#00008c,#00008c,#00008c,#00008c,#00008c,#00008c,#00008c,#00008c,#00008c,#00008c,#00008c,#00008c,#00008c,#00008c,#00008c,#00008c,#00008c,#00008c,#00008c,#00008c,#00008c,#00008c,#00008c,#00008c,#00008c,#00008c,#00008c,#00008c,#00008c,#00008c,#00008c,#00008c,#00008c,#00008c,#00008c,#00008c,#00008c,#00008c,#00008c,#00008c,#00008c,#00008c,#00008c,#00008c,#00008c,#00008c,#00008c,#00008c,#00008c,#00008c,#00008c,#00008c,#00008c,#00008c,#00008c,#00008c,#00008c,#00008c,#00008c,#00008c,#00008c,#00008c,#00008c,#00008c,#00008c)"></i>
<i style="background:linear-gradient(90deg,#00008b,#00008b,#00008b,#00008b,#00008b,#00008b,#00008b,#00008b,#00008b,#00008b,#00008b,#00008b,#00008b,#00008b,#00008b,#00008b,#00008b,#00008b,#00008b,#00008b,#00008b,#00008b,#00008b,#00008b,#00008b,#00008b,#00008b,#00008b,#00008b,#00008b,#00008b,#00008b,#00008b,#00008b,#00008b,#00008b,#00008b,#00008b,#00008b,#00008b,#00008b,#00008b,#00008b,#00008b,#00008b,#00008b,#00008b,#00008b,#00008b,#00008b,#00008b,#00008b,#00008b,#00008b,#00008b,#00008b,#00008b,#00008b,#00008b,#00008b,#00008b,#00008b,#00008b,#00008b,#00008b,#00008b,#00008b,#00008b,#00008b,#00008b,#00008b,#00008b,#00008b,#00008b,#00008b,#00008b)"></i>
<i style="background:linear-gradient(90deg,#00008a,#00008a,#00008a,#00008a,#00008a,#00008a,#00008a,#00008a,#00008a,#00008a,#00008a,#00008a,#00008a,#00008a,#00008a,#00008a,#00008a,#00008a,#00008a,#00008a,#00008a,#00008a,#00008a,#00008a,#00008a,#00008a,#00008a,#00008a,#00008a,#00008a,#00008a,#00008a,#00008a,#00008a,#00008a,#00008a,#00008a,#00008a,#00008a,#00008a,#00008a,#00008a,#00008a,#00008a,#00008a,#00008a,#00008a,#00008a,#00008a,#00008a,#00008a,#00008a,#00008a,#00008a,#00008a,#00008a,#00008a,#00008a,#00008a,#00008a,#00008a,#00008a,#00008a,#00008a,#00008a,#00008a,#00008a,#00008a,#00008a,#00008a,#00008a,#00008a,#00008a,#00008a,#00008a,#00008a)"></i>
<i style="background:linear-gradient(90deg,#00008a,#00008a,#00008a,#00008a,#00008a,#00008a,#00008a,#00008a,#00008a,#00008a,#00008a,#00008a,#00008a,#00008a,#00008a,#00008a,#00008a,#00008a,#00008a,#00008a,#00008a,#00008a,#00008a,#00008a,#00008a,#00008a,#00008a,#00008a,#00008a,#00008a,#00008a,#00008a,#00008a,#00008a,#00008a,#00008a,#00008a,#00008a,#00008a,#00008a,#00008a,#00008a,#00008a,#00008a,#00008a,#00008a,#00008a,#00008a,#00008a,#00008a,#00008a,#00008a,#00008a,#00008a,#00008a,#00008a,#00008a,#00008a,#00008a,#00008a,#00008a,#00008a,#00008a,#00008a,#00008a,#00008a,#00008a,#00008a,#00008a,#00008a,#00008a,#00008a,#00008a,#00008a,#00008a,#00008a)"></i>
<i style="background:linear-gradient(90deg,#00008a,#00008a,#00008a,#00008a,#00008a,#00008a,#00008a,#00008a,#00008a,#00008a,#00008a,#00008a,#00008a,#00008a,#00008a,#00008a,#00008a,#00008a,#00008a,#00008a,#00008a,#00008a,#00008a,#00008a,#00008a,#00008a,#00008a,#00008a,#00008a,#00008a,#00008a,#00008a,#00008a,#00008a,#00008a,#00008a,#00008a,#00008a,#00008a,#00008a,#00008a,#00008a,#00008a,#00008a,#00008a,#00008a,#00008a,#00008a,#00008a,#00008a,#00008a,#00008a,#00008a,#00008a,#00008a,#00008a,#00008a,#00008a,#00008a,#00008a,#00008a,#00008a,#00008a,#00008a,#00008a,#00008a,#00008a,#00008a,#00008a,#00008a,#00008a,#00008a,#00008a,#00008a,#00008a,#00008a)"></i>
<i style="background:linear-gradient(90deg,#00008a,#00008a,#00008a,#00008a,#00008a,#00008a,#00008a,#00008a,#00008a,#00008a,#00008a,#00008a,#00008a,#00008a,#00008a,#00008a,#00008a,#00008a,#00008a,#00008a,#00008a,#00008a,#00008a,#00008a,#00008a,#00008a,#00008a,#00008a,#00008a,#00008a,#00008a,#00008a,#00008a,#00008a,#00008a,#00008a,#00008a,#00008a,#00008a,#00008a,#00008a,#00008a,#00008a,#00008a,#00008a,#00008a,#00008a,#00008a,#00008a,#00008a,#00008a,#00008a,#00008a,#00008a,#00008a,#00008a,#00008a,#00008a,#00008a,#00008a,#00008a,#00008a,#00008a,#00008a,#00008a,#00008a,#00008a,#00008a,#00008a,#00008a,#00008a,#00008a,#00008a,#00008a,#00008a,#00008a)"></i>
<i style="background:linear-gradient(90deg,#00008a,#00008a,#00008a,#00008a,#00008a,#00008a,#00008a,#00008a,#00008a,#00008a,#00008a,#00008a,#00008a,#00008a,#00008a,#00008a,#00008a,#00008a,#00008a,#00008a,#00008a,#00008a,#00008a,#00008a,#00008a,#00008a,#00008a,#00008a,#00008a,#00008a,#00008a,#00008a,#00008a,#00008a,#00008a,#00008a,#00008a,#00008a,#00008a,#00008a,#00008a,#00008a,#00008a,#00008a,#00008a,#00008a,#00008a,#00008a,#00008a,#00008a,#00008a,#00008a,#00008a,#00008a,#00008a,#00008a,#00008a,#00008a,#00008a,#00008a,#00008a,#00008a,#00008a,#00008a,#00008a,#00008a,#00008a,#00008a,#00008a,#00008a,#00008a,#00008a,#00008a,#00008a,#00008a,#00008a)"></i>
</div></div>
<svg width="656" height="968" viewBox="0 0 656 968">
<defs><filter id="vb" x="0" y="0" width="100%" height="100%" color-interpolation-filters="sRGB"><feGaussianBlur stdDeviation="0 1.1"/></filter></defs>
<g stroke="#000" stroke-width="1.15" fill="none">
<path d="M50.1 7.6H506.5"/>
<path d="M55.5 7.0V263.5"/>
<path d="M52.2 258.9H506.5"/>
<path d="M52.7 248.4H55.5M52.7 238.0H55.5M52.7 227.5H55.5M50.1 217.0H55.5M52.7 206.5H55.5M52.7 196.1H55.5M52.7 185.6H55.5M52.7 175.1H55.5M50.1 164.7H55.5M52.7 154.2H55.5M52.7 143.7H55.5M52.7 133.2H55.5M52.7 122.8H55.5M50.1 112.3H55.5M52.7 101.8H55.5M52.7 91.4H55.5M52.7 80.9H55.5M52.7 70.4H55.5M50.1 60.0H55.5M52.7 49.5H55.5M52.7 39.0H55.5M52.7 28.5H55.5M52.7 18.1H55.5"/>
<path d="M93.0 258.9V261.5M130.6 258.9V261.5M168.1 258.9V263.5M205.7 258.9V261.5M243.2 258.9V261.5M280.8 258.9V263.5M318.3 258.9V261.5M355.8 258.9V261.5M393.4 258.9V263.5M430.9 258.9V261.5M468.5 258.9V261.5M506.0 258.9V263.5"/>
</g>
<g stroke="#000" stroke-width="1.15" fill="none">
<path d="M506.0 7.6V258.9M506.0 258.9H509.0M506.0 248.4H509.0M506.0 238.0H509.0M506.0 227.5H509.0M506.0 217.0H511.2M506.0 206.5H509.0M506.0 196.1H509.0M506.0 185.6H509.0M506.0 175.1H509.0M506.0 164.7H511.2M506.0 154.2H509.0M506.0 143.7H509.0M506.0 133.2H509.0M506.0 122.8H509.0M506.0 112.3H511.2M506.0 101.8H509.0M506.0 91.4H509.0M506.0 80.9H509.0M506.0 70.4H509.0M506.0 60.0H511.2M506.0 49.5H509.0M506.0 39.0H509.0M506.0 28.5H509.0M506.0 18.1H509.0M506.0 7.6H511.2"/>
</g>
<text class="tk" x="45.8" y="223.2" text-anchor="end">1</text>
<text class="tk" x="45.8" y="170.9" text-anchor="end">2</text>
<text class="tk" x="45.8" y="118.5" text-anchor="end">3</text>
<text class="tk" x="45.8" y="66.2" text-anchor="end">4</text>
<text class="tk" x="45.8" y="12.6" text-anchor="end">5</text>
<text class="tk" x="55.0" y="281.8" text-anchor="middle">0</text>
<text class="tk" x="167.6" y="281.8" text-anchor="middle">3</text>
<text class="tk" x="280.2" y="281.8" text-anchor="middle">6</text>
<text class="tk" x="392.9" y="281.8" text-anchor="middle">9</text>
<text class="tk" x="505.5" y="281.8" text-anchor="middle">12</text>
<text class="ti" x="251.3" y="309.6"><tspan font-style="italic">k</tspan> / <tspan class="se">Å</tspan><tspan style="font-size:12.6px" dy="-8.8" dx="0.8">-1</tspan></text>
<text class="ti" style="font-size:23.2px;word-spacing:-1.3px" transform="translate(19.6 150.8) rotate(-90)"><tspan font-style="italic">R</tspan> / <tspan class="se">Å</tspan></text>
<text class="pl" x="3.2" y="17.6">a</text>
<text class="an" x="75.0" y="45.9" textLength="68.0" style="fill:#fff">ASWs</text>
<path d="M542.3 7.8C540.0 8.9 532.4 11.8 528.5 14.7C524.6 17.6 519.4 21.7 519.0 25.0C518.6 28.3 522.2 31.7 526.2 34.5C530.2 37.3 538.8 38.8 542.8 41.6C546.8 44.4 549.6 47.7 550.4 51.1C551.2 54.5 550.0 59.3 547.6 62.3C545.2 65.3 539.8 67.0 535.7 69.0C531.6 71.0 523.0 72.4 523.0 74.2C523.0 76.0 527.7 77.5 535.7 79.7C543.8 81.9 558.2 84.9 571.3 87.3C584.4 89.7 603.8 92.2 614.1 93.9C624.4 95.6 629.1 96.3 633.2 97.5C637.3 98.7 639.0 99.8 638.6 101.1C638.2 102.4 635.3 103.6 630.8 105.1C626.3 106.6 620.3 108.5 611.8 110.0C603.3 111.5 589.3 112.8 580.0 114.0C570.7 115.2 556.7 116.1 555.9 117.1C555.1 118.1 568.5 119.0 575.0 120.0C581.5 121.0 588.2 121.8 595.1 123.1C602.0 124.4 612.2 126.2 616.5 127.8C620.8 129.4 621.2 131.0 620.8 132.6C620.4 134.2 620.4 135.7 614.1 137.3C607.8 138.9 592.7 140.5 583.2 142.1C573.7 143.7 563.8 145.3 557.1 146.9C550.4 148.5 548.3 150.0 542.8 151.6C537.2 153.2 523.0 154.8 523.8 156.4C524.6 158.0 535.7 158.7 547.6 161.1C559.5 163.5 582.8 168.0 595.1 170.6C607.4 173.2 615.4 174.6 621.3 176.6C627.2 178.6 629.9 180.7 630.3 182.5C630.7 184.3 629.6 185.7 623.7 187.3C617.8 188.9 603.8 190.6 595.1 192.0C586.4 193.4 576.9 194.4 571.3 195.6C565.7 196.8 562.0 197.8 561.4 199.2C560.8 200.6 566.5 202.5 567.8 203.9C569.1 205.3 570.4 206.1 569.0 207.5C567.6 208.9 565.0 210.2 559.5 212.3C554.0 214.4 540.5 217.5 535.7 219.9C530.9 222.3 532.0 222.6 530.9 226.5C529.8 230.4 529.6 237.6 529.0 243.2C528.4 248.8 527.6 257.0 527.3 259.8" fill="none" stroke="#000" stroke-width="2.4" stroke-linejoin="round" stroke-linecap="butt"/>
<path d="M588.7 143.6L583.2 171.0L594.2 171.0Z" fill="#000"/>
<path d="M588.7 193.6V214.6" stroke="#000" stroke-width="3.4"/>
<text class="an" x="594.0" y="245.0" textLength="71.0" text-anchor="middle">Ag-Ag</text>
<g stroke="#000" stroke-width="1.15" fill="none">
<path d="M50.1 334.9H506.5"/>
<path d="M55.5 334.3V590.8"/>
<path d="M52.2 586.2H506.5"/>
<path d="M52.7 575.7H55.5M52.7 565.3H55.5M52.7 554.8H55.5M50.1 544.3H55.5M52.7 533.8H55.5M52.7 523.4H55.5M52.7 512.9H55.5M52.7 502.4H55.5M50.1 492.0H55.5M52.7 481.5H55.5M52.7 471.0H55.5M52.7 460.5H55.5M52.7 450.1H55.5M50.1 439.6H55.5M52.7 429.1H55.5M52.7 418.7H55.5M52.7 408.2H55.5M52.7 397.7H55.5M50.1 387.3H55.5M52.7 376.8H55.5M52.7 366.3H55.5M52.7 355.8H55.5M52.7 345.4H55.5"/>
<path d="M93.0 586.2V588.8M130.6 586.2V588.8M168.1 586.2V590.8M205.7 586.2V588.8M243.2 586.2V588.8M280.8 586.2V590.8M318.3 586.2V588.8M355.8 586.2V588.8M393.4 586.2V590.8M430.9 586.2V588.8M468.5 586.2V588.8M506.0 586.2V590.8"/>
</g>
<g stroke="#000" stroke-width="1.15" fill="none">
<path d="M506.0 334.9V586.2M506.0 586.2H509.0M506.0 575.7H509.0M506.0 565.3H509.0M506.0 554.8H509.0M506.0 544.3H511.2M506.0 533.8H509.0M506.0 523.4H509.0M506.0 512.9H509.0M506.0 502.4H509.0M506.0 492.0H511.2M506.0 481.5H509.0M506.0 471.0H509.0M506.0 460.5H509.0M506.0 450.1H509.0M506.0 439.6H511.2M506.0 429.1H509.0M506.0 418.7H509.0M506.0 408.2H509.0M506.0 397.7H509.0M506.0 387.3H511.2M506.0 376.8H509.0M506.0 366.3H509.0M506.0 355.8H509.0M506.0 345.4H509.0M506.0 334.9H511.2"/>
</g>
<text class="tk" x="45.8" y="550.5" text-anchor="end">1</text>
<text class="tk" x="45.8" y="498.2" text-anchor="end">2</text>
<text class="tk" x="45.8" y="445.8" text-anchor="end">3</text>
<text class="tk" x="45.8" y="393.5" text-anchor="end">4</text>
<text class="tk" x="45.8" y="339.9" text-anchor="end">5</text>
<text class="tk" x="55.0" y="609.1" text-anchor="middle">0</text>
<text class="tk" x="167.6" y="609.1" text-anchor="middle">3</text>
<text class="tk" x="280.2" y="609.1" text-anchor="middle">6</text>
<text class="tk" x="392.9" y="609.1" text-anchor="middle">9</text>
<text class="tk" x="505.5" y="609.1" text-anchor="middle">12</text>
<text class="ti" x="251.3" y="636.9"><tspan font-style="italic">k</tspan> / <tspan class="se">Å</tspan><tspan style="font-size:12.6px" dy="-8.8" dx="0.8">-1</tspan></text>
<text class="ti" style="font-size:23.2px;word-spacing:-1.3px" transform="translate(19.6 478.1) rotate(-90)"><tspan font-style="italic">R</tspan> / <tspan class="se">Å</tspan></text>
<text class="pl" x="3.2" y="345.4">b</text>
<text class="an" x="75.0" y="376.2" textLength="74.6" style="fill:#fff">Ag foil</text>
<path d="M529.7 334.0C531.3 334.5 536.7 335.2 539.2 336.9C541.7 338.6 544.3 341.6 544.5 344.0C544.7 346.4 542.7 349.0 540.4 351.2C538.1 353.4 533.3 355.2 530.9 357.1C528.5 359.0 525.7 360.8 525.7 362.6C525.7 364.4 529.5 365.9 530.9 367.8C532.2 369.7 534.2 371.4 533.8 373.8C533.4 376.2 528.6 379.5 528.5 382.1C528.4 384.7 532.3 387.2 533.3 389.2C534.3 391.2 534.9 391.6 534.5 394.0C534.1 396.4 531.1 400.5 530.9 403.5C530.7 406.5 532.6 409.4 533.3 411.8C534.0 414.2 535.4 415.7 535.0 417.7C534.6 419.7 532.4 422.0 530.9 423.7C529.4 425.4 525.8 426.3 526.2 427.7C526.6 429.1 531.4 430.6 533.3 432.0C535.2 433.4 538.0 434.7 537.6 436.3C537.2 437.9 529.2 440.1 530.9 441.5C532.6 442.9 536.9 443.1 547.6 444.7C558.3 446.2 580.8 448.9 595.1 450.8C609.4 452.7 624.5 454.8 633.2 456.2C641.9 457.6 644.4 458.1 647.4 459.0C650.4 459.9 651.8 460.4 651.0 461.4C650.2 462.4 648.9 463.6 642.7 465.0C636.6 466.4 623.6 468.2 614.1 469.7C604.6 471.2 592.0 472.5 585.6 473.8C579.2 475.1 577.0 476.0 575.6 477.3C574.2 478.6 577.0 480.4 577.3 481.6C577.6 482.8 578.7 483.5 577.3 484.7C575.9 485.9 574.0 487.2 569.0 488.8C564.0 490.4 553.6 492.6 547.6 494.2C541.6 495.8 536.2 497.2 533.3 498.3C530.4 499.4 530.2 499.6 530.4 500.6C530.6 501.6 533.5 503.0 534.5 504.2C535.5 505.4 536.5 506.2 536.1 507.8C535.7 509.4 534.2 511.7 532.1 513.7C530.0 515.7 525.5 518.4 523.8 519.7C522.1 521.0 521.7 520.5 521.9 521.3C522.1 522.1 524.2 523.1 525.0 524.4C525.8 525.7 526.8 527.0 526.6 529.2C526.4 531.4 524.4 535.5 523.8 537.5C523.2 539.5 523.0 539.5 523.1 541.1C523.2 542.7 524.4 544.0 524.5 547.0C524.6 550.0 524.0 554.9 523.8 558.9C523.6 562.9 523.1 567.6 523.1 570.8C523.1 574.0 523.8 575.3 523.8 577.9C523.8 580.5 523.2 584.9 523.1 586.3" fill="none" stroke="#000" stroke-width="2.4" stroke-linejoin="round" stroke-linecap="butt"/>
<path d="M589.2 487.6L582.1 522.0L596.3 522.0Z" fill="#000"/>
<path d="M589.2 521.0V538.0" stroke="#000" stroke-width="3.3"/>
<text class="an" x="595.5" y="570.3" textLength="70.6" text-anchor="middle">Ag-Ag</text>
<rect x="57.6" y="665.1" width="448.2" height="1.9" fill="#8c8ce6"/>
<g stroke="#000" stroke-width="1.15" fill="none">
<path d="M50.1 664.6H506.5"/>
<path d="M55.5 664.0V921.5"/>
<path d="M52.2 916.9H506.5"/>
<path d="M52.7 906.4H55.5M52.7 895.9H55.5M52.7 885.4H55.5M50.1 874.9H55.5M52.7 864.3H55.5M52.7 853.8H55.5M52.7 843.3H55.5M52.7 832.8H55.5M50.1 822.3H55.5M52.7 811.8H55.5M52.7 801.3H55.5M52.7 790.8H55.5M52.7 780.2H55.5M50.1 769.7H55.5M52.7 759.2H55.5M52.7 748.7H55.5M52.7 738.2H55.5M52.7 727.7H55.5M50.1 717.2H55.5M52.7 706.6H55.5M52.7 696.1H55.5M52.7 685.6H55.5M52.7 675.1H55.5"/>
<path d="M93.0 916.9V919.5M130.6 916.9V919.5M168.1 916.9V921.5M205.7 916.9V919.5M243.2 916.9V919.5M280.8 916.9V921.5M318.3 916.9V919.5M355.8 916.9V919.5M393.4 916.9V921.5M430.9 916.9V919.5M468.5 916.9V919.5M506.0 916.9V921.5"/>
</g>
<g stroke="#000" stroke-width="1.15" fill="none">
<path d="M506.0 664.6V916.9M506.0 916.9H509.0M506.0 906.4H509.0M506.0 895.9H509.0M506.0 885.4H509.0M506.0 874.9H511.2M506.0 864.3H509.0M506.0 853.8H509.0M506.0 843.3H509.0M506.0 832.8H509.0M506.0 822.3H511.2M506.0 811.8H509.0M506.0 801.3H509.0M506.0 790.8H509.0M506.0 780.2H509.0M506.0 769.7H511.2M506.0 759.2H509.0M506.0 748.7H509.0M506.0 738.2H509.0M506.0 727.7H509.0M506.0 717.2H511.2M506.0 706.6H509.0M506.0 696.1H509.0M506.0 685.6H509.0M506.0 675.1H509.0M506.0 664.6H511.2"/>
</g>
<text class="tk" x="45.8" y="881.1" text-anchor="end">1</text>
<text class="tk" x="45.8" y="828.5" text-anchor="end">2</text>
<text class="tk" x="45.8" y="775.9" text-anchor="end">3</text>
<text class="tk" x="45.8" y="723.4" text-anchor="end">4</text>
<text class="tk" x="45.8" y="669.6" text-anchor="end">5</text>
<text class="tk" x="55.0" y="939.8" text-anchor="middle">0</text>
<text class="tk" x="167.6" y="939.8" text-anchor="middle">3</text>
<text class="tk" x="280.2" y="939.8" text-anchor="middle">6</text>
<text class="tk" x="392.9" y="939.8" text-anchor="middle">9</text>
<text class="tk" x="505.5" y="939.8" text-anchor="middle">12</text>
<text class="ti" x="251.3" y="967.6"><tspan font-style="italic">k</tspan> / <tspan class="se">Å</tspan><tspan style="font-size:12.6px" dy="-8.8" dx="0.8">-1</tspan></text>
<text class="ti" style="font-size:23.2px;word-spacing:-1.3px" transform="translate(19.6 808.2) rotate(-90)"><tspan font-style="italic">R</tspan> / <tspan class="se">Å</tspan></text>
<text class="pl" x="3.2" y="675.4">c</text>
<text class="an" x="75.0" y="704.8" textLength="59.3" style="fill:#fff">Ag<tspan style="font-size:15.6px" dy="4.9">2</tspan><tspan dy="-4.9">O</tspan></text>
<path d="M522.6 662.6C523.4 663.3 526.1 664.8 527.3 666.9C528.5 669.0 529.7 672.6 529.7 675.2C529.7 677.8 528.5 679.9 527.3 682.3C526.1 684.7 523.9 687.1 522.6 689.5C521.3 691.9 519.9 694.0 519.7 696.6C519.5 699.2 521.7 702.2 521.4 704.9C521.1 707.5 517.4 710.4 517.8 712.5C518.2 714.6 521.4 715.2 523.8 717.3C526.2 719.4 530.4 723.0 532.1 725.2C533.8 727.4 534.4 728.8 534.0 730.6C533.6 732.4 531.7 734.1 529.7 735.9C527.7 737.7 521.7 739.7 521.9 741.3C522.1 742.9 526.6 743.8 530.9 745.4C535.2 747.0 543.0 748.8 547.6 750.6C552.2 752.4 556.1 754.5 558.3 756.1C560.5 757.7 560.8 758.6 560.6 760.1C560.4 761.6 560.1 763.0 557.1 764.9C554.1 766.8 547.6 769.6 542.8 771.5C538.0 773.4 532.0 774.9 528.5 776.3C525.0 777.7 521.7 778.2 521.9 779.9C522.1 781.6 528.0 784.5 529.7 786.6C531.4 788.7 532.7 790.4 532.1 792.6C531.5 794.8 528.5 797.8 526.2 799.7C523.9 801.6 517.7 802.4 518.5 804.0C519.3 805.6 527.2 807.3 530.9 809.2C534.5 811.1 538.4 813.2 540.4 815.2C542.4 817.2 540.4 819.3 542.8 821.1C545.2 822.9 546.0 824.0 554.7 825.9C563.4 827.8 582.0 830.1 595.1 832.3C608.2 834.5 624.1 837.1 633.2 839.0C642.3 840.9 646.4 842.3 649.8 843.7C653.2 845.1 654.6 845.9 653.4 847.3C652.2 848.7 650.4 850.2 642.7 852.0C635.0 853.8 620.9 856.0 607.0 858.0C593.1 860.0 572.2 862.3 559.5 863.9C546.8 865.5 536.4 866.5 530.9 867.5C525.4 868.5 526.8 868.7 526.6 869.9C526.4 871.1 529.1 873.2 529.7 874.6C530.3 876.0 531.0 876.8 530.4 878.2C529.8 879.6 528.1 881.3 526.2 883.0C524.3 884.7 520.4 886.9 519.0 888.2C517.6 889.5 517.5 889.5 517.8 890.6C518.1 891.7 520.4 892.8 520.7 894.9C521.0 897.0 520.2 901.1 519.5 903.2C518.8 905.3 516.8 905.9 516.6 907.5C516.4 909.1 518.3 911.1 518.5 912.7C518.7 914.4 517.9 916.6 517.8 917.4" fill="none" stroke="#000" stroke-width="2.4" stroke-linejoin="round" stroke-linecap="butt"/>
<path d="M588.5 864.4L581.5 898.4L595.5 898.4Z" fill="#000"/>
<path d="M588.5 897.5V908.2" stroke="#000" stroke-width="3.3"/>
<text class="an" x="588.3" y="932.8" textLength="57.2" text-anchor="middle">Ag-O</text>
</svg>
</body></html>
